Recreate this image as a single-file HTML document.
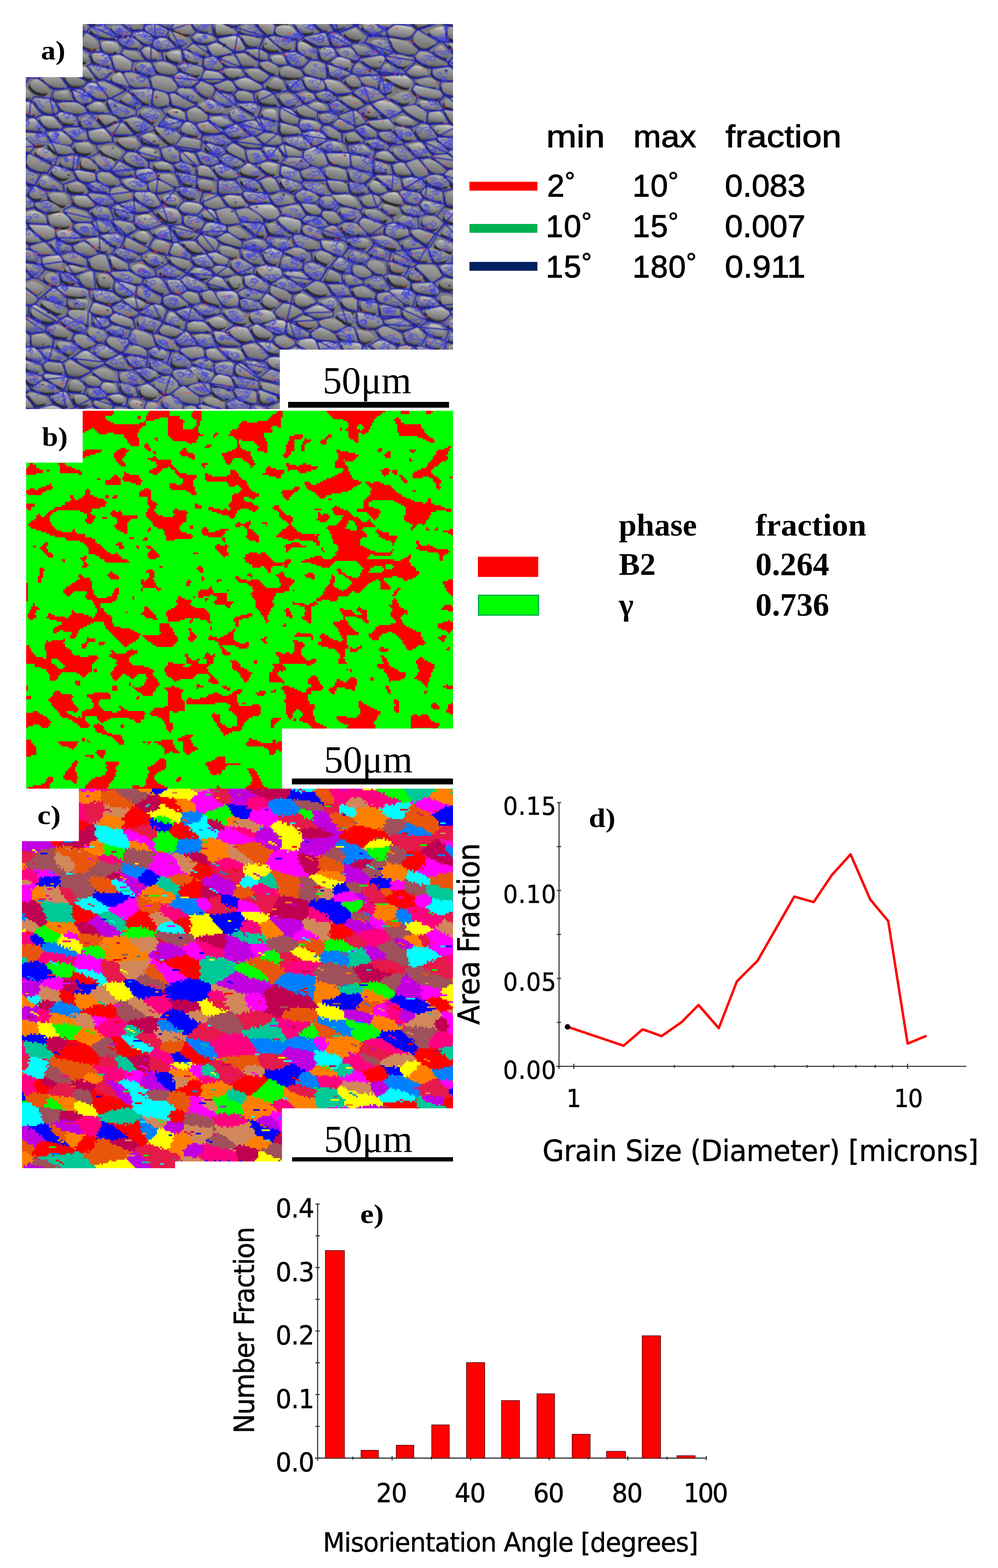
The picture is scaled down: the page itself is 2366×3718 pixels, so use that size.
<!DOCTYPE html>
<html lang="en"><head><meta charset="utf-8"><title>Figure</title><style>html,body{margin:0;padding:0;background:#fff}svg{display:block}</style></head><body>
<svg width="2366" height="3718" viewBox="0 0 2366 3718">
<rect width="2366" height="3718" fill="#fff"/>
<defs><linearGradient id="ga" x1="0.6" y1="0" x2="0.4" y2="1"><stop offset="0" stop-color="#d4d4d4"/><stop offset="0.3" stop-color="#a2a2a2"/><stop offset="0.75" stop-color="#808080"/><stop offset="1" stop-color="#565656"/></linearGradient><linearGradient id="ga2" x1="0.6" y1="0" x2="0.4" y2="1"><stop offset="0" stop-color="#b8b8b8"/><stop offset="0.35" stop-color="#919191"/><stop offset="0.8" stop-color="#757575"/><stop offset="1" stop-color="#4d4d4d"/></linearGradient><linearGradient id="ga3" x1="0.6" y1="0" x2="0.4" y2="1"><stop offset="0" stop-color="#a5a5a5"/><stop offset="0.5" stop-color="#8d8d8d"/><stop offset="1" stop-color="#6d6d6d"/></linearGradient></defs>
<clipPath id="clipa"><rect x="61" y="57" width="1013" height="913"/></clipPath><filter id="bla" x="-2%" y="-2%" width="104%" height="104%"><feGaussianBlur stdDeviation="1.1"/></filter><g clip-path="url(#clipa)"><g filter="url(#bla)"><rect x="41" y="37" width="1053" height="953" fill="#78787e"/><defs><g id="aga"><path d="M623 866q-6-7-19-9q-13-2-18 1q-5 4 9 16q15 13 25 6q9-7 3-14z"/><path d="M507 897q8-11 24-8q15 4 20 16q6 12 2 16q-3 3-26-3q-24-6-26-8q-3-2 6-13z"/><path d="M638 863q-7-8-1-12q6-4 22-4q17 1 22 4q6 4 5 13q-1 10-10 12q-9 2-20-1q-11-4-18-12z"/><path d="M734 926q-2-10-27-13q-25-3-27-2q-2 1 1 15q4 13 18 16q15 2 25-2q11-4 10-14z"/><path d="M695 1001q-6-6-21-7q-15 0-17 4q-2 5 5 13q7 9 20 11q14 1 16-7q3-8-3-14z"/><path d="M506 883q-2-1-26-8q-23-6-27-3q-4 3 10 17q13 14 21 16q8 2 16-9q8-11 6-13z"/><path d="M575 851q-5 4-10 4q-6 0-11-2q-6-2-17-14q-12-12-12-12q0 0 22 0q22 0 28 10q6 10 0 14z"/><path d="M592 877q17 15 17 17q1 2-1 3q-1 2-27-3q-25-5-22-18q3-13 9-13q6 0 24 14z"/><path d="M544 979q1-1 19 3q19 4 24 9q5 6 3 9q-3 4-14 5q-11 0-22-8q-11-8-11-13q0-5 1-5z"/><path d="M544 1021q15 2 18-6q2-8-13-19q-15-10-30-6q-16 4-3 17q12 12 28 14z"/><path d="M789 909q-1-15 23-10q25 5 27 7q2 2 0 16q-3 14-19 13q-17-1-24-6q-7-5-7-20z"/><path d="M509 787q2-2 13-1q11 1 30 15q19 14 19 16q-1 2-28 2q-26-1-31-15q-5-15-3-17z"/><path d="M501 770q7 8 16 9q9 1 18-5q10-5-2-15q-11-10-25-6q-15 5-15 7q0 1 8 10z"/><path d="M845 972q-11 6-30-6q-19-12-15-21q4-9 20-8q16 1 22 5q6 3 10 13q4 10-7 17z"/><path d="M340 914q-10 3-7 13q2 9 9 12q7 4 16 4q9 1 16-6q6-6-8-16q-14-9-15-9q-1-1-11 2z"/><path d="M629 813q13 1 24 8q11 7 12 13q1 5-13 4q-13 0-25-12q-11-12-11-13q0 0 13 0z"/><path d="M358 836q-1-7 6-9q8-3 21 2q13 5 9 15q-3 10-19 5q-17-5-17-13z"/><path d="M501 785q2-2-7-12q-10-10-28-11q-17 0-20 10q-2 11-2 12q1 0 5 2q4 1 27 1q23 0 25-2z"/><path d="M595 790q-8-14-22-16q-13-2-24 4q-12 7 7 21q19 14 33 10q15-4 15-4q0 0-9-15z"/><path d="M624 956q-8-3-8-16q-1-13 1-14q2-1 26 8q23 9 6 17q-17 8-25 5z"/><path d="M731 791q2 5-15 8q-16 3-27-4q-11-6-8-18q2-12 4-12q3 0 24 11q21 11 22 15z"/><path d="M851 996q-15-11-25-6q-11 5 1 15q11 11 17 12q5 1 13-2q7-2 8-5q1-3-14-14z"/><path d="M610 770q3 0 20 9q18 10 14 17q-5 7-19 6q-15 0-23-13q-7-12-1-16q6-4 9-3z"/><path d="M518 709q12 18 28 18q15 0 18-12q2-11-2-16q-4-5-8-7q-5-2-26-2q-21 1-10 19z"/><path d="M870 943q-17 0-22-3q-6-3-4-16q2-12 19-9q17 4 24 11q8 8 4 13q-4 4-21 4z"/><path d="M607 768q3 0 27-6q24-7 18-14q-6-8-16-11q-9-3-29 1q-19 5-12 17q8 12 12 13z"/><path d="M432 768q-2 9-21 2q-19-7-19-8q-1 0 4-11q5-11 10-10q5 1 17 10q12 8 9 17z"/><path d="M243 820q4 0 20 9q15 9 0 17q-14 8-29-3q-15-10-6-17q10-7 15-6z"/><path d="M259 908q14 2 16 12q2 11-10 12q-12 2-20-5q-8-7-3-14q4-7 17-5z"/><path d="M906 954q-9-9-5-15q4-5 26-3q21 2 26 14q5 11-16 12q-21 1-31-8z"/><path d="M308 957q-2 7 5 11q6 4 13 4q7 1 10-8q3-9-3-12q-7-3-15-3q-9 0-10 8z"/><path d="M775 811q24 2 28 14q3 11 2 12q-2 1-23-1q-22-2-26-15q-5-12 19-10z"/><path d="M801 992q-4-1-18 6q-14 7-13 10q0 3 20 11q21 9 32 5q11-4-3-18q-15-13-18-14z"/><path d="M310 725q16 12 29 4q13-8-4-16q-17-8-29-6q-11 2-11 5q0 2 15 13z"/><path d="M498 851q-9-5-9-14q-1-9 11-10q11-2 24 12q13 13-2 15q-15 2-24-3z"/><path d="M587 651q-11 2-8 15q3 13 25 19q23 6 23 6q1 0 5-9q5-10-15-21q-19-12-30-10z"/><path d="M228 846q18 12 19 14q0 3-15 9q-16 7-37-6q-22-12-9-22q13-9 19-9q5 1 23 14z"/><path d="M264 733q-4-6-23-12q-19-6-24 5q-5 10-1 14q4 3 21 7q17 5 24-2q7-7 3-12z"/><path d="M678 778q3-13-6-17q-9-4-32 2q-24 7-3 18q21 11 29 11q9-1 12-14z"/><path d="M624 720q6 7 14 10q8 3 18-6q9-8-7-18q-16-9-16-9q0 0-7 8q-7 9-2 15z"/><path d="M441 786q-4-2-16 8q-11 9-4 18q6 9 26 7q19-2 9-17q-10-14-15-16z"/><path d="M854 816q4 2 1 15q-4 13-21 8q-18-5-21-16q-4-11-3-11q0-1 20 0q20 1 24 4z"/><path d="M663 636q4 2 6 9q2 6-11 15q-13 9-14 9q0 0-18-11q-17-11-16-18q2-7 13-9q12-2 24 0q13 3 16 5z"/><path d="M481 631q16 4 21-1q6-5-3-17q-9-11-23-9q-14 2-17 6q-3 4 2 11q4 7 20 10z"/><path d="M725 654q12 9 2 16q-11 7-29-4q-18-11-20-17q-2-6 17-5q18 0 30 10z"/><path d="M771 753q18-3 18-8q0-5-18-15q-17-10-32-1q-16 8-15 11q2 3 16 10q14 7 31 3z"/><path d="M292 747q20 8 22 18q3 9-1 10q-3 2-24-4q-21-7-26-12q-4-6 3-12q6-7 26 0z"/><path d="M272 716q11-6 11-9q-1-2-10-7q-9-6-24-8q-15-3-21-1q-6 1-5 8q0 6 3 10q4 3 20 8q15 5 26-1z"/><path d="M436 590q17 15 14 20q-3 4-28-1q-24-5-19-19q6-13 12-14q5-1 21 14z"/><path d="M415 567q0 0-8-13q-9-13-14-15q-5-1-18 4q-12 5-7 12q5 6 21 10q16 5 21 4q4-1 5-2z"/><path d="M848 875q8-2 8-11q0-10-3-12q-2-2-21-7q-19-5-20-5q-1 1-2 13q0 11 15 18q15 7 23 4z"/><path d="M496 557q15 5 28-2q12-7 12-13q-1-6-8-9q-7-4-22-5q-15-1-22 10q-6 11-5 13q2 1 17 6z"/><path d="M710 697q8-3 20 6q13 8 14 11q1 3-13 10q-13 7-24 1q-10-6-8-16q2-9 11-12z"/><path d="M374 501q0 0 8-5q9-5 22-2q13 3 18 7q5 4 4 13q-1 10-12 11q-11 2-16 0q-5-1-15-12q-10-11-9-12z"/><path d="M826 978q0 0-11 5q-12 5-15 5q-3-1-13-9q-10-7-9-13q0-6 8-7q8-2 24 8q16 11 16 11z"/><path d="M436 691q-10 6-19 5q-9-2-17-19q-8-17 9-16q18 1 27 12q10 11 0 18z"/><path d="M890 812q-13 7-1 15q13 8 29 8q16 0 18-7q2-8-16-16q-17-7-30 0z"/><path d="M282 697q11 7 24 4q14-3 17-13q2-10-22-16q-24-7-27 5q-4 13 8 20z"/><path d="M323 554q11-7 17-6q7 2 12 9q5 6 0 14q-5 9-22-1q-18-9-7-16z"/><path d="M526 628q13 1 16-7q3-8-12-16q-16-7-25-6q-10 1-11 2q-1 1 9 13q9 12 23 14z"/><path d="M331 979q-9-1-15 9q-5 10 5 15q11 5 27 2q15-4 13-9q-2-6-12-11q-9-6-18-6z"/><path d="M1011 971q17-8 17-9q0 0-6-6q-6-6-34-14q-27-7-29-7q-2 0-4 2q-2 2 3 14q5 12 13 18q8 6 15 8q8 3 25-6z"/><path d="M101 854q5-3-5-15q-11-12-16-14q-5-1-13 0q-9 0-11 10q-2 10 19 17q20 6 26 2z"/><path d="M161 891q-2-1-26-4q-24-3-27 0q-4 3-2 7q2 4 23 16q21 12 22 12q2 1 7-15q4-15 3-16z"/><path d="M469 656q17 8 26 1q8-7 3-12q-4-5-18-8q-14-3-21 3q-7 6-7 7q0 1 17 9z"/><path d="M457 687q11 3 21 0q11-3 7-9q-4-6-23-15q-18-9-26-3q-7 5 2 14q8 10 19 13z"/><path d="M496 676q-4-6 6-14q9-8 17-6q7 2 16 15q10 13-9 13q-19 0-22-1q-4-1-8-7z"/><path d="M868 777q-18-4-20-20q-1-16 0-16q1 0 25 5q23 5 27 8q3 2 5 8q1 6-9 12q-10 6-28 3z"/><path d="M807 849q1-13-22-15q-23-2-27 2q-5 4-5 5q0 2 18 12q17 10 27 9q9-1 9-13z"/><path d="M209 696q0-8-6-11q-6-3-32-6q-26-3-32 0q-6 2 8 14q14 12 38 11q25 0 24-8z"/><path d="M991 909q8 1 13-8q5-9 4-10q-1-1-9-5q-8-3-23 1q-14 4-3 13q11 8 18 9z"/><path d="M664 614q-5 15-18 12q-13-3-19-16q-6-12 5-18q10-6 23-1q12 6 13 7q1 1-4 16z"/><path d="M236 973q17 8 19 12q2 4-15 8q-17 4-31-8q-14-12-2-16q12-3 29 4z"/><path d="M149 930q-1-1-14 4q-12 5-8 13q4 7 16 12q11 5 19 3q7-2 1-15q-6-14-9-16q-4-1-5-1z"/><path d="M361 647q-2-5-14-14q-11-9-23-6q-12 3-12 9q1 7 14 14q13 8 25 5q12-2 10-8z"/><path d="M548 490q6 2 20 0q14-3 15-5q1-2-6-12q-7-10-29-10q-23 0-14 12q8 12 14 15z"/><path d="M94 977q-7-8 12-13q19-4 34 2q15 6 15 16q1 10-2 11q-3 1-28-3q-25-5-31-13z"/><path d="M94 881q3-2 0-10q-3-7-22-13q-20-6-22-5q-3 1 5 12q8 12 22 15q15 4 17 1z"/><path d="M122 763q12-4 13-7q2-4-23-19q-25-14-31-13q-5 2-7 12q-2 10 17 20q18 10 31 7z"/><path d="M1053 792q-3 10-20 5q-16-5-23-12q-8-8 1-13q8-5 20-3q13 2 19 8q7 5 3 15z"/><path d="M24 845q-13-1-22-10q-8-9 6-15q13-6 16-6q3 1 12 6q10 5 8 14q-2 9-4 10q-3 2-16 1z"/><path d="M1130 906q-20-8-26-8q-7 1-10 6q-3 6 15 17q18 12 21 13q3 0 13-7q10-7 8-10q-1-3-21-11z"/><path d="M474 501q9-9 4-13q-6-5-23-8q-17-2-25 6q-8 9-1 14q6 6 22 8q15 2 23-7z"/><path d="M743 805q-5-3-22 0q-17 3-16 8q1 5 22 16q21 11 25 7q5-4 1-16q-5-12-10-15z"/><path d="M272 936q-11 1-12 4q0 3 7 9q7 7 16 7q10 1 12-6q1-8-6-11q-7-4-17-3z"/><path d="M423 483q5-6-2-15q-8-9-24-6q-15 4-10 13q5 8 18 11q12 3 18-3z"/><path d="M1064 807q1 1 18 5q18 4 23-6q5-9 4-11q-1-1-20-4q-18-4-22 6q-3 9-3 10z"/><path d="M252 773q7-5 4-10q-4-4-18-8q-13-3-14 7q0 9 10 13q11 3 18-2z"/><path d="M649 489q6 5 10 13q4 9-3 14q-7 6-16 7q-9 0-30-15q-21-15-20-17q1-3 26-5q26-2 33 3z"/><path d="M281 558q8 4 3 14q-4 10-9 11q-5 0-19-11q-14-11-13-13q1-1 16-3q15-2 22 2z"/><path d="M975 693q6 5 2 17q-3 13-10 12q-6 0-24-15q-19-15-16-18q2-3 22-2q19 2 26 6z"/><path d="M201 638q-2-2-22-7q-20-5-23 3q-4 8 8 12q12 4 25-1q14-6 12-7z"/><path d="M160 999q2-1 18 6q16 6 12 14q-4 7-18 6q-14 0-16-2q-2-1 0-12q2-11 4-12z"/><path d="M264 608q-4 0 1 16q6 16 22 15q16-1 15-7q0-7-17-16q-16-9-21-8z"/><path d="M796 637q-11-5-2-15q9-10 11-10q3 0 12 6q10 6 8 15q-2 8-10 9q-7 0-19-5z"/><path d="M1004 881q-9-4-15-11q-6-7 4-13q10-5 28 1q19 7 19 8q0 0-14 10q-13 9-22 5z"/><path d="M636 468q5 10-20 12q-25 2-33-9q-8-12-7-16q2-3 27-1q26 3 27 3q1 1 6 11z"/><path d="M1062 996q-1-7 13-8q14-1 23 10q10 12-5 12q-14 1-23-3q-8-4-8-11z"/><path d="M340 482q20 13 31 7q11-7 4-19q-8-12-14-15q-6-3-24-3q-17 1-18 9q0 9 21 21z"/><path d="M1032 714q-5-8-22-10q-17-3-20 7q-3 11 4 14q6 3 25 0q18-4 13-11z"/><path d="M1094 761q19 9 18 18q-1 9-20 5q-19-4-26-9q-6-6 1-14q8-9 27 0z"/><path d="M275 502q3 10 19 13q16 2 18-5q1-7-14-16q-15-9-21-5q-6 4-2 13z"/><path d="M31 891q16 3 29 17q12 14 12 16q0 1-7 4q-7 3-35-11q-27-14-28-17q-2-3 5-7q7-5 24-2z"/><path d="M515 392q11-4 29 4q17 7 19 13q2 6-1 10q-4 4-21 4q-17-1-27-14q-10-14 1-17z"/><path d="M1023 954q-5-5-4-13q1-9 16-8q14 2 20 10q7 7-10 12q-17 4-22-1z"/><path d="M1056 730q9 5 10 9q2 3-7 13q-9 10-24 8q-14-3-23-15q-9-12 13-16q22-4 31 1z"/><path d="M711 540q-4 11-11 12q-7 1-26-14q-18-15-12-21q7-5 27 0q21 5 23 8q3 4-1 15z"/><path d="M11 656q-10-1-10 10q0 11 7 15q8 5 22-2q14-6 14-9q-1-3-13-8q-11-6-20-6z"/><path d="M241 596q-6-1-21-13q-14-13-14-15q0-1 14-3q14-2 28 9q14 12 11 17q-4 5-8 6q-4 0-10-1z"/><path d="M1090 734q16-5 29 7q13 13 12 14q-1 1-9 3q-8 3-26-6q-19-8-20-11q-1-3 14-7z"/><path d="M1035 678q8 10 3 16q-6 7-27 3q-21-3-28-8q-6-5-5-13q2-7 23-8q22 0 24 0q2 1 10 10z"/><path d="M325 534q-6-6-4-14q1-8 19-11q17-2 27 10q11 13-4 19q-15 6-23 4q-8-3-15-8z"/><path d="M61 816q-9 1-19-5q-11-5-9-17q1-12 7-12q5 0 16 4q11 5 12 17q1 12-7 13z"/><path d="M35 937q18-5 19-6q0-2-27-15q-27-14-36-3q-10 11-1 19q8 7 17 9q9 2 28-4z"/><path d="M192 566q0-3-12-12q-13-9-29-8q-16 0-16 9q0 8 16 16q16 7 29 2q12-5 12-7z"/><path d="M293 433q2 6 14 13q12 6 28 6q16 0 13-8q-3-8-15-15q-12-7-27-5q-15 2-13 9z"/><path d="M7 854q-1 2 3 16q4 14 20 17q16 3 23-1q7-4-2-18q-9-13-26-14q-17-1-18 0z"/><path d="M93 530q-23-1-22 4q1 6 18 20q18 15 20 15q2 1 13-4q12-4 11-14q0-10-9-15q-9-5-31-6z"/><path d="M444 361q-15-3-15 9q1 12 17 17q16 5 21 3q6-2-1-14q-6-12-22-15z"/><path d="M794 731q-7 3-20-5q-13-7-14-10q-1-4 13-6q14-3 16-2q3 1 8 11q4 10-3 12z"/><path d="M54 549q13-8 30 6q18 15 2 19q-17 5-31-6q-14-10-1-19z"/><path d="M138 605q1 1 7 8q6 7 1 17q-5 11-6 11q-1 0-15-3q-14-3-19-7q-5-4-5-13q-1-9 17-11q19-2 20-2z"/><path d="M499 497q-9-2-16 5q-6 7 2 13q7 5 20 6q12 1 7-10q-5-11-13-14z"/><path d="M764 572q-1 1 0 10q2 8 18 15q17 7 19 7q3 1 10-8q7-9 4-15q-4-6-27-8q-22-2-24-1z"/><path d="M923 529q9-3 26 5q17 7 19 15q1 7-13 13q-14 7-30-1q-15-8-13-19q2-11 11-13z"/><path d="M710 438q-1-4-20-10q-18-5-22-4q-4 1 1 12q6 11 16 15q10 3 19-3q8-5 6-10z"/><path d="M115 519q0-10 17-13q17-3 28 8q11 11 9 18q-3 6-20 7q-17 0-25-5q-8-4-9-15z"/><path d="M338 401q15-2 22 2q7 5 9 12q2 7-9 13q-12 5-26-3q-13-8-12-15q1-8 16-9z"/><path d="M614 416q9-4-3-15q-12-11-17-12q-6-2-7-1q0 0-9 7q-9 7-7 12q2 5 18 9q17 4 25 0z"/><path d="M366 391q1 6 6 9q5 3 21 3q15 0 16 0q0-1-2-7q-1-6-9-9q-7-4-20-2q-13 1-12 6z"/><path d="M64 525q-6-4-6-13q0-9 13-11q13-3 25 4q12 7 13 16q1 10-19 9q-20-1-26-5z"/><path d="M713 429q-2 2-26-5q-23-7-22-20q1-14 21-6q21 7 25 18q4 11 2 13z"/><path d="M63 968q20-1 7-17q-13-16-32-10q-20 6-7 17q13 12 32 10z"/><path d="M714 480q0 0 18 2q18 2 25 8q8 7 5 13q-3 7-17 6q-15-2-23-15q-8-14-8-14z"/><path d="M55 530q-7-4-27-5q-20-1-19 11q0 11 3 13q4 3 16 6q13 2 23-5q11-7 10-12q0-4-6-8z"/><path d="M642 413q6 1 10 0q4-2 5-12q1-10 1-11q0 0-11-3q-10-3-23 0q-12 3-1 14q12 10 19 12z"/><path d="M810 462q-19 1-20 2q-1 2 8 11q10 10 29 14q19 5 22 2q3-2-3-13q-5-10-12-13q-6-3-24-3z"/><path d="M64 998q21 10 22 12q0 1-5 8q-5 7-9 7q-5 0-25-9q-20-9-17-18q3-9 8-10q5 0 26 10z"/><path d="M23 773q6 3 13 3q6 0 11-14q4-13-11-17q-16-5-25-1q-8 3-1 15q7 12 13 14z"/><path d="M1077 589q2-8-17-16q-19-9-26 2q-6 10 15 17q21 6 24 5q3-1 4-8z"/><path d="M475 394q5-2 13 0q8 2 17 15q10 13 9 13q-2 1-22-3q-20-3-22-4q-1-2 0-11q0-9 5-10z"/><path d="M143 301q-2 2-16 4q-15 1-25-11q-11-13-4-16q7-4 18-2q10 1 19 11q9 11 8 14z"/><path d="M338 370q12 9 26 7q15-1 11-12q-4-10-20-13q-16-4-22 3q-6 6 5 15z"/><path d="M757 356q10 6 16 20q5 14-6 18q-10 4-19 2q-9-3-20-12q-10-10-9-18q2-8 13-13q11-4 13-4q1 1 12 7z"/><path d="M1057 505q-7 9-1 15q7 6 22 9q14 3 20-2q6-4-5-15q-10-11-19-13q-10-2-17 6z"/><path d="M175 474q1 11 17 16q16 5 25-1q10-6-1-16q-10-10-27-10q-16 0-14 11z"/><path d="M375 326q-14-13-28-8q-14 5-10 13q5 7 20 10q14 3 22 1q9-3-4-16z"/><path d="M228 419q0 9-12 12q-11 2-21-2q-9-5-13-14q-5-9 0-11q5-1 25 3q20 4 21 12z"/><path d="M830 378q2 15-4 17q-5 2-24-3q-19-4-24-18q-6-13 22-13q28 1 28 1q1 1 2 16z"/><path d="M642 350q-13-2-15 2q-2 3 4 13q7 10 18 13q11 4 16-3q6-6-2-15q-8-9-21-10z"/><path d="M1005 496q-9-8-4-15q5-7 25-1q19 6 20 7q1 1-7 11q-8 10-17 8q-8-2-17-10z"/><path d="M1069 655q14 4 19-6q5-9-7-16q-13-7-27-5q-14 2-7 12q7 10 22 15z"/><path d="M857 365q-19-4-19-5q-1 0-3-6q-1-7 12-9q14-2 24 5q10 8 8 14q-2 5-22 1z"/><path d="M766 352q8 5 29 6q22 0 20-7q-2-6-6-9q-5-3-16-6q-12-2-24 5q-11 6-3 11z"/><path d="M100 443q-11-5-5-15q6-11 11-11q5-1 19 9q15 10 16 16q1 6-15 6q-16 0-26-5z"/><path d="M246 337q17-2 16-9q0-7-8-15q-9-7-10-8q-1 0-18 3q-17 2-15 13q3 10 10 14q7 4 25 2z"/><path d="M988 423q-7-3-21-1q-14 2-11 13q2 11 18 14q16 3 23-4q7-6 2-13q-4-7-11-9z"/><path d="M908 470q3 6 21 11q17 6 23 2q6-5-2-16q-8-10-13-11q-6-1-19 3q-13 5-10 11z"/><path d="M158 423q-12 4-25-6q-14-9-9-16q5-6 7-7q2 0 17 5q15 5 18 12q4 7-8 12z"/><path d="M2 418q13 7 21 4q8-3 3-13q-5-10-8-11q-4-2-19 1q-15 4-13 8q2 4 16 11z"/><path d="M145 341q22 5 25 0q4-6-9-18q-12-12-28-10q-16 1-18 3q-2 2 4 11q5 9 26 14z"/><path d="M881 432q-9 9-2 16q7 8 13 10q7 3 19-2q12-4-5-18q-17-15-25-6z"/><path d="M179 284q-1-10-18-15q-16-4-21 0q-6 5 3 15q9 11 24 10q14 0 12-10z"/><path d="M128 376q2-7-8-16q-11-9-20-9q-9 0-14 6q-4 6 16 17q19 10 21 10q2 0 5-8z"/><path d="M993 917q8 1 13 5q6 4 5 13q-1 9-23 3q-21-6-12-14q9-8 17-7z"/><path d="M419 279q15 5 18 5q3 0 1-10q-2-10-13-14q-12-4-21 0q-9 3-5 8q4 6 20 11z"/><path d="M1176 563q8-6-9-20q-17-15-31-15q-15 0-22 6q-7 6-1 14q6 8 30 14q25 6 33 1z"/><path d="M284 172q-6-1-16 8q-10 10 11 19q20 10 21 10q1 0 4-2q3-2-5-18q-9-15-15-17z"/><path d="M889 394q-1 13 1 14q1 1 18 1q16 0 14-9q-1-9-17-14q-15-5-16 8z"/><path d="M39 359q20 6 18 20q-3 14-17 15q-13 0-17-2q-4-1-13-13q-8-12 1-19q8-7 28-1z"/><path d="M203 205q-7 7 10 19q17 12 27 12q11 1 14-1q3-1-11-20q-15-18-24-18q-9 0-16 8z"/><path d="M472 304q-9-13 6-16q16-3 33 7q17 10 18 14q0 5-23 7q-24 1-34-12z"/><path d="M44 355q22 6 25 6q4 0 10-8q6-8-10-21q-15-13-34-4q-19 10-15 15q3 5 24 12z"/><path d="M696 326q21-2 33 10q12 11 2 15q-10 4-31-4q-21-8-22-14q-2-5 18-7z"/><path d="M567 323q17-4 4-15q-13-12-13-12q0 0-12 6q-12 6-11 10q0 3 8 10q8 6 24 1z"/><path d="M73 274q-6-1-19-9q-13-9-11-15q2-6 15-8q13-2 24 12q11 13 3 17q-7 3-12 3z"/><path d="M930 369q12 11 3 13q-8 3-25-3q-16-5-16-5q-1 0 2-7q2-6 13-8q11-1 23 10z"/><path d="M712 312q0-4-4-8q-4-4-23-9q-18-4-18-4q0 0-2 11q-1 12 3 15q4 3 24 1q19-2 20-6z"/><path d="M214 264q2 1 21 2q20 0 14-12q-6-12-14-12q-8-1-18 5q-10 6-7 11q2 5 4 6z"/><path d="M182 214q-11 1-6 13q6 12 14 17q9 5 21-2q11-7-4-18q-15-10-25-10z"/><path d="M685 292q21 6 24-4q2-10-8-20q-9-9-21-12q-11-3-13-2q-1 0-2 17q-2 16 20 21z"/><path d="M655 285q0 0-18-4q-18-5-15-14q3-9 19-8q15 0 15 13q-1 13-1 13z"/><path d="M431 312q-4-4 2-13q7-9 10-10q3 0 9 2q6 3 14 13q8 11 6 15q-2 5-19 1q-17-3-22-8z"/><path d="M263 146q5 15-19 9q-23-6-24-17q-2-12 11-12q12 0 19 3q8 3 13 17z"/><path d="M184 141q6 5 13 6q6 1 9-1q4-1 3-11q-1-9-12-14q-12-5-14-5q-2 0-4 10q-2 10 5 15z"/><path d="M596 281q-1 1-17 5q-17 3-17 3q0 0-9-7q-9-8-8-15q0-7 7-9q8-1 26 10q19 12 18 13z"/><path d="M764 339q-14 8-16 7q-1 0-14-12q-13-13-12-17q0-5 19-5q19 0 28 9q9 9-5 18z"/><path d="M275 166q0 0-6-17q-6-16 6-18q12-1 27 8q15 9 13 20q-1 10-13 11q-12 1-20-1q-7-3-7-3z"/><path d="M713 305q4 4 23 4q18 0 22-6q4-6-3-10q-6-5-24-8q-18-2-20 7q-2 9 2 13z"/><path d="M187 165q7-7 13-6q6 1 15 13q10 12 8 13q-1 1-8 2q-7 0-21-8q-14-8-7-14z"/><path d="M499 282q0 6 13 14q14 8 26 2q12-6 3-14q-8-7-25-7q-16 0-17 5z"/><path d="M480 243q-9 6-9 6q0 1 12 10q12 10 30 10q19 0 19-8q1-8-16-16q-17-8-22-8q-5 0-14 6z"/><path d="M54 302q1 4 2 5q1 1 25 3q24 2 25 0q2-2-10-15q-11-13-17-14q-6-1-16 8q-11 9-9 13z"/><path d="M488 346q-1 7 14 14q14 6 22 2q7-4 6-8q-2-5-21-11q-20-5-21 3z"/><path d="M604 270q2-1 5-9q3-8-3-12q-6-3-20-4q-14 0-16 2q-1 3 16 13q17 10 18 10z"/><path d="M978 358q11 13 13 14q2 0 14-1q12-2 13-4q2-2-8-14q-10-13-14-14q-4-1-16 2q-13 2-13 3q-1 2 11 14z"/><path d="M955 383q-5-1-15 2q-10 3-7 14q2 11 10 15q8 3 23 1q15-1 4-16q-10-15-15-16z"/><path d="M268 126q-10 1-18-2q-7-3-10-15q-3-12 15-11q19 1 24 8q6 8 3 13q-3 6-14 7z"/><path d="M922 280q1 1 7 7q5 6 3 13q-3 7-19 8q-15 0-28-8q-14-9-13-12q0-3 25-5q25-3 25-3z"/><path d="M761 245q-11-4-21 1q-11 4 0 11q12 7 24 7q13-1 10-7q-2-7-13-12z"/><path d="M401 303q-18-5-10-15q8-10 25-5q17 6 10 15q-7 9-25 5z"/><path d="M919 281q0 0 15-8q16-8 14-13q-1-6-18-15q-17-10-35-4q-17 6 3 23q20 17 21 17z"/><path d="M1032 310q-9-12 12-13q21-1 28 2q7 4 9 14q2 11 2 11q-1 1-21-1q-21-1-30-13z"/><path d="M693 215q5 2 17-1q12-3 7-14q-4-10-20-10q-17 0-13 12q4 12 9 13z"/><path d="M786 219q10 5 28 4q17-2 17-4q0-2-13-13q-13-12-28-15q-15-3-20-1q-4 2 1 13q5 10 15 16z"/><path d="M760 214q-13 3-22-1q-9-3-14-14q-5-11-1-15q4-3 23 2q19 4 23 14q5 10-9 14z"/><path d="M602 192q17 9 19 13q2 5-9 8q-10 4-27 0q-17-3-24-11q-8-9 8-14q15-6 33 4z"/><path d="M57 235q-13 2-31-10q-18-12-18-13q-1-1 10-6q11-5 24-4q13 1 24 12q11 11 8 15q-3 3-17 6z"/><path d="M138 162q-12-9-24-8q-12 1-8 12q4 11 19 13q16 2 20-3q5-4-7-14z"/><path d="M1099 381q13 0 22 5q10 5 11 12q0 6-13 8q-14 2-25-3q-12-6-10-14q2-8 15-8z"/><path d="M527 179q7 8-8 14q-15 6-27 1q-12-6-13-7q-1-1 4-12q5-11 20-7q16 3 24 11z"/><path d="M417 177q8-6 31 3q23 8 24 9q1 1-9 9q-9 9-23 7q-15-1-22-11q-8-11-1-17z"/><path d="M150 70q4-5 4-5q0 0 20 6q19 6 11 18q-8 12-10 12q-2 0-4-1q-3 0-14-12q-12-12-7-18z"/><path d="M63 113q-2-2-25-8q-23-6-23 9q-1 14 17 19q19 4 25 3q7-2 7-12q1-9-1-11z"/><path d="M497 122q8 12 11 13q3 1 24-3q22-5 22-6q0 0-19-13q-19-14-32-8q-14 5-6 17z"/><path d="M938 289q-4-4 8-11q11-6 26 3q15 10 7 14q-8 5-22 2q-14-3-19-8z"/><path d="M84 90q14 0 22 9q8 8 5 12q-2 3-19 2q-18-1-20-2q-2-2-2-12q0-10 14-9z"/><path d="M539 110q19 14 30 12q10-1 13-4q3-3-7-20q-9-16-33-11q-23 4-23 7q1 3 20 16z"/><path d="M206 67q4-6-9-18q-14-13-31-13q-16 0-17 11q-1 11 24 18q25 8 27 8q1 0 6-6z"/><path d="M425 121q3 1 4 12q1 10-4 13q-6 2-16-2q-11-5-13-12q-3-8 11-10q14-2 18-1z"/><path d="M1015 290q-3-1-1-13q1-12 16-14q15-1 23 13q7 13-15 14q-21 1-23 0z"/><path d="M794 183q13 3 23-4q10-6 9-8q-1-2-23-10q-22-8-23-8q-1 0 0 14q1 14 14 16z"/><path d="M400 117q19-3 6-15q-12-12-24-12q-13 1-17 10q-5 9 6 14q11 6 29 3z"/><path d="M786 115q3 1 7 8q4 7-6 14q-11 8-12 8q-1 0-8-3q-7-3-8-16q-1-13 12-13q12 1 15 2z"/><path d="M57 78q-5-3-27-3q-22 0-22 7q-1 7 2 9q3 3 28 9q25 7 25-5q0-13-6-17z"/><path d="M744 124q-1-12-14-19q-13-7-18-5q-5 2-6 11q-1 10 11 17q13 7 20 8q7 0 7-12z"/><path d="M187 14q6 4 2 13q-4 8-21 8q-18 0-27-9q-10-8 8-14q18-6 25-5q8 2 13 7z"/><path d="M995 242q-3 7 8 13q11 7 23 5q12-1 13-2q1-1-3-7q-4-7-21-11q-18-4-20 2z"/><path d="M239 26q7-2 23 5q17 8 15 13q-1 6-16 8q-15 2-16 2q0 0-7-13q-6-12 1-15z"/><path d="M58 52q-12 1-23-3q-12-5-10-17q2-12 26-7q24 5 26 9q1 4-3 10q-3 6-16 8z"/><path d="M831 155q6-11-12-17q-18-5-30 3q-11 8 13 17q24 9 29-3z"/><path d="M376 130q-3-8-12-13q-8-4-14-5q-5 0-10 5q-5 4 2 13q7 9 10 11q4 1 15-1q11-2 9-10z"/><path d="M1144 344q8 6 8 9q0 3-20 4q-21 1-28-3q-7-3-10-13q-4-10-4-11q1 0 23 4q22 4 31 10z"/><path d="M248 12q-1-7 20-10q21-2 30 14q8 16 8 17q-1 1-9 2q-8 2-28-7q-20-10-21-16z"/><path d="M635 90q0 0-2 0q-2 1-7 11q-4 10 5 15q9 5 22 4q14-1 14-2q1-1-15-14q-16-14-17-14z"/><path d="M980 205q-4 5 3 13q6 8 30 14q24 5 31-2q7-7 1-13q-6-6-34-12q-28-5-31 0z"/><path d="M463 83q-6 6-3 10q3 5 15 8q12 3 23-1q11-5 10-7q-1-2-4-5q-4-3-19-6q-16-4-22 1z"/><path d="M743 64q12 9-7 14q-19 4-27-6q-8-11-7-15q1-5 15-4q14 1 26 11z"/><path d="M934 196q-21-12-21-13q-1-2 24-3q24-1 30 3q6 5 8 11q2 5-1 10q-3 5-11 4q-9-1-29-12z"/><path d="M653 71q-3 10 22 16q25 5 31 3q5-3 5-4q0-1-10-13q-10-13-27-13q-18 0-21 11z"/><path d="M667 347q5-4 26 3q21 8 20 16q-2 7-18 6q-17-1-25-11q-9-10-3-14z"/><path d="M455 47q-5 4-20 3q-15-1-26-13q-11-12-8-16q4-5 4-5q0 0 21 5q21 4 28 13q6 8 1 13z"/><path d="M676 141q-5-11-19-10q-14 0-14 7q0 7 9 12q9 5 19 3q10-1 5-12z"/><path d="M438 131q-1-11 1-11q2 0 19 8q17 7 16 15q-1 8-18 4q-17-4-18-16z"/><path d="M967 173q1 2 7 6q6 5 23 2q17-3 16-9q0-6-13-13q-14-7-24 2q-10 10-9 12z"/><path d="M1066 360q0-2 13-5q12-2 19 1q6 4 7 12q1 8-11 8q-12 1-20-6q-9-7-8-10z"/><path d="M847 55q-1 0-17-10q-17-9-4-13q14-4 23-1q9 3 12 6q4 3 4 4q0 2-9 8q-9 6-9 6z"/><path d="M816 92q12 10 11 12q-2 2-17 4q-16 3-18 1q-3-1-6-13q-4-13 3-14q7-1 11 0q3 1 16 10z"/><path d="M876 1q-5-1-9 12q-3 13 1 17q4 3 21 1q17-2 18-5q2-4-12-14q-14-10-19-11z"/><path d="M353 30q-2 0-20 2q-17 3-18 4q0 1 14 9q14 9 23 8q8-1 6-11q-3-11-5-12z"/><path d="M616 48q10-5 23 3q14 8 11 18q-3 10-9 12q-7 2-8 1q0 0-14-15q-13-14-3-19z"/><path d="M630 40q0 2 13 10q12 7 27 7q15 0 17-4q1-5-3-9q-4-4-21-10q-17-7-25-2q-8 5-8 8z"/><path d="M866 71q-10-9-1-16q10-6 26 4q16 11 18 16q1 4 1 5q-1 0-17 0q-17-1-27-9z"/><path d="M351 105q-6 0-20-10q-13-9-12-13q0-3 11-5q11-2 23 5q12 7 8 16q-5 8-10 7z"/><path d="M944 89q-24-4-25-10q-2-6 7-13q9-7 28-5q18 2 24 6q6 4-2 15q-9 11-32 7z"/><path d="M515 56q6-2 20 5q15 6 18 11q3 5 3 6q-1 1-19 4q-18 3-22 1q-3-3-4-14q-1-11 4-13z"/><path d="M568 40q11 10 0 17q-12 8-31 0q-19-8-20-13q0-4 9-11q10-6 21-5q10 2 21 12z"/><path d="M1108 108q5 3 7 11q3 8 3 8q-1 1-18 0q-17-1-27-13q-10-11-8-12q2-1 20 1q18 2 23 5z"/><path d="M1002 42q-26-9-27-9q0 0 4 13q3 13 8 16q4 4 5 4q1 0 19-7q18-6 17-7q-1-1-26-10z"/><path d="M1076 159q9 5 31 4q23-1 18-14q-4-13-25-15q-21-1-28 6q-7 6-6 10q1 3 10 9z"/><path d="M880 45q-1-2 16-4q16-1 25 7q9 8 1 15q-7 6-25-5q-17-12-17-13z"/><path d="M463 34q6 8 21 11q16 3 22 2q5-2 5-6q-1-3-18-15q-18-11-19-11q-1 0-9 6q-8 6-2 13z"/><path d="M1048 95q3 1 5 0q2-1 2-14q1-14-4-17q-5-2-24 4q-18 7 0 17q17 10 21 10z"/><path d="M737 42q-6 6-22 5q-15-1-20-5q-4-5 4-17q8-13 26-1q19 11 12 18z"/><path d="M1023 18q-18-11-36-2q-17 8 17 20q35 13 36 2q1-10-17-20z"/></g><g id="aga2"><path d="M672 942q2-1-1-13q-3-12-26-18q-22-5-24-3q-1 1 0 9q0 7 24 17q24 9 24 9q0 0 3-1z"/><path d="M728 904q2 7 1 7q-1 1-24-2q-22-3-25-14q-3-10 6-13q9-2 24 7q15 9 18 15z"/><path d="M691 985q0 0-9-17q-9-16-9-16q-1 0-17 8q-17 8-8 16q9 9 25 10q17 0 18-1z"/><path d="M622 993q-16-1-21-6q-6-6-2-14q4-9 8-9q5 0 13 2q7 3 15 11q8 8 6 13q-3 4-19 3z"/><path d="M612 922q-3 1-26-2q-24-2-29-15q-5-12-4-13q2-1 31 5q28 6 29 15q1 8-1 10z"/><path d="M513 884q-2-2-3-12q0-11 16-12q16-2 22 0q7 3 3 17q-3 14-5 15q-1 0-16-3q-15-3-17-5z"/><path d="M744 996q-10-9-24-7q-13 3-14 3q0 1 6 7q6 6 22 9q17 4 19 3q2-1 2-3q0-3-11-12z"/><path d="M730 975q0 1-15 4q-14 3-23-12q-8-16-6-17q2 0 14 2q12 2 21 12q10 10 9 11z"/><path d="M485 873q22 5 21-4q-1-9-9-14q-9-5-23-3q-13 3-12 9q2 6 23 12z"/><path d="M540 962q-1 6 19 11q20 4 24-5q3-9-11-15q-14-6-23-2q-9 4-9 11z"/><path d="M765 882q12 2 13-7q2-10-13-18q-15-9-24-4q-9 6 2 16q10 10 22 13z"/><path d="M694 827q-10 6-9 12q1 7 7 11q6 4 20 5q15 2 25-4q10-6 10-7q0-2-21-12q-21-11-32-5z"/><path d="M447 867q3-3 1-8q-1-6-11-13q-10-7-17-6q-8 0-11 10q-3 10 3 15q5 6 18 5q14-1 17-3z"/><path d="M503 966q23 6 23 12q-1 6-14 9q-13 4-18 3q-5-1-13-14q-8-13-4-15q3-2 26 5z"/><path d="M474 947q-1-7-17-19q-17-11-21-12q-4-1-17 9q-14 10 3 21q17 10 31 12q13 1 17-1q4-2 4-10z"/><path d="M463 890q14 14-5 19q-19 5-23 5q-4-1-15-13q-12-12-9-18q3-6 20-7q17-1 32 14z"/><path d="M770 962q1-5-15-13q-16-7-26-3q-9 3 1 15q10 11 25 9q15-2 15-8z"/><path d="M607 853q18 3 25-2q8-5-9-22q-16-17-31-13q-16 4-17 6q-1 2 7 15q7 13 25 16z"/><path d="M787 891q1 0 23 5q22 4 24-6q1-9-13-16q-15-6-24-5q-8 0-10 11q-2 10 0 11z"/><path d="M351 984q-11-6-6-18q4-12 15-12q12 1 23 13q12 12-5 17q-17 6-27 0z"/><path d="M629 884q11-8 23-5q12 4 15 15q3 12 1 13q-2 1-26-5q-23-5-24-7q0-2 11-11z"/><path d="M357 862q0-9 1-9q0 0 19 5q19 6 25 12q6 7 4 12q-3 5-10 5q-7-1-23-8q-17-8-16-17z"/><path d="M297 840q-1-1 8-13q8-12 26-5q17 7 18 15q1 9 0 9q0 1-26-3q-25-3-26-3z"/><path d="M471 725q8-2 26 3q18 5 18 9q0 4-15 9q-15 5-27-6q-11-11-11-12q0-1 9-3z"/><path d="M478 792q24 0 29 15q5 14 5 14q0 0-12 1q-12 2-19-1q-7-2-16-16q-10-13 13-13z"/><path d="M326 878q0 0 12-3q11-3 27 4q16 7 1 15q-14 9-15 8q-1 0-13-12q-12-12-12-12z"/><path d="M433 784q0 1-10 9q-10 9-30 2q-20-6-12-17q7-11 29-3q23 9 23 9z"/><path d="M461 760q20 0 20-2q0-2-14-16q-15-15-35-9q-20 5-5 16q15 10 34 11z"/><path d="M573 690q9-5 32 0q22 6 14 16q-8 9-28 4q-20-5-24-10q-4-5 6-10z"/><path d="M267 850q15-8 16-8q1 0 2 1q1 0 12 15q12 15 11 15q0 0-14 2q-15 1-28-6q-13-7-14-9q0-2 15-10z"/><path d="M284 894q0 10 17 15q16 4 27 1q11-3-1-16q-13-12-29-11q-15 1-14 11z"/><path d="M681 759q3 0 20-9q17-10 15-13q-1-3-14-11q-13-8-23-9q-9-1-20 9q-12 10-5 18q6 7 15 11q9 4 12 4z"/><path d="M435 711q13 10 13 10q-1 1-18 6q-17 5-23 4q-6-1-13-7q-8-5-6-13q1-8 9-11q9-3 17-1q9 2 21 12z"/><path d="M308 808q3 4 22 12q19 7 28 4q10-3 6-17q-4-13-22-19q-19-6-23-5q-3 1-8 12q-5 10-3 13z"/><path d="M332 753q6-5 27 3q21 7 21 8q0 0-6 10q-7 9-10 10q-3 0-18-4q-15-5-18-14q-2-8 4-13z"/><path d="M335 740q0 2 23 10q24 8 29-4q6-12-1-18q-8-5-16-6q-7-1-22 8q-14 8-13 10z"/><path d="M463 720q11-3 8-13q-2-11-14-14q-11-3-20 3q-9 6 4 16q12 11 22 8z"/><path d="M578 732q10 5 27 1q17-4 11-11q-5-7-24-12q-19-4-21 6q-2 11 7 16z"/><path d="M163 890q-2-1-7-14q-4-14 3-18q7-4 8-4q2 0 22 12q21 11 21 13q0 1-12 9q-12 7-23 5q-10-2-12-3z"/><path d="M133 884q24 3 19-12q-5-15-22-16q-16-2-22 2q-7 4-3 13q3 10 28 13z"/><path d="M149 832q14 10 15 10q1 0 11-8q10-7 1-14q-10-8-24-9q-15-2-16 4q-1 7 13 17z"/><path d="M230 896q12 8 8 15q-4 6-15 5q-12-2-19-8q-8-7 3-14q12-6 23 2z"/><path d="M613 626q10-2 5-12q-5-11-22-16q-16-4-18-3q-2 1-2 9q0 8 14 16q13 8 23 6z"/><path d="M668 685q22 9 20 19q-2 10-10 9q-9 0-25-10q-16-9-12-17q4-9 4-9q1 0 23 8z"/><path d="M898 995q2-9 8-10q6 0 17 6q12 7 14 12q2 5-2 6q-4 1-21-1q-17-3-16-13z"/><path d="M847 903q2 2 18 5q16 3 23-5q8-8-9-15q-17-8-24-6q-7 2-8 11q-2 9 0 10z"/><path d="M390 677q-7-14-13-16q-6-3-18 0q-13 3-14 7q-2 5 17 17q20 12 27 10q8-3 1-18z"/><path d="M532 605q-14-6-11-16q4-9 25-3q21 6 21 16q0 9-10 9q-10 1-25-6z"/><path d="M479 583q14 14 23 13q10-1 14-11q3-10-1-15q-5-5-20-10q-16-5-23 2q-7 7 7 21z"/><path d="M127 854q-13-2-23-13q-9-11 5-12q14-2 28 9q14 10 9 14q-6 3-19 2z"/><path d="M442 565q-14 0-23-13q-9-14 2-15q12-2 28 6q15 7 17 8q1 2-5 8q-6 5-19 6z"/><path d="M861 864q0 9 20 18q21 9 26 9q5 0 12-4q7-5 5-9q-2-4-16-13q-14-9-30-10q-17-1-17 9z"/><path d="M254 955q7 7 3 13q-4 7-19 0q-14-6-15-12q-1-6 12-6q12-1 19 5z"/><path d="M164 795q3-7-11-17q-14-10-26-7q-11 3-11 9q-1 5 7 12q7 6 23 8q16 2 18-5z"/><path d="M392 600q-3 0-17-4q-15-5-17-8q-1-2 5-12q5-10 24-5q18 5 13 17q-5 11-8 12z"/><path d="M869 824q4 1 15 8q11 6 9 13q-2 7-16 6q-14 0-16-2q-2-2 1-14q3-11 7-11z"/><path d="M494 1022q-15-2-11-13q3-10 5-11q3 0 7 0q4 1 13 10q10 10 5 13q-4 3-19 1z"/><path d="M326 692q2-8 7-10q4-2 24 10q19 12 17 19q-1 8-8 7q-8-1-25-9q-17-8-15-17z"/><path d="M951 1003q-3-7 11-16q14-9 21-7q6 2 15 12q8 9-7 17q-14 8-26 4q-12-4-14-10z"/><path d="M717 632q3-7-20-19q-23-11-29 5q-5 16-1 18q4 2 26 3q22 1 24-7z"/><path d="M161 774q16 11 26 11q10 0 14-8q4-7-18-17q-21-10-28-7q-7 3-9 6q-1 4 15 15z"/><path d="M836 767q3 0 2-12q-1-12-13-15q-12-3-19 0q-7 2-7 6q0 4 12 12q11 8 17 9q5 1 8 0z"/><path d="M864 813q4 0 14-5q11-6 6-13q-5-7-19-10q-13-3-16-2q-3 1 1 13q3 13 7 14q3 2 7 3z"/><path d="M696 670q-22-14-37-4q-14 10 12 20q25 9 36 6q11-4 11-6q0-2-22-16z"/><path d="M757 630q16 7 8 21q-8 14-13 13q-5-1-19-11q-14-11-11-18q2-7 11-10q8-2 24 5z"/><path d="M509 646q5 5 13 8q8 2 23-1q15-4 5-13q-11-8-23-10q-13-1-19 4q-5 6 1 12z"/><path d="M81 822q5 2 22 0q16-2 18-9q1-8-8-15q-8-8-24-6q-16 1-15 15q1 14 7 15z"/><path d="M267 1025q-12 2-24-6q-13-7-11-13q1-5 17-9q15-3 22 1q7 3 8 14q1 10-12 13z"/><path d="M487 596q1 0-11-13q-12-12-27-11q-15 0-16 1q-1 1 13 15q14 13 27 11q13-2 14-3z"/><path d="M520 569q-4-5 9-13q13-7 30 4q16 10 16 18q0 7-3 8q-2 1-25-6q-22-6-27-11z"/><path d="M207 712q3 4-1 13q-4 8-21 7q-18-2-20-4q-3-3-2-10q2-8 21-9q19 0 23 3z"/><path d="M386 615q-3-7-16-11q-14-4-21 0q-7 4-7 8q0 5 12 13q11 9 23 3q11-6 9-13z"/><path d="M475 521q-9-7-24-9q-14-2-15 9q-2 11 17 19q18 9 25-2q6-10-3-17z"/><path d="M922 835q17 1 23 7q5 6-6 18q-11 11-26 2q-15-9-12-18q3-9 21-9z"/><path d="M213 951q-1-6-8-10q-6-4-20-5q-14-1-8 12q6 13 11 14q5 1 16-2q10-3 9-9z"/><path d="M153 713q-1 8-27 0q-26-9-13-19q12-11 15-11q2 0 14 11q12 10 11 19z"/><path d="M953 821q-9 3-11 10q-3 8 3 14q5 6 17 11q13 4 24-2q10-5 2-17q-7-13-16-15q-9-3-19-1z"/><path d="M933 778q18 8 34 2q16-6-1-16q-17-10-35-8q-18 3-17 8q1 6 19 14z"/><path d="M1055 839q5 6-3 14q-9 7-30 0q-21-8-29-20q-8-13-2-14q6-1 32 7q27 7 32 13z"/><path d="M1026 889q-1-1 10-9q12-8 27 4q15 11 13 16q-3 5-8 5q-6 1-24-6q-17-8-18-10z"/><path d="M303 565q-2 0-7 11q-5 12 16 19q22 8 30 3q8-5 7-8q-2-2-23-14q-22-11-23-11z"/><path d="M182 999q-21-9-22-18q-1-10 9-13q9-3 16-2q7 2 23 15q15 13 14 20q-2 6-11 6q-8 0-29-8z"/><path d="M598 589q16 4 25-2q9-5 4-11q-5-6-13-8q-9-2-20 2q-11 3-11 9q-1 5 15 10z"/><path d="M960 801q4 11 13 14q8 2 14 2q6-1 13-12q7-11-2-19q-9-9-10-9q-1 0-17 6q-16 6-11 18z"/><path d="M539 430q-17-1-18 0q-2 1-2 15q0 14 1 15q2 1 26 0q25 0 27-3q1-4-7-15q-9-12-27-12z"/><path d="M273 525q-3 3 3 13q6 11 14 14q8 4 9 4q2 0 13-8q12-8 6-13q-6-6-24-9q-17-3-21-1z"/><path d="M985 734q7 3 14 14q8 10-1 16q-9 5-10 5q-1 0-17-10q-15-9-15-16q0-8 5-11q5-2 11-2q5 0 13 4z"/><path d="M876 741q21 5 20-8q-2-14-5-17q-3-3-20-3q-16-1-16 11q0 13 21 17z"/><path d="M577 529q-1 2 15 15q16 13 25 15q10 2 13-1q3-4-1-16q-5-13-27-14q-23-1-25 1z"/><path d="M1048 811q1 0-1 9q-2 9-21 4q-19-6-13-15q5-8 20-4q15 5 15 6z"/><path d="M941 707q19 16 13 18q-5 3-30-3q-24-6-27-9q-4-4-2-11q3-7 15-9q13-2 31 14z"/><path d="M165 911q4-12 13-10q8 1 16 8q7 6 4 13q-3 7-16 6q-14-1-17-3q-4-2 0-14z"/><path d="M799 809q0 0-26-2q-25-2-31-5q-5-4-6-9q-2-5 9-12q12-8 28-1q16 8 22 18q5 10 4 11z"/><path d="M1102 880q-5 10-12 11q-6 1-21-11q-15-11-15-12q-1 0 6-6q6-6 20-3q15 3 21 6q6 4 1 15z"/><path d="M645 529q-7 1-10 3q-3 3 1 13q4 11 24 12q19 1 20-2q1-2-13-14q-15-12-22-12z"/><path d="M453 470q13 2 15-7q3-9-3-12q-6-4-19-5q-13-2-17 0q-4 1-4 2q-1 2 7 11q8 9 21 11z"/><path d="M1043 977q-13-9-29-2q-16 8-7 18q9 9 14 11q6 2 21 0q16-2 15-10q0-8-14-17z"/><path d="M103 780q-1 6-16 7q-15 2-26-3q-12-5-8-17q4-11 9-12q5-1 23 9q18 10 18 16z"/><path d="M916 683q2-2-5-12q-7-11-12-12q-6-2-16 3q-11 5-10 9q1 3 11 11q11 7 20 5q10-2 12-4z"/><path d="M775 652q7-12 8-12q1 0 12 5q12 6 13 14q1 9-15 9q-16 0-20-2q-5-2 2-14z"/><path d="M274 596q-3 4 13 13q15 8 27 5q12-3 12-7q0-5-19-11q-19-7-24-6q-5 1-9 6z"/><path d="M659 588q-10-4-15-10q-4-6-1-9q2-3 22-2q19 1 23 8q4 7-7 12q-12 5-22 1z"/><path d="M122 911q21 12 6 18q-15 6-35-1q-19-7-19-8q0-1 14-11q14-10 34 2z"/><path d="M1083 819q-17-4-20 5q-2 10 2 15q4 5 18 7q15 3 18-9q2-11 1-13q-1-1-19-5z"/><path d="M411 447q1-1-19-12q-20-11-31-6q-12 6-9 14q3 9 9 12q7 4 28-1q21-5 22-7z"/><path d="M159 648q-12-3-13-3q-1 0 1 12q1 12 21 14q19 2 11-8q-8-11-20-15z"/><path d="M248 682q16 2 19-8q3-11-3-17q-6-6-20-8q-13-2-12 14q1 16 16 19z"/><path d="M20 637q-1 15 14 22q15 7 27 3q12-5-4-23q-16-17-26-17q-11-1-11 15z"/><path d="M762 621q13 5 14 6q1 0 9-10q9-10-6-16q-14-7-23-4q-9 2-8 10q1 8 14 14z"/><path d="M475 447q-6-3-5-13q1-11 19-7q18 3 18 15q0 11-13 10q-12-1-19-5z"/><path d="M261 517q-3 2-18 0q-15-2-21-10q-7-7 2-13q8-5 20-3q12 3 16 13q4 10 1 13z"/><path d="M723 615q8-3 7-11q-1-9-14-14q-13-5-26 0q-14 6-13 7q1 1 20 10q19 10 26 8z"/><path d="M818 663q-1-9 8-10q8-1 20 6q12 7 13 11q1 4-14 7q-14 2-20-1q-6-3-7-13z"/><path d="M87 961q-1 0-11-13q-10-12-10-13q0-1 6-3q6-3 21 3q15 5 19 12q4 8-10 11q-14 3-15 3z"/><path d="M19 727q-6-10-1-13q5-4 24 4q20 7 18 16q-1 9-6 9q-4 1-16-3q-12-3-19-13z"/><path d="M1142 969q9-6 0-15q-8-8-11-9q-4 0-21 5q-17 6-11 14q7 7 21 9q14 2 22-4z"/><path d="M718 588q-13-6-18-14q-5-9-4-11q1-3 8-4q6-1 26 5q20 6 22 15q1 9-9 12q-11 3-25-3z"/><path d="M480 703q2 11 22 16q20 6 22 5q2-1-8-18q-10-16-14-17q-3-2-14 1q-11 3-8 13z"/><path d="M687 488q-23 5-19 14q3 8 26 14q22 5 28 1q6-5-2-20q-9-14-33-9z"/><path d="M969 673q1-6-6-12q-6-6-21-8q-16-3-20-1q-5 2 3 13q7 12 25 13q17 1 19-5z"/><path d="M84 971q-1 0-18 1q-18 2-20 7q-2 5 20 16q21 10 25 1q4-10-1-17q-5-7-6-8z"/><path d="M225 542q-9-13-27-13q-18 0-20 7q-2 7 11 16q13 9 28 7q16-2 16-3q1-2-8-14z"/><path d="M917 605q2-8-12-14q-14-6-20 1q-6 7-3 11q4 4 17 7q13 3 14 3q2-1 4-8z"/><path d="M1047 974q-14-9-14-10q0-1 21-5q20-5 24-4q4 2 11 10q8 8 5 12q-2 4-18 5q-16 1-29-8z"/><path d="M652 455q-15 3-16 3q-1-1-11-15q-10-14 0-18q10-5 19-3q9 2 16 16q7 13-8 17z"/><path d="M937 589q10-2 6-10q-5-8-18-15q-13-6-26-4q-14 2-14 2q0 0 5 7q4 8 20 15q16 6 27 5z"/><path d="M885 524q25 9 23 19q-3 10-18 12q-16 3-29-12q-13-15-7-21q6-7 31 2z"/><path d="M871 584q6-7 2-14q-4-6-24-5q-19 1-21 4q-1 2 3 8q3 5 18 10q16 5 22-3z"/><path d="M739 456q20 8 13 17q-6 10-25 8q-18-2-24-11q-5-9 5-16q11-6 31 2z"/><path d="M358 500q0 0-19-12q-19-12-36-8q-18 4-18 4q0 0 19 11q18 11 36 8q18-2 18-3z"/><path d="M250 409q7 1 17 7q9 7 11 13q1 7-9 10q-10 3-24-4q-13-6-14-14q0-8 6-11q6-3 13-1z"/><path d="M962 592q0 0 22-3q22-3 6-14q-16-10-27-5q-12 5-7 13q5 8 6 9z"/><path d="M867 617q5-6 2-10q-4-4-18-8q-15-5-21 3q-6 7 3 13q9 6 18 7q10 1 16-5z"/><path d="M1127 1010q9-1 14-6q5-5-3-15q-8-10-23-12q-16-2-18 2q-2 4 9 18q11 13 11 13q0 0 10 0z"/><path d="M921 519q-1-3-15-13q-14-9-26-9q-12-1-14 2q-3 2 0 8q2 5 22 12q20 7 27 5q6-2 6-5z"/><path d="M216 682q6-1 5-18q0-17-4-19q-4-2-19 4q-16 6-7 18q9 12 14 14q5 3 11 1z"/><path d="M59 594q-10 3-10 12q-1 10 21 13q22 3 22-5q-1-7-12-15q-12-7-21-5z"/><path d="M767 551q2 9 24 11q22 2 24 0q1-3-9-14q-10-12-15-13q-4 0-15 3q-10 4-9 13z"/><path d="M-2 584q-16 4-16 6q-1 1 10 12q12 11 21 14q8 3 19 3q11 1 12 0q1-1 2-12q1-11-16-19q-17-8-32-4z"/><path d="M907 751q4 3 24 0q21-2 20-11q0-9-25-16q-26-6-24 9q2 15 5 18z"/><path d="M1009 579q0 0-16-11q-15-10-16-16q-1-6 8-7q8-1 24 5q16 5 17 6q1 1-6 12q-6 10-8 11q-2 0-3 0z"/><path d="M1082 680q9-8 6-11q-4-4-17-7q-13-4-22 2q-10 6-4 14q7 7 17 8q11 2 20-6z"/><path d="M1005 620q-16 0-29-13q-14-13 10-16q23-4 23-4q1 1 7 17q6 16-11 16z"/><path d="M419 442q-5 2-23-7q-18-10-19-16q-2-6 17-6q18 0 24 14q5 13 1 15z"/><path d="M945 628q18 6 14 13q-4 8-19 6q-14-3-15-13q0-11 1-12q2 0 19 6z"/><path d="M943 523q-1-3 7-8q7-5 20-1q13 4 13 12q1 9-7 10q-8 1-20-4q-13-6-13-9z"/><path d="M764 506q-3 6 9 15q11 9 16 10q5 1 13-4q8-5-1-15q-8-11-21-12q-13-1-16 6z"/><path d="M245 437q14 8 13 14q-2 6-21 3q-19-2-24-11q-4-8 7-10q11-3 25 4z"/><path d="M311 354q-8 0-20-8q-11-8-12-13q0-6 19-7q19 0 21 1q2 1 6 8q5 8-1 14q-5 5-13 5z"/><path d="M215 362q8-4 5-12q-2-7-8-10q-5-3-18-2q-12 0-15 5q-3 4 1 10q4 7 7 8q2 2 11 3q8 2 17-2z"/><path d="M53 571q-10-8-21-10q-12-3-11 6q0 9 13 15q12 6 20 4q8-2 9-5q0-3-10-10z"/><path d="M670 386q0 0 6-7q6-8 24-7q19 1 29 10q11 9-3 15q-14 5-35-3q-21-7-21-8z"/><path d="M803 427q23 2 23 2q0 0-2-13q-3-14-21-18q-18-4-28 0q-10 4-2 16q7 11 30 13z"/><path d="M97 477q15-2 32 7q17 10 17 12q-1 3-18 6q-18 3-31-4q-14-8-14-13q0-6 14-8z"/><path d="M219 586q16 14 2 19q-14 5-29-3q-15-8-16-13q-2-6 12-12q14-6 31 9z"/><path d="M356 300q1-3-16-13q-16-10-29-7q-13 3-13 4q0 2 11 15q12 13 14 14q2 1 17-4q15-5 16-9z"/><path d="M444 389q14 4 13 12q-1 8-19 5q-18-4-20-10q-1-7 5-9q6-3 21 2z"/><path d="M1116 682q-15-5-27 5q-12 10 4 21q17 11 30 8q12-3 10-16q-1-13-17-18z"/><path d="M918 503q14 10 21 4q8-5 6-10q-2-4-17-9q-15-6-20 0q-4 6 10 15z"/><path d="M774 465q-8 0-14 8q-6 9 1 14q6 6 19 7q12 1 17-5q4-5-5-15q-9-9-18-9z"/><path d="M167 452q-5-3-6-9q-2-5 10-9q12-4 19-1q7 4 11 11q4 7 1 9q-3 3-16 3q-14 0-19-4z"/><path d="M299 394q15 9 14 15q-1 6-15 8q-14 2-23-5q-9-6-1-16q8-11 9-11q0 0 16 9z"/><path d="M373 300q3 0 24 5q21 5 26 10q6 5-3 17q-8 11-13 10q-5-1-22-18q-17-16-16-20q1-4 4-4z"/><path d="M35 976q3-6-10-17q-12-11-21-13q-8-2-16 8q-7 11 14 20q20 9 26 8q5 0 7-6z"/><path d="M117 466q-2-9 14-9q17 0 22 4q6 3 7 13q2 10-5 13q-8 3-22-5q-15-8-16-16z"/><path d="M406 349q4 1 10 5q5 3 6 15q1 12-7 14q-7 3-16-1q-10-5-14-16q-4-11 6-14q10-3 15-3z"/><path d="M856 403q25 8 26-9q1-17 0-17q0 0-27-6q-26-6-25 10q2 15 26 22z"/><path d="M422 334q-9 11-3 15q6 3 23 6q17 3 24 1q6-2 7-12q1-10 0-12q-2-2-22-6q-20-4-29 8z"/><path d="M365 291q2-1 9-10q7-9 3-14q-5-5-12-7q-8-3-15-3q-7 0-12 3q-5 4-5 8q-1 4 14 14q15 9 18 9z"/><path d="M1056 471q2 13 3 14q2 2 14 4q12 3 26-3q13-6-1-21q-13-14-14-14q-1-1-15 3q-14 3-13 17z"/><path d="M807 457q-19 0-25-14q-6-14-6-15q1-1 23 1q23 2 25 15q3 12-17 13z"/><path d="M78 440q0 0 7-13q7-12-11-20q-17-8-32-7q-14 1-7 14q6 13 24 19q18 7 19 7z"/><path d="M1089 630q10 6 17 6q7 0 8-8q1-8-13-14q-13-6-16-5q-3 1-4 8q-2 7 8 13z"/><path d="M177 399q4-1 6-13q1-13-2-14q-3-2-19 0q-16 3-18 11q-3 7 13 13q16 5 20 3z"/><path d="M539 356q2 5 24 15q22 11 23 10q1 0-2-14q-3-15-16-22q-12-8-22-1q-9 6-7 12z"/><path d="M350 246q9 0 10-16q1-17 0-17q-1-1-21-1q-21 0-24 2q-3 3 12 17q15 15 23 15z"/><path d="M1012 429q-4-6 5-11q10-4 20-3q10 1 23 13q12 12-1 15q-12 3-27-2q-15-5-20-12z"/><path d="M829 442q3 12 9 16q7 3 22-2q15-4 8-12q-7-8-24-11q-16-4-17-4q0 1 2 13z"/><path d="M96 632q3 3-4 11q-7 9-12 8q-5 0-17-13q-12-13-11-14q1 0 21 3q19 2 23 5z"/><path d="M318 235q12 12 8 16q-5 3-26-6q-22-10-9-16q13-7 14-7q1 0 13 13z"/><path d="M1145 456q7 9 5 14q-2 5-8 7q-7 2-16 0q-10-3-22-15q-13-13 0-16q13-3 23-1q10 3 18 11z"/><path d="M453 290q7 3 22 0q16-3 16-10q1-7-12-17q-12-10-25-6q-13 5-10 18q2 12 9 15z"/><path d="M909 417q-21 0-21 0q0 1 20 17q20 17 26 18q6 1 12-2q5-2 3-14q-3-13-11-16q-7-4-29-3z"/><path d="M1129 486q9 3 15 13q5 11 3 14q-2 3-14 3q-12 0-23-11q-10-11 0-16q11-5 19-3z"/><path d="M295 320q25 0 11-17q-15-16-35-7q-20 9-11 17q9 8 35 7z"/><path d="M618 316q-11 6-15 5q-3-1-19-15q-16-14 4-18q20-4 30 9q11 13 0 19z"/><path d="M880 304q-12-8-22-5q-11 3-11 6q-1 4 9 13q10 9 24 8q13-1 13-8q-1-7-13-14z"/><path d="M655 234q7 13 6 13q-1 1-18 1q-17-1-24-5q-6-4-7-14q-2-10 8-13q9-3 18 1q9 4 17 17z"/><path d="M1010 378q-13 2 0 17q14 16 26 17q12 2 18-4q5-6-13-19q-17-13-31-11z"/><path d="M194 269q11-4 8-10q-3-6-13-12q-9-5-31-5q-22 0-17 11q4 10 23 14q19 5 30 2z"/><path d="M-7 297q6 4 28 7q21 2 20-2q-2-5-17-15q-16-11-25-10q-9 1-11 8q-1 7 5 12z"/><path d="M92 254q-11-14-9-17q3-4 19-2q16 2 21 5q5 3 10 13q4 9-2 13q-5 5-17 3q-11-1-22-15z"/><path d="M867 291q-1 3-12 6q-12 4-30-6q-18-9-20-13q-1-3 16-9q17-6 22-5q5 1 15 12q10 12 9 15z"/><path d="M561 233q-4-7 1-13q6-6 21-3q15 3 16 14q2 10-16 10q-18-1-22-8z"/><path d="M-2 315q-3 11 5 16q8 5 26-4q18-9 18-13q-1-4-2-5q-1-1-23-3q-21-3-24 9z"/><path d="M663 212q12-2 9-12q-3-10-9-12q-5-3-11-3q-5 0-12 8q-7 7-6 10q2 3 10 7q8 3 19 2z"/><path d="M106 199q-13-10-20-11q-8 0-13 7q-5 7 4 16q9 9 23 11q14 2 17-6q3-8-11-17z"/><path d="M956 381q-4-1-16-11q-11-11-9-15q2-3 14-5q12-1 24 12q11 13 1 16q-10 4-14 3z"/><path d="M1056 410q-5 7 9 21q14 14 15 14q1 1 16-3q15-3 11-16q-4-12-17-17q-13-6-20-5q-8 0-14 6z"/><path d="M510 227q5-9 22-4q16 5 21 12q4 7 2 10q-1 3-10 5q-8 2-24-6q-17-7-11-17z"/><path d="M1013 905q-5 9 1 13q5 4 19 5q14 1 17-5q3-6-15-14q-17-7-22 1z"/><path d="M439 236q-25-15-32-14q-8 1-4 15q4 14 19 19q16 5 29 0q13-5 13-5q0-1-25-15z"/><path d="M108 340q5-5 0-13q-5-9-30-11q-24-2-24 2q1 4 15 16q13 12 24 11q11 0 15-5z"/><path d="M1015 297q-2-1-8-1q-6-1-15 4q-10 6-3 18q7 11 11 13q5 1 18-2q14-2 15-5q2-2-7-14q-9-12-11-13z"/><path d="M840 301q1-4-17-13q-18-9-28-1q-11 8 3 16q14 9 28 5q13-3 14-7z"/><path d="M323 159q-1 8 14 14q15 6 22 3q6-3 2-14q-4-11-8-12q-3-2-16-1q-13 1-14 10z"/><path d="M810 235q0 4 14 13q14 9 18 10q4 0 13-6q9-7-4-16q-13-9-27-8q-15 2-14 7z"/><path d="M159 215q-1 0-15 1q-14 1-16 9q-3 7 2 10q4 3 22 3q17 0 13-11q-5-11-6-12z"/><path d="M787 273q5 3 7 6q1 2-7 8q-8 6-13 6q-5-1-10-5q-5-3-5-10q0-7 11-7q11-1 17 2z"/><path d="M630 189q10-10-4-18q-13-9-29-8q-15 1-12 9q4 8 20 17q16 9 25 0z"/><path d="M714 181q-3 4-20 4q-17 0-24-3q-7-3-6-13q2-9 12-11q10-1 22 4q13 5 17 11q3 5-1 8z"/><path d="M912 312q13 0 24 11q12 11 11 12q0 1-13 2q-12 2-23-5q-11-7-11-13q0-6 12-7z"/><path d="M915 347q2-4-9-11q-11-6-22-5q-12 1-12 4q-1 3 9 11q11 8 21 6q11-2 13-5z"/><path d="M150 136q-16-2-23-10q-7-8-5-12q3-4 23-4q21-1 24 0q2 1 0 14q-2 13-19 12z"/><path d="M560 128q0 1 7 15q8 14 8 14q0 0 15 0q14-1 16-6q2-6-13-16q-15-10-24-8q-9 1-9 1z"/><path d="M107 82q-2 4 6 13q8 9 27 9q19 0 6-14q-12-13-24-12q-13 0-15 4z"/><path d="M421 214q5-6 18-5q14 1 27 13q14 12 5 18q-9 6-31-8q-23-13-19-18z"/><path d="M625 120q10 6 10 13q-1 8-10 9q-9 0-25-11q-17-11-14-13q2-3 16-3q13-1 23 5z"/><path d="M166 172q-5 0-10 5q-5 4 3 16q9 11 10 11q1 1 12 1q11 0 17-7q7-6-10-16q-17-10-22-10z"/><path d="M128 139q-2 5-16 6q-14 2-28-4q-14-7-14-17q1-10 23-9q21 1 29 10q8 9 6 14z"/><path d="M472 218q15 13 21 13q5 0 11-11q6-10 2-15q-4-5-16-11q-13-5-23 3q-9 9 5 21z"/><path d="M890 278q18-2 3-14q-15-13-17-13q-2 0-10 6q-8 6-1 14q7 9 25 7z"/><path d="M838 218q0 2 15 13q16 11 19 12q3 0 21-6q17-6 17-7q0-1-9-9q-9-9-25-13q-16-5-27 2q-11 6-11 8z"/><path d="M94 161q3 10-2 13q-5 3-13 2q-7 0-13-5q-6-4-7-16q-2-11 4-13q5-1 16 4q11 5 15 15z"/><path d="M432 153q-7 2-4 9q3 6 23 14q21 7 26-3q4-10 2-12q-2-2-21-7q-20-4-26-1z"/><path d="M752 227q-2-6 10-9q12-3 20 2q8 4 9 9q0 5-8 9q-8 3-19-1q-10-4-12-10z"/><path d="M716 132q15 8 6 19q-9 11-22 5q-13-5-18-17q-6-12-5-13q2-1 13-2q11-1 26 8z"/><path d="M487 131q8-2 2-12q-7-9-19-12q-12-3-19 3q-8 6 9 15q18 8 27 6z"/><path d="M745 230q-2-6-10-9q-8-3-19 0q-11 2-1 13q10 11 10 11q0 0 11-4q11-5 9-11z"/><path d="M401 151q12 5 15 11q2 7-4 12q-7 5-23 2q-16-3-20-14q-5-12 7-14q12-2 25 3z"/><path d="M63 56q-12 1-11 11q2 10 7 14q5 3 21 4q16 0 19-4q2-4-11-16q-13-11-25-9z"/><path d="M1062 277q-8-15-7-16q1-1 28 3q27 4 32 9q5 5 5 12q0 7-17 10q-17 4-25 0q-8-3-16-18z"/><path d="M906 218q-8-7-4-18q3-11 22-1q18 11 4 18q-15 8-22 1z"/><path d="M895 196q-4 13-18 9q-14-4-21-13q-6-9 17-11q22-1 23-1q1 1 2 2q0 2-3 14z"/><path d="M355 80q14 8 26 7q13 0 16-8q4-8-13-15q-16-8-27-6q-11 1-13 7q-2 7 11 15z"/><path d="M790 242q8-4 22 6q14 9 1 13q-14 5-21 2q-6-3-8-10q-3-7 6-11z"/><path d="M33 160q16 3 14-9q-1-11-17-15q-16-4-19-4q-3 1 2 13q5 12 20 15z"/><path d="M424 108q3 1 6 1q2 0 10-6q7-6 4-11q-3-5-20-11q-18-7-19-7q0 0-3 7q-3 6 8 16q10 10 14 11z"/><path d="M536 177q6 6 10 8q4 1 16-3q13-5 10-12q-3-6-4-7q0 0-15-1q-15-1-19 4q-5 4 2 11z"/><path d="M495 136q10-2 13-1q3 1 13 11q10 11 4 16q-5 6-21 2q-16-3-18-5q-3-2-2-12q2-9 11-11z"/><path d="M776 95q4 15-11 15q-15-1-31-9q-16-9-16-10q0-1 23-7q24-5 27-5q3 1 8 16z"/><path d="M49 66q-2-11-15-16q-12-5-22-5q-10 0-16 7q-6 7 3 16q9 10 30 10q22-1 20-12z"/><path d="M852 142q-1 3-4 3q-3 1-22-5q-19-6-24-15q-5-8 14-11q19-2 28 12q10 13 8 16z"/><path d="M859 141q-2 3 18 15q20 11 28-2q8-13 6-16q-2-4-5-5q-4-1-25 3q-21 3-22 5z"/><path d="M590 58q6 1 18 14q11 12 9 13q-2 0-23-3q-21-4-24-8q-3-5 5-11q9-5 15-5z"/><path d="M298 -2q3-4 12-2q9 1 22 13q13 12-4 15q-18 3-25-10q-7-13-5-16z"/><path d="M871 131q-19 3-26-8q-8-11-7-13q2-3 12-3q11 0 25 10q14 11-4 14z"/><path d="M1136 228q1 12-12 13q-12 2-22-4q-9-7-4-18q5-11 21-6q16 4 17 15z"/><path d="M31 249q2-5-13-15q-15-11-20-1q-6 9 5 16q12 6 19 6q7-1 9-6z"/><path d="M404 38q-12-12-26-11q-14 1-10 14q3 13 18 19q16 7 16 7q1 0 7-9q6-8-5-20z"/><path d="M908 158q-7 13-6 15q1 2 2 2q1 1 25 0q23-2 23-4q-1-2-19-13q-18-12-25 0z"/><path d="M776 72q-6 1-9 1q-2-1-13-10q-11-9-6-14q6-5 15-5q9 1 15 14q5 13-2 14z"/><path d="M907 125q-3-1-16-11q-13-10-10-15q2-5 18-5q16 0 21 13q5 13-3 16q-7 3-10 2z"/><path d="M842 67q-1 0-15 5q-14 6-3 15q12 8 22 8q10-1 13-6q3-5-7-14q-10-8-10-8z"/><path d="M1099 183q2 9 5 11q3 2 17 6q15 3 20 2q5-1 5-12q-1-10-7-14q-6-3-24-2q-18 0-16 9z"/><path d="M930 107q-6-17-6-17q1 0 23 4q22 4 32 14q11 11 5 17q-6 7-27 3q-21-5-27-21z"/><path d="M459 51q-4 5 2 12q6 8 21 12q16 3 15-9q-1-12-17-15q-16-4-21 0z"/><path d="M1039 157q-18 3-33-5q-15-8-19-13q-3-4 3-11q5-6 14-5q9 0 29 12q21 12 22 16q1 3-16 6z"/><path d="M1046 108q3 0 12 12q10 11 4 16q-5 5-22-4q-17-10-7-17q9-7 13-7z"/><path d="M598 22q20 10 29 4q9-6 7-11q-2-6-28-13q-26-8-30-5q-5 3-2 9q3 6 24 16z"/><path d="M943 24q18-1 19-1q1 1 5 16q4 15-12 13q-16-2-25-10q-9-9-7-13q1-3 20-5z"/><path d="M211 27q-12-3-15 4q-3 7 8 17q10 9 21 8q11-2 4-14q-6-12-18-15z"/><path d="M667 5q-21 3-22 4q-1 2 1 6q2 5 20 12q18 7 26-6q7-12 6-14q-1-2-6-4q-4-1-25 2z"/><path d="M616 101q5-10-19-14q-24-4-24-3q0 1 7 14q8 13 20 13q12-1 16-10z"/><path d="M1114 73q-10-1-7 12q3 14 8 17q5 3 18 0q13-3 10-12q-4-8-11-12q-8-4-18-5z"/><path d="M623 36q0 3-11 8q-11 5-19 4q-8-1-19-11q-11-10-3-17q7-8 30 2q22 10 22 14z"/><path d="M815 65q15-6-3-17q-18-10-20-11q-3 0-7 2q-4 1 2 16q6 14 10 15q3 1 18-5z"/><path d="M1112 66q-10-2-11-2q0 0-1-13q-1-12 14-11q15 1 19 4q4 2-4 12q-7 11-17 10z"/></g><g id="aga3"><path d="M610 941q1 15-6 15q-6 1-23-6q-18-7-21-15q-4-8 0-11q3-3 26-1q24 3 24 18z"/><path d="M780 953q8-2 11-10q4-8-3-12q-6-4-27-7q-22-4-23-3q-1 0 0 10q2 9 18 16q16 8 24 6z"/><path d="M741 890q11-7-1-18q-11-12-26-13q-15-2-16 8q-1 10 16 20q16 9 27 3z"/><path d="M468 850q16-3 15-13q0-10-7-13q-8-2-27 0q-19 2-21 6q-2 5 11 14q13 9 29 6z"/><path d="M520 941q13 7 22 3q9-4 6-10q-3-7-22-12q-20-5-20 4q0 8 14 15z"/><path d="M530 969q1-1 1-8q1-7-13-14q-14-7-24-5q-11 2-11 8q1 6 23 13q23 6 24 6z"/><path d="M466 1022q0 0-5-1q-4 0-18-9q-13-8-16-16q-2-7 0-8q3-1 25 4q22 5 18 18q-4 12-4 12z"/><path d="M784 893q1 0 2 14q0 14-22 10q-23-4-25-11q-3-6 8-13q11-6 23-4q13 3 14 4z"/><path d="M410 975q-9-3-19-13q-10-10-3-17q7-7 12-7q5 0 19 9q14 9 9 19q-5 11-7 12q-3 0-11-3z"/><path d="M781 980q-9-8-23-6q-14 2-14 3q0 1 11 12q12 10 23 4q12-6 3-13z"/><path d="M306 858q-11-16 13-13q25 4 25 13q-1 9-13 12q-13 3-25-12z"/><path d="M369 806q3 11 17 17q15 5 23 5q8-1 9-4q2-4-4-11q-6-8-24-14q-18-6-21-5q-3 0 0 12z"/><path d="M534 735q-2 1-2 5q0 4 12 15q12 10 23 12q11 2 17-2q6-3 0-13q-6-9-14-14q-9-5-22-5q-12 1-14 2z"/><path d="M878 972q-16-7-20-17q-4-10 16-9q19 0 29 10q10 9 8 15q-2 6-10 7q-7 1-23-6z"/><path d="M398 892q-8-1-25 9q-16 9 1 21q18 12 23 12q6 0 19-9q12-10 1-21q-11-12-19-12z"/><path d="M267 823q-19-11-12-20q6-9 27-5q20 3 23 7q3 3-7 16q-9 14-11 13q-2 0-20-11z"/><path d="M843 981q0 0 17 13q17 13 21 11q4-1 6-12q2-11-12-17q-13-5-23 0q-9 5-9 5z"/><path d="M272 902q-2 1-14-1q-13-1-25-9q-11-8-12-10q0-1 13-7q13-5 26 2q12 6 13 16q0 9-1 9z"/><path d="M279 793q-15-2-20-7q-4-6 3-10q6-5 23-1q17 5 13 13q-3 8-19 5z"/><path d="M454 962q11 1 18 13q7 12 4 13q-2 0-21-4q-19-4-15-13q4-10 14-9z"/><path d="M549 657q12-3 17-2q5 1 7 11q2 10-5 14q-8 4-12 3q-3-1-11-12q-8-11 4-14z"/><path d="M162 741q-3 8 22 19q24 11 28 10q4 0 4-13q1-13-3-16q-4-4-26-6q-23-2-25 6z"/><path d="M324 741q0 2-6 7q-7 5-26-2q-19-7-23-12q-3-6 9-13q12-7 28 6q17 12 18 14z"/><path d="M217 819q10-7-4-17q-13-9-23-9q-10 0-13 7q-3 8 8 16q11 9 16 10q5 0 16-7z"/><path d="M484 908q8 2 11 4q2 2 2 12q0 10-12 12q-13 3-29-9q-16-11 2-16q18-5 26-3z"/><path d="M369 995q2 5 11 11q10 6 24 1q15-5 12-12q-2-8-11-11q-9-3-24 2q-14 5-12 9z"/><path d="M556 638q-10-8-7-16q3-8 13-8q10-1 25 8q15 9 13 17q-1 7-11 9q-11 2-17 0q-6-1-16-10z"/><path d="M237 810q5 0 10-7q6-8 1-14q-5-6-17-10q-12-3-15-3q-3 0-7 8q-4 7 10 16q13 10 18 10z"/><path d="M931 984q13 8 27-1q14-9 7-14q-7-5-26-4q-19 1-21 6q-1 5 13 13z"/><path d="M895 920q-8-7 0-16q9-9 14-9q4 0 21 17q16 17 15 19q-2 1-22-1q-21-2-28-10z"/><path d="M742 775q-9 6-28-4q-18-10-5-17q14-8 25-2q12 6 14 11q3 6-6 12z"/><path d="M777 781q16 7 31 0q15-7-1-18q-16-10-34-7q-18 4-15 11q3 8 19 14z"/><path d="M844 793q-5-15-12-17q-6-1-20 5q-13 7-9 16q5 9 25 10q20 1 16-14z"/><path d="M959 904q10 8 2 16q-9 7-10 7q-2 0-15-14q-14-14-9-17q6-4 14-2q8 2 18 10z"/><path d="M425 651q6-4 6-5q-1-1-15-9q-15-8-26-2q-10 6-9 10q2 5 7 7q5 2 18 3q13 1 19-4z"/><path d="M969 883q-18 5-29 3q-10-3-12-7q-2-4 9-16q11-11 24-6q13 5 20 13q7 8-12 13z"/><path d="M515 512q-6-15 9-18q15-4 22-1q7 3 14 17q8 14 6 16q-2 3-16 5q-14 2-21-1q-8-4-14-18z"/><path d="M445 635q7-7 4-13q-4-6-24-10q-19-4-21-3q-3 0 0 7q2 7 18 16q17 9 23 3z"/><path d="M283 968q-10-1-15 6q-4 6-2 9q1 3 8 7q6 3 15 3q8 0 12-8q5-8-2-12q-6-4-16-5z"/><path d="M288 909q-2 0 0 10q2 9 9 13q7 3 16 3q9 0 7-9q-2-10-17-14q-14-4-15-3z"/><path d="M899 791q-5-8 4-14q9-6 27 2q18 8 22 20q5 12-4 14q-9 2-26-6q-17-8-23-16z"/><path d="M847 736q-1 1-15-3q-15-3-20-14q-6-12 10-12q16-1 21 2q5 3 5 15q0 12-1 12z"/><path d="M754 666q-5-1-17 7q-11 7-11 9q0 2 13 11q13 9 30 6q16-4 8-16q-8-11-13-14q-5-2-10-3z"/><path d="M97 896q1 4-10 12q-11 7-21-4q-11-11-5-15q6-3 20 0q14 4 16 7z"/><path d="M264 644q-3 2 4 9q7 8 31 15q24 6 30 4q6-2 7-8q2-5-14-15q-16-9-35-8q-20 0-23 3z"/><path d="M126 647q11 3 12 14q2 12-3 14q-4 2-6 2q-2-1-15-8q-13-7-6-16q8-8 18-6z"/><path d="M848 680q14-2 26 6q12 8 10 14q-2 6-18 6q-15-1-20-3q-5-3-8-12q-4-9 10-11z"/><path d="M246 604q-7-2-20 3q-14 5-13 14q2 9 4 12q2 2 6 4q4 2 20 4q15 3 18 0q3-2-3-19q-5-17-12-18z"/><path d="M500 493q-10-3-15-7q-4-4-1-14q3-11 17-9q14 1 16 2q1 1 10 13q8 12-4 15q-13 3-23 0z"/><path d="M150 735q-2 6-8 8q-5 2-25-10q-21-12-17-17q3-4 4-4q1 0 22 6q21 7 23 10q2 2 1 7z"/><path d="M795 671q-20 0-11 13q10 14 13 15q4 2 22 1q18 0 14-11q-5-11-11-15q-7-3-27-3z"/><path d="M75 721q-6 2-32-8q-25-10-27-14q-2-5 17-13q18-8 38 6q20 14 15 21q-4 6-11 8z"/><path d="M685 802q-11-7-19-6q-8 0-13 7q-5 8 9 17q14 9 25 3q10-5 9-10q0-5-11-11z"/><path d="M563 510q-7-14 9-16q15-3 35 11q20 15 16 18q-3 3-28 2q-25-2-32-15z"/><path d="M244 929q8 7 7 10q-1 3-15 4q-14 1-22-4q-7-4-4-12q3-8 15-6q12 1 19 8z"/><path d="M552 538q-12 2-11 7q0 5 15 14q14 9 26 5q11-3-4-16q-15-12-26-10z"/><path d="M100 998q4-10 27-6q24 4 21 17q-2 13-27 8q-25-6-25-7q-1-1 4-12z"/><path d="M614 439q-7-11-23-14q-15-4-18-1q-2 4 5 13q7 9 25 10q19 2 11-8z"/><path d="M242 527q14 2 19 12q6 9-9 11q-15 2-22-8q-8-11-5-14q3-3 17-1z"/><path d="M875 641q-11-9-23-11q-12-2-15 8q-2 10 11 17q12 6 25 1q13-6 2-15z"/><path d="M654 485q6 4 26-1q19-4 19-4q0 0-5-8q-5-8-16-11q-11-3-25 0q-13 3-9 11q5 9 10 13z"/><path d="M58 676q-1-2 8-6q9-4 14-3q4 1 17 8q13 7 2 16q-10 9-11 9q-1 0-15-11q-15-10-15-13z"/><path d="M895 619q16 3 17 16q0 12-5 14q-5 2-11 0q-7-1-18-10q-11-9-4-17q6-7 21-3z"/><path d="M204 623q1 9-23 3q-24-5-30-12q-5-6 9-11q15-5 29 3q14 8 15 17z"/><path d="M760 566q-2 1-24-6q-22-7-18-19q4-12 22-5q18 7 20 18q2 11 0 12z"/><path d="M125 572q-8 3 2 14q10 11 11 12q1 0 13-4q12-4 11-8q-1-4-15-11q-13-6-22-3z"/><path d="M447 438q15 2 16-9q1-11 0-12q-2-1-20-5q-19-4-20-3q-1 0 5 14q5 13 19 15z"/><path d="M977 624q-2 3-7 4q-4 1-21-5q-17-6-15-13q2-8 12-9q9-2 10-2q1 1 12 12q11 11 9 13z"/><path d="M1084 711q13 8 13 10q0 2-16 6q-16 5-23 1q-7-4-11-11q-5-7-1-13q4-5 15-3q10 1 23 10z"/><path d="M275 446q-12 3-14 10q-1 7 7 16q8 9 26 5q18-4 18-13q1-8-13-15q-13-7-24-3z"/><path d="M741 512q-15-1-21 3q-6 5-3 9q3 3 21 10q18 7 30 3q13-5 0-14q-12-10-27-11z"/><path d="M243 485q12 2 20-2q7-5 7-5q0 0-8-8q-8-9-27-11q-20-3-23 0q-3 3 7 13q11 10 24 13z"/><path d="M163 497q-7 3-8 6q-1 2 10 13q10 10 27 10q17 0 21-3q3-4-4-12q-7-8-22-13q-16-5-24-1z"/><path d="M771 446q5 12 4 13q-1 2-9 2q-8 0-24-7q-16-7-18-11q-2-5 0-6q2-2 22-3q20 0 25 12z"/><path d="M1068 937q-8-9-4-16q3-7 10-9q7-1 26 12q19 13 1 19q-18 6-22 4q-4-1-11-10z"/><path d="M1009 514q9-3 17-1q8 2 16 8q7 7-1 16q-8 10-23 5q-16-6-17-15q-1-10 8-13z"/><path d="M619 383q-16 4-23 3q-7-2-10-17q-3-15 15-15q18 1 26 13q9 12-8 16z"/><path d="M348 387q1 7-12 8q-13 2-30-8q-17-9-10-18q8-9 17-8q9 0 22 10q12 9 13 16z"/><path d="M849 504q-3-5-20-10q-17-4-21 1q-4 5 3 14q7 10 19 11q11 1 16-5q5-5 3-11z"/><path d="M253 404q7 1 16-10q9-12-11-19q-20-8-30-3q-9 5 4 18q14 12 21 14z"/><path d="M48 510q-1 10-23 9q-23-1-25-2q-2-2-5-19q-4-17 12-16q15 1 28 9q13 9 13 19z"/><path d="M770 424q0 1-25 1q-25 1-29-10q-4-11 10-16q13-5 22-2q8 2 15 14q8 12 7 13z"/><path d="M879 490q14 0 19-6q5-7 2-13q-4-6-10-8q-7-3-22 1q-15 5-9 15q5 11 20 11z"/><path d="M858 542q12 13 12 13q0 0-22 2q-21 1-31-10q-11-11-3-16q7-4 20-3q12 1 24 14z"/><path d="M194 307q7 4 10 14q3 10-12 11q-15 1-27-11q-12-11-11-14q2-3 17-3q16-1 23 3z"/><path d="M87 579q15-4 17-4q2 0 14 13q12 13-4 15q-17 2-30-6q-12-8-12-11q1-3 15-7z"/><path d="M994 665q17-1 3-14q-13-12-18-12q-4 1-8 8q-4 7 1 13q6 5 22 5z"/><path d="M544 392q-17-7-19-13q-2-6 6-10q8-5 29 4q20 10 10 18q-10 8-26 1z"/><path d="M1091 571q4-1 9-9q5-7-1-14q-5-7-22-11q-16-3-24 6q-7 10-6 11q0 1 20 9q19 9 24 8z"/><path d="M473 375q-7-13 0-15q6-2 24 5q17 8 20 14q2 6-9 10q-12 4-20 1q-9-2-15-15z"/><path d="M224 387q12 11 6 14q-6 2-23-1q-17-3-15-15q1-13 10-11q9 2 22 13z"/><path d="M1049 620q14-2 16-10q3-8-20-15q-23-7-25-7q-2 1 3 16q6 16 9 17q3 1 17-1z"/><path d="M955 498q-2-4 3-8q6-4 16-2q11 3 19 10q9 8 0 11q-9 3-22-2q-14-4-16-9z"/><path d="M1116 676q-12-4-16-7q-4-4 1-12q4-9 11-9q8 0 13 3q6 2 10 14q5 12-1 14q-5 1-18-3z"/><path d="M1037 663q12-8 4-20q-9-12-12-13q-4-2-22-2q-18 0-21 3q-2 4 16 21q18 17 20 18q3 1 15-7z"/><path d="M286 369q-7 8-7 8q-1 0-19-7q-18-7-21-15q-2-8 13-9q15-2 28 6q13 9 6 17z"/><path d="M856 408q21 6 23 7q1 1 1 2q0 0-9 9q-9 9-24 6q-16-4-18-16q-3-12 2-14q5-1 25 6z"/><path d="M508 340q-19-6-20-7q-1-2 1-6q1-4 20-5q18-1 25 6q8 6 8 6q0 1-7 6q-7 5-27 0z"/><path d="M277 275q10 5 26 1q15-3 16-9q0-5-28-18q-28-13-30-13q-1 0-5 2q-3 2 5 17q7 15 16 20z"/><path d="M65 451q7-9-7-14q-15-5-23-2q-8 3-9 8q0 4 5 9q6 5 16 6q11 2 18-7z"/><path d="M1005 448q8-7 26-1q18 6 20 20q1 14-22 7q-22-7-27-13q-4-6 3-13z"/><path d="M614 332q9 9 6 14q-2 4-20 4q-18-1-31-8q-13-8-13-9q0-1 21-7q21-6 24-5q4 1 13 11z"/><path d="M975 455q18 3 23 9q5 6-1 14q-7 8-20 5q-14-3-23-15q-8-12-3-14q6-3 24 1z"/><path d="M1145 606q0-4-20-14q-19-10-23-9q-5 1-6 9q-2 8 13 14q14 6 26 5q11-1 10-5z"/><path d="M63 380q3-14 6-14q3 0 26 12q24 13 18 21q-6 8-12 8q-6 1-23-6q-17-8-15-21z"/><path d="M238 284q-11-12 8-11q19 0 26 4q7 4 7 6q0 1-14 7q-14 7-15 7q-2-1-12-13z"/><path d="M659 322q-4-3-16-5q-12-3-22 2q-11 6-2 14q8 9 22 10q15 2 20-2q5-4 4-10q-2-6-6-9z"/><path d="M794 328q-13-2-21-10q-9-8-5-14q3-5 9-4q6 0 17 7q12 8 12 16q0 8-12 5z"/><path d="M81 442q0 0 11 5q11 5 12 13q2 9-11 11q-12 2-20-4q-7-7 0-16q7-9 8-9z"/><path d="M211 274q2 1 14 14q11 13-4 15q-14 2-21-1q-7-4-9-13q-1-10 8-13q10-3 12-2z"/><path d="M72 471q10 7 10 13q0 6-15 9q-14 3-27-6q-14-9-9-18q5-10 19-8q13 2 22 10z"/><path d="M300 172q-11 1-1 18q10 18 32 17q23 0 19-11q-3-11-21-18q-18-7-29-6z"/><path d="M825 334q4 3 17 1q14-2 15-5q0-3-8-10q-8-8-18-5q-10 2-10 9q0 7 4 10z"/><path d="M389 181q-18-3-25 1q-8 4-4 15q3 11 4 12q2 1 18 5q16 5 23 4q8-1 12-7q5-6-3-16q-8-10-25-14z"/><path d="M361 229q-1 19 9 22q10 4 22-1q12-4 8-17q-4-14-20-18q-17-5-19 14z"/><path d="M687 223q4 1 14 11q9 10-2 14q-11 4-19 2q-9-2-15-13q-7-11 5-13q12-2 17-1z"/><path d="M218 86q-11-6-13-6q-1 0-9 13q-9 13 4 18q12 6 24 5q11 0 8-11q-3-12-14-19z"/><path d="M972 381q-13 4-2 20q11 15 19 18q8 2 20-3q11-6-4-22q-15-16-17-17q-2-1-16 4z"/><path d="M652 301q-1 11-12 9q-11-2-21-13q-9-11-8-13q1-1 3-2q2 0 21 4q19 5 17 15z"/><path d="M521 194q16-6 20-5q5 2 13 10q7 9 1 15q-6 6-24 1q-18-6-21-10q-4-5 11-11z"/><path d="M1026 369q1-2 17-4q16-1 26 7q10 8 7 16q-2 8-9 9q-8 1-25-12q-18-13-16-16z"/><path d="M1038 328q-1 3 11 14q13 12 27 9q13-2 9-13q-4-10-24-11q-21-1-23 1z"/><path d="M937 304q2-6 19-2q17 4 23 15q7 12-6 15q-13 3-26-9q-12-12-10-19z"/><path d="M160 365q20-3 14-12q-5-8-28-14q-24-5-29 0q-5 5 9 17q14 12 34 9z"/><path d="M138 143q-2 4 9 13q11 8 15 8q4 1 11-6q7-6 0-12q-7-5-20-6q-14-1-15 3z"/><path d="M752 272q0-9-13-17q-14-8-14-8q0 0-14 5q-13 5-4 15q9 9 27 11q18 3 18-6z"/><path d="M127 180q-18-2-24 2q-7 4 9 16q16 12 33 10q17-1 8-13q-8-12-26-15z"/><path d="M241 194q-7 0-8 2q-2 1 11 18q14 18 15 18q2 0 18-8q16-9-7-19q-22-11-29-11z"/><path d="M826 200q12 10 23 4q11-6 4-15q-6-9-12-12q-6-2-16 5q-11 7 1 18z"/><path d="M767 184q-4 2-22-3q-19-5-23-10q-4-5 6-16q9-10 17-10q8 1 16 4q8 3 9 18q2 15-3 17z"/><path d="M1135 321q3 15-22 10q-25-5-27-16q-3-12 14-15q17-4 24 1q7 5 11 20z"/><path d="M629 145q9-1 19 4q11 5 10 15q-2 10-8 10q-7 0-20-8q-13-9-12-15q2-5 11-6z"/><path d="M537 133q-19 4-10 14q10 10 28 12q18 1 10-15q-8-15-28-11z"/><path d="M1003 286q6 1 7-11q2-11-12-19q-13-8-27-6q-14 3-13 8q2 5 20 16q19 12 25 12z"/><path d="M323 95q14 10 8 15q-5 5-20 3q-16-2-22-10q-6-7-4-10q1-2 13-4q12-3 25 6z"/><path d="M247 58q0 0-13 2q-12 2-17 8q-4 5 9 13q13 8 32 9q19 1 20-2q1-2-15-16q-15-14-16-14z"/><path d="M939 224q-14 7-14 7q0 1 13 8q13 8 24 6q11-2 13-9q3-7-2-12q-5-6-13-6q-7-1-21 6z"/><path d="M867 160q-17-10-20-9q-2 0-7 9q-5 10-4 11q2 2 7 4q4 2 24 1q20-1 18-3q-1-2-18-13z"/><path d="M29 285q17 12 28 2q12-10-4-20q-15-9-24-9q-9 1-13 8q-4 7 13 19z"/><path d="M90 61q-14-12-10-18q4-6 33 5q30 10 24 17q-5 7-19 7q-14 1-28-11z"/><path d="M36 173q16 3 21 7q6 5 0 12q-5 7-16 6q-10-1-21-12q-11-10-5-13q6-3 21 0z"/><path d="M323 70q10-2 12-7q1-5-14-15q-15-9-22-8q-6 2-8 8q-1 6 10 15q11 8 22 7z"/><path d="M266 166q0 0-23-6q-23-5-28-3q-4 2 7 16q11 14 17 14q6-1 16-11q11-10 11-10z"/><path d="M1092 241q8 6 8 13q-1 8-21 5q-20-4-24-10q-4-7 1-12q5-5 16-3q11 1 20 7z"/><path d="M117 46q24 8 24 8q1 0 1-8q1-9-7-15q-7-7-9-7q-1-1-17 2q-17 3-17 4q-1 1 1 4q1 3 24 12z"/><path d="M642 85q-6 2 11 17q18 15 29 15q11-1 13-12q2-11-22-16q-24-5-31-4z"/><path d="M301 135q12 8 25 7q12-1 5-11q-7-9-21-11q-15-2-18 3q-3 5 9 12z"/><path d="M1030 189q-8-6-26-3q-18 3-16 9q2 5 25 10q22 5 23-3q1-8-6-13z"/><path d="M916 137q-1-3 8-6q9-4 29 0q19 4 22 8q4 5-7 15q-12 10-31-2q-19-12-21-15z"/><path d="M1020 336q-14 2-3 16q11 14 27 13q15-1 16-4q1-3-12-16q-13-12-28-9z"/><path d="M1070 195q-21-1-22 8q-1 9 4 15q6 6 20 8q14 2 20-12q6-13 3-16q-4-2-25-3z"/><path d="M1024 169q1 7 10 14q9 6 31 7q21 1 18-11q-3-12-12-18q-10-5-29-3q-18 3-18 11z"/><path d="M773 18q6 10 3 12q-4 2-13 1q-10 0-26-10q-16-10-17-12q-1-2 9-6q10-4 24 0q13 5 20 15z"/><path d="M305 78q0 3-11 5q-11 3-24-9q-13-12 1-13q15-2 25 6q10 8 9 11z"/><path d="M1027 106q13-10-10-23q-23-13-24-13q-1 0-10 11q-8 11 2 22q11 11 20 12q10 0 22-9z"/><path d="M431 53q16 1 23 10q7 10 0 16q-7 6-30-2q-22-9-15-17q6-9 22-7z"/><path d="M521 14q-12-12-21-13q-9-1-20 5q-10 5 11 19q22 14 31 8q10-7-1-19z"/><path d="M804 1q15 3 21 12q6 8-10 13q-17 4-20 4q-3-1-11-14q-8-12-2-15q6-3 22 0z"/><path d="M1059 28q10-3 19 2q8 5 9 18q1 13-14 10q-14-2-20-5q-5-3-6-4q-1-1 0-9q1-9 12-12z"/><path d="M1078 17q0-2 13-6q13-5 21-2q8 3 10 12q2 10-13 8q-15-1-23-5q-8-5-8-7z"/><path d="M1098 82q-4-15-4-15q0 0-16-3q-17-3-17 13q-1 15 20 18q20 2 17-13z"/></g></defs><g fill="#26262c" transform="translate(-4,6)"><use href="#aga"/><use href="#aga2"/><use href="#aga3"/></g><use href="#aga" fill="url(#ga)"/><use href="#aga2" fill="url(#ga2)"/><use href="#aga3" fill="url(#ga3)"/><path d="M679 943L672 913L617 900L613 903L615 922L673 945L674 945ZM618 923L676 941M734 915L732 917L677 910L670 884L691 878L729 900ZM576 860L639 874M610 957L596 958L559 943L552 927L558 919L609 925ZM514 885L547 893L558 919L551 926L501 914L496 909ZM499 909L555 918M697 987L674 946L673 946L632 965L654 987L696 988ZM601 997L587 982L597 958L610 958L631 965L653 987L646 1000ZM625 856L640 845L679 846L693 855L691 878L669 883L642 875ZM509 881L508 858L544 854L558 860L551 891L547 892L514 885ZM794 953L802 934L787 924L735 916L733 917L736 939L774 957ZM732 917L677 910L673 913L680 943L712 948L735 939ZM696 989L654 988L647 1000L667 1024L705 1028L712 1006ZM736 979L697 987L674 946L680 944L712 949L737 976ZM753 885L727 859L694 856L692 878L729 899ZM509 881L507 858L486 847L453 852L457 867ZM535 971L586 982L596 958L559 943L536 954ZM783 890L787 867L749 846L728 859L754 884ZM678 831L680 846L693 855L727 858L749 845L748 842L702 818ZM572 859L558 859L544 854L513 822L514 822L572 822L587 849ZM486 846L485 825L470 819L429 824L426 833L453 852ZM615 895L616 899L612 903L551 891L559 860L573 860ZM561 862L613 898M558 1026L563 1010L532 987L499 997L526 1023ZM456 867L452 852L425 833L406 834L397 861L412 876L448 874ZM532 973L531 987L499 996L486 994L467 961L475 957ZM473 941L439 916L431 914L403 935L438 957L466 960L474 956ZM469 1026L458 1024L425 1004L420 986L426 984L479 996L469 1026ZM786 892L787 924L735 915L729 900L754 885L783 891ZM774 958L735 940L713 949L738 976L773 971ZM716 950L771 970M835 904L804 932M506 784L531 786L573 817L571 822L513 821L502 789ZM624 855L639 844L606 810L574 818L572 822L588 849ZM506 784L531 786L556 771L525 743L486 756L485 761ZM835 979L795 953L803 934L837 937L850 944L858 966ZM322 916L329 941L348 950L372 952L390 934L352 909L349 908ZM786 892L837 902L840 880L807 865L788 867L784 890ZM644 810L677 831L679 846L640 844L607 810L607 809ZM642 875L669 884L676 910L672 913L617 900L616 895ZM350 827L369 821L405 834L396 861L351 847ZM350 848L351 847L396 861L411 876L405 889L388 888L349 870ZM505 784L484 761L444 759L438 784L439 785L448 789L501 789ZM773 972L738 977L737 980L767 1006L798 991ZM289 839L309 811L349 827L350 847L349 847L291 840ZM348 846L292 838M478 718L524 732L524 742L485 756L454 726L455 724ZM501 789L513 821L512 822L485 825L470 819L449 789ZM291 840L349 848L348 870L318 877ZM370 820L405 833L425 833L428 823L415 805L370 790L362 792ZM587 776L557 772L532 786L574 817L606 809L606 808ZM610 957L609 926L614 923L673 945L631 965ZM319 877L348 870L388 888L352 908L349 908L318 878ZM738 799L700 806L674 791L680 763L686 763L735 789ZM700 804L687 765M438 785L415 805L370 790L387 765L437 784ZM835 980L807 993L839 1023L853 1025L874 1018L877 1010ZM810 994L871 1017M610 768L654 792L644 809L607 808L587 776L603 767ZM484 760L485 756L454 726L413 738L443 759ZM454 728L445 758M530 729L564 728L569 704L561 693L550 689L506 690ZM850 944L838 937L842 907L884 915L901 933L891 945ZM582 682L630 695L613 715L570 704L561 693ZM285 839L288 839L290 840L318 877L317 877L281 880L249 863L248 858ZM685 763L721 742L717 736L690 720L671 718L648 739L661 754L680 762ZM680 761L690 721M858 966L850 944L891 945L913 966L909 978L892 980ZM388 888L352 909L390 934L402 935L430 914L405 889ZM404 891L391 932M437 784L387 765L386 763L399 735L413 738L443 759ZM453 724L453 726L413 737L399 735L382 722L386 704L405 697L424 701ZM245 815L284 838L247 858L209 831L234 814ZM331 745L385 763L386 765L369 789L361 791L322 778L316 757ZM892 945L902 933L949 938L959 964L913 965ZM300 964L318 975L339 977L348 951L328 942L304 943ZM331 744L385 763L398 735L381 722L363 720L330 740ZM384 761L363 722M245 814L259 796L302 804L308 811L288 839L285 838ZM477 718L471 694L446 686L425 701L454 724ZM803 811L811 837L807 838L760 834L750 807ZM753 808L809 836M798 991L767 1007L768 1013L813 1032L838 1023L806 993ZM278 906L246 902L216 881L215 878L249 864L281 881L282 905ZM259 796L247 781L266 768L313 781L302 803ZM328 738L320 701M466 961L486 994L479 995L426 984L438 958ZM465 962L478 994M486 846L486 825L513 822L543 854L508 858ZM577 654L582 682L630 694L631 694L641 675L600 650ZM247 858L248 863L215 877L168 850L196 830L208 831ZM172 850L244 858M262 728L221 715L211 738L219 745L256 754L270 740ZM587 741L627 731L613 715L570 704L564 729ZM208 771L209 739M615 768L672 789M330 744L315 756L271 740L263 728L291 712L329 740ZM233 814L200 791L177 791L169 809L196 829L208 831ZM495 909L500 914L501 935L474 940L439 916L478 905ZM478 906L499 934M367 1001L389 1016L424 1004L419 986L398 978L362 990ZM159 891L148 860L164 850L168 851L214 877L215 881L187 898L163 893ZM439 785L415 805L429 823L469 819L448 789ZM600 633L563 648M159 891L147 860L113 856L99 865L107 884ZM943 997L976 976L960 964L914 966L910 978ZM164 850L167 850L195 830L169 809L128 804L126 822ZM245 902L235 919L207 915L188 898L216 881ZM630 627L617 599L574 588L569 590L570 611L604 632ZM861 818L853 849L811 837L803 811L805 810L851 812ZM696 694L690 719L671 717L632 694L641 675L642 675ZM884 915L904 895L915 895L953 934L949 938L902 933ZM667 639L672 654L642 674L641 674L601 649L604 633L631 628L660 634ZM893 980L910 978L943 998L949 1012L937 1016L888 1007ZM842 906L883 915L903 894L859 875L841 880L838 902ZM387 661L372 655L341 662L337 673L385 703L404 696ZM497 640L510 628L489 602L457 606L451 615L461 631ZM746 665L718 682L673 654L668 639L715 641ZM742 664L676 654M735 788L686 763L721 742L752 758L759 773ZM690 763L750 759M790 750L790 739L753 718L719 736L722 742L752 758ZM787 740L725 742M315 757L321 778L313 781L266 767L257 755L271 740ZM491 599L512 597L520 576L510 565L477 554L462 570ZM479 556L510 595M290 711L289 705L266 691L226 685L211 689L213 705L221 714L262 727ZM113 855L87 826L125 822L164 850L148 859ZM115 854L125 824M425 571L401 535L432 531L473 550L476 554L461 569ZM474 554L405 537M860 875L903 894L914 894L930 884L925 875L895 856L859 854ZM456 606L450 615L398 604L411 576L422 574ZM424 571L400 535L387 531L352 545L366 563L410 575L422 573ZM409 574L400 537M859 875L858 854L853 849L811 837L808 839L808 865L841 880ZM810 840L857 873M840 777L825 773L794 788L804 809L851 812ZM510 565L538 549L537 536L522 529L489 526L474 550L477 554ZM477 550L536 548M718 688L750 709L752 717L718 736L691 719L696 694ZM271 961L259 979L220 961L217 945L252 944ZM220 946L269 961M361 500L385 486L420 494L434 505L431 531L400 535L387 530L361 501ZM386 488L400 532M835 979L806 993L798 991L774 972L775 958L794 954L835 979ZM424 700L405 697L387 661L425 663L445 686ZM873 819L902 837L938 838L942 821L903 803ZM176 790L139 765L110 773L109 787L128 804L169 808ZM317 698L275 666M391 605L355 593L352 587L366 563L410 576L398 604ZM442 650L441 648L399 624L368 641L372 654L387 660L424 663ZM872 820L901 837L895 856L859 853L853 849L861 818ZM893 854L863 820M470 1026L480 996L486 994L499 997L525 1023L512 1033ZM952 890L931 884L926 875L950 851L977 862L991 879ZM332 540L351 545L365 563L351 587L302 560ZM325 678L337 674L385 704L381 722L363 720L320 699ZM943 998L977 976L992 981L1012 1003L977 1022L950 1012ZM720 624L671 600L660 634L668 639L715 640ZM176 790L200 790L209 773L159 750L143 756L139 765ZM812 734L825 771M539 630L545 613L512 597L492 600L490 602L510 628ZM318 976L306 998L330 1010L366 1001L361 990L339 977ZM339 979L331 1008M1027 964L1027 962L1015 950L958 934L954 935L950 939L960 964L977 976L992 980ZM776 635L758 666L746 665L716 641L721 624L740 619ZM460 631L450 615L398 604L392 606L399 624L442 647ZM511 653L528 658L562 650L539 631L510 628L498 640ZM538 632L512 652M87 825L125 821L127 804L108 787L72 791L75 822ZM272 962L259 980L264 988L282 998L305 998L318 975L299 964ZM315 976L262 980M159 891L107 885L100 891L104 900L149 926L152 926L162 894ZM107 900L160 894M488 672L510 653L497 640L461 631L442 648L443 650ZM507 653L445 648M279 907L283 932L303 942L328 941L322 916L282 905ZM263 990L253 1029M511 565L539 549L574 572L574 587L569 590L521 576ZM472 693L497 686L488 672L443 651L425 663L446 686ZM488 672L510 653L528 659L550 689L506 689L497 686ZM490 672L547 688M849 774L846 740L849 739L899 750L907 757L910 769L889 783ZM807 839L760 834L749 842L750 846L787 867L807 865ZM889 783L911 770L953 789L963 816L943 820L903 803ZM467 511L435 506L432 531L473 550L488 526ZM938 838L949 851L926 875L896 856L902 838ZM846 739L811 732L798 704L836 703L848 709L848 739ZM215 946L179 965M157 727L96 707L126 682L132 682L160 707ZM943 821L938 838L950 851L977 861L1000 848L983 822L964 816ZM951 850L982 823M953 788L990 774L950 751L908 757L911 770ZM914 769L986 774M1062 849L1045 864L1001 848L984 822L997 820L1051 836ZM660 634L631 627L617 599L641 585L669 597L671 600ZM747 665L719 683L719 688L750 708L789 701L771 672L758 667ZM259 980L263 988L225 997L193 970L220 962ZM103 900L73 921L46 891L62 882L100 891ZM149 927L116 939L127 959L157 973L177 967L161 931L152 927ZM149 928L157 970M1014 888L1046 866L1087 898L1080 911L1065 913L1016 892ZM367 640L336 617L305 624L307 641L341 661L371 654ZM298 561L286 587L335 604L354 593L351 587L302 561ZM555 497L589 491L591 485L574 461L520 461L541 491ZM160 994L158 973L178 967L192 970L224 997L220 1011L203 1011ZM617 598L640 584L628 568L605 563L575 572L574 587ZM259 648L274 663L324 678L336 673L340 661L306 642L266 643ZM964 816L984 821L997 820L1013 795L993 775L990 775L953 789ZM520 426L517 428L516 459L519 461L574 460L578 453L558 427ZM140 643L144 676L132 682L126 681L89 660L110 636ZM263 524L278 551L297 560L301 560L331 540L315 527L271 519ZM266 526L301 558M996 735L1015 761L993 775L990 774L951 751L951 732L964 726L978 726ZM1012 760L953 733M899 750L896 718L888 711L849 709L849 739ZM894 718L851 711M567 531L605 563L628 568L635 559L625 530L571 527ZM605 561L623 531M1058 810L1052 836L997 820L1013 795L1056 808ZM963 725L950 732L896 718L889 711L894 695L921 691ZM163 894L187 898L206 915L199 934L162 931L153 926ZM863 675L893 695L888 710L848 709L836 703L827 680ZM237 601L207 612L209 633L214 638L224 643L258 648L265 643L252 604ZM802 811L750 806L739 799L736 789L759 774L793 788L804 809ZM1104 895L1087 897L1046 866L1046 865L1063 849L1102 857L1119 866ZM106 884L99 865L48 849L42 852L62 882L100 891ZM485 491L474 481L482 456L515 459L519 461L540 491L509 498ZM477 481L517 463M138 764L142 756L84 721L70 725L66 748L110 772ZM135 763L73 727M634 522L626 530L636 559L692 562L695 556L653 521ZM473 481L481 456L464 446L428 442L417 446L415 450L437 476ZM1056 808L1013 794L993 775L1016 762L1048 767L1065 782ZM997 776L1062 782M158 749L142 756L84 721L93 708L96 707L157 727L163 734ZM5 849L-18 825L19 809L26 810L53 824L48 848L41 851ZM1028 964L993 981L1013 1003L1025 1007L1060 1003L1058 985ZM108 787L72 790L44 778L54 750L65 749L109 773ZM56 752L105 785M926 684L907 654L891 650L861 664L863 674L893 695L921 690ZM1105 896L1088 898L1081 911L1125 940L1133 942L1158 923L1154 916ZM771 673L790 701L798 704L835 703L826 680L813 673ZM485 491L473 481L437 476L421 494L435 505L467 510ZM738 800L700 807L702 818L749 842L759 834L749 807ZM777 636L780 636L810 649L812 672L771 672L759 666ZM264 602L305 624L336 616L335 605L286 587L273 589ZM254 936L252 943L272 961L299 963L303 942L283 932ZM641 584L629 568L636 560L692 562L703 583L669 597ZM437 476L415 450L369 460L385 485L420 494ZM414 452L387 484M1059 811L1052 836L1063 848L1102 856L1108 825L1105 822ZM370 459L374 425M69 724L17 704L13 695L51 677L92 707L83 721ZM143 643L141 643L145 676L198 682L176 653ZM194 680L144 644M674 791L655 792L645 810L677 831L701 818L700 807ZM266 690L273 663L259 648L224 643L226 684ZM18 654L49 669L75 658L41 621L19 621ZM265 767L256 755L219 745L218 772L246 781ZM221 747L246 780M776 635L779 635L803 608L762 591L738 597L741 619ZM556 497L590 491L633 522L625 529L571 526ZM659 491L667 509L652 521L633 522L590 491L592 486L645 482ZM254 935L251 943L217 945L200 934L207 915L235 919ZM464 446L467 419L516 428L515 459L481 456ZM297 560L285 587L272 589L236 559L238 556L277 551ZM262 524L225 519L208 500L230 486L260 492L270 519ZM740 618L737 596L704 583L670 597L672 600L720 624ZM538 536L539 549L575 572L604 563L567 531ZM155 621L177 652M101 987L153 996L148 1025L92 1013L91 1010ZM810 649L831 648L860 664L863 674L827 679L813 672ZM85 968L57 934L58 931L73 925L115 939L126 959L87 969ZM155 998L190 1030M610 428L567 418L559 427L578 453L632 458ZM253 604L266 643L306 641L305 624L263 602ZM780 635L804 608L810 608L836 624L830 647L810 649ZM992 879L978 862L1001 849L1045 865L1045 866L1013 888ZM262 524L277 551L238 556L217 527L225 520ZM238 554L226 521M644 481L592 485L575 461L579 453L632 459L634 460ZM865 629L836 624L831 647L860 663L891 650ZM659 491L708 480L708 480L696 461L668 452L635 460L645 481ZM1059 985L1094 983L1118 1011L1081 1013L1060 1003ZM361 500L384 485L368 460L355 454L318 454L317 472ZM4 714L17 705L69 725L65 748L53 750L21 741ZM1032 706L987 698L979 726L996 734L1045 725ZM1119 768L1116 791L1066 782L1049 767L1069 745ZM50 669L76 659L89 660L125 681L95 707L92 707L51 677ZM271 519L315 526L320 507L277 482L261 492ZM317 507L263 493M1154 963L1133 942L1125 941L1084 955L1100 973L1133 978ZM1132 976L1125 942M45 891L73 922L73 924L57 931L-2 901L-4 895L11 885ZM2 902L45 893M522 388L561 405L566 418L558 427L520 426L497 395ZM1015 950L1018 927L1056 931L1074 951L1028 962ZM704 583L693 562L696 556L711 554L758 569L762 590L737 596ZM478 718L524 732L529 729L506 690L497 687L472 694ZM208 633L153 620L141 605L174 594L206 612ZM660 491L668 509L714 520L726 510L708 481ZM1065 737L1069 745L1048 767L1016 761L997 735L1046 726ZM711 553L695 556L653 521L668 509L714 521L720 528ZM-7 653L-8 682L12 694L50 677L49 669L18 654ZM975 670L958 655L919 649L908 654L927 684L972 686ZM237 599L236 562M85 968L43 971L38 984L90 1009L100 986L87 969ZM1108 724L1144 759L1142 761L1120 767L1070 745L1066 737ZM1044 691L1033 705L987 697L973 687L976 671L1022 669L1027 671ZM216 528L176 528L171 543L200 564L235 559L237 556ZM927 597L888 580L871 599L880 610L917 619L921 618ZM109 574L138 604L140 605L173 594L170 582L133 564ZM140 603L134 566M316 526L320 507L360 501L386 531L351 545L332 540ZM53 823L27 809L30 779L44 779L72 791L74 821ZM983 632L970 634L922 618L928 597L955 593L957 594L989 625ZM931 598L986 624M56 934L57 931L-2 902L-22 925L-3 942L16 946ZM-2 941L53 931M197 564L136 564M289 438L317 454L354 453L348 434L320 418L284 423ZM1029 964L1029 962L1074 952L1083 955L1099 973L1094 982L1059 984ZM1105 718L1048 724M262 461L314 454M635 459L632 458L611 428L633 418L652 422L667 452ZM2 853L11 884L45 891L61 882L41 852L5 850ZM66 531L68 542L104 572L109 573L132 564L131 543L113 533ZM426 355L428 383L465 394L477 390L462 362ZM428 357L464 392M915 533L910 555L876 560L847 528L861 514ZM912 533L877 558M727 510L715 521L721 528L759 543L785 534L758 513ZM757 514L723 528M150 620L102 627M887 579L876 561L822 564L819 571L828 586L870 599ZM762 464L748 484L709 480L697 461L720 446ZM360 500L317 473L278 481L278 482L320 506L360 501ZM320 505L317 474M260 407L283 423L288 438L262 446L229 430L228 410L244 404ZM485 492L467 510L488 526L522 528L509 498ZM519 527L486 493M759 569L763 590L803 607L810 608L827 586L818 571L763 566ZM957 593L1012 586L972 559L943 572L955 592ZM879 610L870 599L828 587L811 608L836 624L864 628ZM934 528L969 543L972 558L943 572L911 555L916 533ZM260 492L277 481L277 481L259 462L213 456L206 463L230 486ZM1140 1010L1151 999L1133 978L1100 973L1095 983L1118 1011L1119 1012ZM931 518L894 492L861 492L854 498L861 513L915 532L933 527ZM226 684L223 643L214 639L177 653L198 682L211 688ZM46 596L44 619L99 627L98 608L69 590ZM152 496L151 502L176 527L216 527L224 519L207 500L171 488ZM154 503L220 518M819 563L762 544M-22 588L-23 592L1 614L19 621L41 621L43 619L45 596L10 580ZM902 749L948 750M1013 586L973 559L970 544L993 541L1034 555L1036 557L1020 585L1014 586ZM1031 555L1012 584M714 433L664 418L653 422L668 452L696 460L719 446ZM1099 673L1089 664L1054 654L1028 671L1045 691L1073 695ZM787 459L783 464L763 463L720 446L715 434L720 429L773 428ZM989 625L958 594L1013 586L1014 586L1027 625ZM990 623L1011 588M416 446L374 423L369 408L414 408L428 441ZM1121 940L1059 931M970 635L958 655L919 649L918 619L921 618ZM354 398L369 408L373 423L349 434L320 417L323 402ZM367 408L323 417M1014 507L1035 512L1054 529L1034 554L993 540L991 515ZM632 417L601 388L587 385L585 385L561 404L567 418L610 427ZM759 513L785 533L796 536L815 525L795 500L765 499ZM354 398L369 407L414 408L416 406L410 389L389 379L352 383ZM51 521L51 499L82 493L111 509L113 532L66 530ZM601 388L587 385L580 353L618 354L635 379ZM714 433L664 418L666 389L710 405L719 428ZM84 968L57 934L16 946L43 971ZM353 398L323 402L284 380L301 359L322 360L351 382ZM853 498L807 487L796 500L815 525L846 528L860 513ZM262 447L259 461L213 455L203 436L229 430ZM256 460L206 436M709 480L749 484L764 498L758 513L727 510L709 480ZM300 359L268 337L267 321L320 320L324 322L338 344L322 359ZM50 520L-0 518L-4 516L-12 478L22 480L50 498ZM-9 480L47 519M50 521L0 519L0 547L9 553L41 559L67 542L65 531ZM652 421L663 418L666 389L665 388L636 380L602 388L633 417ZM773 427L719 428L710 405L740 394L758 399L774 425ZM894 492L906 476L898 463L882 457L847 466L861 491ZM882 458L893 490M876 560L875 561L822 564L797 536L816 526L847 528ZM234 362L227 342L211 333L176 335L168 347L179 365L187 369L211 373ZM90 1010L91 1013L79 1031L68 1030L19 1008L27 986L38 984ZM30 779L44 778L53 750L20 741L2 748L17 773ZM30 777L21 743M205 309L211 333L176 334L147 308L151 301L187 300ZM104 573L109 574L137 604L98 608L69 590L71 582ZM41 560L9 554L11 579L46 596L69 589L70 582ZM522 387L517 374L536 363L584 385L561 404ZM1100 576L1112 558L1098 539L1055 530L1035 555L1037 557L1088 579ZM1098 575L1056 532M463 362L477 357L516 374L521 387L496 395L478 390ZM826 430L826 429L821 399L781 390L759 399L775 425ZM146 307L111 310L84 280L101 271L128 274L150 300ZM237 601L206 611L174 594L171 582L200 569ZM367 301L324 274L289 281L289 285L320 320L325 322L364 309ZM351 382L388 379L378 352L338 344L323 360ZM326 360L386 377M243 403L227 410L183 401L187 370L211 374ZM769 362L780 390L758 399L740 393L718 374L721 357L744 348L747 348ZM465 394L463 416L416 407L411 389L428 383ZM1083 495L1056 528M948 490L962 480L991 486L1014 507L990 515L953 503ZM171 488L207 500L229 486L205 463L167 462ZM328 323L377 350M153 453L150 437L182 426L202 436L212 455L205 462L167 462ZM322 402L319 417L284 422L261 406L281 380L283 380ZM264 406L320 402M1099 673L1090 664L1101 641L1121 641L1135 648L1147 680L1133 683ZM43 971L16 947L-3 943L-19 965L26 986L37 984ZM-16 965L40 971M228 430L203 435L183 426L173 405L183 402L227 410ZM413 347L426 355L428 382L411 389L389 379L379 352L403 345ZM1053 653L1035 628L1028 625L990 625L984 632L1022 669L1027 670ZM832 396L821 399L781 390L770 362L828 363L829 364ZM625 345L619 354L636 379L665 388L678 372L658 348ZM657 349L637 378M992 486L1005 469L1053 484L1056 487L1035 512L1014 507ZM883 411L885 377L885 376L830 364L833 396ZM414 347L426 355L462 361L476 356L479 335L476 331L432 323ZM417 347L474 355M883 412L886 414L886 415L865 437L827 430L821 400L833 396ZM1089 664L1100 640L1070 623L1036 628L1054 653ZM1054 483L1057 486L1084 493L1114 479L1084 447L1082 446L1051 454ZM1083 491L1081 448M787 459L774 428L775 426L826 430L831 458ZM480 335L477 331L481 321L531 318L551 335L552 337L532 350ZM830 364L828 363L823 344L862 338L890 359L884 376ZM770 361L827 362L822 344L811 336L779 330L748 348ZM83 439L98 412L111 411L149 437L152 453L110 453ZM289 281L323 273L324 261L262 234L259 234L252 237L268 270ZM82 439L97 412L59 396L28 397L42 426L81 439ZM80 440L42 426L20 434L19 447L33 459L62 464ZM1101 640L1121 640L1123 618L1084 601L1076 603L1071 623ZM1118 639L1078 605M267 337L266 321L247 304L244 303L206 309L212 333L228 341ZM983 418L950 422L956 448L994 456L1011 440L999 424ZM998 424L958 447M183 401L187 370L179 365L137 371L130 391L172 405ZM177 367L172 403M536 363L584 385L586 384L580 353L552 337L533 351ZM1011 441L1050 454L1053 483L1005 468L995 456ZM1007 468L1012 442M149 437L112 411L125 392L130 392L172 405L182 425ZM624 344L618 353L580 353L553 337L552 335L597 322L604 324ZM555 335L621 344M20 434L42 425L27 397L18 393L-24 402L-18 414ZM994 456L1004 468L991 486L962 479L944 454L955 449ZM167 347L175 334L147 308L111 311L107 315L119 335ZM1152 604L1101 577L1089 580L1084 601L1123 618L1154 614ZM64 365L71 364L125 392L111 410L97 412L59 395ZM360 251L363 211L360 209L311 209L303 215L339 251ZM866 438L882 456L898 462L929 451L887 416ZM183 274L142 264L129 274L151 300L187 299ZM214 269L268 270L288 281L288 285L247 304L244 303ZM1000 423L1024 412L1050 415L1081 446L1050 453L1012 440ZM832 459L847 466L882 456L865 438L827 430L826 430ZM658 317L629 312L605 324L625 344L658 347L671 338L668 324ZM657 318L626 343M109 636L89 660L75 658L42 621L44 620L99 628ZM1003 916L1017 927L1015 949L958 934L982 914ZM437 287L444 287L439 260L408 249L382 259L394 273ZM779 330L759 309L767 296L781 297L810 315L811 336ZM1188 559L1150 525L1115 525L1099 539L1113 558L1170 572ZM338 251L324 261L263 233L299 215L302 215ZM1159 467L1154 480L1139 485L1115 479L1084 447L1115 439L1141 446ZM460 293L493 286L494 271L467 250L440 260L445 287ZM308 208L251 190M82 440L110 453L114 475L82 480L62 464L81 440ZM884 412L887 414L932 414L927 390L886 377ZM63 364L58 395L27 397L18 393L0 367L19 351ZM932 416L929 450M1139 486L1155 516L1149 525L1115 524L1085 493L1115 479ZM1116 523L1138 487M193 210L229 235L252 237L258 233L228 194L209 195ZM81 480L81 492L51 498L23 480L33 460L62 464ZM61 466L51 496M461 293L493 287L529 307L530 317L481 320ZM494 288L528 316M64 364L70 364L83 347L51 320L12 340L19 350ZM22 350L80 347M319 320L289 285L248 304L267 321ZM288 287L268 319M597 322L562 292L561 292L530 308L531 317L552 334ZM289 170L310 209L360 208L352 184L313 169ZM69 277L37 257L43 243L74 238L101 271L83 279ZM69 276L73 240M948 383L927 390L886 377L885 376L891 360L919 355ZM716 310L706 300L662 289L662 289L658 317L668 324L715 320ZM214 268L267 270L252 237L229 236L202 252L209 266ZM168 211L180 240L202 252L229 235L193 210ZM226 235L170 212M706 300L711 279L691 259L667 253L664 254L662 289ZM666 256L709 279M661 289L613 277L621 253L664 254L661 289ZM420 311L437 288L445 288L460 293L480 320L476 331L432 322ZM823 344L862 338L864 330L841 309L811 316L812 336ZM604 324L598 322L563 292L605 283L629 311ZM566 293L626 311M867 294L842 300L841 308L865 330L895 327L895 311ZM370 176L353 184L361 209L364 210L399 220L415 218L425 206L408 183ZM667 253L663 254L621 253L605 243L602 218L625 211L648 221ZM607 242L647 222M271 165L216 151L213 124L242 124L259 130ZM360 251L381 258L407 249L399 221L364 211ZM993 377L1024 412L1050 415L1062 402L1023 373ZM696 219L722 247L691 258L667 253L649 221L683 216ZM208 266L201 252L180 241L132 241L142 263L183 274ZM747 348L744 347L716 320L717 310L758 310L779 330ZM719 321L776 330M272 165L260 131L285 128L315 146L312 168L288 170L272 165ZM717 309L758 309L766 296L752 285L712 280L707 300ZM494 286L529 307L561 291L538 272L495 272ZM48 308L51 310L106 315L110 310L83 280L69 278L45 298ZM482 337L515 372M74 237L81 229L119 233L131 241L141 263L128 273L101 270ZM119 235L127 271M866 293L842 300L805 280L801 273L837 261L847 262L867 286ZM842 298L837 262M553 225L566 211L601 218L604 242L563 241ZM206 76L202 76L180 110L213 124L242 123L234 94ZM612 277L620 253L604 243L563 242L559 249L607 279ZM682 215L673 187L657 180L642 180L621 201L626 210L648 221ZM949 383L919 355L925 346L956 342L987 376L959 385ZM987 376L992 377L1023 372L1026 367L1001 336L990 333L959 339L957 342ZM1051 415L1082 445L1084 446L1115 439L1106 413L1079 400L1063 402ZM1054 416L1112 437M960 386L983 418L999 423L1023 412L992 377L987 376ZM949 384L928 390L933 414L950 421L982 418L959 386ZM658 317L629 311L606 283L608 279L613 278L661 289ZM614 279L629 309M512 213L552 225L562 242L558 248L539 253L500 235ZM556 247L515 215M1003 916L1018 927L1056 930L1064 913L1016 892ZM1054 929L1017 894M416 219L400 221L408 249L440 259L467 249L467 249ZM538 189L549 192L565 211L552 224L512 213L504 202ZM1027 367L1062 364L1084 381L1079 400L1062 401L1024 373ZM1027 373L1081 381M1035 330L1064 357L1095 351L1086 327L1038 324ZM751 235L723 248L753 265L784 264L778 247ZM374 300L394 274L436 288L420 311ZM434 288L377 299M922 281L954 264L951 253L916 232L878 245L920 281ZM1011 292L997 291L974 304L991 332L1001 335L1034 329L1038 323L1016 295ZM842 300L804 280L782 297L811 315L840 308ZM121 337L138 369M1017 295L1066 293L1083 301L1087 325L1086 326L1038 323ZM1041 322L1081 301M712 188L684 214M801 237L836 260L847 262L870 244L837 221L799 225ZM127 147L156 171L168 171L187 154L168 140L131 137ZM106 178L91 186L127 212L163 209L144 182ZM164 209L127 213L120 233L132 241L179 240L167 211ZM232 191L228 194L259 233L262 233L299 214L247 190ZM800 273L804 280L781 297L767 296L752 285L753 266L784 265ZM641 179L611 160L575 162L583 180L620 201ZM799 224L836 220L836 216L808 191L776 185L767 190L777 212ZM745 220L725 211L714 186L723 179L766 190L776 212ZM928 310L958 339L956 342L924 345L896 327L896 312ZM131 136L115 117L120 109L167 108L173 110L168 139ZM620 201L625 210L602 218L566 211L550 192L583 181ZM556 126L574 161L575 161L611 160L615 146L578 122L556 125ZM766 189L723 178L714 166L735 142L754 143L773 150L775 185ZM127 148L97 150L106 177L144 182L156 171ZM100 86L120 108L167 108L136 75L105 76ZM637 127L636 144L615 146L579 121L584 116L615 115ZM615 145L614 116M1141 335L1088 325L1084 301L1119 293L1134 304ZM156 171L145 182L164 209L167 210L192 210L208 194L168 172ZM126 147L96 150L66 137L68 115L114 117L130 136ZM69 137L128 136M538 188L503 202L477 190L475 188L486 164L521 171ZM477 188L534 188M487 235L499 235L512 213L503 202L477 191L457 209ZM920 281L877 246L871 245L847 262L868 286ZM837 220L871 244L877 245L915 232L915 230L895 212L862 203L837 217ZM863 205L877 243M425 170L474 188L476 191L456 208L426 205L409 183ZM412 184L474 191M512 135L533 158L574 161L555 126ZM571 160L514 136M1011 292L1014 265L984 247L952 253L955 264L997 290ZM105 177L91 185L70 184L55 172L51 141L66 137L96 150ZM62 111L11 97L9 129L51 140L66 137L67 115ZM746 220L777 213L798 224L800 237L778 247L751 235ZM343 107L330 119L293 114L279 96L282 91L311 84ZM294 113L311 86M504 133L511 135L555 125L555 124L516 97L488 108ZM922 282L955 264L997 290L974 304L934 295ZM100 86L120 108L114 117L68 115L63 111L63 85ZM556 124L578 121L584 115L564 82L515 91L517 97ZM556 123L563 84M244 58L215 63L206 76L235 93L278 96L281 90L245 58ZM277 89L218 64M735 141L713 165L684 153L672 126L675 124L701 122ZM504 133L488 108L458 101L438 117L482 137ZM501 132L459 102M215 63L186 37L150 36L149 59L202 76L205 75ZM850 144L843 145L831 171L834 175L847 180L900 177L896 172ZM431 117L434 148L419 154L388 142L382 120L421 114ZM1012 292L1015 265L1049 262L1065 293L1017 294ZM75 50L83 36L147 60L135 75L105 76ZM745 221L725 212L696 219L722 247L722 247L750 235ZM418 155L424 170L408 183L370 175L359 147L388 142ZM47 54L51 77L62 84L99 86L104 76L74 50ZM1050 262L1052 259L1109 268L1118 278L1119 293L1083 300L1066 293ZM808 191L833 175L830 171L776 151L774 151L776 185ZM421 113L394 88L368 88L358 108L381 120ZM791 114L802 132L776 150L773 150L754 142L753 110L785 111ZM50 77L6 77L4 91L11 97L62 110L62 85ZM906 184L915 228M895 211L862 202L847 181L900 177L902 179L904 182ZM752 109L717 91L705 97L701 121L735 141L754 142ZM984 247L1015 265L1049 261L1051 259L1040 241L991 228ZM368 88L394 87L401 70L367 56L344 59L340 71ZM367 57L368 87M55 172L70 184L56 204L26 200L-3 172L13 164ZM1 173L67 184M800 237L836 260L800 273L785 264L778 247ZM55 172L51 141L8 130L-1 132L13 163ZM52 170L10 131M246 18L288 38L284 53L245 58L244 58L227 26ZM339 71L343 58L305 34L289 38L285 53L313 75ZM431 115L405 72M47 53L21 43L25 16L79 28L82 36L74 50ZM72 49L27 18M538 188L549 192L583 180L574 162L574 162L533 159L522 171ZM843 145L802 132L776 150L830 170ZM271 165L216 152L206 156L232 190L247 190L272 165ZM504 133L511 135L532 158L521 170L486 163L480 158L483 138ZM1110 247L1108 267L1051 259L1041 241L1055 226L1086 230ZM1057 227L1106 266M784 110L752 109L718 91L718 88L767 76L774 78ZM381 120L358 108L344 107L331 119L349 143L358 147L387 142ZM358 145L358 110M1161 349L1161 357L1113 360L1096 351L1087 327L1088 326L1141 336ZM46 54L20 43L-1 43L-13 57L5 77L50 76ZM849 144L843 145L803 132L792 114L832 109L852 138ZM244 4L288 -1L306 32L305 34L289 38L246 18ZM631 88L626 89L615 114L637 127L672 125L674 123L633 88ZM977 212L991 228L1040 240L1054 225L1042 213L984 201ZM147 59L148 59L149 36L129 19L125 17L81 26L80 28L83 36ZM633 88L674 123L700 121L704 96L649 84ZM451 88L458 100L488 108L516 96L514 91L505 83L466 75ZM316 146L348 143L330 119L293 114L285 127ZM850 144L897 171L915 140L911 133L903 130L853 138ZM767 76L717 88L695 60L699 49L736 51ZM599 52L630 87L625 89L566 79L557 66L582 50ZM561 66L627 86M295 -11L319 -7L354 24L307 32L289 -2ZM1025 179L980 187L984 201L1042 213L1044 193ZM1144 243L1110 246L1086 230L1100 201L1142 212ZM912 133L933 124L980 134L988 144L961 169L916 140ZM915 133L984 144M42 242L2 215L-14 241L18 258L37 257ZM18 257L40 242M390 24L360 27L367 55L401 70L403 70L416 51ZM672 338L720 356L717 373L679 372L659 348ZM680 370L673 340M450 54L417 51L391 24L399 14L400 14L448 25L462 44ZM672 126L638 128L637 144L660 156L683 154ZM1002 336L1027 367L1062 364L1063 357L1034 330ZM1005 337L1060 362M897 172L901 177L903 178L963 175L961 169L915 140ZM899 171L960 175M775 78L768 76L736 51L752 36L778 37L793 75ZM432 117L438 117L482 138L480 158L435 148ZM903 130L865 101L874 86L918 87L933 124L911 132ZM868 102L930 123M1045 193L1042 213L1055 225L1085 230L1099 201L1091 195ZM964 175L979 187L1024 179L1023 163L988 145L962 169ZM843 62L804 78L836 102L864 101L873 86L845 62ZM1092 194L1100 200L1142 211L1157 208L1156 178L1138 167L1086 169ZM843 61L796 33L834 23L860 31L870 39L871 44L845 62ZM1025 179L1045 193L1091 194L1085 169L1064 157L1024 163ZM835 102L832 108L791 113L785 110L775 78L794 76L803 78ZM829 107L778 80M787 32L778 36L752 35L708 7L705 2L732 -8L770 3ZM870 -2L861 30L871 39L913 34L917 25L882 0ZM311 84L281 90L245 58L285 53L312 75ZM354 25L307 32L306 34L344 58L367 55L359 27ZM1041 100L992 71L989 71L971 94L994 119L1014 119ZM451 55L466 74L505 83L503 53L462 44ZM623 41L654 60L648 83L633 87L631 87L600 52ZM1023 162L989 144L981 134L994 119L1014 120L1062 148L1064 156ZM1051 101L1078 133L1062 147L1014 120L1042 100ZM846 62L871 44L916 72L919 85L918 86L873 85ZM875 84L914 72M622 34L642 20L637 9L579 -9L569 -1L575 12ZM577 12L634 9M343 107L311 84L313 76L340 72L367 88L358 108ZM920 85L917 72L936 57L976 61L989 70L970 94ZM962 22L966 23L975 61L936 56L914 35L918 25ZM937 54L961 23M517 49L557 66L565 79L564 81L515 90L506 83L503 53ZM407 70L449 56M1121 113L1128 135L1127 135L1079 133L1052 101L1057 99L1107 105ZM512 0L493 -2L471 9L516 39L536 25ZM967 23L966 23L976 61L989 70L992 71L1043 52L1041 49ZM819 4L833 22L795 33L788 32L771 3L784 -4ZM796 31L785 -2M640 5L638 9L643 20L688 38L707 7L704 2L693 -2ZM1085 169L1137 167L1127 136L1079 133L1063 148L1065 156ZM1065 148L1134 165M871 39L913 35L935 56L916 72L872 44ZM463 44L503 53L517 48L515 39L471 10L468 10L449 25ZM1051 100L1056 98L1058 60L1044 53L992 71L1042 99ZM625 89L566 79L564 81L584 115L614 114ZM1099 68L1107 104L1121 113L1156 104L1147 82L1126 71ZM842 61L795 34L788 32L779 37L794 75L803 77ZM789 34L803 75M1072 19L1095 32L1098 66L1058 60L1044 52L1042 49L1044 27ZM735 51L699 49L689 38L707 7L751 36ZM1005 5L967 23L1041 49L1043 27ZM1006 7L1039 47M1072 13L1108 2L1130 9L1136 35L1095 32L1073 19ZM1099 67L1098 67L1058 60L1057 98L1107 104ZM1099 67L1098 67L1095 32L1136 36L1146 42L1126 70Z" fill="none" stroke="#2424b0" stroke-width="3.3" stroke-linejoin="round"/><path d="M704 903q7-8 14 0q-4 9-9 2M706 904q8-10 17 0q-5 11-12 3M678 890q10-9 20 0q-6 10-14 2M708 897q8-6 16 0q-5 7-11 2M691 896q4-5 8 0q-2 6-6 1M704 898q8-11 16 0q-5 12-11 3M680 895q9-8 19 0q-6 9-13 2M682 902q5-5 10 0q-3 6-7 1M624 864q5-9 9 0q-3 10-6 2M615 860q5-7 9 0q-3 8-6 2M623 874q5-6 10 0q-3 7-7 2M582 855q10-6 19 0q-6 7-13 1M606 865q5-9 11 0q-3 11-7 2M588 871q5-7 10 0q-3 8-7 2M575 929q11-6 22 0q-7 7-15 2M566 945q6-7 13 0q-4 8-9 2M557 929q8-6 16 0q-5 7-11 2M577 935q7-11 14 0q-4 12-10 3M570 940q10-6 20 0q-6 7-14 1M559 948q10-6 19 0q-6 7-14 2M559 944q11-6 21 0q-6 7-15 2M621 967q7-6 14 0q-4 7-10 2M592 973q8-11 15 0q-5 12-11 3M594 969q7-7 14 0q-4 8-10 2M617 979q11-9 21 0q-6 10-15 2M661 858q11-5 22 0q-7 6-15 1M654 868q10-10 21 0q-6 11-14 2M661 869q10-7 21 0q-6 8-15 2M584 906q4-5 8 0q-2 6-6 1M560 901q6-7 12 0q-3 8-8 2M566 918q9-8 18 0q-5 9-12 2M573 910q8-8 15 0q-5 9-11 2M570 900q4-11 8 0q-2 12-6 3M558 915q9-8 17 0q-5 9-12 2M593 906q5-9 10 0q-3 10-7 2M514 873q10-11 19 0q-6 12-13 3M536 872q8-7 16 0q-5 8-11 2M512 874q10-10 20 0q-6 12-14 3M533 885q6-6 12 0q-4 7-8 1M526 869q5-7 11 0q-3 8-8 2M748 937q9-7 17 0q-5 7-12 2M752 938q8-9 16 0q-5 10-11 2M752 927q9-7 19 0q-6 7-13 2M719 1006q10-5 21 0q-6 6-14 1M747 1004q5-8 10 0q-3 9-7 2M733 1008q7-8 13 0q-4 9-9 2M739 1006q11-8 21 0q-6 9-15 2M717 976q8-10 16 0q-5 11-11 2M689 974q10-7 20 0q-6 8-14 2M682 962q8-10 16 0q-5 11-11 2M696 951q10-5 19 0q-6 6-14 1M711 955q6-10 13 0q-4 11-9 2M685 954q8-9 15 0q-5 11-11 2M713 884q8-6 16 0q-5 7-11 1M714 886q6-9 12 0q-3 10-8 2M728 885q8-7 17 0q-5 8-12 2M699 877q6-8 12 0q-4 9-8 2M711 865q4-7 8 0q-2 8-6 2M710 863q10-8 21 0q-6 9-15 2M733 865q5-6 9 0q-3 7-7 1M470 868q10-8 21 0q-6 9-14 2M468 854q8-11 17 0q-5 12-12 3M466 867q4-6 8 0q-2 7-6 2M467 865q6-7 13 0q-4 8-9 2M477 853q9-6 18 0q-5 6-13 1M557 962q10-8 20 0q-6 9-14 2M544 955q8-9 16 0q-5 10-11 2M540 971q8-7 17 0q-5 8-12 2M540 964q10-6 20 0q-6 7-14 2M568 954q5-10 9 0q-3 12-7 3M542 952q7-8 13 0q-4 9-9 2M570 963q9-6 18 0q-5 7-13 2M476 893q8-9 15 0q-5 10-11 2M467 876q5-5 9 0q-3 6-7 1M478 887q8-6 16 0q-5 6-11 1M461 879q10-11 20 0q-6 13-14 3M496 877q4-11 9 0q-3 12-6 3M476 894q6-8 13 0q-4 9-9 2M476 885q8-5 16 0q-5 5-11 1M486 896q5-8 11 0q-3 9-7 2M714 836q10-10 21 0q-6 11-15 2M716 850q7-11 14 0q-4 12-10 3M718 847q9-10 19 0q-6 11-13 2M702 848q4-7 9 0q-3 8-6 2M703 830q6-9 13 0q-4 10-9 2M525 841q7-6 15 0q-4 7-10 2M526 839q8-6 16 0q-5 6-11 1M527 835q7-8 14 0q-4 9-10 2M559 844q4-6 8 0q-2 7-6 2M534 837q8-7 16 0q-5 8-11 2M548 849q5-8 9 0q-3 9-7 2M549 842q9-11 17 0q-5 12-12 3M581 879q9-7 18 0q-5 8-13 2M564 878q4-6 9 0q-3 7-6 1M587 882q10-10 21 0q-6 11-14 2M559 897q11-5 21 0q-6 6-15 1M596 883q7-11 15 0q-4 12-10 3M540 992q7-6 14 0q-4 7-10 2M540 990q5-8 10 0q-3 9-7 2M565 989q6-9 12 0q-4 10-8 2M552 996q8-11 15 0q-5 13-11 3M577 995q6-6 11 0q-3 6-8 1M571 996q8-7 17 0q-5 8-12 2M546 994q8-9 16 0q-5 10-11 2M564 995q5-6 11 0q-3 7-7 2M512 1002q6-10 12 0q-4 11-8 2M546 1001q6-11 11 0q-3 12-8 3M529 1005q6-8 13 0q-4 9-9 2M512 1017q10-8 19 0q-6 9-13 2M539 1017q9-8 19 0q-6 9-13 2M540 1006q5-6 10 0q-3 7-7 1M543 1011q6-10 12 0q-4 11-8 2M422 856q9-7 18 0q-5 8-12 2M432 846q5-9 11 0q-3 10-8 2M404 852q9-9 18 0q-5 10-13 2M414 848q7-9 13 0q-4 11-9 2M414 847q9-8 18 0q-5 9-13 2M433 868q10-8 21 0q-6 9-15 2M532 923q9-9 17 0q-5 10-12 2M533 940q7-7 13 0q-4 8-9 2M512 936q5-5 10 0q-3 6-7 1M518 943q10-6 19 0q-6 7-14 2M508 926q6-5 12 0q-4 6-8 1M506 968q8-6 17 0q-5 6-12 1M502 981q6-6 11 0q-3 7-8 2M499 978q9-7 19 0q-6 8-13 2M448 889q5-9 10 0q-3 10-7 2M437 891q7-8 13 0q-4 9-9 2M418 905q7-9 15 0q-4 11-10 2M416 887q10-11 21 0q-6 12-15 3M439 884q7-10 15 0q-4 11-10 2M421 888q7-9 13 0q-4 10-9 2M763 908q5-10 9 0q-3 12-7 3M754 894q5-10 10 0q-3 11-7 2M770 908q9-10 19 0q-6 11-13 2M737 911q10-10 20 0q-6 12-14 3M771 900q6-7 11 0q-3 8-8 2M418 954q8-6 15 0q-5 6-11 1M407 946q10-10 19 0q-6 11-14 3M413 948q6-9 12 0q-4 11-8 2M383 960q7-11 15 0q-4 12-10 3M404 972q6-10 12 0q-4 11-9 2M399 974q5-10 9 0q-3 11-6 3M387 962q8-6 15 0q-5 7-11 1M413 955q6-5 12 0q-4 6-9 1M751 965q5-8 10 0q-3 9-7 2M753 963q7-7 15 0q-4 8-10 2M722 965q10-10 20 0q-6 11-14 3M750 968q5-9 10 0q-3 10-7 2M752 964q11-10 21 0q-6 11-15 2M743 949q5-7 11 0q-3 8-7 2M811 906q8-6 17 0q-5 7-12 1M798 904q7-9 14 0q-4 10-10 2M791 904q11-8 22 0q-7 9-15 2M815 912q10-11 20 0q-6 12-14 3M528 799q10-6 19 0q-6 7-13 2M548 804q6-6 12 0q-3 7-8 2M517 802q8-6 16 0q-5 7-11 2M521 799q5-9 9 0q-3 11-7 2M516 804q6-6 12 0q-4 7-9 2M530 804q8-6 16 0q-5 7-11 2M821 946q10-11 21 0q-6 13-15 3M837 955q5-10 10 0q-3 11-7 3M816 963q6-8 11 0q-3 10-8 2M629 817q6-11 11 0q-3 12-8 3M614 831q9-10 18 0q-5 11-13 2M633 825q5-7 9 0q-3 8-7 2M652 834q8-7 16 0q-5 8-11 2M370 970q8-8 15 0q-5 9-11 2M374 965q4-9 9 0q-3 11-6 2M370 975q8-10 16 0q-5 11-11 2M637 887q10-8 21 0q-6 9-15 2M644 906q10-11 20 0q-6 13-14 3M651 904q7-8 13 0q-4 9-9 2M351 839q11-5 21 0q-6 5-15 1M359 833q6-5 13 0q-4 6-9 1M381 846q7-7 14 0q-4 8-9 2M373 827q4-11 8 0q-3 12-6 3M384 861q10-7 20 0q-6 8-14 2M367 860q10-11 20 0q-6 13-14 3M362 872q5-10 11 0q-3 12-7 3M352 858q9-7 18 0q-5 8-13 2M385 878q9-6 18 0q-5 6-13 1M379 879q7-5 14 0q-4 6-10 1M359 863q9-6 18 0q-5 7-13 2M358 862q9-10 17 0q-5 11-12 2M769 975q8-8 16 0q-5 9-11 2M754 987q5-11 10 0q-3 13-7 3M742 978q9-5 18 0q-5 6-13 1M763 978q10-9 21 0q-6 10-14 2M774 987q4-11 8 0q-2 12-6 3M737 976q9-11 19 0q-6 12-13 3M752 985q4-7 8 0q-3 7-6 2M480 741q8-6 16 0q-5 7-12 2M470 744q4-8 9 0q-3 9-6 2M495 729q8-9 17 0q-5 10-12 2M491 733q9-10 18 0q-5 12-13 3M461 724q5-9 10 0q-3 10-7 2M482 738q8-5 17 0q-5 6-12 1M495 804q6-6 12 0q-3 7-8 1M486 818q10-5 19 0q-6 6-13 1M479 808q6-11 11 0q-3 12-8 3M461 811q9-11 19 0q-6 13-13 3M465 810q9-5 18 0q-6 6-13 1M473 819q5-7 10 0q-3 8-7 2M476 809q5-5 9 0q-3 6-6 1M499 817q9-6 18 0q-5 7-13 2M308 851q8-11 16 0q-5 13-11 3M325 860q10-10 21 0q-6 12-15 3M332 851q10-11 20 0q-6 12-14 3M312 856q4-7 9 0q-3 8-6 2M308 865q10-8 19 0q-6 9-13 2M314 861q9-8 19 0q-6 9-13 2M321 861q5-8 11 0q-3 9-7 2M376 811q10-9 21 0q-6 11-15 2M382 810q5-11 10 0q-3 12-7 3M382 821q9-11 18 0q-5 12-13 3M370 809q7-5 13 0q-4 6-9 1M402 809q9-8 19 0q-6 9-13 2M373 811q6-5 11 0q-3 6-8 1M378 816q4-7 8 0q-3 8-6 2M388 815q5-9 10 0q-3 10-7 2M634 950q7-5 15 0q-4 5-10 1M629 949q9-5 17 0q-5 6-12 1M635 945q6-6 13 0q-4 6-9 1M333 884q7-7 15 0q-4 7-10 2M324 886q7-6 15 0q-4 7-10 1M348 882q5-7 9 0q-3 8-7 2M334 880q8-9 16 0q-5 10-11 2M344 893q4-7 8 0q-2 8-6 2M333 878q7-5 14 0q-4 6-10 1M696 779q9-6 17 0q-5 7-12 1M690 788q11-7 21 0q-6 8-15 2M696 797q9-9 19 0q-6 10-13 2M700 783q7-7 14 0q-4 7-10 2M708 795q7-11 13 0q-4 12-9 3M551 753q8-9 16 0q-5 10-11 2M552 758q11-7 22 0q-6 8-15 2M546 759q6-9 12 0q-4 11-9 2M558 754q11-10 21 0q-6 11-15 3M536 752q7-8 15 0q-4 9-10 2M544 742q9-8 18 0q-6 9-13 2M541 741q6-6 13 0q-4 7-9 1M844 1013q4-9 9 0q-3 10-6 2M837 1008q6-7 13 0q-4 8-9 2M852 1014q6-9 12 0q-3 10-8 2M837 1013q5-10 11 0q-3 12-7 3M830 1010q5-11 10 0q-3 12-7 3M844 998q9-7 18 0q-6 7-13 2M468 738q9-6 18 0q-5 6-13 1M427 743q9-11 18 0q-5 13-13 3M435 744q4-8 8 0q-3 9-6 2M449 745q6-10 12 0q-4 11-9 2M464 743q7-9 13 0q-4 10-9 2M461 758q7-9 13 0q-4 10-9 2M453 754q5-6 10 0q-3 7-7 1M433 757q6-8 12 0q-3 9-8 2M540 702q6-5 12 0q-3 6-8 1M524 715q6-5 12 0q-4 6-9 1M524 705q11-6 22 0q-7 7-15 2M875 924q5-7 11 0q-3 7-7 2M850 937q8-11 16 0q-5 12-11 3M840 938q11-8 21 0q-6 9-15 2M870 925q4-8 8 0q-3 9-6 2M841 929q10-5 20 0q-6 6-14 1M857 936q6-6 12 0q-4 7-8 2M878 930q6-8 12 0q-4 9-9 2M865 937q9-11 19 0q-6 12-13 3M578 695q9-10 17 0q-5 11-12 2M579 700q6-7 13 0q-4 7-9 2M604 694q5-7 9 0q-3 8-7 2M592 692q9-8 18 0q-6 9-13 2M594 691q5-6 9 0q-3 6-7 1M260 851q4-9 9 0q-3 10-6 2M281 855q7-11 15 0q-4 12-10 3M274 866q10-10 20 0q-6 11-14 3M256 856q10-10 21 0q-6 12-15 3M305 906q10-9 20 0q-6 10-14 2M306 899q5-10 10 0q-3 11-7 3M309 896q9-7 17 0q-5 8-12 2M297 891q8-8 16 0q-5 10-11 2M303 887q8-8 17 0q-5 9-12 2M304 900q11-6 21 0q-6 6-15 1M300 909q9-7 18 0q-5 8-13 2M599 759q10-6 19 0q-6 6-13 1M600 741q6-6 12 0q-3 7-8 2M602 740q6-8 13 0q-4 9-9 2M612 744q4-8 8 0q-2 8-6 2M863 960q11-11 21 0q-6 12-15 3M868 959q7-9 14 0q-4 10-10 2M861 967q7-8 15 0q-4 9-10 2M862 966q8-7 15 0q-5 8-11 2M895 973q8-11 16 0q-5 13-11 3M371 901q9-8 18 0q-5 9-12 2M367 901q11-9 21 0q-6 10-15 2M377 903q11-9 22 0q-7 10-15 2M400 908q6-7 12 0q-4 8-9 2M400 763q6-9 11 0q-3 10-8 2M397 768q6-10 12 0q-4 12-8 3M406 756q11-7 21 0q-6 8-15 2M397 723q9-6 17 0q-5 7-12 2M400 709q10-6 21 0q-6 7-14 2M401 714q10-10 19 0q-6 12-14 3M414 719q5-11 9 0q-3 12-7 3M390 715q7-9 13 0q-4 11-9 2M221 831q7-9 15 0q-4 10-10 2M219 824q4-10 8 0q-2 11-6 2M233 824q8-6 16 0q-5 6-11 1M215 844q9-10 17 0q-5 11-12 2M255 832q8-8 16 0q-5 9-11 2M302 812q11-11 21 0q-6 12-15 3M306 797q8-8 16 0q-5 9-11 2M311 810q6-8 12 0q-4 9-9 2M312 804q5-5 10 0q-3 6-7 1M334 759q5-11 10 0q-3 12-7 3M361 770q5-8 10 0q-3 9-7 2M328 773q11-9 21 0q-6 11-15 2M331 779q6-10 11 0q-3 11-8 2M330 776q7-7 13 0q-4 8-9 2M351 767q7-11 15 0q-4 12-10 3M933 946q7-9 15 0q-4 10-10 2M931 958q8-8 16 0q-5 9-11 2M934 947q6-10 12 0q-4 11-9 2M906 947q7-8 14 0q-4 9-10 2M910 948q7-5 14 0q-4 6-10 1M929 941q8-8 15 0q-5 9-11 2M914 944q5-7 9 0q-3 8-7 2M910 949q6-10 11 0q-3 11-8 2M343 744q6-10 13 0q-4 12-9 3M343 740q10-11 19 0q-6 12-14 3M366 734q5-8 9 0q-3 10-6 2M343 735q6-6 11 0q-3 7-8 2M340 728q5-7 10 0q-3 7-7 2M348 750q7-7 15 0q-4 8-10 2M287 816q6-9 13 0q-4 10-9 2M292 825q5-5 10 0q-3 6-7 1M279 808q9-9 19 0q-6 10-13 2M865 993q7-9 14 0q-4 10-9 2M859 977q10-5 20 0q-6 6-14 1M848 977q11-6 21 0q-6 7-15 1M846 985q10-11 21 0q-6 12-14 3M847 992q7-8 15 0q-4 9-10 2M867 987q7-8 15 0q-4 9-10 2M870 994q6-5 13 0q-4 6-9 1M769 830q8-6 16 0q-5 7-11 2M763 832q7-9 13 0q-4 11-9 2M776 828q8-11 16 0q-5 12-11 3M794 825q7-6 15 0q-4 7-10 2M789 818q6-10 12 0q-4 12-9 3M761 829q8-8 16 0q-5 9-11 2M769 819q11-10 21 0q-6 11-15 2M788 818q9-6 19 0q-6 7-13 2M257 785q6-7 12 0q-4 7-8 2M258 786q10-6 20 0q-6 7-14 1M284 793q8-8 17 0q-5 9-12 2M278 787q9-11 17 0q-5 12-12 3M284 781q4-11 9 0q-3 12-6 3M266 792q6-8 11 0q-3 9-8 2M262 791q11-8 21 0q-6 9-15 2M588 686q6-6 12 0q-3 7-8 2M594 665q8-10 16 0q-5 12-11 3M587 673q10-9 19 0q-6 10-13 2M614 688q8-11 16 0q-5 12-11 3M594 666q9-6 19 0q-6 7-13 1M620 664q6-7 12 0q-4 8-9 2M624 672q5-6 10 0q-3 7-7 1M574 716q6-8 12 0q-3 9-8 2M597 720q6-9 11 0q-3 10-8 2M577 725q6-10 12 0q-3 12-8 3M574 718q6-7 12 0q-4 8-9 2M591 728q10-8 19 0q-6 9-13 2M571 730q6-6 11 0q-3 7-8 2M188 756q6-11 11 0q-3 13-8 3M178 761q8-11 16 0q-5 12-11 3M170 763q10-5 21 0q-6 6-15 1M172 762q7-6 14 0q-4 7-10 1M643 763q6-9 11 0q-3 10-8 2M635 781q10-9 20 0q-6 10-14 2M640 779q10-6 21 0q-6 6-15 1M662 784q9-9 18 0q-5 10-13 2M632 769q8-7 16 0q-5 7-11 2M650 781q7-10 14 0q-4 11-10 2M637 764q9-5 17 0q-5 6-12 1M663 784q11-9 21 0q-6 10-15 2M288 728q11-11 21 0q-6 12-15 3M274 744q7-5 14 0q-4 6-10 1M277 728q9-6 18 0q-5 7-13 2M271 729q10-8 19 0q-6 9-13 2M301 736q5-5 11 0q-3 6-7 1M286 724q6-9 12 0q-3 10-8 2M467 921q7-9 14 0q-4 10-10 2M467 923q8-5 17 0q-5 5-12 1M471 912q9-10 18 0q-6 11-13 2M478 924q9-7 17 0q-5 8-12 2M473 927q8-5 16 0q-5 6-11 1M470 923q4-6 9 0q-3 6-6 1M459 921q4-7 9 0q-3 7-6 2M458 922q7-5 14 0q-4 6-10 1M379 1000q8-11 15 0q-5 12-11 3M392 1000q7-7 14 0q-4 8-10 2M394 987q6-9 11 0q-3 11-8 2M374 991q10-6 20 0q-6 6-14 1M388 1001q4-10 9 0q-3 11-6 2M436 810q11-9 22 0q-7 10-15 2M423 810q4-10 9 0q-3 12-6 3M439 811q10-8 20 0q-6 9-14 2M447 807q7-7 15 0q-4 8-10 2M430 793q5-10 10 0q-3 11-7 2M422 808q9-9 19 0q-6 10-13 2M435 800q6-6 12 0q-4 7-8 1M566 646q9-7 19 0q-6 8-13 2M555 635q7-5 15 0q-4 6-10 1M578 635q7-10 15 0q-4 11-10 2M553 627q8-6 16 0q-5 7-11 2M560 623q4-7 9 0q-3 8-6 2M563 646q8-7 17 0q-5 8-12 2M560 628q7-11 15 0q-4 12-10 3M229 789q4-5 8 0q-2 6-6 1M211 804q8-6 17 0q-5 7-12 1M239 799q8-11 16 0q-5 12-11 3M218 799q4-5 9 0q-3 6-6 1M204 804q11-6 21 0q-6 7-15 2M149 826q5-11 9 0q-3 12-7 3M165 827q8-7 16 0q-5 8-11 2M173 817q6-6 12 0q-4 7-9 2M167 828q7-7 14 0q-4 8-10 2M165 821q10-9 19 0q-6 10-13 2M149 824q7-8 14 0q-4 9-10 2M143 831q7-7 14 0q-4 8-10 2M162 826q7-10 15 0q-4 12-10 3M582 611q5-9 9 0q-3 10-6 2M595 610q7-10 13 0q-4 11-9 3M584 606q5-7 9 0q-3 8-6 2M597 603q11-10 21 0q-6 11-15 2M587 608q4-6 9 0q-3 7-6 2M589 596q11-9 22 0q-7 11-15 2M581 604q7-6 15 0q-4 7-10 2M595 605q5-5 10 0q-3 6-7 1M815 833q10-8 19 0q-6 9-13 2M819 832q11-9 22 0q-6 10-15 2M809 812q7-8 14 0q-4 9-10 2M822 811q6-8 12 0q-4 9-8 2M807 811q8-6 16 0q-5 7-11 1M817 816q9-6 18 0q-5 6-13 1M899 918q9-5 18 0q-5 6-12 1M925 928q5-9 11 0q-3 10-8 2M916 914q10-6 20 0q-6 7-14 2M909 913q7-10 14 0q-4 11-10 2M647 659q5-6 10 0q-3 7-7 1M636 656q7-9 15 0q-4 10-10 2M627 656q6-10 12 0q-4 12-9 3M631 636q7-9 15 0q-4 10-10 2M646 655q9-9 19 0q-6 10-13 2M900 990q4-9 8 0q-2 10-6 2M899 993q9-9 17 0q-5 10-12 2M907 998q6-8 12 0q-4 9-8 2M909 995q6-7 11 0q-3 8-8 2M905 988q6-9 12 0q-4 10-9 2M901 990q10-8 20 0q-6 9-14 2M356 669q7-9 13 0q-4 10-9 2M345 674q8-7 15 0q-5 8-11 2M381 677q7-7 14 0q-4 8-10 2M381 663q8-6 15 0q-5 7-11 2M468 616q10-8 20 0q-6 9-14 2M484 610q11-5 22 0q-7 5-15 1M456 618q8-6 17 0q-5 6-12 1M473 630q7-10 14 0q-4 11-10 2M476 622q5-8 10 0q-3 9-7 2M486 624q6-8 11 0q-3 9-8 2M264 708q5-9 10 0q-3 10-7 2M244 708q11-7 21 0q-6 8-15 2M216 701q8-6 16 0q-5 6-11 1M229 693q7-9 13 0q-4 10-9 2M240 700q11-9 21 0q-6 10-15 2M128 833q10-5 20 0q-6 6-14 1M103 842q10-9 20 0q-6 10-14 2M130 848q9-5 18 0q-5 6-13 1M137 834q5-5 10 0q-3 6-7 1M99 851q7-5 13 0q-4 6-9 1M98 850q8-11 16 0q-5 12-11 3M423 553q7-6 13 0q-4 6-9 1M441 552q7-8 13 0q-4 9-9 2M418 555q5-7 11 0q-3 8-7 2M429 605q5-7 11 0q-3 8-7 2M435 601q5-11 10 0q-3 12-7 3M430 604q7-9 13 0q-4 10-9 2M387 548q11-7 21 0q-6 8-15 2M374 561q10-5 20 0q-6 6-14 1M372 556q8-8 16 0q-5 9-12 2M376 553q8-9 17 0q-5 11-12 2M369 561q8-9 17 0q-5 10-12 2M389 556q4-8 8 0q-3 9-6 2M408 564q5-8 10 0q-3 9-7 2M387 561q6-8 12 0q-4 9-8 2M825 803q4-5 9 0q-3 6-6 1M797 791q10-9 20 0q-6 10-14 2M818 800q7-6 13 0q-4 6-9 1M822 781q6-5 11 0q-3 6-8 1M803 782q8-6 15 0q-5 6-11 1M820 800q6-6 13 0q-4 6-9 1M819 797q10-8 20 0q-6 9-14 2M817 800q9-11 17 0q-5 12-12 3M517 536q6-8 12 0q-4 9-8 2M497 541q5-11 9 0q-3 12-7 3M507 534q8-7 17 0q-5 8-12 2M489 555q9-11 18 0q-5 12-12 3M509 552q5-6 9 0q-3 6-6 1M504 545q11-11 21 0q-6 12-15 3M500 546q5-6 9 0q-3 7-7 2M372 497q9-8 17 0q-5 9-12 2M410 519q5-5 11 0q-3 6-8 1M396 509q6-11 12 0q-4 12-9 3M804 969q10-8 20 0q-6 9-14 2M799 970q5-8 10 0q-3 9-7 2M810 977q6-6 12 0q-4 7-8 2M420 681q9-7 17 0q-5 8-12 2M402 674q11-9 22 0q-6 10-15 2M396 686q8-9 16 0q-5 10-11 2M417 684q10-11 20 0q-6 12-14 3M905 819q9-6 18 0q-5 7-12 1M898 827q4-7 9 0q-3 8-6 2M909 834q5-11 10 0q-3 12-7 3M906 827q9-11 18 0q-5 12-12 3M905 826q8-10 15 0q-5 11-11 2M113 777q10-9 19 0q-6 10-13 2M110 787q8-7 16 0q-5 8-11 2M113 786q6-11 13 0q-4 12-9 3M295 687q5-9 11 0q-3 10-7 2M282 683q6-7 12 0q-4 8-9 2M276 686q4-6 9 0q-3 6-6 1M281 678q8-10 15 0q-5 12-11 3M295 693q10-9 21 0q-6 10-14 2M299 694q7-10 14 0q-4 11-10 3M293 696q11-10 21 0q-6 11-15 2M402 653q7-8 14 0q-4 9-10 2M386 648q6-9 12 0q-3 10-8 2M382 640q5-8 11 0q-3 9-8 2M398 637q11-10 22 0q-7 11-15 3M390 641q10-11 20 0q-6 12-14 3M381 655q10-11 19 0q-6 12-14 3M387 640q5-6 10 0q-3 7-7 2M416 658q7-6 15 0q-4 6-10 1M874 846q8-11 15 0q-5 12-11 3M876 850q9-6 18 0q-5 7-12 1M864 840q11-8 21 0q-6 9-15 2M880 843q6-7 11 0q-3 8-8 2M857 833q5-10 10 0q-3 11-7 2M852 843q8-7 17 0q-5 8-12 2M487 1011q5-10 9 0q-3 11-6 3M475 1011q5-5 9 0q-3 6-6 1M507 1022q4-7 9 0q-3 8-6 2M485 1012q5-10 9 0q-3 12-7 3M341 691q4-5 9 0q-3 6-6 1M342 701q7-8 14 0q-4 9-10 2M335 685q9-7 17 0q-5 8-12 2M346 696q6-5 12 0q-4 6-8 1M339 693q5-5 10 0q-3 6-7 1M341 685q10-7 20 0q-6 8-14 2M345 700q4-5 8 0q-3 6-6 1M677 639q10-10 21 0q-6 11-15 3M691 628q8-10 16 0q-5 12-11 3M687 618q4-9 8 0q-2 10-6 2M691 622q10-10 21 0q-6 11-14 2M663 631q10-8 19 0q-6 9-14 2M674 637q7-9 13 0q-4 10-9 2M690 639q7-8 14 0q-4 9-10 2M183 781q5-8 10 0q-3 9-7 2M157 775q5-7 10 0q-3 8-7 2M160 770q7-9 14 0q-4 10-10 2M179 781q10-10 21 0q-6 11-14 3M152 764q7-9 14 0q-4 10-10 2M165 767q11-7 22 0q-7 8-15 2M145 761q5-9 11 0q-3 11-8 2M809 749q10-9 21 0q-6 10-14 2M798 751q10-10 21 0q-6 11-15 2M829 758q9-10 18 0q-5 11-12 2M338 998q7-6 14 0q-4 7-10 2M327 996q8-5 16 0q-5 6-11 1M313 990q6-6 11 0q-3 7-8 2M318 990q9-11 18 0q-5 12-12 3M333 982q10-9 20 0q-6 10-14 2M339 994q6-7 13 0q-4 8-9 2M995 965q11-8 22 0q-7 9-15 2M953 959q8-10 17 0q-5 12-12 3M986 952q4-10 8 0q-2 11-6 3M679 667q6-7 13 0q-4 8-9 2M706 676q6-9 12 0q-4 10-8 2M664 674q7-6 14 0q-4 6-9 1M684 677q10-7 19 0q-6 8-13 2M704 671q8-6 15 0q-5 7-11 2M657 674q10-7 21 0q-6 7-14 2M683 679q6-8 12 0q-4 9-8 2M664 675q6-10 12 0q-4 11-8 3M720 651q8-9 15 0q-5 10-11 2M748 630q7-8 14 0q-4 9-10 2M728 636q11-5 22 0q-6 6-15 1M732 651q9-5 18 0q-5 6-13 1M721 632q7-8 14 0q-4 8-10 2M748 655q8-6 16 0q-5 7-11 2M742 648q10-7 21 0q-6 8-14 2M739 651q7-8 15 0q-4 9-10 2M70 832q4-11 8 0q-2 12-6 3M81 852q8-5 16 0q-5 6-11 1M58 828q8-9 17 0q-5 10-12 2M91 835q6-6 11 0q-3 7-8 2M58 828q7-7 15 0q-4 8-10 2M68 852q6-10 12 0q-4 11-9 3M145 903q4-7 9 0q-3 8-6 2M143 891q6-5 12 0q-4 6-8 1M143 898q5-7 9 0q-3 8-6 2M476 643q10-6 20 0q-6 7-14 2M465 656q4-8 8 0q-2 9-6 2M464 654q11-9 21 0q-6 10-15 2M292 914q8-8 17 0q-5 9-12 2M301 935q6-5 11 0q-3 6-8 1M287 925q11-6 22 0q-7 7-15 2M232 1011q9-10 17 0q-5 11-12 2M261 999q6-6 12 0q-4 6-9 1M244 996q10-9 20 0q-6 10-14 2M256 1008q10-10 21 0q-6 11-15 3M262 1016q6-7 11 0q-3 8-8 2M456 668q5-7 9 0q-3 8-6 2M451 683q11-6 21 0q-6 6-15 1M458 684q9-9 18 0q-5 11-12 2M437 675q9-5 17 0q-5 6-12 1M440 664q5-8 9 0q-3 9-6 2M459 684q10-9 21 0q-6 10-15 2M172 719q5-10 9 0q-3 11-7 3M177 724q6-7 13 0q-4 8-9 2M165 715q11-8 22 0q-7 9-15 2M190 722q6-6 12 0q-4 7-8 2M851 765q9-9 19 0q-6 10-13 2M863 748q5-9 11 0q-3 10-7 2M889 758q5-10 11 0q-3 12-7 3M850 762q9-6 18 0q-5 7-13 1M876 752q6-9 11 0q-3 10-8 2M857 762q6-11 12 0q-4 13-8 3M864 750q10-9 20 0q-6 10-14 2M864 749q5-10 10 0q-3 11-7 2M917 811q8-9 17 0q-5 10-12 2M931 807q4-9 8 0q-2 10-6 2M904 803q8-9 16 0q-5 10-11 2M933 806q7-6 15 0q-4 6-10 1M920 798q8-7 15 0q-5 7-11 2M903 810q6-7 12 0q-4 7-9 2M374 628q7-11 15 0q-4 13-10 3M364 611q5-5 9 0q-3 6-6 1M359 620q8-10 17 0q-5 11-12 2M353 621q8-9 16 0q-5 10-12 2M358 619q8-5 16 0q-5 6-11 1M447 512q5-10 10 0q-3 11-7 2M443 526q6-7 11 0q-3 8-8 2M456 523q8-6 16 0q-5 7-11 2M463 513q9-11 19 0q-6 12-13 3M465 521q6-10 12 0q-4 11-8 2M920 848q8-9 15 0q-5 10-11 2M929 846q6-8 13 0q-4 9-9 2M915 845q6-7 11 0q-3 8-8 2M926 851q8-9 17 0q-5 10-12 2M928 844q8-9 17 0q-5 10-12 2M922 848q7-11 14 0q-4 13-10 3M914 863q8-9 17 0q-5 10-12 2M193 695q5-11 9 0q-3 13-7 3M143 682q10-7 19 0q-6 7-14 2M146 684q7-10 15 0q-4 11-10 3M149 684q4-5 8 0q-2 6-6 1M972 902q7-6 15 0q-4 7-10 2M972 899q4-7 9 0q-3 8-6 2M985 888q4-11 8 0q-2 12-6 3M980 905q4-6 8 0q-3 7-6 2M143 702q6-9 11 0q-3 11-8 2M115 708q7-8 14 0q-4 9-10 2M105 709q10-5 20 0q-6 6-14 1M118 704q6-5 12 0q-3 5-8 1M120 712q9-9 18 0q-5 10-13 2M114 687q11-6 22 0q-7 7-15 2M124 708q6-7 13 0q-4 8-9 2M107 710q10-6 20 0q-6 7-14 2M933 770q9-8 19 0q-6 8-13 2M941 759q6-8 13 0q-4 10-9 2M953 766q10-10 20 0q-6 11-14 2M994 833q9-10 19 0q-6 11-13 2M1001 840q10-9 19 0q-6 10-13 2M1020 832q4-6 9 0q-3 7-6 2M1017 843q7-9 14 0q-4 10-10 2M1020 844q7-10 14 0q-4 11-10 3M1014 850q11-10 22 0q-7 11-15 3M630 605q6-11 13 0q-4 12-9 3M633 619q4-6 8 0q-2 6-6 1M643 607q4-8 9 0q-3 10-6 2M653 593q8-10 16 0q-5 12-11 3M642 604q9-8 17 0q-5 9-12 2M635 598q6-6 12 0q-4 7-8 2M652 605q6-10 12 0q-4 11-8 2M239 972q8-5 15 0q-5 6-11 1M217 979q10-7 19 0q-6 7-14 2M233 972q6-5 12 0q-3 6-8 1M226 981q9-7 18 0q-5 8-13 2M243 984q8-10 16 0q-5 12-11 3M210 975q8-9 16 0q-5 10-11 2M247 983q4-11 9 0q-3 12-6 3M60 886q8-7 16 0q-5 8-11 2M79 890q7-9 13 0q-4 10-9 2M66 902q10-6 19 0q-6 6-14 1M64 893q9-11 18 0q-5 13-12 3M80 902q5-8 11 0q-3 9-8 2M69 887q5-7 10 0q-3 8-7 2M129 937q10-6 21 0q-6 7-15 2M128 946q6-7 12 0q-4 8-8 2M140 937q7-5 14 0q-4 6-10 1M145 943q7-11 13 0q-4 12-9 3M144 954q4-9 8 0q-2 11-6 2M335 651q10-9 20 0q-6 10-14 2M340 648q9-10 18 0q-5 11-13 3M336 643q7-6 13 0q-4 7-9 2M328 645q7-9 13 0q-4 10-9 2M339 651q9-11 17 0q-5 12-12 3M329 641q9-6 17 0q-5 7-12 1M327 640q9-7 18 0q-5 8-12 2M325 645q4-6 8 0q-3 7-6 2M174 997q8-7 15 0q-5 7-11 2M182 976q4-5 9 0q-3 6-6 1M201 999q8-11 16 0q-5 12-11 3M188 994q5-8 9 0q-3 9-7 2M187 987q9-7 17 0q-5 8-12 2M601 589q11-10 22 0q-6 11-15 2M592 579q8-10 15 0q-5 11-11 2M595 584q7-9 14 0q-4 10-10 2M584 587q9-6 18 0q-5 6-12 1M583 581q7-10 14 0q-4 12-10 3M579 586q9-7 19 0q-6 7-13 2M582 587q6-11 12 0q-4 12-9 3M597 589q10-9 20 0q-6 11-14 2M284 651q5-5 10 0q-3 6-7 1M302 662q6-11 12 0q-3 12-8 3M287 657q10-9 21 0q-6 10-15 2M290 664q9-7 18 0q-6 8-13 2M271 663q9-9 18 0q-6 10-13 2M277 664q5-10 10 0q-3 11-7 2M962 804q9-6 18 0q-5 7-12 2M988 809q7-10 13 0q-4 11-9 2M971 798q10-11 20 0q-6 12-14 3M993 808q9-7 18 0q-6 8-13 2M970 797q5-8 10 0q-3 9-7 2M965 792q5-10 10 0q-3 11-7 3M529 448q10-9 19 0q-6 10-13 2M546 440q10-10 21 0q-6 12-14 3M526 435q8-9 16 0q-5 10-11 2M548 446q9-10 18 0q-5 11-13 2M521 448q7-6 14 0q-4 7-10 2M522 442q9-8 18 0q-5 9-13 2M131 650q7-10 15 0q-4 12-10 3M121 659q7-6 14 0q-4 7-10 2M121 666q8-11 16 0q-5 13-11 3M119 661q5-6 9 0q-3 6-6 1M120 665q6-8 12 0q-4 9-8 2M279 543q5-6 10 0q-3 7-7 1M270 544q7-11 13 0q-4 12-9 3M300 541q6-7 13 0q-4 8-9 2M973 761q5-8 9 0q-3 9-6 2M975 733q10-7 21 0q-6 8-15 2M982 735q5-5 9 0q-3 6-6 1M981 761q10-8 21 0q-6 9-15 2M864 723q9-9 18 0q-5 10-13 2M868 716q5-8 9 0q-3 9-6 2M866 719q8-6 16 0q-5 7-11 2M591 557q8-6 17 0q-5 7-12 2M596 534q8-5 15 0q-5 6-11 1M582 546q8-6 16 0q-5 7-11 2M600 542q9-5 18 0q-5 6-12 1M614 545q5-7 10 0q-3 7-7 2M600 536q10-6 21 0q-6 7-15 2M594 536q7-11 14 0q-4 12-10 3M584 538q8-9 16 0q-5 10-11 2M1042 807q6-9 12 0q-4 10-9 2M1032 817q8-6 16 0q-5 7-11 2M1021 804q4-9 9 0q-3 10-6 2M1009 823q11-6 21 0q-6 6-15 1M1048 817q4-7 8 0q-2 8-6 2M1026 809q4-6 9 0q-3 7-6 2M1010 813q7-6 15 0q-4 7-10 2M1043 823q7-10 15 0q-4 11-10 2M911 707q4-8 8 0q-3 9-6 2M925 700q8-6 15 0q-5 6-11 1M909 711q4-8 8 0q-2 9-6 2M925 720q10-8 21 0q-6 9-15 2M907 712q6-5 11 0q-3 6-8 1M916 705q7-8 13 0q-4 9-9 2M1062 874q9-7 19 0q-6 8-13 2M1063 883q10-11 19 0q-6 12-13 3M1054 874q9-11 18 0q-6 12-13 3M52 867q7-6 14 0q-4 7-10 2M85 858q6-5 12 0q-4 6-8 1M73 860q9-8 18 0q-6 9-13 2M75 880q5-11 10 0q-3 12-7 3M664 545q10-6 21 0q-6 6-15 1M651 538q10-9 20 0q-6 10-14 2M650 552q11-6 21 0q-6 6-15 1M423 451q8-5 15 0q-5 6-11 1M451 462q5-9 10 0q-3 10-7 2M426 457q5-7 9 0q-3 7-7 2M434 458q9-11 17 0q-5 12-12 3M433 453q5-10 11 0q-3 11-8 2M434 450q5-7 11 0q-3 8-7 2M449 455q10-8 19 0q-6 9-14 2M1005 768q6-7 13 0q-4 8-9 2M1011 791q9-10 18 0q-5 11-12 2M1013 793q4-5 8 0q-2 6-6 1M1004 783q7-6 13 0q-4 7-9 1M1044 769q4-11 9 0q-3 12-6 3M127 724q6-7 12 0q-4 8-9 2M135 717q5-7 10 0q-3 8-7 2M130 716q11-9 21 0q-6 10-15 2M133 730q7-6 14 0q-4 6-10 1M23 843q9-7 18 0q-5 8-12 2M23 844q9-7 18 0q-5 8-12 2M31 831q5-11 9 0q-3 12-6 3M25 818q8-6 17 0q-5 7-12 2M1005 1003q9-10 19 0q-6 12-13 3M1035 988q11-9 21 0q-6 10-15 2M1023 999q6-10 13 0q-4 11-9 2M1018 1000q9-8 18 0q-5 9-12 2M1030 984q11-7 22 0q-7 8-15 2M1025 982q7-9 15 0q-4 10-10 2M82 782q4-8 9 0q-3 10-6 2M79 764q4-11 8 0q-2 12-6 3M80 777q6-8 13 0q-4 9-9 2M79 761q9-9 18 0q-5 10-13 2M66 783q8-10 17 0q-5 12-12 3M899 679q5-7 9 0q-3 8-6 2M884 662q10-7 21 0q-6 8-14 2M877 662q8-7 16 0q-5 8-11 2M906 677q7-6 14 0q-4 7-10 1M869 678q8-8 17 0q-5 9-12 2M1094 924q8-10 15 0q-5 12-11 3M1100 906q10-9 21 0q-6 10-15 2M1101 924q8-6 15 0q-5 7-11 2M1096 915q9-9 18 0q-6 10-13 2M1105 931q10-10 21 0q-6 11-14 3M799 696q10-7 20 0q-6 7-14 2M790 698q11-9 21 0q-6 10-15 2M806 686q5-7 9 0q-3 8-6 2M787 691q9-9 17 0q-5 10-12 2M816 679q5-5 11 0q-3 6-8 1M291 615q8-6 16 0q-5 7-11 2M291 610q4-10 9 0q-3 11-6 2M306 611q7-5 14 0q-4 6-10 1M302 594q8-5 16 0q-5 6-11 1M270 598q8-10 17 0q-5 11-12 2M296 593q6-10 11 0q-3 11-8 2M288 601q9-8 19 0q-6 9-13 2M671 580q7-11 15 0q-4 12-10 3M664 569q9-10 18 0q-5 12-12 3M632 585q7-10 14 0q-4 12-10 3M633 572q6-6 12 0q-4 7-9 2M660 582q9-11 17 0q-5 12-12 3M637 571q7-10 14 0q-4 11-10 2M662 587q10-8 20 0q-6 9-14 2M665 583q8-9 15 0q-5 10-11 2M79 914q9-9 17 0q-5 10-12 2M82 932q6-10 11 0q-3 11-8 3M114 914q9-8 18 0q-5 9-12 2M115 921q7-6 14 0q-4 7-10 2M108 918q10-5 21 0q-6 6-15 1M398 472q10-7 19 0q-6 8-14 2M399 461q4-6 8 0q-3 7-6 1M394 472q5-9 10 0q-3 10-7 2M1080 838q6-8 12 0q-3 9-8 2M1068 846q7-5 15 0q-4 6-10 1M1073 831q4-6 8 0q-2 7-6 2M1087 836q7-8 15 0q-4 9-10 2M1088 824q7-10 13 0q-4 11-9 2M1074 844q10-10 20 0q-6 12-14 3M156 651q5-9 11 0q-3 10-7 2M154 657q7-7 15 0q-4 8-10 2M162 662q4-8 9 0q-3 9-6 2M145 661q7-10 14 0q-4 11-10 2M168 665q8-8 17 0q-5 9-12 2M1062 801q6-8 13 0q-4 10-9 2M1082 804q11-8 21 0q-6 9-15 2M1074 807q8-7 16 0q-5 7-11 2M1098 795q5-8 9 0q-3 9-6 2M1093 810q10-9 19 0q-6 10-14 2M1082 796q5-8 10 0q-3 9-7 2M1089 803q11-10 22 0q-7 11-15 2M44 642q5-8 9 0q-3 9-7 2M44 634q7-10 14 0q-4 11-10 2M28 631q8-6 15 0q-5 7-11 1M32 653q5-5 9 0q-3 5-6 1M35 631q9-9 18 0q-5 10-13 2M33 651q9-8 17 0q-5 9-12 2M24 633q10-6 19 0q-6 7-13 2M241 756q5-8 9 0q-3 9-6 2M236 758q11-7 21 0q-6 7-15 2M230 763q11-6 22 0q-6 7-15 1M227 767q7-7 13 0q-4 8-9 2M223 773q7-9 14 0q-4 10-10 2M570 519q10-6 20 0q-6 7-14 2M568 522q4-7 9 0q-3 8-6 2M572 523q5-6 10 0q-3 6-7 1M566 517q11-7 21 0q-6 8-15 2M605 523q5-9 10 0q-3 10-7 2M232 932q10-5 20 0q-6 6-14 1M214 936q10-8 20 0q-6 9-14 2M232 937q7-9 14 0q-4 11-10 2M218 925q10-10 21 0q-6 11-14 3M231 927q9-5 19 0q-6 6-13 1M220 928q8-7 15 0q-5 8-11 2M220 931q9-9 19 0q-6 10-13 2M259 559q7-6 15 0q-4 6-10 1M258 569q4-7 9 0q-3 8-6 2M276 557q8-7 17 0q-5 8-12 2M243 575q9-7 18 0q-5 8-13 2M265 568q9-8 17 0q-5 9-12 2M269 571q7-7 15 0q-4 7-10 2M275 570q6-10 12 0q-4 11-8 2M954 711q8-8 16 0q-5 9-11 2M944 703q10-9 21 0q-6 10-15 2M958 701q10-10 20 0q-6 11-14 2M952 697q6-11 12 0q-4 12-9 3M956 691q8-8 15 0q-5 8-11 2M952 696q10-8 21 0q-6 9-14 2M961 695q10-8 20 0q-6 9-14 2M949 700q11-8 21 0q-6 9-15 2M243 513q7-9 13 0q-4 10-9 2M226 515q9-10 17 0q-5 11-12 2M227 496q7-8 15 0q-4 9-10 2M227 514q5-6 11 0q-3 7-7 2M246 513q8-6 15 0q-5 6-11 1M696 612q10-7 21 0q-6 8-15 2M695 615q8-8 16 0q-5 9-11 2M711 606q8-9 15 0q-5 10-11 2M812 673q6-9 12 0q-4 10-8 2M837 666q5-6 10 0q-3 7-7 2M835 657q7-11 13 0q-4 12-9 3M166 1009q5-10 10 0q-3 11-7 2M172 1010q5-8 10 0q-3 9-7 2M162 1008q5-10 10 0q-3 12-7 3M155 1016q9-8 19 0q-6 9-13 2M169 1021q8-10 15 0q-5 12-11 3M173 1013q6-10 12 0q-4 12-8 3M162 1013q10-11 19 0q-6 12-14 3M574 443q9-10 17 0q-5 12-12 3M585 441q5-8 9 0q-3 9-7 2M574 445q9-11 19 0q-6 12-13 3M594 446q5-6 11 0q-3 7-8 2M589 432q10-8 21 0q-6 9-14 2M576 430q10-6 19 0q-6 7-13 1M581 448q8-11 17 0q-5 13-12 3M790 628q10-5 20 0q-6 5-14 1M817 625q7-9 13 0q-4 10-9 2M809 623q5-7 10 0q-3 8-7 2M816 641q9-9 18 0q-5 10-13 2M813 639q5-6 10 0q-3 6-7 1M816 617q8-7 15 0q-5 8-11 2M820 632q6-5 11 0q-3 6-8 1M216 542q10-10 20 0q-6 11-14 3M242 530q10-7 20 0q-6 8-14 2M249 541q8-10 17 0q-5 11-12 2M243 527q6-8 12 0q-3 9-8 2M243 526q10-10 21 0q-6 11-14 2M584 467q5-7 10 0q-3 8-7 2M590 466q11-10 21 0q-6 11-15 2M601 476q6-6 12 0q-3 7-8 2M606 472q9-8 18 0q-5 9-13 2M608 463q11-10 21 0q-6 11-15 2M612 467q10-8 21 0q-6 9-15 2M618 465q11-7 21 0q-6 8-15 2M660 467q7-5 14 0q-4 6-9 1M658 474q6-6 13 0q-4 6-9 1M647 476q7-8 13 0q-4 9-9 2M1075 999q9-7 18 0q-5 8-12 2M1058 998q10-9 19 0q-6 10-14 2M1062 1005q4-8 9 0q-3 9-6 2M1065 995q6-9 11 0q-3 10-8 2M337 477q5-8 11 0q-3 9-7 2M335 459q5-9 10 0q-3 10-7 2M344 478q10-10 20 0q-6 12-14 3M340 471q6-10 12 0q-3 11-8 2M16 722q10-8 20 0q-6 9-14 2M14 737q5-7 10 0q-3 7-7 2M45 722q10-7 20 0q-6 7-14 2M42 727q8-9 16 0q-5 10-11 2M1016 715q10-11 19 0q-6 12-13 3M988 721q7-9 15 0q-4 10-10 2M1005 716q7-9 15 0q-4 11-10 2M983 707q6-11 12 0q-4 12-9 3M1009 720q10-7 20 0q-6 8-14 2M1002 728q10-10 21 0q-6 11-14 2M1055 767q8-6 17 0q-5 7-12 2M1090 757q8-8 15 0q-5 10-11 2M1063 784q8-6 16 0q-5 6-11 1M1086 757q9-10 18 0q-5 11-12 3M273 503q4-7 9 0q-3 8-6 2M285 511q5-5 9 0q-3 6-7 1M295 494q9-9 18 0q-5 10-13 2M275 518q9-6 18 0q-6 6-13 1M282 508q11-11 22 0q-7 12-15 3M293 512q7-8 15 0q-4 9-10 2M1094 951q8-9 15 0q-5 10-11 2M1132 953q5-7 10 0q-3 8-7 2M1100 953q7-9 15 0q-4 10-10 2M1097 951q7-8 15 0q-4 9-10 2M529 398q5-10 11 0q-3 11-8 2M514 403q6-11 13 0q-4 12-9 3M515 408q8-5 15 0q-5 6-11 1M533 399q6-7 12 0q-4 8-9 2M552 408q6-7 12 0q-4 8-9 2M522 402q6-9 12 0q-4 10-9 2M711 564q11-6 22 0q-7 7-15 2M699 578q11-9 22 0q-7 10-15 2M697 560q6-9 11 0q-3 10-8 2M734 563q9-9 17 0q-5 10-12 2M697 583q6-7 12 0q-4 8-9 2M166 603q9-10 18 0q-5 12-13 3M164 606q6-11 11 0q-3 12-8 3M191 602q6-5 12 0q-3 6-8 1M686 498q9-6 19 0q-6 7-13 2M699 509q8-5 17 0q-5 6-12 1M669 510q11-6 21 0q-6 7-15 2M24 665q9-9 18 0q-5 10-13 2M29 672q7-10 13 0q-4 12-9 3M4 682q7-7 13 0q-4 8-9 2M26 678q5-9 11 0q-3 10-7 2M29 669q8-9 16 0q-5 10-11 2M20 669q7-6 13 0q-4 7-9 1M750 551q7-6 15 0q-4 6-10 1M728 544q6-8 12 0q-4 9-8 2M730 546q5-5 10 0q-3 6-7 1M748 550q7-6 14 0q-4 6-10 1M748 540q9-5 19 0q-6 6-13 1M56 989q5-11 11 0q-3 12-8 3M66 991q8-9 16 0q-5 10-11 2M65 986q6-9 13 0q-4 11-9 2M66 976q7-8 15 0q-4 8-10 2M77 980q9-9 17 0q-5 10-12 2M1018 693q7-7 14 0q-4 8-10 2M1017 676q7-5 13 0q-4 6-9 1M1012 690q10-6 21 0q-6 7-15 1M1016 689q8-8 16 0q-5 9-11 2M1011 684q11-11 21 0q-6 12-15 3M996 685q7-11 14 0q-4 12-10 3M1018 682q7-7 13 0q-4 8-9 2M192 543q10-8 19 0q-6 9-13 2M217 546q4-11 9 0q-3 12-6 3M190 542q6-7 12 0q-4 7-9 2M216 542q6-8 12 0q-4 9-9 2M192 542q9-10 18 0q-5 11-13 2M190 544q8-10 16 0q-5 12-11 3M217 555q4-5 9 0q-3 6-6 1M202 549q5-5 9 0q-3 6-6 1M882 598q6-8 12 0q-4 9-9 2M910 598q6-10 11 0q-3 11-8 2M910 597q6-7 12 0q-4 8-9 2M878 594q8-6 16 0q-5 7-11 2M884 611q7-8 15 0q-4 9-10 2M896 610q10-11 21 0q-6 12-15 3M883 610q4-6 8 0q-3 6-6 1M133 577q8-10 16 0q-5 11-11 3M130 583q7-9 14 0q-4 10-10 2M125 592q10-8 20 0q-6 9-14 2M131 594q7-9 15 0q-4 10-10 2M151 591q5-9 10 0q-3 10-7 2M129 575q7-6 15 0q-4 7-10 2M131 578q7-7 13 0q-4 8-9 2M329 538q7-5 14 0q-4 6-10 1M336 537q8-5 16 0q-5 6-11 1M352 523q11-10 22 0q-7 12-15 3M315 524q8-10 16 0q-5 11-11 2M347 537q10-7 20 0q-6 7-14 2M325 529q7-7 14 0q-4 8-10 2M438 413q8-11 16 0q-5 12-11 3M420 428q9-10 18 0q-5 12-13 3M449 426q8-8 16 0q-5 9-11 2M434 425q6-10 13 0q-4 11-9 2M436 421q8-9 15 0q-5 11-11 2M444 430q9-6 18 0q-5 7-13 2M422 414q5-8 9 0q-3 9-6 2M419 422q9-8 19 0q-6 9-13 2M39 813q5-7 10 0q-3 8-7 2M33 800q10-10 20 0q-6 12-14 3M29 798q7-9 13 0q-4 11-9 2M36 814q5-10 9 0q-3 11-7 3M942 605q9-6 18 0q-5 6-12 1M957 612q5-11 10 0q-3 12-7 3M955 602q10-9 21 0q-6 10-14 2M966 620q5-7 10 0q-3 8-7 2M934 621q11-8 21 0q-6 10-15 2M957 625q8-8 15 0q-5 9-11 2M944 626q5-6 10 0q-3 7-7 2M967 601q5-8 11 0q-3 9-8 2M145 555q5-7 9 0q-3 7-6 2M168 553q6-6 11 0q-3 7-8 1M176 551q8-9 16 0q-5 10-11 2M167 562q8-10 16 0q-5 11-11 2M148 566q10-6 20 0q-6 7-14 2M305 436q10-11 21 0q-6 12-14 3M323 435q7-10 14 0q-4 11-10 2M327 436q9-8 18 0q-5 9-12 2M315 430q6-6 12 0q-4 7-8 2M334 426q6-6 11 0q-3 7-8 2M326 440q6-5 12 0q-4 6-9 1M26 874q6-10 11 0q-3 11-8 2M24 870q8-7 15 0q-5 8-11 2M1 869q9-10 17 0q-5 12-12 3M39 872q5-10 10 0q-3 12-7 3M887 576q8-10 15 0q-5 11-11 3M884 577q5-10 9 0q-3 11-6 2M882 574q9-11 19 0q-6 12-13 3M919 581q6-9 12 0q-4 10-9 2M905 574q8-8 16 0q-5 9-11 2M897 580q9-11 17 0q-5 12-12 3M740 528q10-7 21 0q-6 8-14 2M733 524q11-8 22 0q-7 9-15 2M758 534q4-10 8 0q-3 11-6 2M719 525q8-5 17 0q-5 6-12 1M741 528q6-8 13 0q-4 9-9 2M734 518q6-11 12 0q-3 12-8 3M740 525q10-10 19 0q-6 11-13 3M747 523q8-7 16 0q-5 8-11 2M792 707q7-8 14 0q-4 9-10 2M775 727q7-8 14 0q-4 9-10 2M763 725q8-5 16 0q-5 6-11 1M777 718q7-11 15 0q-4 13-10 3M59 552q6-7 12 0q-4 8-9 2M49 554q7-5 14 0q-4 6-10 1M81 558q7-5 13 0q-4 6-9 1M78 557q5-7 9 0q-3 8-6 2M845 570q5-7 9 0q-3 8-6 2M824 570q9-8 19 0q-6 9-13 2M831 573q8-7 17 0q-5 7-12 2M821 588q11-7 21 0q-6 8-15 2M830 566q8-9 16 0q-5 11-11 2M719 476q4-6 8 0q-3 7-6 2M720 470q9-9 18 0q-5 10-12 2M731 469q5-8 10 0q-3 9-7 2M711 455q8-11 15 0q-5 12-11 3M718 473q8-5 17 0q-5 6-12 1M721 478q9-7 17 0q-5 8-12 2M325 485q10-9 20 0q-6 10-14 2M309 494q6-9 13 0q-4 10-9 2M299 485q6-11 12 0q-4 12-8 3M299 495q8-9 17 0q-5 11-12 2M283 492q11-10 22 0q-7 11-15 3M792 598q8-9 17 0q-5 10-12 2M793 574q5-8 10 0q-3 9-7 2M791 594q8-7 16 0q-5 7-11 2M790 577q5-10 9 0q-3 11-6 3M784 586q7-11 14 0q-4 12-9 3M976 575q6-5 11 0q-3 6-8 1M955 590q7-7 13 0q-4 8-9 2M969 575q9-11 19 0q-6 12-13 3M834 620q7-7 15 0q-4 8-10 2M830 618q5-11 10 0q-3 12-7 3M826 601q6-7 11 0q-3 8-8 2M832 614q7-6 15 0q-4 7-10 1M832 609q5-8 10 0q-3 9-7 2M850 597q5-10 10 0q-3 11-7 3M853 616q6-7 12 0q-4 8-8 2M852 617q9-6 17 0q-5 6-12 1M932 537q8-5 17 0q-5 6-12 1M933 540q7-6 13 0q-4 7-9 2M926 546q5-6 10 0q-3 7-7 2M939 537q10-7 20 0q-6 8-14 2M923 555q7-7 13 0q-4 8-9 2M912 540q11-8 21 0q-6 9-15 2M227 473q9-10 19 0q-6 12-13 3M231 485q5-7 11 0q-3 7-8 2M239 476q8-8 16 0q-5 9-11 2M251 469q7-9 14 0q-4 10-10 2M256 469q6-8 13 0q-4 9-9 2M225 475q11-6 21 0q-6 7-15 2M253 483q7-7 15 0q-4 8-10 2M220 475q10-7 20 0q-6 8-14 2M1098 1004q8-7 16 0q-5 8-11 2M1108 990q4-6 8 0q-2 6-6 1M1126 989q10-8 20 0q-6 9-14 2M1115 987q9-8 17 0q-5 9-12 2M1113 995q4-9 8 0q-2 10-6 2M1131 987q5-7 10 0q-3 8-7 2M1117 1001q10-6 21 0q-6 7-15 2M870 512q5-7 10 0q-3 8-7 2M909 503q5-9 11 0q-3 10-8 2M887 521q6-10 13 0q-4 11-9 2M878 523q10-6 21 0q-6 7-15 2M59 604q7-10 13 0q-4 11-9 2M75 600q8-10 15 0q-5 11-11 2M58 610q4-5 8 0q-2 6-6 1M81 616q4-7 8 0q-2 8-6 2M78 605q10-11 20 0q-6 12-14 3M797 554q6-5 13 0q-4 6-9 1M771 557q6-6 11 0q-3 6-8 1M797 563q10-8 19 0q-6 9-13 2M789 548q10-6 20 0q-6 7-14 2M789 558q5-7 10 0q-3 7-7 2M920 740q9-6 18 0q-5 7-13 2M917 734q11-8 22 0q-7 10-15 2M917 734q6-10 12 0q-3 11-8 3M910 734q5-8 11 0q-3 9-8 2M903 752q8-7 17 0q-5 8-12 2M906 739q10-6 20 0q-6 7-14 2M905 735q10-10 20 0q-6 12-14 3M672 451q8-7 17 0q-5 8-12 2M675 433q5-8 9 0q-3 9-7 2M682 446q5-5 9 0q-3 6-6 1M693 435q9-10 18 0q-5 12-13 3M722 437q11-5 22 0q-7 6-15 1M733 451q9-11 17 0q-5 12-12 3M754 453q8-10 15 0q-5 11-11 2M741 436q10-5 19 0q-6 6-14 1M730 444q6-11 12 0q-4 12-9 3M1003 596q8-5 16 0q-5 6-11 1M1014 607q6-9 11 0q-3 10-8 2M983 604q10-10 19 0q-6 12-13 3M1013 607q8-8 16 0q-5 9-11 2M1057 930q9-6 18 0q-6 7-13 2M1062 933q5-6 10 0q-3 7-7 2M1062 926q5-7 9 0q-3 8-7 2M1069 924q5-7 10 0q-3 8-7 2M1059 928q4-10 9 0q-3 11-6 2M958 531q11-10 21 0q-6 11-15 2M966 535q9-11 18 0q-5 12-12 3M963 533q8-8 15 0q-5 9-11 2M948 534q8-10 16 0q-5 12-11 3M938 532q9-9 17 0q-5 10-12 2M962 518q9-11 18 0q-5 12-12 3M328 416q10-11 19 0q-6 12-13 3M355 416q5-8 11 0q-3 9-8 2M328 421q9-7 19 0q-6 8-13 2M335 422q7-5 14 0q-4 6-10 1M348 412q5-10 10 0q-3 12-7 3M1007 536q10-11 21 0q-6 12-15 3M993 535q9-9 19 0q-6 11-13 2M1023 531q5-11 11 0q-3 12-8 3M596 411q6-8 11 0q-3 9-8 2M607 410q5-8 10 0q-3 9-7 2M596 394q7-5 14 0q-4 5-10 1M77 511q7-7 14 0q-4 8-10 2M58 516q9-7 18 0q-5 8-13 2M57 517q8-8 17 0q-5 9-12 2M596 370q10-9 19 0q-6 10-14 2M603 382q9-7 18 0q-5 8-12 2M598 367q8-6 16 0q-5 7-11 2M604 377q8-11 16 0q-5 12-11 3M675 424q6-8 13 0q-4 10-9 2M681 413q8-11 17 0q-5 12-12 3M671 413q9-10 18 0q-5 11-13 2M695 409q4-6 8 0q-3 7-6 2M320 377q5-7 11 0q-3 8-8 2M324 385q8-11 17 0q-5 12-12 3M308 375q8-11 17 0q-5 12-12 3M321 389q10-5 20 0q-6 6-14 1M319 374q9-10 18 0q-5 11-12 2M805 515q8-11 16 0q-5 12-11 3M827 514q9-7 18 0q-5 8-13 2M820 511q4-7 8 0q-3 8-6 2M808 512q5-9 11 0q-3 10-8 2M814 513q6-10 12 0q-4 12-8 3M833 504q6-5 12 0q-4 6-8 1M827 505q6-9 12 0q-4 10-9 2M248 396q8-9 16 0q-5 10-11 2M240 397q11-9 22 0q-6 10-15 2M238 375q7-8 15 0q-4 8-10 2M248 385q6-6 11 0q-3 7-8 2M238 442q10-8 19 0q-6 9-13 2M214 448q9-8 18 0q-5 9-13 2M233 449q7-9 14 0q-4 10-10 2M227 437q10-7 21 0q-6 8-14 2M209 443q7-9 15 0q-4 10-10 2M6 499q10-6 20 0q-6 7-14 2M11 494q10-10 19 0q-6 11-13 2M4 505q11-7 22 0q-6 8-15 2M-4 499q7-6 15 0q-4 7-10 2M18 513q5-8 9 0q-3 9-7 2M0 502q7-6 13 0q-4 6-9 1M23 502q8-8 17 0q-5 8-12 2M731 403q11-8 22 0q-7 8-15 2M754 411q6-10 13 0q-4 11-9 2M738 411q10-9 20 0q-6 10-14 2M755 406q9-9 17 0q-5 10-12 2M727 418q9-9 17 0q-5 10-12 2M823 537q8-8 16 0q-5 9-11 2M815 547q6-8 11 0q-3 9-8 2M822 551q8-5 16 0q-5 5-11 1M825 552q6-10 13 0q-4 11-9 2M847 556q9-8 19 0q-6 8-13 2M29 753q6-11 11 0q-3 12-8 3M13 770q9-7 17 0q-5 8-12 2M35 771q8-6 16 0q-5 6-11 1M160 317q9-11 19 0q-6 12-13 3M193 307q4-10 9 0q-3 12-6 3M186 310q5-9 10 0q-3 10-7 2M167 313q6-7 13 0q-4 8-9 2M168 320q8-10 16 0q-5 11-11 2M169 317q11-6 21 0q-6 7-15 2M170 311q10-6 20 0q-6 7-14 2M971 645q5-10 11 0q-3 11-8 3M957 647q10-5 20 0q-6 6-14 1M984 650q6-11 11 0q-3 12-8 3M1046 592q4-6 9 0q-3 7-6 1M1077 590q4-10 9 0q-3 12-6 3M1052 587q6-9 11 0q-3 10-8 2M1051 574q8-5 16 0q-5 6-11 1M1071 596q6-11 12 0q-4 12-8 3M526 388q5-11 11 0q-3 12-7 3M517 393q7-8 14 0q-4 9-10 2M533 376q10-8 21 0q-6 9-15 2M537 392q9-10 17 0q-5 11-12 3M523 378q5-8 11 0q-3 9-8 2M529 393q5-7 11 0q-3 8-8 2M531 378q9-8 18 0q-5 9-13 2M546 379q10-10 20 0q-6 11-14 3M707 388q11-10 21 0q-6 12-15 3M702 394q8-10 15 0q-5 11-11 2M712 381q5-8 10 0q-3 9-7 2M684 389q10-9 21 0q-6 10-14 2M671 378q4-8 8 0q-3 9-6 2M1058 552q6-6 12 0q-4 7-8 2M1060 563q5-8 10 0q-3 9-7 2M1072 542q10-10 19 0q-6 11-14 2M483 376q7-10 14 0q-4 11-10 2M470 372q7-7 15 0q-4 8-10 2M485 375q11-6 22 0q-6 7-15 2M497 366q10-5 19 0q-6 6-14 1M474 376q10-6 21 0q-6 6-15 1M485 384q7-9 15 0q-4 11-10 2M504 384q6-7 12 0q-3 8-8 2M96 497q10-11 20 0q-6 13-14 3M113 494q5-10 10 0q-3 12-7 3M93 485q10-8 20 0q-6 9-14 2M103 486q10-9 21 0q-6 10-15 2M327 312q8-7 17 0q-5 7-12 2M332 300q8-7 16 0q-5 8-12 2M338 292q6-7 12 0q-4 7-8 2M315 294q11-10 22 0q-6 11-15 2M338 290q4-9 8 0q-2 10-6 2M334 302q11-5 21 0q-6 6-15 1M322 302q8-10 16 0q-5 11-11 2M328 307q8-7 16 0q-5 7-11 2M1039 612q4-7 8 0q-3 7-6 2M1019 597q8-5 15 0q-5 6-11 1M1035 600q5-10 11 0q-3 11-7 2M1050 612q8-6 17 0q-5 7-12 1M1033 618q5-7 9 0q-3 8-6 2M1026 601q5-9 10 0q-3 11-7 2M731 379q6-5 13 0q-4 6-9 1M739 360q9-6 19 0q-6 7-13 2M722 372q8-9 16 0q-5 10-11 2M745 357q10-10 21 0q-6 11-14 2M751 356q6-6 12 0q-4 7-8 2M425 392q8-6 15 0q-5 7-11 2M439 404q6-5 11 0q-3 6-8 1M423 388q10-11 20 0q-6 12-14 3M432 398q8-7 16 0q-5 8-11 2M428 400q10-7 20 0q-6 8-14 2M421 397q4-7 9 0q-3 8-6 2M1084 501q5-8 11 0q-3 9-8 2M1051 510q11-11 21 0q-6 12-15 3M1048 504q9-8 19 0q-6 9-13 2M986 506q10-11 20 0q-6 12-14 3M963 501q10-10 20 0q-6 11-14 3M971 504q9-11 19 0q-6 12-13 3M987 505q5-7 11 0q-3 8-7 2M970 486q6-10 12 0q-4 12-8 3M755 479q5-7 10 0q-3 8-7 2M752 478q8-8 16 0q-5 9-11 2M777 488q10-7 21 0q-6 8-15 2M784 480q10-6 20 0q-6 7-14 2M778 490q10-9 20 0q-6 10-14 2M787 482q7-6 15 0q-4 7-10 1M758 483q4-7 9 0q-3 8-6 2M763 490q7-6 15 0q-4 6-10 1M268 406q7-6 13 0q-4 6-9 1M277 409q9-6 17 0q-5 7-12 2M273 406q5-11 11 0q-3 12-8 3M292 403q9-7 18 0q-5 8-12 2M281 398q7-11 15 0q-4 12-10 3M1120 666q7-10 13 0q-4 11-9 2M1109 656q4-10 9 0q-3 11-6 2M1107 668q6-8 11 0q-3 9-8 2M1124 669q10-10 20 0q-6 12-14 3M1117 651q10-11 20 0q-6 12-14 3M405 308q6-9 11 0q-3 10-8 2M372 327q6-10 12 0q-4 11-9 2M391 312q10-11 19 0q-6 12-13 3M401 308q7-5 14 0q-4 6-10 1M386 313q8-10 15 0q-5 12-11 3M411 352q7-6 14 0q-4 7-10 2M403 371q8-5 16 0q-5 6-12 1M397 353q4-9 8 0q-2 10-6 2M649 373q5-8 10 0q-3 9-7 2M619 371q10-6 21 0q-6 6-14 1M636 367q8-5 15 0q-5 6-11 1M635 360q8-11 16 0q-5 12-12 3M624 365q7-7 14 0q-4 8-10 2M631 363q5-9 10 0q-3 10-7 2M634 374q6-6 11 0q-3 7-8 2M1004 500q7-8 14 0q-4 9-10 2M1005 491q5-11 11 0q-3 12-8 3M1005 487q5-6 9 0q-3 7-6 2M1018 479q8-9 17 0q-5 10-12 2M1028 486q8-7 17 0q-5 8-12 2M844 397q8-8 17 0q-5 9-12 2M870 391q10-7 19 0q-6 8-13 2M873 390q6-10 12 0q-3 11-8 2M872 382q5-5 11 0q-3 6-7 1M854 375q6-11 12 0q-3 12-8 3M860 380q11-10 21 0q-6 12-15 3M860 389q5-10 9 0q-3 11-6 3M363 276q6-10 12 0q-4 11-8 2M352 278q9-6 18 0q-6 6-13 1M358 258q10-11 20 0q-6 13-14 3M362 274q6-7 12 0q-4 8-8 2M338 273q10-9 20 0q-6 10-14 2M333 276q10-5 20 0q-6 6-14 1M351 284q7-6 13 0q-4 7-9 2M348 258q8-9 15 0q-5 10-11 2M847 425q4-7 8 0q-2 8-6 2M836 419q7-9 15 0q-4 10-10 2M831 405q9-9 18 0q-6 10-13 2M866 413q8-8 16 0q-5 8-11 2M865 410q7-10 15 0q-4 11-10 2M848 413q5-11 9 0q-3 12-7 3M1049 647q6-5 11 0q-3 6-8 1M1061 644q6-7 13 0q-4 8-9 2M1080 644q8-8 16 0q-5 9-11 2M1062 630q4-8 9 0q-3 9-6 2M1053 636q10-5 20 0q-6 6-14 1M517 329q8-7 15 0q-5 7-11 2M518 336q9-7 17 0q-5 8-12 2M487 326q11-5 22 0q-7 6-15 1M510 333q6-8 12 0q-4 9-8 2M492 338q5-5 9 0q-3 5-7 1M506 335q11-9 22 0q-7 10-15 2M529 338q7-6 14 0q-4 7-10 2M506 325q5-7 10 0q-3 8-7 2M854 365q5-7 10 0q-3 8-7 2M848 350q5-9 10 0q-3 10-7 2M867 365q6-7 12 0q-4 8-9 2M865 365q8-5 16 0q-5 6-11 1M831 363q7-9 13 0q-4 10-9 2M832 362q8-6 15 0q-5 6-11 1M831 352q7-8 14 0q-4 9-9 2M767 354q9-8 19 0q-6 8-13 2M795 353q5-8 10 0q-3 9-7 2M767 338q10-11 20 0q-6 12-14 3M765 341q9-10 18 0q-6 11-13 3M774 347q8-8 15 0q-5 9-11 2M769 356q11-7 21 0q-6 7-15 2M121 446q7-10 14 0q-4 11-10 3M122 443q5-8 10 0q-3 8-7 2M115 424q6-7 13 0q-4 8-9 2M92 432q8-8 16 0q-5 9-11 2M292 267q5-7 11 0q-3 8-8 2M260 249q6-6 12 0q-4 7-9 1M277 262q6-8 11 0q-3 9-8 2M269 256q5-11 9 0q-3 12-6 3M293 265q7-7 13 0q-4 8-9 2M282 259q9-7 19 0q-6 8-13 2M268 243q7-5 13 0q-4 6-9 1M256 267q11-5 22 0q-7 6-15 1M53 429q5-10 11 0q-3 11-8 3M46 411q6-8 13 0q-4 9-9 2M70 411q6-6 11 0q-3 7-8 2M58 409q7-7 14 0q-4 8-10 2M73 426q4-5 8 0q-2 6-6 1M24 436q11-8 22 0q-7 8-15 2M40 442q6-7 12 0q-3 8-8 2M50 445q9-9 18 0q-5 10-13 2M23 454q10-6 21 0q-6 6-15 1M21 450q5-10 10 0q-3 12-7 3M36 445q6-8 12 0q-4 9-8 2M968 445q7-10 15 0q-4 11-10 2M989 436q7-7 14 0q-4 8-10 2M988 424q4-11 9 0q-3 12-6 3M978 425q6-5 13 0q-4 6-9 1M992 423q8-5 15 0q-5 6-11 1M968 432q6-10 12 0q-4 11-9 2M163 380q10-7 21 0q-6 8-15 2M175 386q5-5 9 0q-3 6-7 1M151 377q5-8 10 0q-3 9-7 2M152 379q5-9 10 0q-3 10-7 2M151 380q4-6 8 0q-2 7-6 1M1008 468q10-10 20 0q-6 11-14 2M1022 456q8-7 15 0q-5 8-11 2M1027 456q7-10 14 0q-4 11-10 2M148 402q6-8 12 0q-4 9-8 2M124 402q5-10 10 0q-3 12-7 3M143 401q8-6 15 0q-5 6-11 1M3 411q6-11 12 0q-4 12-8 3M19 410q8-8 16 0q-5 9-11 2M-10 414q5-11 9 0q-3 12-7 3M-9 400q7-5 13 0q-4 6-9 1M-12 411q8-5 15 0q-5 6-11 1M17 407q11-5 22 0q-7 6-15 1M953 465q5-7 10 0q-3 8-7 2M952 474q7-8 14 0q-4 9-10 2M977 472q10-5 20 0q-6 6-14 1M952 465q8-11 16 0q-5 12-11 3M964 457q6-6 11 0q-3 6-8 1M979 466q6-10 11 0q-3 11-8 2M966 459q5-10 9 0q-3 11-6 2M118 326q10-7 20 0q-6 7-14 2M129 318q5-5 10 0q-3 6-7 1M124 334q8-10 16 0q-5 12-11 3M111 335q8-9 15 0q-5 10-11 2M111 334q10-10 20 0q-6 11-14 2M123 321q8-8 15 0q-5 9-11 2M125 318q8-8 16 0q-5 9-11 2M1099 588q7-7 14 0q-4 8-10 2M1124 587q6-7 11 0q-3 8-8 2M1090 599q10-11 21 0q-6 12-14 3M1112 587q8-6 17 0q-5 6-12 1M1108 602q11-8 21 0q-6 9-15 2M1097 589q9-7 19 0q-6 8-13 2M1101 600q9-9 17 0q-5 10-12 2M1088 607q9-10 17 0q-5 12-12 3M345 212q5-9 10 0q-3 10-7 2M349 231q6-11 11 0q-3 12-8 3M333 223q4-9 9 0q-3 10-6 2M315 222q7-6 14 0q-4 6-10 1M149 275q9-10 18 0q-5 11-12 3M150 272q6-10 13 0q-4 12-9 3M172 280q4-10 8 0q-2 12-6 3M1032 437q8-6 16 0q-5 7-12 2M1017 424q8-7 17 0q-5 8-12 2M1013 440q5-11 10 0q-3 12-7 3M1017 436q11-6 22 0q-7 7-15 2M1047 427q8-8 15 0q-5 9-11 2M1029 436q9-7 19 0q-6 8-13 2M1038 441q8-8 15 0q-5 9-11 2M109 378q10-6 19 0q-6 7-14 1M123 380q5-7 10 0q-3 8-7 2M99 357q8-8 16 0q-5 9-11 2M104 380q8-7 16 0q-5 7-11 2M89 377q9-10 17 0q-5 11-12 3M831 441q8-7 16 0q-5 8-11 2M840 443q9-10 18 0q-5 12-13 3M843 454q7-5 15 0q-4 6-10 1M855 440q5-10 9 0q-3 11-6 2M826 447q7-5 14 0q-4 6-10 1M836 438q9-10 18 0q-5 11-12 3M89 633q4-11 8 0q-2 12-6 3M53 635q4-11 9 0q-3 12-6 3M76 632q9-5 18 0q-5 6-13 1M65 648q10-8 20 0q-6 9-14 2M68 646q6-9 11 0q-3 10-8 2M75 649q7-5 15 0q-4 6-10 1M85 649q6-10 12 0q-4 12-9 3M977 918q6-7 13 0q-4 8-9 2M981 921q7-10 14 0q-4 11-10 3M968 928q11-10 21 0q-6 11-15 2M973 929q5-6 11 0q-3 7-8 1M997 937q11-5 22 0q-7 6-15 1M971 924q7-5 13 0q-4 6-9 1M999 927q11-5 22 0q-7 6-15 1M766 308q4-7 9 0q-3 8-6 2M785 303q9-5 18 0q-5 6-13 1M763 318q7-6 14 0q-4 7-10 2M1111 545q9-10 19 0q-6 11-13 2M1128 542q6-9 12 0q-3 10-8 2M1127 552q5-6 10 0q-3 7-7 2M302 248q9-11 19 0q-6 12-13 3M314 235q9-7 18 0q-5 8-13 2M306 245q11-6 21 0q-6 6-15 1M311 233q6-10 11 0q-3 11-8 2M319 245q8-5 16 0q-5 6-11 1M1140 475q7-11 14 0q-4 12-10 3M1142 452q10-6 19 0q-6 7-14 2M1129 462q6-6 11 0q-3 7-8 2M93 457q8-11 16 0q-5 12-12 3M67 447q6-8 12 0q-4 9-9 2M91 451q4-5 9 0q-3 5-6 1M62 451q11-7 21 0q-6 8-15 2M896 391q4-9 9 0q-3 11-6 2M893 403q11-7 21 0q-6 8-15 2M883 399q11-11 21 0q-6 12-15 3M903 439q11-5 22 0q-6 5-15 1M930 420q7-10 15 0q-4 11-10 3M930 430q6-10 13 0q-4 11-9 2M916 429q6-5 11 0q-3 5-8 1M902 438q8-8 17 0q-5 9-12 2M1123 502q10-10 19 0q-6 12-13 3M1128 500q5-7 9 0q-3 7-6 2M1104 494q7-8 14 0q-4 9-10 2M206 206q7-6 14 0q-4 6-10 1M206 223q5-11 10 0q-3 12-7 3M211 208q9-7 18 0q-5 8-13 2M232 211q10-6 21 0q-6 7-15 2M222 209q8-7 15 0q-5 8-11 2M235 209q6-7 11 0q-3 8-8 2M209 219q6-6 13 0q-4 7-9 1M228 211q9-9 18 0q-5 11-13 2M208 274q7-11 15 0q-4 12-10 3M199 290q8-8 17 0q-5 9-12 2M206 286q7-11 14 0q-4 12-10 3M192 290q11-7 21 0q-6 8-15 2M189 274q5-6 10 0q-3 7-7 2M196 274q10-8 21 0q-6 9-14 2M206 298q6-7 12 0q-4 8-9 2M61 481q6-8 11 0q-3 9-8 2M34 483q11-6 22 0q-7 7-15 2M41 473q9-8 18 0q-5 9-13 2M35 485q4-11 9 0q-3 13-6 3M38 475q8-11 16 0q-5 12-11 3M66 479q4-5 9 0q-3 6-6 1M31 489q11-8 21 0q-6 9-15 2M683 330q5-10 10 0q-3 11-7 2M695 329q6-11 12 0q-3 12-8 3M708 343q9-11 18 0q-6 12-13 3M688 341q8-5 16 0q-5 6-11 1M715 326q4-7 9 0q-3 8-6 2M532 299q8-7 17 0q-5 7-12 2M547 307q10-8 20 0q-6 9-14 2M537 318q7-9 15 0q-4 10-10 2M566 300q6-7 13 0q-4 8-9 2M541 299q7-10 13 0q-4 11-9 2M565 320q10-6 20 0q-6 7-14 2M527 313q11-5 22 0q-6 6-15 1M544 307q9-10 19 0q-6 11-13 2M334 176q8-7 16 0q-5 8-11 2M324 188q10-10 20 0q-6 11-14 3M307 191q5-6 10 0q-3 6-7 1M323 186q10-11 21 0q-6 12-14 3M196 222q6-10 12 0q-3 11-8 2M194 224q8-9 15 0q-5 10-11 2M193 238q7-11 14 0q-4 12-10 3M188 232q11-9 22 0q-6 10-15 2M190 218q4-10 9 0q-3 12-6 3M190 227q5-6 10 0q-3 7-7 1M181 229q9-6 17 0q-5 6-12 1M430 318q5-10 11 0q-3 11-8 3M452 299q8-11 16 0q-5 12-11 3M462 314q5-7 11 0q-3 8-8 2M581 304q5-8 10 0q-3 9-7 2M570 298q10-9 19 0q-6 10-14 2M593 316q5-6 10 0q-3 7-7 2M584 313q7-5 13 0q-4 6-9 1M588 295q5-7 10 0q-3 8-7 2M608 302q8-8 16 0q-5 9-11 2M594 314q5-6 11 0q-3 6-7 1M852 308q5-10 11 0q-3 11-8 3M855 307q5-8 10 0q-3 9-7 2M853 316q7-9 14 0q-4 10-9 2M863 321q6-10 11 0q-3 12-8 3M848 313q9-5 18 0q-5 6-12 1M856 310q5-10 10 0q-3 11-7 2M849 310q5-9 11 0q-3 11-7 2M242 133q7-10 15 0q-4 11-10 3M246 146q5-6 10 0q-3 6-7 1M248 140q6-7 12 0q-4 8-8 2M227 147q9-8 19 0q-6 9-13 2M243 146q6-6 12 0q-4 7-8 2M232 128q9-7 18 0q-5 8-13 2M194 121q7-7 13 0q-4 8-9 2M179 142q5-7 10 0q-3 7-7 2M171 128q9-9 18 0q-6 11-13 2M185 139q6-8 13 0q-4 9-9 2M173 139q6-8 13 0q-4 10-9 2M679 242q4-7 8 0q-2 8-6 2M687 239q11-7 21 0q-6 8-15 2M693 227q8-8 16 0q-5 9-11 2M672 247q11-9 21 0q-6 10-15 2M566 280q9-7 19 0q-6 8-13 2M565 264q7-6 14 0q-4 7-10 2M566 275q7-6 15 0q-4 7-10 1M548 263q4-9 8 0q-3 11-6 2M558 277q10-9 20 0q-6 10-14 2M748 335q6-5 12 0q-4 6-8 1M724 334q9-6 18 0q-6 6-13 1M730 326q7-7 15 0q-4 8-10 2M718 325q8-11 16 0q-5 12-11 3M718 334q7-6 14 0q-4 7-10 2M749 316q5-8 11 0q-3 9-8 2M732 333q4-8 8 0q-3 9-6 2M723 316q5-5 11 0q-3 6-8 1M727 296q4-7 8 0q-3 8-6 2M715 300q11-8 21 0q-6 9-15 2M711 298q8-7 16 0q-5 8-11 2M732 303q6-7 11 0q-3 8-8 2M527 279q4-5 8 0q-2 6-6 1M503 294q5-8 10 0q-3 9-7 2M536 282q8-7 16 0q-5 7-12 2M483 242q7-5 14 0q-4 6-10 1M510 245q6-5 11 0q-3 6-8 1M493 252q6-9 11 0q-3 11-8 2M512 245q6-6 12 0q-3 7-8 2M489 251q6-8 13 0q-4 9-9 2M512 254q5-8 10 0q-3 9-7 2M495 252q6-7 12 0q-3 8-8 2M51 292q9-11 18 0q-6 13-13 3M55 290q8-7 15 0q-5 8-11 2M83 304q8-8 16 0q-5 9-11 2M85 299q6-10 12 0q-4 11-8 2M500 358q6-8 11 0q-3 9-8 2M512 356q4-11 9 0q-3 12-6 3M518 356q6-9 13 0q-4 10-9 2M507 362q10-5 20 0q-6 5-14 1M494 364q9-8 19 0q-6 9-13 2M509 356q4-5 8 0q-3 6-6 1M505 352q5-9 11 0q-3 10-8 2M87 253q8-9 15 0q-5 10-11 2M103 237q8-10 16 0q-5 11-11 2M120 252q7-5 14 0q-4 6-10 1M86 241q5-6 10 0q-3 7-7 1M816 284q11-10 21 0q-6 11-15 2M822 272q9-6 19 0q-6 7-13 1M814 290q9-8 18 0q-5 9-13 2M592 261q7-7 15 0q-4 8-10 2M574 248q7-5 15 0q-4 5-10 1M592 252q10-9 20 0q-6 10-14 2M953 359q5-7 11 0q-3 8-7 2M942 356q7-8 14 0q-4 9-10 2M947 373q9-9 18 0q-5 10-13 2M973 362q9-11 18 0q-5 12-12 3M1003 357q4-11 8 0q-2 12-6 3M1001 360q6-5 13 0q-4 6-9 1M991 367q5-6 11 0q-3 6-8 1M973 365q10-11 20 0q-6 12-14 3M991 357q8-8 16 0q-5 9-11 2M614 301q8-8 15 0q-5 9-11 2M620 297q6-8 12 0q-4 9-8 2M635 295q10-5 20 0q-6 6-14 1M634 295q7-8 14 0q-4 8-10 2M625 303q9-11 18 0q-5 12-13 3M611 295q4-8 8 0q-2 9-6 2M621 283q10-10 21 0q-6 12-15 3M513 227q8-7 17 0q-5 8-12 2M534 230q6-6 13 0q-4 7-9 1M536 246q10-7 21 0q-6 8-14 2M512 248q11-7 22 0q-6 8-15 2M536 240q11-9 21 0q-6 10-15 2M63 330q7-10 15 0q-4 11-10 3M84 320q9-6 18 0q-6 7-13 1M100 340q6-9 12 0q-3 10-8 2M80 324q6-5 11 0q-3 6-8 1M79 336q9-9 18 0q-5 10-12 2M83 323q6-7 12 0q-4 8-9 2M95 319q5-9 11 0q-3 10-8 2M99 319q7-8 14 0q-4 9-10 2M1060 336q8-9 16 0q-5 10-11 2M1052 342q9-11 19 0q-6 12-13 3M1070 330q9-5 19 0q-6 6-13 1M1044 337q8-11 15 0q-5 13-11 3M1059 346q11-6 21 0q-6 6-15 1M1056 342q4-7 9 0q-3 7-6 2M1060 331q10-8 20 0q-6 9-14 2M1066 336q11-9 22 0q-6 10-15 2M389 299q8-10 17 0q-5 12-12 3M402 287q11-8 21 0q-6 9-15 2M378 290q10-6 20 0q-6 6-14 1M380 294q9-9 18 0q-5 10-12 2M380 298q11-7 21 0q-6 8-15 2M417 286q6-7 13 0q-4 8-9 2M412 295q5-10 11 0q-3 12-7 3M954 319q10-5 20 0q-6 6-14 1M942 321q6-7 11 0q-3 8-8 2M958 317q8-9 16 0q-5 10-11 2M937 325q9-5 18 0q-5 6-12 1M935 310q10-5 19 0q-6 6-13 1M946 318q4-7 9 0q-3 8-6 2M966 318q6-7 11 0q-3 8-8 2M913 265q10-8 19 0q-6 9-14 2M927 267q8-7 16 0q-5 8-11 2M921 267q7-10 14 0q-4 11-10 2M917 274q8-9 16 0q-5 10-11 2M1002 305q9-7 19 0q-6 8-13 2M1008 312q8-7 16 0q-5 8-12 2M987 305q7-6 15 0q-4 7-10 2M1012 325q9-9 18 0q-5 10-13 2M986 315q5-6 9 0q-3 7-7 1M704 202q6-6 13 0q-4 7-9 1M699 211q9-11 18 0q-5 12-13 3M685 196q9-8 19 0q-6 9-13 2M686 209q8-8 15 0q-5 9-11 2M696 197q9-5 18 0q-5 6-13 1M678 200q8-8 17 0q-5 9-12 2M694 197q10-9 19 0q-6 10-13 2M694 200q6-11 12 0q-4 13-9 3M331 157q8-5 15 0q-5 6-11 1M317 172q11-7 21 0q-6 8-15 2M332 156q5-7 9 0q-3 8-6 2M348 172q6-8 11 0q-3 9-8 2M325 163q7-8 14 0q-4 9-10 2M344 168q4-10 9 0q-3 11-6 3M349 167q9-6 18 0q-5 7-13 2M350 163q8-6 16 0q-5 7-11 2M759 287q9-6 18 0q-5 7-13 2M784 277q5-10 9 0q-3 12-7 3M769 272q9-10 18 0q-6 11-13 2M738 208q9-6 17 0q-5 7-12 2M747 193q7-11 14 0q-4 12-10 3M732 193q6-6 12 0q-4 7-8 2M927 332q7-10 14 0q-4 11-10 2M933 330q8-6 15 0q-5 7-11 2M912 320q9-7 19 0q-6 8-13 2M923 339q9-11 18 0q-5 12-12 3M890 344q4-9 9 0q-3 11-6 2M871 351q7-7 14 0q-4 8-10 2M882 343q7-8 15 0q-4 9-10 2M876 344q9-8 18 0q-5 9-13 2M896 348q7-9 14 0q-4 10-10 2M893 340q9-10 19 0q-6 12-13 3M884 334q6-9 12 0q-4 10-8 2M736 170q7-9 13 0q-4 11-9 2M742 155q5-6 10 0q-3 7-7 2M753 164q8-7 17 0q-5 7-12 2M112 171q9-6 17 0q-5 6-12 1M101 167q10-8 21 0q-6 9-14 2M111 160q9-8 17 0q-5 9-12 2M121 166q8-9 16 0q-5 11-11 2M127 99q8-7 16 0q-5 8-11 2M107 86q6-11 13 0q-4 12-9 3M105 81q10-11 20 0q-6 12-14 3M129 98q5-5 11 0q-3 6-7 1M111 97q10-11 21 0q-6 12-14 3M106 94q7-10 13 0q-4 12-9 3M454 214q8-8 17 0q-5 9-12 2M438 230q11-9 21 0q-6 10-15 2M426 229q9-9 17 0q-5 10-12 2M1114 388q10-10 20 0q-6 12-14 3M1116 391q11-9 22 0q-7 10-15 2M1116 401q8-5 15 0q-5 5-11 1M1109 396q9-8 18 0q-5 9-12 2M1114 392q8-9 17 0q-5 10-12 2M1106 401q8-6 16 0q-5 7-11 1M1087 389q9-10 18 0q-5 11-12 2M1104 401q9-7 19 0q-6 7-13 2M115 141q4-7 9 0q-3 8-6 2M99 144q6-6 13 0q-4 6-9 1M94 135q9-10 18 0q-5 11-13 2M889 269q8-11 15 0q-5 12-11 3M851 270q8-8 16 0q-5 9-11 2M862 261q5-5 10 0q-3 6-7 1M860 216q6-10 12 0q-4 11-9 2M851 216q9-10 18 0q-5 11-12 3M873 226q7-9 13 0q-4 10-9 2M856 221q10-11 21 0q-6 12-14 3M852 220q4-11 8 0q-2 12-6 3M882 218q11-9 21 0q-6 10-15 2M418 199q8-8 17 0q-5 9-12 2M428 182q9-5 18 0q-6 6-13 1M421 182q4-8 9 0q-3 9-6 2M444 183q6-7 12 0q-4 7-9 2M439 195q7-10 14 0q-4 12-10 3M424 189q7-9 13 0q-4 10-9 2M65 151q10-11 21 0q-6 12-14 3M70 161q5-6 10 0q-3 6-7 1M60 172q5-8 9 0q-3 9-7 2M427 156q10-11 20 0q-6 12-14 3M445 154q6-7 12 0q-4 8-9 2M430 166q5-7 10 0q-3 7-7 2M772 220q6-7 12 0q-4 8-9 2M760 237q6-5 12 0q-4 6-8 1M763 225q9-5 19 0q-6 6-13 1M774 232q10-11 19 0q-6 12-14 3M777 231q5-10 10 0q-3 11-7 2M291 94q6-7 12 0q-3 8-8 2M281 100q6-8 13 0q-4 9-9 2M304 99q7-5 13 0q-4 6-9 1M304 95q6-8 11 0q-3 9-8 2M304 101q8-9 15 0q-5 10-11 2M286 95q9-9 18 0q-5 10-12 2M297 106q5-7 10 0q-3 8-7 2M99 109q5-7 10 0q-3 8-7 2M69 110q9-6 18 0q-5 7-13 1M82 108q9-10 18 0q-6 12-13 3M91 111q8-9 16 0q-5 10-11 2M86 97q6-10 12 0q-4 11-8 2M76 99q6-10 13 0q-4 11-9 3M75 95q8-9 16 0q-5 10-12 2M92 106q5-6 9 0q-3 6-6 1M244 73q10-8 20 0q-6 9-14 2M230 66q10-8 19 0q-6 9-14 2M217 71q9-5 19 0q-6 6-13 1M255 76q6-5 12 0q-3 6-8 1M226 84q5-10 9 0q-3 11-7 2M255 83q9-7 19 0q-6 8-13 2M700 151q6-9 12 0q-4 10-9 2M674 137q7-7 14 0q-4 8-10 2M692 133q5-9 10 0q-3 10-7 2M683 148q10-10 21 0q-6 12-15 3M681 135q6-7 12 0q-3 8-8 2M682 132q4-11 9 0q-3 13-6 3M695 132q10-8 19 0q-6 9-14 2M689 143q10-5 19 0q-6 6-14 1M936 240q4-6 8 0q-2 7-6 1M953 230q8-9 16 0q-5 10-11 2M961 227q8-6 16 0q-5 6-11 1M177 65q4-11 9 0q-3 13-6 3M179 53q6-7 13 0q-4 8-9 2M174 49q5-8 11 0q-3 9-7 2M176 51q5-7 10 0q-3 8-7 2M160 56q10-8 20 0q-6 8-14 2M182 65q10-7 19 0q-6 8-14 2M168 51q6-6 12 0q-4 7-9 1M859 162q6-8 12 0q-4 9-8 2M841 167q7-10 14 0q-4 12-10 3M858 169q11-11 21 0q-6 12-15 3M837 174q10-10 21 0q-6 11-14 2M702 233q9-9 19 0q-6 11-13 2M713 233q5-6 11 0q-3 7-8 2M730 237q5-10 11 0q-3 11-8 2M80 81q8-7 15 0q-5 8-11 2M72 76q8-7 17 0q-5 8-12 2M67 69q8-5 15 0q-5 6-11 1M57 79q4-7 8 0q-2 8-6 2M803 160q5-9 9 0q-3 11-6 2M795 178q9-8 19 0q-6 8-13 2M799 181q4-9 9 0q-3 10-6 2M792 170q9-7 17 0q-5 8-12 2M776 176q11-8 21 0q-6 9-15 2M385 101q8-10 16 0q-5 11-11 3M366 97q6-8 11 0q-3 9-8 2M395 113q7-9 13 0q-4 10-9 2M375 106q4-10 9 0q-3 11-6 3M360 111q8-11 16 0q-5 12-11 3M368 103q5-10 9 0q-3 12-6 3M778 129q9-10 18 0q-5 11-13 2M774 122q5-9 11 0q-3 10-7 2M758 129q10-6 19 0q-6 7-13 2M919 214q4-7 9 0q-3 7-6 2M909 204q6-9 12 0q-4 10-8 2M916 203q7-10 14 0q-4 12-10 3M907 201q10-6 19 0q-6 7-13 2M917 205q5-10 10 0q-3 11-7 2M922 199q6-8 12 0q-4 9-9 2M906 210q7-10 13 0q-4 11-9 3M899 216q9-7 17 0q-5 8-12 2M894 191q5-10 10 0q-3 11-7 2M877 183q9-8 18 0q-5 10-13 2M881 184q8-8 17 0q-5 9-12 2M894 196q8-8 15 0q-5 9-11 2M728 120q9-7 19 0q-6 8-13 2M732 123q10-6 20 0q-6 6-14 1M712 123q6-9 11 0q-3 11-8 2M157 14q5-7 11 0q-3 7-8 2M160 14q5-9 10 0q-3 10-7 2M168 18q9-6 17 0q-5 6-12 1M1014 243q9-10 19 0q-6 11-13 2M1016 244q5-7 10 0q-3 8-7 2M1004 258q7-11 14 0q-4 12-10 3M1030 251q5-9 9 0q-3 11-7 2M372 69q5-6 11 0q-3 7-8 1M354 72q8-5 17 0q-5 6-12 1M366 81q11-6 21 0q-6 7-15 2M347 63q7-8 14 0q-4 9-10 2M369 73q11-8 22 0q-6 9-15 2M344 76q10-7 20 0q-6 7-14 2M25 191q4-11 8 0q-2 12-6 3M38 186q10-7 19 0q-6 8-13 2M42 193q10-6 19 0q-6 6-14 1M47 177q5-10 9 0q-3 11-6 2M50 175q4-9 8 0q-2 11-6 2M31 184q4-6 8 0q-2 6-6 1M809 254q6-9 13 0q-4 11-9 2M785 250q8-6 16 0q-5 7-12 2M795 262q6-5 12 0q-4 5-8 1M788 248q9-5 18 0q-5 6-12 1M775 261q11-9 21 0q-6 10-15 2M779 252q6-9 12 0q-4 10-9 2M787 264q8-5 16 0q-5 6-11 1M261 48q7-10 13 0q-4 12-9 3M235 51q10-11 20 0q-6 12-14 3M243 52q8-7 16 0q-5 8-11 2M234 44q10-9 20 0q-6 10-14 2M231 30q11-9 21 0q-6 10-15 2M232 49q9-5 19 0q-6 6-13 1M234 52q9-11 17 0q-5 12-12 3M238 34q9-9 18 0q-5 11-13 2M421 96q8-5 15 0q-5 6-11 1M432 103q5-7 10 0q-3 8-7 2M414 100q10-8 21 0q-6 9-15 2M415 104q4-10 8 0q-3 12-6 3M44 48q7-5 13 0q-4 5-9 1M36 42q8-9 16 0q-5 11-11 2M38 47q8-10 17 0q-5 12-12 3M59 30q4-8 8 0q-3 9-6 2M37 42q8-11 16 0q-5 12-12 3M60 45q8-6 17 0q-5 7-12 2M238 180q7-11 14 0q-4 12-10 3M219 160q11-10 21 0q-6 11-15 2M248 160q7-11 14 0q-4 12-10 3M228 162q5-9 10 0q-3 11-7 2M495 141q4-6 9 0q-3 7-6 2M505 142q5-10 10 0q-3 11-7 2M491 148q11-7 22 0q-6 8-15 2M485 158q10-8 19 0q-6 9-13 2M501 148q7-5 13 0q-4 6-9 1M731 92q7-5 15 0q-4 6-10 1M756 89q6-9 11 0q-3 10-8 2M740 93q8-6 16 0q-5 6-11 1M750 96q10-8 19 0q-6 9-13 2M750 83q6-5 12 0q-4 6-8 1M743 95q11-9 22 0q-7 11-15 2M755 88q7-7 15 0q-4 8-10 2M-3 55q5-5 9 0q-3 6-7 1M18 65q7-10 14 0q-4 12-10 3M13 51q4-5 8 0q-3 6-6 1M17 54q9-9 17 0q-5 11-12 2M839 131q6-5 12 0q-4 6-8 1M813 125q7-8 14 0q-4 9-10 2M835 137q8-8 17 0q-5 9-12 2M686 91q6-10 12 0q-4 12-8 3M673 98q8-6 17 0q-5 7-12 1M666 100q9-11 19 0q-6 12-13 3M650 99q5-10 10 0q-3 11-7 2M654 92q4-11 9 0q-3 12-6 3M665 96q6-6 13 0q-4 7-9 2M676 92q7-10 15 0q-4 11-10 3M478 86q6-5 12 0q-4 5-8 1M465 94q7-5 14 0q-4 6-10 1M471 95q4-7 8 0q-2 8-6 2M478 88q7-5 14 0q-4 6-10 1M726 65q10-11 21 0q-6 12-14 3M717 62q9-10 19 0q-6 11-13 2M732 65q4-10 9 0q-3 11-6 3M727 65q9-9 19 0q-6 10-13 2M586 63q4-7 9 0q-3 8-6 2M593 80q9-9 17 0q-5 10-12 2M594 69q10-9 19 0q-6 10-13 2M702 81q8-9 16 0q-5 11-11 2M698 86q6-9 13 0q-4 10-9 2M692 83q6-8 12 0q-4 9-8 2M681 88q5-6 10 0q-3 6-7 1M701 73q8-10 15 0q-5 11-11 3M669 89q9-8 17 0q-5 9-12 2M695 83q9-7 17 0q-5 7-12 2M861 126q6-6 11 0q-3 7-8 1M846 105q9-7 18 0q-5 7-12 2M870 125q7-8 14 0q-4 9-10 2M1110 220q7-8 15 0q-4 9-10 2M1106 233q5-7 9 0q-3 8-6 2M1116 223q6-9 13 0q-4 11-9 2M1108 229q7-5 15 0q-4 6-10 1M1100 223q4-7 8 0q-3 8-6 2M1115 227q7-6 14 0q-4 7-10 2M1096 221q4-7 8 0q-2 8-6 2M926 145q8-6 15 0q-5 6-11 1M941 145q4-10 9 0q-3 12-6 3M929 131q5-10 11 0q-3 12-7 3M922 152q5-10 10 0q-3 12-7 3M-1 236q11-7 21 0q-6 8-15 2M-1 243q9-6 19 0q-6 6-13 1M4 247q5-5 10 0q-3 6-7 1M2 233q6-8 12 0q-3 9-8 2M396 42q11-5 22 0q-6 6-15 1M392 55q5-5 11 0q-3 6-7 1M391 55q8-11 17 0q-5 12-12 3M370 38q10-6 21 0q-6 7-15 2M372 58q7-6 14 0q-4 7-10 1M1023 356q5-9 11 0q-3 11-7 2M1018 358q8-5 16 0q-5 6-11 1M1034 354q10-9 19 0q-6 10-13 2M1037 345q10-7 20 0q-6 7-14 2M927 165q5-7 11 0q-3 8-8 2M901 166q9-5 18 0q-6 6-13 1M931 173q9-11 17 0q-5 12-12 3M937 167q6-5 12 0q-4 6-8 1M431 134q9-6 18 0q-5 7-13 1M460 128q6-8 12 0q-4 9-8 2M457 133q5-11 9 0q-3 12-6 3M460 135q7-11 14 0q-4 12-10 3M874 115q10-8 21 0q-6 9-15 2M899 123q6-10 12 0q-4 12-8 3M903 97q9-9 19 0q-6 10-13 2M881 120q8-8 17 0q-5 9-12 2M896 123q5-7 11 0q-3 7-8 2M896 103q4-6 8 0q-2 6-6 1M911 114q8-8 16 0q-5 8-11 2M898 122q5-9 11 0q-3 11-8 2M1091 363q11-6 22 0q-7 7-15 2M1076 363q5-8 9 0q-3 9-6 2M1065 357q10-7 21 0q-6 8-14 2M1088 370q7-7 14 0q-4 8-10 2M1090 361q5-9 11 0q-3 10-8 2M1095 362q5-7 10 0q-3 8-7 2M1085 370q7-6 14 0q-4 6-10 1M1099 193q7-10 14 0q-4 11-10 3M1121 202q9-5 18 0q-5 6-13 1M1094 193q10-6 20 0q-6 7-14 2M1102 202q4-9 8 0q-2 10-6 2M1108 195q11-6 22 0q-7 7-15 1M1102 176q6-5 11 0q-3 6-8 1M1108 191q4-10 8 0q-2 11-6 2M1047 186q4-6 8 0q-2 7-6 1M1036 176q6-8 12 0q-3 9-8 2M1053 169q4-8 8 0q-3 9-6 2M1044 187q8-9 17 0q-5 10-12 2M810 95q4-9 8 0q-2 10-6 2M791 99q4-7 8 0q-2 8-6 2M779 86q8-5 15 0q-5 6-11 1M777 92q8-8 15 0q-5 9-11 2M796 103q11-8 21 0q-6 9-15 2M779 88q7-6 14 0q-4 7-10 2M813 98q7-8 13 0q-4 8-9 2M789 85q8-7 17 0q-5 7-12 2M275 62q10-10 20 0q-6 11-14 2M272 79q5-9 10 0q-3 10-7 2M301 64q5-10 10 0q-3 11-7 3M282 78q9-11 19 0q-6 12-13 3M273 75q8-7 16 0q-5 8-11 2M276 75q9-10 17 0q-5 11-12 3M297 72q4-7 9 0q-3 8-6 2M275 71q5-7 10 0q-3 7-7 2M316 42q10-10 19 0q-6 11-13 2M322 36q8-8 15 0q-5 9-11 2M348 46q6-6 13 0q-4 7-9 2M341 37q7-11 14 0q-4 12-10 3M344 48q8-7 16 0q-5 8-11 2M327 36q8-8 16 0q-5 9-11 2M339 42q9-10 18 0q-5 11-12 2M344 30q7-8 15 0q-4 9-10 2M484 51q9-6 18 0q-5 7-13 1M477 62q7-10 14 0q-4 12-10 3M488 52q6-7 11 0q-3 8-8 2M463 70q5-11 11 0q-3 12-7 3M459 52q7-7 14 0q-4 8-10 2M485 59q5-7 10 0q-3 7-7 2M471 65q7-10 14 0q-4 11-10 2M479 57q6-10 11 0q-3 12-8 3M995 145q7-10 14 0q-4 11-10 2M1004 135q10-8 20 0q-6 9-14 2M1012 138q11-10 22 0q-6 11-15 3M1060 121q5-7 10 0q-3 8-7 2M1036 124q9-5 19 0q-6 6-13 1M1025 124q6-7 12 0q-3 8-8 2M1052 125q5-9 10 0q-3 10-7 2M897 68q8-9 17 0q-5 10-12 2M860 74q9-9 17 0q-5 10-12 2M883 76q5-9 9 0q-3 10-6 2M869 83q9-10 17 0q-5 11-12 3M875 64q5-9 10 0q-3 10-7 2M895 65q10-5 20 0q-6 6-14 1M883 80q10-6 19 0q-6 7-13 1M315 80q8-8 16 0q-5 9-11 2M336 81q7-9 13 0q-4 10-9 2M339 95q10-7 21 0q-6 8-15 2M336 84q6-6 13 0q-4 7-9 2M343 90q9-8 19 0q-6 9-13 2M325 85q10-5 21 0q-6 6-15 1M531 34q9-9 18 0q-5 10-12 2M540 50q7-11 15 0q-4 12-10 3M543 32q7-5 13 0q-4 6-9 1M537 32q5-9 10 0q-3 10-7 2M546 40q10-7 20 0q-6 8-14 2M526 43q10-6 20 0q-6 6-14 1M558 32q6-6 12 0q-4 7-8 2M554 42q7-9 15 0q-4 11-10 2M505 9q10-5 20 0q-6 6-14 1M496 3q4-9 8 0q-2 10-6 2M485 17q5-6 11 0q-3 6-8 1M484 14q8-7 16 0q-5 8-11 2M495 27q9-7 17 0q-5 8-12 2M501 14q8-5 16 0q-5 6-11 1M795 13q9-9 19 0q-6 10-13 2M779 9q9-8 18 0q-5 9-13 2M805 19q5-9 10 0q-3 10-7 2M783 24q8-9 15 0q-5 10-11 2M784 24q6-10 12 0q-4 12-8 3M804 10q4-7 8 0q-2 8-6 2M642 14q11-8 21 0q-6 9-15 2M676 17q7-11 13 0q-4 12-9 3M673 16q7-5 15 0q-4 6-10 1M653 10q8-7 15 0q-5 8-11 2M685 3q6-8 12 0q-4 9-9 2M652 6q10-8 20 0q-6 9-14 2M664 17q7-5 14 0q-4 6-10 1M684 22q10-10 20 0q-6 11-14 2M1090 162q8-8 16 0q-5 9-11 2M1098 149q6-8 11 0q-3 9-8 2M1084 147q10-7 19 0q-6 8-13 2M1094 142q7-7 14 0q-4 8-10 2M1070 148q8-7 17 0q-5 8-12 2M1107 155q5-6 11 0q-3 7-8 2M1097 146q10-7 21 0q-6 7-14 2M1066 151q8-9 17 0q-5 11-12 2M1040 87q10-11 20 0q-6 12-14 3M1038 92q8-8 15 0q-5 9-11 2M1044 90q11-7 22 0q-6 8-15 2M1043 94q9-6 19 0q-6 7-13 1M1022 89q8-6 15 0q-5 7-11 1M1052 70q4-7 8 0q-3 8-6 2M1027 92q6-9 13 0q-4 10-9 2M1052 67q5-9 10 0q-3 11-7 2M1129 93q8-6 17 0q-5 7-12 1M1128 99q8-8 16 0q-5 9-11 2M1105 78q6-11 13 0q-4 12-9 3M810 66q5-5 10 0q-3 6-7 1M812 49q6-7 13 0q-4 8-9 2M794 50q6-8 12 0q-4 9-8 2M792 49q9-6 18 0q-6 6-13 1M772 47q9-7 18 0q-5 7-13 2M779 59q8-11 15 0q-5 12-11 3M725 36q5-5 9 0q-3 6-7 1M711 33q8-11 16 0q-5 13-11 3M726 29q9-7 17 0q-5 8-12 2M715 44q6-7 13 0q-4 8-9 2M1084 26q9-7 18 0q-6 8-13 2M1085 25q7-7 14 0q-4 8-10 2M1094 12q4-5 8 0q-2 6-6 1M1084 19q11-11 22 0q-6 12-15 3M1090 25q7-8 14 0q-4 9-10 2M1081 17q7-5 13 0q-4 6-9 1M1086 22q8-6 16 0q-5 6-11 1M1105 53q10-7 20 0q-6 8-14 2M1104 52q6-7 13 0q-4 7-9 2M1115 41q5-5 11 0q-3 6-7 1" fill="none" stroke="#4444dc" stroke-width="2.1" opacity="0.95"/><path d="M542 232l2 1M669 955l2 -3M488 251l6 1M582 816l3 2M522 147l6 1M329 637l6 2M337 944l5 1M805 289l5 3M578 749l6 3M1017 539l2 2M944 641l5 3M987 731l3 2M524 825l5 2M451 933l3 -3M148 157l7 2M159 700l2 -1M230 741l4 0M850 135l4 -3M227 282l3 2M340 611l3 3M709 895l4 -1M965 959l2 2M143 635l5 -3M748 422l2 -3M314 943l3 2M1023 935l5 -2M653 396l3 -1M184 398l6 -2M190 698l4 -2M850 273l5 -2M975 225l4 -1M1007 683l7 0M473 916l5 3M221 584l5 -3M802 187l2 -3M768 100l4 0M819 783l7 -2M502 788l6 2M978 98l3 1M423 75l6 -1M488 405l2 -3M114 782l6 1M395 584l7 -1M790 597l2 2M323 180l5 3M224 444l4 0M213 484l7 -1M332 383l4 2M494 234l3 3M432 364l5 0M435 148l6 2M418 183l6 -2M385 488l7 -2M366 598l7 0M115 674l7 3M377 562l7 -2M608 867l4 -2M465 213l4 3M122 371l3 -2M266 632l3 1M695 717l3 -2M329 368l5 1M633 565l7 -3M554 471l5 -1M559 112l7 3M384 942l6 -2M216 960l4 1M693 572l5 0M786 546l7 -3M367 231l6 3M250 921l5 -1M691 595l5 -2M258 657l5 2M731 227l5 -1M229 217l3 0M907 289l2 -3M368 416l7 3M794 567l6 0M621 470l3 -1M89 352l7 -2M108 368l3 0M1041 122l3 -3M975 98l6 2M767 763l3 -2M398 811l7 3M257 723l6 -2M860 887l5 1M431 620l3 -1M434 562l4 -2M289 337l5 1M919 506l5 2M1007 543l5 -2M483 554l3 0M1069 115l3 3M1053 252l7 0M906 389l7 0M171 729l4 0M364 409l2 0M884 907l4 -2M397 167l2 1M802 110l6 -3M599 872l3 2M113 164l5 -3M108 457l5 -3M988 917l7 -1M857 738l6 2M555 615l5 -1M987 663l4 2M138 544l5 -3M466 827l4 -1M383 654l2 0M332 621l6 3M923 433l5 -3M172 870l4 -3M782 738l4 3M452 186l6 -3M600 688l4 3M141 765l5 3M675 760l4 -3M1009 751l7 0M923 700l4 1M591 915l6 3M147 911l7 -3M700 504l3 3M801 955l2 0M445 387l2 0M1059 942l4 2M898 778l2 1M203 385l5 -2M148 251l6 0M247 387l6 3M890 246l2 2M336 585l4 -3M751 309l7 -2M1042 864l5 -2M245 737l3 0M164 531l5 3M81 277l3 -1M459 327l6 2M486 377l6 1M75 534l2 -2M242 282l3 2M730 409l2 3M918 253l2 0M1005 398l7 1M1007 562l6 -3M1047 589l4 2M208 289l3 -3M235 722l3 1M1045 169l2 -1M667 508l4 -3M365 593l6 -1M530 783l2 3M703 386l5 2M818 203l4 1M118 666l4 -3M132 76l7 0M467 584l5 -2M137 559l5 0M334 321l2 3M868 781l5 2M581 316l4 2M82 167l4 1M348 714l7 2M373 801l5 2M414 183l5 3M109 71l7 -2M307 871l6 -1M484 149l3 -2M322 956l7 1M787 888l3 3M952 614l7 3M245 648l6 -3M793 203l2 0M203 218l3 -2M919 416l3 -1M876 520l2 -2M835 232l3 -3M288 587l5 -3M839 246l7 -2M561 537l4 0M560 642l6 -1M631 156l7 -1M267 293l5 3M908 683l2 0M844 540l7 -2M333 554l3 2M993 319l3 -2M752 561l2 1M953 298l6 3M789 254l6 -3M1049 765l4 -2M1052 903l6 0M744 555l5 0M673 95l6 -2M922 139l4 -1M155 778l7 -3M1010 837l2 3M82 603l2 -2M311 339l5 1M616 640l7 -3M1055 390l7 3M937 65l7 3M468 481l4 2M518 952l6 2M83 345l6 -2M358 514l5 -2M591 132l4 0M799 507l3 -2M133 676l5 0M957 820l4 0M907 181l7 1M877 376l6 -3M312 843l3 1M659 716l5 2M84 133l6 -2M301 750l5 -1M142 808l2 -1M1031 196l7 1M538 809l5 -1M708 242l3 -2M611 264l3 1M427 606l5 -3M164 672l4 0M1020 814l3 -3M748 946l6 0M665 821l5 -3M880 889l2 3M515 390l3 2M616 419l6 -1M772 881l5 -2M309 904l7 -1M620 65l7 -2M78 118l5 0M925 873l2 2M949 466l4 -2M212 690l5 0M393 476l3 0M899 555l2 -1M870 263l7 2M733 558l3 1M172 595l3 -2M616 826l5 -2M178 441l5 -1M1001 165l4 -1M606 479l4 -3M218 485l2 0M337 687l3 -1M716 769l7 0M426 85l7 -2M926 614l4 -2M1025 524l3 -2M863 279l6 3M289 88l7 0M1027 70l2 2M957 442l7 -2M161 548l7 -1M787 78l6 1M621 744l5 2M93 454l5 0M881 60l4 0M198 333l4 0M861 234l4 0M407 515l4 1M855 850l5 -1M413 470l4 -1M67 175l5 3M241 227l6 -2M603 947l5 -1M394 651l2 2M852 897l5 2M317 529l5 -3M296 790l4 3M841 184l5 3M1053 959l4 0M226 133l4 -3M257 644l2 -1M826 536l2 1M264 169l7 0M883 560l3 3M439 57l7 3M788 387l7 -1M83 601l7 1M142 909l4 2M961 826l4 -1M127 549l7 -1M741 460l3 -3M886 590l5 3M767 192l5 3M810 298l4 -3M1050 509l2 3M458 546l7 -2M693 514l4 1M267 554l2 -1M622 969l6 -1M145 291l4 1M106 217l4 -2M138 612l3 3M538 794l6 -3M1016 560l6 -3M1043 862l6 0M324 779l7 -3M785 944l6 1M532 446l7 -2M921 584l7 1M810 547l6 -3M1002 711l6 0M320 879l2 -1M921 615l3 -2M841 659l4 -2M590 474l6 3M577 888l7 0M894 554l2 0M229 580l3 0M298 743l7 2M282 532l2 0M935 630l5 -3M486 501l4 -2M365 339l2 -3M664 621l2 -3M583 383l2 2M506 307l6 0M531 127l3 2M629 630l3 -3M103 602l6 -2M402 507l4 3M169 373l7 -1M237 315l5 0M777 897l4 -3M716 222l2 3M881 223l4 -1M842 199l2 1M335 530l2 -3M426 597l3 2M1014 421l3 -3M636 421l7 -1M385 931l7 2M611 221l4 -2M658 702l4 -1M891 588l3 0M315 163l6 -2M955 678l6 1M478 198l2 2M678 384l6 1M346 205l4 -2M177 611l6 -1M1006 466l5 -1M522 509l4 2M268 745l5 1M165 942l3 0M86 99l6 -3M869 197l5 2M63 753l7 0M377 523l7 -1M125 440l5 -1M139 510l7 2M620 917l3 -3M868 170l6 -3M935 175l4 -1M558 159l3 1M687 808l3 3M1032 875l2 -1M418 694l5 0M1057 296l5 -1M128 928l2 0M876 842l7 -2M886 125l6 -3M562 415l7 0M688 482l3 2M876 875l5 0M748 961l2 -3M688 181l2 1M864 269l4 3M226 589l3 3M238 741l3 -2M1001 592l6 -3M954 829l2 1M228 111l3 1M854 688l3 0M422 695l6 3M1045 866l5 -2M75 181l7 0M946 658l3 -3M222 589l4 -2M78 893l5 0M294 77l5 2M196 358l3 -1M347 136l6 1M173 641l2 -1M991 349l4 -1M535 914l7 0M453 530l4 0M743 781l5 1M988 902l5 1M811 369l6 0M484 262l3 2M445 795l5 -1M1024 373l5 -2M935 792l6 1M897 416l3 -2M644 773l3 1M847 266l2 2M112 397l3 0M330 639l7 3M226 363l2 0M69 603l3 3M828 150l2 1M801 690l3 0M249 947l2 3M638 376l7 -3M1057 211l3 0M506 313l4 1M531 705l4 -3M168 503l6 -1M318 416l4 3M519 170l7 -2M484 723l5 -3M324 90l2 1M1068 826l4 0M800 603l2 -1M987 227l7 2M884 823l3 0M586 881l4 3M767 445l3 2M864 206l4 1M330 730l3 -1M108 87l7 -2M95 553l5 2M204 566l4 1M917 242l6 -2M962 791l3 2M517 213l7 -2M152 554l4 0M440 588l2 -3M521 329l4 0M913 341l3 -2M186 87l7 3M88 152l5 2M741 344l5 -2M951 484l7 0M987 481l6 -1M805 374l3 1M874 269l3 -1M188 804l2 3M203 643l2 2M668 91l2 0M859 841l3 2M214 415l6 1M321 696l7 3M932 132l7 2M557 776l6 2M370 957l6 2M795 794l3 0M492 461l7 0M811 85l2 -2M264 320l4 -2M478 301l7 -3M233 809l4 -3M386 592l6 -1M994 655l3 -3M62 266l5 1M214 117l6 3M159 178l5 -3M490 715l2 -2M724 856l3 1M82 690l6 3M842 436l4 -2M390 948l2 2M86 365l4 3M237 154l3 3M698 807l3 -2M303 465l7 2M356 289l7 -3M997 750l2 -3M85 665l6 -3M409 265l6 1M980 602l5 -1M440 930l5 2M805 948l3 1M643 900l7 -2M474 450l4 3M86 383l3 0M675 858l2 0M709 750l3 2M723 798l2 3M674 129l7 1M309 227l2 -3M169 479l4 -3M144 113l7 -1M684 80l6 -3M978 837l5 2M874 289l3 3M359 124l4 2M723 134l2 -1M837 711l7 -1M496 446l6 2M63 701l5 -1M529 141l3 -1M906 605l6 3M588 440l4 2" stroke="#e8382c" stroke-width="2.6" fill="none" opacity="0.9"/><path d="M135 452h3M875 168h3M90 132h3M579 650h2M271 124h2M91 306h2M102 816h1M201 251h3M462 608h1M309 67h1M567 675h1M167 215h2M334 960h1M375 828h3M671 324h3M912 523h3M417 266h3M1055 949h3M587 700h2M367 361h3M1045 968h2M161 415h3M915 402h1M1056 168h3M845 280h1M884 577h2M346 609h1M266 351h2M686 587h3M225 820h1M185 150h1M952 180h1M1028 210h1M323 245h2M707 811h1M1066 257h2M353 87h2M187 98h3M531 105h3M684 566h2M496 167h2M100 912h2M180 720h2M712 382h3M424 349h2M986 430h1M529 110h3M1037 310h1M344 519h1M558 480h1M166 239h3M800 391h2M254 736h2M629 104h2M446 516h2M347 667h2M549 501h3M230 749h3M288 490h3M702 928h2M915 592h1M607 491h3M1065 855h2M784 784h1M901 147h1M173 596h2M275 253h1M370 230h2M212 134h3M113 742h3M671 462h3M234 587h2M488 854h2M936 903h2M957 543h1M120 388h1M595 388h1M893 886h3M518 456h1M1064 677h3M769 116h1M834 744h3M503 867h1M701 547h2M246 659h1M488 786h3M309 415h2M652 874h1M525 950h2M384 623h2M1014 882h3M438 209h2M600 582h3M900 928h1M702 727h1M935 866h3M1014 578h2M934 384h3M771 946h2M375 417h3M675 785h2M785 669h1M745 619h2M817 369h2M296 89h3M219 951h2M669 120h3M271 250h1M765 435h1M703 116h2M873 267h2M255 550h2M153 69h2M364 335h3M1074 129h1M445 718h1M444 230h3M627 599h3M848 557h2M673 184h3" stroke="#1c1c24" stroke-width="3.5" fill="none" stroke-linecap="round"/></g></g>
<rect x="59" y="57" width="137" height="126" fill="#fff"/>
<rect x="663.5" y="829" width="412.5" height="141" fill="#fff"/>
<text x="97" y="141" font-family='"Liberation Serif", "DejaVu Serif", serif' font-size="63.5" font-weight="bold" text-anchor="start" fill="#000" textLength="58" lengthAdjust="spacingAndGlyphs">a)</text>
<text x="765" y="933" font-family='"Liberation Serif", "DejaVu Serif", serif' font-size="90" font-weight="normal" text-anchor="start" fill="#000" textLength="210" lengthAdjust="spacingAndGlyphs">50μm</text>
<rect x="683" y="953" width="381.5" height="13.700000000000045" fill="#000"/>
<rect x="62" y="974" width="1012" height="896" fill="#00ff00"/><clipPath id="clipb"><rect x="62" y="974" width="1012" height="896"/></clipPath><path clip-path="url(#clipb)" d="M194 976h76M354 976h48M458 976h20M658 976h12M774 976h140M950 976h20M1010 976h16M194 980h76M350 980h52M454 980h24M654 980h16M778 980h128M950 980h20M1010 980h12M194 984h72M350 984h52M454 984h24M646 984h24M782 984h120M194 988h56M326 988h8M346 988h80M454 988h24M642 988h28M786 988h108M194 992h56M326 992h8M346 992h32M398 992h28M458 992h20M638 992h28M790 992h100M938 992h8M194 996h60M346 996h20M398 996h36M466 996h12M634 996h32M814 996h72M934 996h16M194 1000h68M342 1000h4M398 1000h40M466 1000h8M574 1000h12M610 1000h56M822 1000h64M938 1000h12M194 1004h76M330 1004h16M398 1004h36M466 1004h8M570 1004h96M826 1004h56M938 1004h20M194 1008h152M398 1008h36M466 1008h8M566 1008h100M826 1008h24M858 1008h24M942 1008h56M194 1012h144M398 1012h36M462 1012h8M566 1012h80M658 1012h8M826 1012h20M862 1012h16M942 1012h56M194 1016h24M222 1016h112M398 1016h36M458 1016h12M562 1016h80M806 1016h4M822 1016h24M862 1016h16M942 1016h60M194 1020h16M226 1020h104M398 1020h72M550 1020h96M806 1020h4M818 1020h36M858 1020h16M942 1020h64M194 1024h8M230 1024h100M398 1024h72M546 1024h100M826 1024h48M942 1024h64M234 1028h20M270 1028h56M398 1028h76M510 1028h8M546 1028h80M826 1028h24M858 1028h8M946 1028h64M294 1032h32M398 1032h84M506 1032h8M542 1032h84M698 1032h20M778 1032h8M826 1032h24M946 1032h68M294 1036h32M402 1036h68M506 1036h4M554 1036h72M686 1036h32M774 1036h12M826 1036h24M990 1036h28M298 1040h32M366 1040h8M406 1040h64M558 1040h72M686 1040h28M722 1040h4M770 1040h8M830 1040h20M1002 1040h24M302 1044h28M370 1044h4M410 1044h56M562 1044h4M574 1044h56M686 1044h12M722 1044h16M762 1044h12M838 1044h12M1010 1044h20M302 1048h28M442 1048h24M562 1048h4M602 1048h32M682 1048h16M718 1048h16M758 1048h16M842 1048h8M1018 1048h12M306 1052h24M346 1052h4M450 1052h4M562 1052h4M606 1052h28M682 1052h16M718 1052h8M762 1052h12M310 1056h20M342 1056h12M490 1056h12M562 1056h8M610 1056h24M678 1056h20M714 1056h8M342 1060h12M486 1060h12M562 1060h8M614 1060h20M678 1060h20M714 1060h8M1062 1060h8M286 1064h12M346 1064h12M434 1064h8M558 1064h16M610 1064h24M678 1064h20M714 1064h8M898 1064h8M1054 1064h12M202 1068h40M278 1068h28M350 1068h8M430 1068h12M550 1068h32M610 1068h24M678 1068h20M714 1068h8M798 1068h8M894 1068h12M970 1068h16M1038 1068h28M194 1072h44M274 1072h28M362 1072h8M426 1072h20M538 1072h56M626 1072h8M678 1072h12M798 1072h28M898 1072h4M918 1072h8M974 1072h8M1034 1072h28M194 1076h32M270 1076h28M366 1076h4M426 1076h32M526 1076h68M674 1076h16M802 1076h40M914 1076h12M1034 1076h28M194 1080h20M270 1080h28M430 1080h32M526 1080h68M670 1080h16M802 1080h48M910 1080h16M1030 1080h28M194 1084h8M270 1084h24M362 1084h8M446 1084h16M530 1084h68M674 1084h8M802 1084h44M914 1084h12M1026 1084h36M274 1088h16M350 1088h24M454 1088h8M530 1088h24M574 1088h24M802 1088h40M970 1088h4M1026 1088h36M274 1092h16M358 1092h48M534 1092h16M578 1092h24M798 1092h16M818 1092h20M970 1092h8M1022 1092h36M278 1096h16M370 1096h36M534 1096h16M586 1096h16M794 1096h24M1018 1096h28M70 1100h8M138 1100h16M282 1100h16M370 1100h36M478 1100h16M538 1100h8M590 1100h16M678 1100h8M718 1100h8M794 1100h24M1014 1100h28M70 1104h16M142 1104h16M286 1104h12M374 1104h36M478 1104h8M594 1104h8M678 1104h24M710 1104h28M794 1104h28M1014 1104h24M66 1108h20M142 1108h28M370 1108h28M402 1108h12M482 1108h4M594 1108h4M634 1108h8M682 1108h72M794 1108h32M1010 1108h20M62 1112h32M142 1112h36M362 1112h24M406 1112h12M630 1112h24M682 1112h68M814 1112h12M910 1112h12M998 1112h28M62 1116h40M110 1116h8M142 1116h48M354 1116h28M414 1116h8M546 1116h12M630 1116h44M682 1116h4M706 1116h32M814 1116h12M902 1116h24M930 1116h12M990 1116h32M62 1120h40M142 1120h52M294 1120h4M354 1120h24M414 1120h12M546 1120h16M630 1120h44M710 1120h16M810 1120h20M906 1120h16M930 1120h12M982 1120h40M62 1124h24M186 1124h8M294 1124h12M362 1124h12M418 1124h24M486 1124h8M546 1124h20M622 1124h48M802 1124h28M906 1124h16M934 1124h8M978 1124h48M270 1128h8M294 1128h36M422 1128h44M486 1128h16M538 1128h28M638 1128h28M794 1128h40M910 1128h4M946 1128h8M978 1128h52M266 1132h16M290 1132h40M426 1132h40M486 1132h84M654 1132h12M786 1132h48M950 1132h8M978 1132h24M1018 1132h20M1066 1132h8M230 1136h8M262 1136h24M290 1136h44M434 1136h28M486 1136h88M774 1136h64M950 1136h12M1026 1136h16M250 1140h36M294 1140h44M434 1140h24M490 1140h92M766 1140h84M954 1140h12M1026 1140h20M250 1144h36M310 1144h24M434 1144h24M538 1144h48M722 1144h12M758 1144h100M866 1144h12M886 1144h16M958 1144h8M1030 1144h16M118 1148h4M250 1148h36M322 1148h12M402 1148h16M430 1148h28M542 1148h44M722 1148h16M750 1148h104M870 1148h40M1034 1148h8M110 1152h12M402 1152h56M542 1152h16M566 1152h24M726 1152h120M874 1152h52M1034 1152h8M98 1156h28M402 1156h60M570 1156h20M698 1156h12M726 1156h112M878 1156h52M1034 1156h12M70 1160h12M90 1160h32M206 1160h4M342 1160h12M406 1160h56M574 1160h20M694 1160h16M730 1160h104M882 1160h52M1038 1160h4M62 1164h48M202 1164h12M334 1164h24M442 1164h20M570 1164h28M670 1164h36M738 1164h88M878 1164h60M978 1164h8M62 1168h40M202 1168h12M330 1168h28M450 1168h16M566 1168h40M666 1168h32M746 1168h64M878 1168h64M66 1172h32M202 1172h12M330 1172h28M454 1172h12M554 1172h60M670 1172h24M750 1172h36M878 1172h72M166 1176h8M198 1176h24M250 1176h8M270 1176h8M330 1176h28M550 1176h64M670 1176h20M754 1176h20M874 1176h80M166 1180h8M194 1180h36M250 1180h8M266 1180h12M350 1180h8M550 1180h28M590 1180h16M674 1180h12M758 1180h12M870 1180h92M170 1184h8M186 1184h60M350 1184h8M550 1184h28M598 1184h4M678 1184h8M778 1184h8M866 1184h108M1014 1184h8M166 1188h84M350 1188h12M550 1188h32M862 1188h20M934 1188h48M1014 1188h8M154 1192h100M350 1192h20M546 1192h52M862 1192h12M942 1192h60M1010 1192h12M62 1196h20M154 1196h96M350 1196h24M462 1196h8M542 1196h60M862 1196h12M950 1196h80M62 1200h20M146 1200h104M354 1200h16M462 1200h16M542 1200h68M650 1200h12M794 1200h4M862 1200h12M958 1200h88M62 1204h12M130 1204h108M354 1204h16M462 1204h16M494 1204h12M546 1204h68M646 1204h16M790 1204h16M862 1204h24M962 1204h92M66 1208h8M126 1208h92M350 1208h16M414 1208h8M494 1208h28M530 1208h8M546 1208h24M590 1208h20M650 1208h16M746 1208h16M786 1208h28M846 1208h52M962 1208h108M118 1212h16M190 1212h28M266 1212h8M282 1212h4M350 1212h16M410 1212h32M502 1212h60M598 1212h8M658 1212h12M790 1212h36M846 1212h56M962 1212h72M1058 1212h12M114 1216h12M198 1216h16M262 1216h28M346 1216h24M410 1216h36M514 1216h48M662 1216h12M754 1216h4M790 1216h40M870 1216h32M962 1216h60M90 1220h4M110 1220h12M206 1220h12M262 1220h28M346 1220h28M414 1220h28M526 1220h32M662 1220h16M754 1220h8M766 1220h12M794 1220h40M874 1220h24M962 1220h60M86 1224h12M106 1224h12M206 1224h20M266 1224h60M346 1224h40M410 1224h32M542 1224h16M662 1224h28M754 1224h28M814 1224h24M878 1224h20M958 1224h60M86 1228h32M206 1228h20M242 1228h12M274 1228h52M350 1228h92M546 1228h8M666 1228h28M754 1228h28M810 1228h40M882 1228h12M958 1228h60M82 1232h36M202 1232h20M278 1232h32M354 1232h88M670 1232h24M750 1232h28M810 1232h44M874 1232h4M886 1232h4M958 1232h56M74 1236h44M202 1236h20M278 1236h28M358 1236h84M590 1236h4M678 1236h16M758 1236h16M806 1236h20M838 1236h20M870 1236h8M962 1236h48M70 1240h52M206 1240h12M278 1240h24M362 1240h72M562 1240h8M582 1240h12M622 1240h12M682 1240h8M802 1240h24M842 1240h40M970 1240h40M66 1244h56M274 1244h28M362 1244h68M558 1244h36M630 1244h4M686 1244h4M798 1244h24M842 1244h44M978 1244h12M1002 1244h4M70 1248h56M270 1248h32M366 1248h60M450 1248h8M558 1248h12M578 1248h12M682 1248h12M778 1248h44M846 1248h44M978 1248h8M74 1252h56M274 1252h28M354 1252h4M374 1252h52M450 1252h8M482 1252h8M582 1252h8M678 1252h20M774 1252h44M846 1252h16M974 1252h8M1010 1252h4M1034 1252h4M86 1256h48M174 1256h4M278 1256h24M350 1256h8M386 1256h40M478 1256h16M522 1256h20M586 1256h12M670 1256h32M778 1256h52M846 1256h12M894 1256h4M974 1256h4M1010 1256h8M1030 1256h8M1066 1256h8M98 1260h48M170 1260h8M286 1260h16M350 1260h4M390 1260h40M478 1260h16M510 1260h24M586 1260h16M666 1260h40M782 1260h80M890 1260h16M1050 1260h24M110 1264h72M294 1264h8M390 1264h52M478 1264h56M586 1264h20M662 1264h52M782 1264h84M894 1264h28M1062 1264h12M118 1268h84M390 1268h64M482 1268h48M586 1268h24M658 1268h88M750 1268h8M786 1268h84M898 1268h24M1070 1268h4M130 1272h72M394 1272h64M494 1272h32M582 1272h32M654 1272h100M786 1272h84M898 1272h44M154 1276h64M306 1276h12M342 1276h8M394 1276h60M526 1276h8M586 1276h28M670 1276h84M786 1276h72M906 1276h36M158 1280h68M338 1280h12M394 1280h20M526 1280h8M590 1280h24M682 1280h16M710 1280h44M790 1280h64M914 1280h24M190 1284h36M530 1284h4M606 1284h8M742 1284h16M790 1284h64M926 1284h12M986 1284h8M106 1288h8M198 1288h32M278 1288h12M690 1288h20M750 1288h8M790 1288h64M930 1288h4M986 1288h8M102 1292h12M202 1292h36M274 1292h16M514 1292h8M534 1292h4M678 1292h36M750 1292h8M798 1292h56M930 1292h4M990 1292h8M1014 1292h4M78 1296h8M98 1296h12M206 1296h36M282 1296h12M322 1296h8M346 1296h12M510 1296h32M674 1296h52M802 1296h60M990 1296h36M94 1300h16M210 1300h36M282 1300h12M326 1300h4M350 1300h12M510 1300h28M678 1300h12M762 1300h4M802 1300h68M986 1300h48M98 1304h16M210 1304h40M358 1304h8M514 1304h24M678 1304h8M762 1304h4M802 1304h76M930 1304h4M994 1304h68M102 1308h12M210 1308h44M354 1308h16M518 1308h20M678 1308h4M766 1308h4M798 1308h92M926 1308h4M1014 1308h52M106 1312h16M210 1312h52M274 1312h4M350 1312h24M458 1312h12M522 1312h20M590 1312h20M618 1312h12M794 1312h136M1038 1312h24M110 1316h16M226 1316h56M350 1316h28M526 1316h16M582 1316h52M798 1316h80M886 1316h40M970 1316h4M1042 1316h12M114 1320h12M198 1320h8M234 1320h52M350 1320h28M530 1320h4M582 1320h56M746 1320h16M790 1320h84M966 1320h8M1042 1320h8M190 1324h16M238 1324h52M354 1324h16M578 1324h64M734 1324h32M786 1324h84M958 1324h16M1042 1324h8M146 1328h8M194 1328h8M246 1328h56M582 1328h64M678 1328h12M722 1328h212M950 1328h20M1042 1328h8M150 1332h4M198 1332h4M250 1332h56M582 1332h68M674 1332h16M714 1332h80M846 1332h124M198 1336h8M590 1336h96M738 1336h52M850 1336h124M198 1340h12M598 1340h72M674 1340h8M750 1340h36M854 1340h60M930 1340h44M194 1344h12M378 1344h8M470 1344h8M598 1344h20M626 1344h20M674 1344h8M762 1344h20M858 1344h28M906 1344h8M934 1344h48M94 1348h8M466 1348h16M630 1348h12M802 1348h4M862 1348h16M910 1348h4M930 1348h56M94 1352h12M350 1352h12M470 1352h12M634 1352h8M798 1352h12M858 1352h20M910 1352h76M94 1356h8M262 1356h4M346 1356h20M474 1356h8M634 1356h8M666 1356h4M802 1356h8M858 1356h16M906 1356h88M94 1360h8M258 1360h12M354 1360h12M590 1360h4M662 1360h12M730 1360h12M802 1360h16M854 1360h140M94 1364h8M186 1364h8M254 1364h24M354 1364h12M586 1364h12M654 1364h20M722 1364h24M786 1364h4M814 1364h8M854 1364h136M90 1368h12M186 1368h12M258 1368h24M354 1368h12M478 1368h4M558 1368h8M594 1368h4M658 1368h20M726 1368h20M786 1368h8M818 1368h16M850 1368h80M942 1368h44M90 1372h8M190 1372h24M262 1372h20M350 1372h12M478 1372h8M558 1372h12M662 1372h28M738 1372h8M786 1372h8M826 1372h84M954 1372h24M90 1376h8M182 1376h32M334 1376h8M346 1376h20M446 1376h4M478 1376h4M514 1376h12M562 1376h24M594 1376h20M662 1376h36M782 1376h12M830 1376h60M898 1376h12M958 1376h8M1062 1376h12M90 1380h8M178 1380h40M334 1380h32M442 1380h12M514 1380h4M566 1380h52M662 1380h36M782 1380h12M834 1380h48M902 1380h12M1050 1380h24M62 1384h4M170 1384h48M334 1384h36M442 1384h8M586 1384h36M666 1384h28M782 1384h8M834 1384h40M902 1384h16M1050 1384h24M62 1388h4M166 1388h52M338 1388h32M442 1388h8M590 1388h36M666 1388h24M778 1388h12M830 1388h40M902 1388h20M1054 1388h20M62 1392h4M158 1392h60M338 1392h36M498 1392h4M598 1392h32M662 1392h24M774 1392h20M826 1392h40M902 1392h24M1054 1392h20M62 1396h4M154 1396h64M274 1396h8M334 1396h4M370 1396h12M494 1396h8M598 1396h88M770 1396h32M822 1396h40M902 1396h24M942 1396h8M1058 1396h16M62 1400h4M150 1400h72M270 1400h12M334 1400h4M374 1400h4M474 1400h32M538 1400h4M602 1400h84M694 1400h4M770 1400h40M814 1400h44M938 1400h8M1058 1400h16M62 1404h4M150 1404h24M206 1404h16M270 1404h12M470 1404h36M598 1404h76M766 1404h68M842 1404h12M934 1404h8M1062 1404h12M62 1408h4M154 1408h16M206 1408h16M266 1408h16M470 1408h68M594 1408h60M766 1408h64M934 1408h8M1066 1408h8M62 1412h4M158 1412h8M202 1412h24M266 1412h12M470 1412h28M506 1412h32M598 1412h56M762 1412h64M930 1412h8M1070 1412h4M62 1416h4M202 1416h28M254 1416h24M314 1416h4M422 1416h8M458 1416h4M470 1416h12M514 1416h24M598 1416h52M758 1416h44M62 1420h4M206 1420h72M314 1420h4M422 1420h16M486 1420h8M514 1420h24M602 1420h48M750 1420h52M934 1420h4M62 1424h4M218 1424h56M418 1424h36M486 1424h4M510 1424h28M606 1424h40M750 1424h12M782 1424h16M930 1424h12M222 1428h44M418 1428h36M506 1428h48M606 1428h40M694 1428h4M742 1428h8M930 1428h12M78 1432h4M222 1432h16M422 1432h28M510 1432h40M606 1432h44M694 1432h28M734 1432h20M930 1432h16M78 1436h4M226 1436h12M418 1436h36M534 1436h12M606 1436h44M710 1436h36M922 1436h24M1054 1436h16M74 1440h16M226 1440h12M342 1440h8M414 1440h48M538 1440h8M606 1440h40M722 1440h16M850 1440h4M926 1440h24M1050 1440h24M74 1444h20M230 1444h16M342 1444h12M406 1444h80M610 1444h32M678 1444h8M722 1444h16M806 1444h8M846 1444h12M930 1444h28M1046 1444h28M70 1448h16M170 1448h4M230 1448h16M342 1448h16M398 1448h92M614 1448h28M674 1448h12M726 1448h12M806 1448h28M846 1448h24M930 1448h36M1062 1448h12M70 1452h16M170 1452h8M230 1452h20M298 1452h4M338 1452h24M394 1452h100M618 1452h20M678 1452h12M722 1452h16M810 1452h28M854 1452h16M926 1452h40M66 1456h16M114 1456h8M170 1456h28M226 1456h28M334 1456h32M394 1456h104M586 1456h12M618 1456h20M678 1456h12M722 1456h16M810 1456h32M858 1456h12M926 1456h32M962 1456h4M66 1460h20M114 1460h16M166 1460h44M226 1460h36M342 1460h28M394 1460h104M570 1460h28M622 1460h12M678 1460h16M722 1460h16M814 1460h56M926 1460h28M66 1464h20M110 1464h44M162 1464h56M222 1464h44M346 1464h24M398 1464h100M558 1464h32M626 1464h8M686 1464h8M714 1464h24M814 1464h4M846 1464h24M930 1464h20M70 1468h8M118 1468h148M362 1468h12M398 1468h40M454 1468h4M474 1468h24M554 1468h20M626 1468h8M718 1468h20M814 1468h4M858 1468h12M934 1468h16M134 1472h132M398 1472h28M450 1472h8M490 1472h8M554 1472h12M630 1472h8M726 1472h12M806 1472h16M862 1472h12M938 1472h16M1062 1472h4M146 1476h76M246 1476h20M450 1476h4M494 1476h8M558 1476h8M630 1476h4M730 1476h8M790 1476h36M866 1476h8M938 1476h16M1050 1476h24M146 1480h68M246 1480h24M378 1480h24M558 1480h8M674 1480h4M790 1480h36M926 1480h32M1038 1480h36M138 1484h68M250 1484h20M378 1484h24M558 1484h8M670 1484h8M794 1484h36M898 1484h64M1038 1484h36M130 1488h68M250 1488h36M378 1488h28M498 1488h4M798 1488h36M890 1488h80M1038 1488h36M126 1492h64M254 1492h56M378 1492h32M446 1492h8M498 1492h4M554 1492h4M802 1492h36M890 1492h88M1046 1492h28M126 1496h16M150 1496h36M258 1496h60M378 1496h32M450 1496h4M550 1496h8M802 1496h40M886 1496h100M1058 1496h12M126 1500h8M170 1500h16M262 1500h64M382 1500h32M450 1500h8M542 1500h12M706 1500h4M806 1500h44M882 1500h36M930 1500h68M1062 1500h4M170 1504h12M266 1504h68M378 1504h36M450 1504h12M538 1504h16M702 1504h36M762 1504h8M806 1504h44M874 1504h32M938 1504h60M166 1508h16M270 1508h60M338 1508h80M450 1508h16M498 1508h4M530 1508h24M698 1508h44M758 1508h20M810 1508h12M874 1508h28M942 1508h56M1046 1508h12M166 1512h12M206 1512h4M274 1512h56M342 1512h80M446 1512h20M494 1512h20M522 1512h32M626 1512h8M738 1512h4M758 1512h24M810 1512h12M878 1512h20M946 1512h56M1038 1512h20M150 1516h4M206 1516h20M278 1516h48M346 1516h76M446 1516h16M494 1516h60M618 1516h12M738 1516h4M762 1516h28M814 1516h8M882 1516h16M950 1516h52M1042 1516h12M110 1520h4M122 1520h32M206 1520h20M282 1520h40M350 1520h72M450 1520h8M510 1520h48M622 1520h8M694 1520h12M762 1520h40M810 1520h12M954 1520h52M1046 1520h8M110 1524h40M202 1524h8M234 1524h16M286 1524h28M358 1524h60M518 1524h48M582 1524h8M626 1524h8M698 1524h20M754 1524h68M954 1524h56M106 1528h48M194 1528h12M234 1528h12M290 1528h16M362 1528h52M518 1528h72M698 1528h24M754 1528h68M958 1528h48M62 1532h8M106 1532h48M194 1532h12M294 1532h8M370 1532h40M522 1532h4M558 1532h32M698 1532h24M762 1532h64M854 1532h4M962 1532h28M62 1536h8M106 1536h52M194 1536h8M522 1536h8M566 1536h20M698 1536h20M778 1536h48M830 1536h4M846 1536h12M902 1536h8M962 1536h24M1062 1536h4M62 1540h12M106 1540h60M310 1540h4M526 1540h8M698 1540h16M794 1540h24M830 1540h20M898 1540h24M966 1540h12M1058 1540h8M62 1544h12M110 1544h60M262 1544h8M302 1544h24M526 1544h12M698 1544h16M798 1544h20M830 1544h16M902 1544h16M62 1548h16M110 1548h60M266 1548h8M298 1548h28M490 1548h4M526 1548h20M654 1548h12M678 1548h8M694 1548h20M802 1548h16M62 1552h20M110 1552h64M262 1552h56M438 1552h8M486 1552h12M506 1552h4M530 1552h16M654 1552h60M806 1552h12M62 1556h24M110 1556h80M210 1556h20M258 1556h52M438 1556h8M486 1556h24M658 1556h60M806 1556h12M902 1556h8M62 1560h40M110 1560h124M266 1560h40M442 1560h8M482 1560h24M662 1560h60M806 1560h8M906 1560h8M994 1560h8M62 1564h60M138 1564h92M274 1564h32M442 1564h12M466 1564h8M490 1564h16M662 1564h64M738 1564h12M802 1564h16M906 1564h12M990 1564h16M62 1568h60M142 1568h84M278 1568h28M442 1568h28M490 1568h16M546 1568h16M602 1568h8M662 1568h88M802 1568h16M906 1568h12M986 1568h28M62 1572h60M146 1572h76M274 1572h36M398 1572h12M442 1572h28M490 1572h16M550 1572h16M602 1572h8M662 1572h84M802 1572h20M910 1572h12M986 1572h36M82 1576h48M150 1576h68M278 1576h36M398 1576h40M454 1576h44M550 1576h20M646 1576h24M726 1576h12M894 1576h28M990 1576h40M82 1580h52M154 1580h64M274 1580h68M394 1580h40M450 1580h44M550 1580h20M650 1580h24M894 1580h32M990 1580h40M98 1584h40M150 1584h68M270 1584h84M390 1584h100M550 1584h28M650 1584h28M898 1584h36M990 1584h40M110 1588h108M222 1588h8M270 1588h92M390 1588h104M554 1588h32M646 1588h32M822 1588h4M830 1588h4M910 1588h32M994 1588h32M110 1592h108M222 1592h8M266 1592h100M390 1592h104M562 1592h28M646 1592h16M666 1592h4M830 1592h4M910 1592h36M994 1592h32M114 1596h32M182 1596h28M262 1596h100M394 1596h104M566 1596h32M638 1596h20M914 1596h48M990 1596h32M118 1600h24M190 1600h16M262 1600h28M298 1600h28M346 1600h16M394 1600h72M494 1600h8M570 1600h24M638 1600h20M918 1600h44M990 1600h32M118 1604h20M194 1604h8M266 1604h20M306 1604h16M346 1604h20M398 1604h64M498 1604h8M570 1604h24M638 1604h24M738 1604h12M918 1604h44M986 1604h36M118 1608h20M266 1608h16M310 1608h8M350 1608h20M406 1608h52M498 1608h12M574 1608h16M638 1608h28M734 1608h20M830 1608h12M878 1608h8M922 1608h36M982 1608h36M118 1612h16M270 1612h8M346 1612h28M410 1612h16M494 1612h20M578 1612h12M638 1612h32M730 1612h24M798 1612h8M826 1612h20M878 1612h8M922 1612h28M990 1612h28M178 1616h12M346 1616h28M414 1616h4M494 1616h24M578 1616h8M638 1616h36M730 1616h28M798 1616h16M822 1616h24M922 1616h4M998 1616h20M178 1620h12M306 1620h4M342 1620h36M502 1620h16M670 1620h4M730 1620h28M794 1620h52M1002 1620h12M182 1624h8M306 1624h4M342 1624h36M466 1624h8M738 1624h24M794 1624h52M1006 1624h8M1058 1624h4M62 1628h4M266 1628h12M314 1628h4M334 1628h40M406 1628h8M466 1628h16M526 1628h12M670 1628h16M738 1628h28M790 1628h52M914 1628h8M1010 1628h4M1050 1628h24M62 1632h4M266 1632h12M318 1632h52M390 1632h36M466 1632h4M530 1632h16M666 1632h32M730 1632h36M782 1632h16M818 1632h24M914 1632h8M1058 1632h16M62 1636h4M266 1636h12M322 1636h48M394 1636h40M538 1636h8M562 1636h12M650 1636h4M670 1636h36M726 1636h36M778 1636h20M834 1636h8M918 1636h8M130 1640h12M326 1640h40M398 1640h36M554 1640h20M614 1640h16M642 1640h12M674 1640h40M726 1640h12M782 1640h12M918 1640h8M1006 1640h8M126 1644h20M222 1644h36M334 1644h28M398 1644h32M506 1644h12M550 1644h20M606 1644h24M674 1644h64M786 1644h8M922 1644h4M1006 1644h4M126 1648h44M206 1648h56M338 1648h24M398 1648h32M494 1648h32M542 1648h20M610 1648h16M678 1648h52M62 1652h12M122 1652h52M206 1652h56M326 1652h4M398 1652h32M490 1652h72M678 1652h52M62 1656h12M118 1656h52M214 1656h48M322 1656h8M398 1656h32M446 1656h8M474 1656h88M678 1656h52M114 1660h56M218 1660h20M398 1660h36M442 1660h120M674 1660h56M934 1660h8M118 1664h56M218 1664h16M398 1664h40M442 1664h120M674 1664h60M850 1664h8M934 1664h12M122 1668h52M222 1668h12M398 1668h40M442 1668h68M538 1668h28M574 1668h8M678 1668h56M850 1668h12M934 1668h12M1026 1668h8M1070 1668h4M122 1672h56M222 1672h12M398 1672h40M546 1672h20M598 1672h16M678 1672h68M850 1672h20M938 1672h8M1022 1672h16M1062 1672h12M126 1676h56M222 1676h16M282 1676h8M390 1676h48M546 1676h72M678 1676h68M850 1676h28M934 1676h12M1022 1676h20M1062 1676h12M130 1680h56M218 1680h24M286 1680h8M366 1680h72M542 1680h76M678 1680h68M854 1680h32M934 1680h12M1026 1680h16M1062 1680h12M134 1684h52M202 1684h44M286 1684h16M362 1684h76M542 1684h76M678 1684h24M710 1684h32M854 1684h40M934 1684h12M1058 1684h16M78 1688h12M138 1688h20M174 1688h8M194 1688h72M278 1688h64M358 1688h44M410 1688h12M550 1688h68M678 1688h20M714 1688h28M854 1688h48M938 1688h8M1058 1688h16M62 1692h32M142 1692h20M194 1692h152M354 1692h48M506 1692h4M554 1692h64M678 1692h16M718 1692h24M854 1692h48M1066 1692h8M62 1696h40M142 1696h28M194 1696h148M358 1696h44M502 1696h20M558 1696h56M682 1696h12M718 1696h24M850 1696h48M978 1696h12M998 1696h16M62 1700h48M146 1700h32M186 1700h4M194 1700h8M230 1700h112M374 1700h28M502 1700h20M562 1700h36M682 1700h12M714 1700h32M798 1700h24M846 1700h48M974 1700h44M62 1704h52M162 1704h40M230 1704h32M306 1704h36M382 1704h20M506 1704h16M562 1704h28M646 1704h20M686 1704h4M698 1704h4M710 1704h36M798 1704h96M974 1704h44M62 1708h56M170 1708h32M234 1708h20M318 1708h16M386 1708h16M506 1708h16M562 1708h24M642 1708h20M694 1708h8M710 1708h36M802 1708h88M974 1708h48M62 1712h60M174 1712h32M238 1712h8M322 1712h12M390 1712h12M510 1712h12M562 1712h20M642 1712h16M718 1712h32M806 1712h80M974 1712h56M62 1716h56M182 1716h28M230 1716h4M390 1716h20M514 1716h12M562 1716h16M642 1716h12M730 1716h28M814 1716h72M974 1716h68M62 1720h16M94 1720h24M186 1720h28M222 1720h20M286 1720h8M394 1720h16M514 1720h20M562 1720h16M642 1720h8M734 1720h32M826 1720h64M974 1720h68M62 1724h4M98 1724h16M190 1724h20M222 1724h24M286 1724h8M394 1724h16M518 1724h20M550 1724h24M642 1724h8M738 1724h36M822 1724h68M974 1724h64M226 1728h20M394 1728h16M522 1728h52M738 1728h36M822 1728h68M974 1728h8M1026 1728h8M226 1732h24M398 1732h8M522 1732h48M230 1736h24M402 1736h4M526 1736h24M242 1740h24M530 1740h12M254 1744h32M438 1744h20M530 1744h4M266 1748h24M430 1748h24M194 1752h8M270 1752h20M422 1752h28M590 1752h8M62 1756h12M194 1756h8M206 1756h4M274 1756h20M382 1756h28M422 1756h32M590 1756h20M646 1756h8M62 1760h12M138 1760h48M210 1760h4M278 1760h16M338 1760h8M350 1760h8M366 1760h44M434 1760h20M586 1760h32M646 1760h8M658 1760h12M62 1764h16M142 1764h40M282 1764h12M350 1764h4M374 1764h36M434 1764h24M582 1764h88M62 1768h20M146 1768h36M382 1768h32M434 1768h24M586 1768h84M62 1772h24M162 1772h16M386 1772h28M434 1772h32M626 1772h44M62 1776h24M170 1776h4M390 1776h28M434 1776h36M634 1776h36M62 1780h24M230 1780h20M390 1780h32M434 1780h28M638 1780h16M662 1780h8M62 1784h24M226 1784h24M390 1784h12M410 1784h16M438 1784h16M638 1784h16M62 1788h24M230 1788h20M390 1788h4M442 1788h8M638 1788h12M62 1792h12M202 1792h20M234 1792h12M214 1796h8M238 1796h8M514 1796h20M378 1800h12M510 1800h24M178 1804h4M374 1804h20M502 1804h32M174 1808h12M250 1808h32M370 1808h24M490 1808h44M170 1812h12M250 1812h32M366 1812h28M486 1812h84M170 1816h12M254 1816h24M358 1816h36M490 1816h48M166 1820h12M250 1820h24M350 1820h44M494 1820h40M162 1824h16M254 1824h20M350 1824h40M494 1824h40M586 1824h16M158 1828h20M254 1828h24M354 1828h28M498 1828h28M590 1828h16M154 1832h28M250 1832h24M354 1832h20M498 1832h28M590 1832h20M154 1836h28M250 1836h24M350 1836h20M502 1836h12M518 1836h4M594 1836h16M150 1840h32M242 1840h32M350 1840h16M594 1840h20M114 1844h12M150 1844h36M226 1844h44M350 1844h16M422 1844h8M598 1844h16M110 1848h16M154 1848h28M218 1848h52M346 1848h20M418 1848h12M598 1848h20M110 1852h16M170 1852h12M214 1852h52M346 1852h24M418 1852h8M598 1852h20M106 1856h16M174 1856h8M210 1856h52M346 1856h28M594 1856h28M98 1860h20M206 1860h52M346 1860h36M594 1860h28M78 1864h40M202 1864h56M314 1864h16M342 1864h48M514 1864h4M586 1864h40M66 1868h52M202 1868h52M314 1868h84M514 1868h8M582 1868h52" stroke="#ff0000" stroke-width="4.6" fill="none" shape-rendering="crispEdges"/>
<rect x="60" y="974" width="136" height="123" fill="#fff"/>
<rect x="668.5" y="1727.5" width="407.5" height="142.5" fill="#fff"/>
<text x="99.5" y="1057" font-family='"Liberation Serif", "DejaVu Serif", serif' font-size="63.5" font-weight="bold" text-anchor="start" fill="#000" textLength="61" lengthAdjust="spacingAndGlyphs">b)</text>
<text x="768" y="1832" font-family='"Liberation Serif", "DejaVu Serif", serif' font-size="90" font-weight="normal" text-anchor="start" fill="#000" textLength="210" lengthAdjust="spacingAndGlyphs">50μm</text>
<rect x="692" y="1846" width="382" height="14" fill="#000"/>
<clipPath id="clipc"><path d="M52 1870H1074V2754H415V2770H52Z"/></clipPath><g clip-path="url(#clipc)" fill="none" stroke-width="4.6" shape-rendering="crispEdges"><rect x="52" y="1870" width="1022" height="900" fill="#ff0080" stroke="none"/><path d="M132 1872h44M140 1876h36M144 1880h28M152 1884h4M160 1884h8M372 1884h4M160 1888h4M376 1888h4M372 1892h28M408 1892h4M380 1896h36M380 1900h40M384 1904h32M392 1908h28M312 1912h4M324 1912h4M392 1912h36M312 1916h16M400 1916h28M308 1920h24M336 1920h4M412 1920h8M424 1920h8M948 1920h20M304 1924h36M416 1924h16M300 1928h48M296 1932h60M296 1936h60M176 1940h4M288 1940h72M124 1944h4M136 1944h12M152 1944h8M164 1944h16M188 1944h4M288 1944h64M52 1948h4M128 1948h76M296 1948h60M52 1952h4M120 1952h88M296 1952h60M412 1952h8M424 1952h12M52 1956h8M116 1956h100M292 1956h44M344 1956h4M412 1956h24M52 1960h12M116 1960h92M212 1960h4M288 1960h32M324 1960h4M408 1960h40M836 1960h28M52 1964h8M112 1964h88M288 1964h4M296 1964h8M312 1964h4M320 1964h4M404 1964h48M828 1964h52M896 1964h4M52 1968h12M112 1968h80M196 1968h4M292 1968h4M400 1968h48M452 1968h4M816 1968h4M824 1968h72M900 1968h4M52 1972h8M64 1972h4M108 1972h76M400 1972h40M452 1972h4M812 1972h100M68 1976h4M112 1976h60M404 1976h60M812 1976h104M952 1976h16M108 1980h60M408 1980h60M804 1980h116M108 1984h52M412 1984h44M460 1984h12M804 1984h116M108 1988h48M420 1988h20M444 1988h8M456 1988h12M804 1988h84M904 1988h4M912 1988h8M924 1988h4M112 1992h36M820 1992h64M888 1992h4M912 1992h4M920 1992h8M120 1996h28M820 1996h56M124 2000h16M828 2000h44M124 2004h16M848 2004h20M692 2008h12M852 2008h12M984 2016h4M964 2020h16M984 2020h4M992 2020h4M964 2024h40M980 2028h24M964 2032h44M964 2036h48M956 2040h52M952 2044h56M468 2048h8M480 2048h4M952 2048h56M464 2052h28M952 2052h48M1004 2052h4M460 2056h12M480 2056h24M956 2056h44M456 2060h48M548 2060h8M964 2060h32M1000 2060h4M460 2064h40M556 2064h8M972 2064h4M980 2064h8M452 2068h8M468 2068h40M980 2068h4M452 2072h48M504 2072h4M448 2076h52M460 2080h28M492 2080h4M456 2084h8M468 2084h12M456 2088h8M476 2088h4M452 2092h20M476 2092h4M436 2096h4M444 2096h36M428 2100h4M436 2100h44M424 2104h52M744 2104h20M428 2108h48M424 2112h52M928 2112h8M940 2112h20M420 2116h56M932 2116h32M424 2120h52M928 2120h44M976 2120h4M428 2124h44M920 2124h56M980 2124h4M448 2128h28M912 2128h32M956 2128h28M912 2132h72M916 2136h64M920 2140h64M168 2144h12M924 2144h60M172 2148h16M936 2148h52M172 2152h20M944 2152h24M172 2156h28M324 2156h4M856 2156h12M944 2156h4M956 2156h4M172 2160h44M328 2160h8M980 2160h8M172 2164h48M320 2164h32M168 2168h64M316 2168h40M172 2172h56M312 2172h40M172 2176h48M304 2176h52M436 2176h4M444 2176h8M176 2180h36M216 2180h4M304 2180h60M420 2180h28M180 2184h32M296 2184h64M412 2184h40M180 2188h8M300 2188h68M412 2188h40M788 2188h4M296 2192h72M420 2192h36M784 2192h12M800 2192h16M300 2196h32M336 2196h36M428 2196h20M452 2196h4M784 2196h36M304 2200h4M336 2200h4M344 2200h4M352 2200h20M432 2200h20M784 2200h40M352 2204h16M436 2204h16M784 2204h48M364 2208h4M436 2208h16M780 2208h60M64 2212h8M440 2212h8M780 2212h56M776 2216h4M784 2216h52M780 2220h44M828 2220h4M784 2224h36M372 2228h8M612 2228h8M792 2228h4M800 2228h4M808 2228h4M380 2232h8M620 2232h4M388 2236h4M728 2252h8M736 2256h8M368 2260h8M376 2264h4M440 2264h4M416 2268h4M424 2268h4M432 2268h16M408 2272h52M268 2276h20M368 2276h4M388 2276h4M396 2276h68M468 2276h4M692 2276h8M372 2280h4M380 2280h92M700 2280h4M380 2284h4M392 2284h80M396 2288h76M400 2292h76M412 2296h64M424 2300h48M920 2300h8M172 2304h4M424 2304h48M928 2304h8M172 2308h16M192 2308h4M424 2308h4M432 2308h44M172 2312h28M436 2312h40M168 2316h36M208 2316h4M440 2316h32M168 2320h52M452 2320h20M184 2324h28M188 2328h40M188 2332h4M200 2332h20M224 2332h12M720 2344h8M144 2348h12M712 2348h8M140 2352h28M384 2352h8M720 2352h8M144 2356h28M532 2356h20M728 2356h4M140 2360h36M140 2364h36M1024 2364h4M1036 2364h4M144 2368h36M1016 2368h32M148 2372h28M1008 2372h52M148 2376h28M1016 2376h48M160 2380h4M168 2380h12M260 2380h4M1020 2380h44M176 2384h4M220 2384h28M252 2384h16M1020 2384h48M212 2388h4M220 2388h52M932 2388h8M1032 2388h42M196 2392h4M204 2392h72M940 2392h8M1032 2392h40M196 2396h80M948 2396h4M1040 2396h20M188 2400h88M1044 2400h4M208 2404h68M216 2408h8M228 2408h52M240 2412h4M252 2412h20M280 2412h4M272 2424h12M264 2460h20M264 2464h28M164 2468h20M268 2468h28M160 2472h32M268 2472h32M436 2472h8M156 2476h8M184 2476h20M276 2476h28M436 2476h12M968 2476h12M160 2480h52M272 2480h36M312 2480h4M436 2480h12M152 2484h64M256 2484h8M272 2484h40M432 2484h24M1020 2484h4M152 2488h68M264 2488h8M276 2488h48M432 2488h28M988 2488h52M140 2492h84M276 2492h60M428 2492h36M988 2492h40M136 2496h92M276 2496h60M340 2496h12M428 2496h40M980 2496h64M128 2500h8M144 2500h88M280 2500h60M344 2500h4M428 2500h44M984 2500h64M1052 2500h4M128 2504h104M288 2504h32M436 2504h48M980 2504h76M132 2508h108M440 2508h44M488 2508h8M984 2508h76M144 2512h4M156 2512h80M448 2512h48M988 2512h16M1012 2512h52M1072 2512h2M172 2516h60M452 2516h52M988 2516h24M1020 2516h54M188 2520h4M196 2520h40M456 2520h36M1000 2520h74M212 2524h8M224 2524h8M464 2524h4M472 2524h4M480 2524h8M1000 2524h74M892 2528h12M1012 2528h56M884 2532h28M1016 2532h36M872 2536h40M1028 2536h4M1036 2536h4M860 2540h4M868 2540h48M860 2544h56M304 2548h8M340 2548h8M860 2548h64M580 2552h20M604 2552h8M620 2552h8M868 2552h52M572 2556h60M692 2556h8M868 2556h52M88 2560h8M456 2560h4M464 2560h4M564 2560h72M700 2560h8M868 2560h44M84 2564h16M448 2564h24M560 2564h72M708 2564h4M876 2564h12M892 2564h4M900 2564h4M80 2568h20M444 2568h36M552 2568h76M80 2572h24M444 2572h36M548 2572h76M80 2576h32M116 2576h4M436 2576h40M552 2576h68M788 2576h8M84 2580h36M424 2580h52M552 2580h64M796 2580h4M84 2584h32M220 2584h4M416 2584h64M556 2584h56M88 2588h24M216 2588h12M232 2588h4M416 2588h4M428 2588h28M468 2588h12M568 2588h40M88 2592h4M96 2592h16M216 2592h16M240 2592h4M328 2592h8M440 2592h36M580 2592h20M216 2596h32M440 2596h36M584 2596h12M216 2600h12M240 2600h16M260 2600h4M268 2600h4M464 2600h4M1072 2600h2M220 2604h52M1056 2604h18M220 2608h68M984 2608h4M1056 2608h18M220 2612h72M940 2612h8M956 2612h16M976 2612h8M1052 2612h22M216 2616h80M320 2616h16M908 2616h80M1052 2616h22M220 2620h88M908 2620h80M1048 2620h26M220 2624h72M304 2624h12M920 2624h68M1056 2624h18M224 2628h64M292 2628h4M308 2628h4M912 2628h84M1060 2628h14M228 2632h36M268 2632h8M416 2632h8M428 2632h4M924 2632h68M1072 2632h2M228 2636h28M404 2636h32M932 2636h64M232 2640h16M404 2640h36M940 2640h56M400 2644h36M940 2644h32M976 2644h8M396 2648h40M948 2648h12M404 2652h36M324 2656h4M404 2656h32M320 2660h12M408 2660h12M424 2660h8M256 2664h16M276 2664h4M292 2664h12M308 2664h4M316 2664h16M268 2668h28M300 2668h32M272 2672h64M276 2676h56M284 2680h52M824 2680h8M288 2684h48M832 2684h8M952 2684h4M292 2688h4M300 2688h36M952 2688h12M972 2688h4M204 2692h4M296 2692h48M660 2692h16M944 2692h28M980 2692h8M196 2696h16M216 2696h8M304 2696h40M932 2696h48M984 2696h20M196 2700h32M304 2700h4M312 2700h36M932 2700h72M192 2704h36M312 2704h36M936 2704h72M96 2708h20M120 2708h4M188 2708h36M228 2708h4M324 2708h28M940 2708h68M88 2712h48M140 2712h4M184 2712h40M328 2712h20M932 2712h80M84 2716h64M152 2716h4M184 2716h40M332 2716h8M936 2716h76M84 2720h32M132 2720h36M176 2720h48M932 2720h4M940 2720h72M84 2724h92M180 2724h40M936 2724h76M80 2728h128M212 2728h4M936 2728h4M944 2728h52M1000 2728h12M76 2732h100M188 2732h12M204 2732h8M944 2732h44M76 2736h40M140 2736h16M168 2736h4M956 2736h12M76 2740h4M84 2740h28M124 2740h4M956 2740h4M80 2744h4M1056 2744h8M1064 2748h8M132 2752h8M1072 2752h2M140 2756h8M780 2756h20M148 2760h4M748 2760h8" stroke="#ff0000"/><path d="M176 1872h52M492 1872h8M180 1876h8M192 1876h12M212 1876h12M480 1876h12M496 1876h4M468 1880h36M468 1884h20M500 1884h4M460 1888h44M456 1892h52M1004 1892h4M1012 1892h8M452 1896h60M1000 1896h24M1028 1896h4M452 1900h64M976 1900h4M988 1900h52M460 1904h64M972 1904h8M984 1904h64M464 1908h64M984 1908h80M464 1912h64M984 1912h72M1060 1912h4M464 1916h52M616 1916h4M624 1916h16M996 1916h56M464 1920h44M600 1920h4M616 1920h12M636 1920h8M1000 1920h44M468 1924h24M596 1924h48M1012 1924h16M480 1928h8M592 1928h56M1024 1928h8M592 1932h64M1020 1932h4M592 1936h64M588 1940h72M592 1944h68M600 1948h56M608 1952h40M616 1956h4M624 1956h20M532 1960h4M544 1960h4M624 1960h16M292 1964h4M532 1964h16M300 1968h8M524 1968h4M532 1968h24M292 1972h24M520 1972h44M292 1976h36M516 1976h56M300 1980h32M516 1980h64M584 1980h4M300 1984h48M516 1984h72M304 1988h48M512 1988h92M304 1992h20M328 1992h28M524 1992h80M612 1992h8M1044 1992h8M324 1996h40M528 1996h72M604 1996h4M620 1996h8M1052 1996h20M332 2000h4M344 2000h24M540 2000h40M628 2000h4M1048 2000h4M1056 2000h18M348 2004h20M1056 2004h4M1064 2004h10M200 2008h12M352 2008h12M1072 2008h2M352 2012h16M360 2016h8M656 2016h24M700 2016h4M364 2020h8M400 2020h4M648 2020h32M684 2020h20M372 2024h28M408 2024h4M644 2024h64M732 2024h12M368 2028h40M640 2028h64M1004 2028h4M360 2032h52M640 2032h68M1008 2032h4M208 2036h8M364 2036h52M636 2036h16M668 2036h36M1012 2036h8M216 2040h4M364 2040h56M636 2040h72M1008 2040h24M364 2044h56M632 2044h80M1008 2044h28M356 2048h44M412 2048h8M628 2048h80M1008 2048h36M1048 2048h4M352 2052h72M636 2052h80M1000 2052h4M1008 2052h56M356 2056h72M632 2056h4M640 2056h76M1000 2056h74M80 2060h4M348 2060h80M640 2060h80M996 2060h4M1004 2060h70M80 2064h20M104 2064h16M360 2064h68M648 2064h4M656 2064h64M988 2064h84M80 2068h4M92 2068h24M124 2068h4M276 2068h8M364 2068h72M664 2068h60M992 2068h72M88 2072h36M128 2072h4M284 2072h4M368 2072h52M424 2072h8M436 2072h8M676 2072h56M1000 2072h40M1052 2072h4M88 2076h48M376 2076h36M692 2076h40M1008 2076h28M88 2080h8M100 2080h4M120 2080h4M392 2080h4M708 2080h4M724 2080h4M1012 2080h4M936 2088h12M924 2092h36M72 2096h12M924 2096h36M52 2100h36M708 2100h12M928 2100h28M52 2104h32M924 2104h36M52 2108h20M76 2108h4M924 2108h32M52 2112h24M936 2112h4M52 2116h24M812 2116h28M52 2120h24M800 2120h40M1008 2120h4M52 2124h24M792 2124h52M988 2124h4M996 2124h20M52 2128h24M304 2128h4M324 2128h4M480 2128h4M788 2128h60M944 2128h12M984 2128h40M52 2132h24M116 2132h8M304 2132h20M468 2132h24M792 2132h60M984 2132h40M52 2136h20M296 2136h28M464 2136h28M564 2136h12M580 2136h4M792 2136h44M840 2136h4M980 2136h44M64 2140h4M292 2140h36M468 2140h28M564 2140h32M808 2140h4M984 2140h40M280 2144h44M468 2144h32M564 2144h40M984 2144h36M276 2148h52M344 2148h16M468 2148h32M564 2148h48M992 2148h20M260 2152h72M472 2152h28M564 2152h48M1000 2152h4M256 2156h68M328 2156h4M476 2156h20M564 2156h52M260 2160h68M484 2160h4M560 2160h60M264 2164h56M616 2164h4M272 2168h44M280 2172h32M648 2172h12M880 2172h4M284 2176h4M292 2176h12M876 2176h12M288 2180h16M876 2180h20M900 2180h4M876 2184h32M876 2188h36M880 2192h32M396 2196h20M884 2196h20M716 2200h4M892 2200h16M716 2204h8M904 2204h4M1028 2204h8M160 2208h4M708 2208h28M1028 2208h16M160 2212h12M700 2212h40M1012 2212h36M1052 2212h4M152 2216h32M696 2216h52M1008 2216h48M1060 2216h4M152 2220h32M696 2220h52M752 2220h4M1012 2220h52M160 2224h24M692 2224h24M724 2224h12M740 2224h16M1016 2224h56M180 2228h8M460 2228h4M696 2228h28M748 2228h4M1020 2228h54M704 2232h4M1020 2232h54M448 2236h16M620 2236h4M1020 2236h4M1028 2236h46M444 2240h28M596 2240h32M632 2240h4M1020 2240h54M432 2244h36M592 2244h40M1020 2244h24M1072 2244h2M432 2248h40M592 2248h44M1016 2248h58M432 2252h48M596 2252h48M1024 2252h50M192 2256h12M440 2256h40M596 2256h32M1032 2256h42M192 2260h4M440 2260h32M600 2260h12M620 2260h4M1036 2260h38M184 2264h4M192 2264h12M208 2264h4M444 2264h44M604 2264h16M1040 2264h28M180 2268h40M448 2268h40M604 2268h8M184 2272h44M236 2272h4M356 2272h8M460 2272h28M180 2276h64M360 2276h8M464 2276h4M472 2276h4M176 2280h64M356 2280h16M376 2280h4M180 2284h60M356 2284h24M384 2284h8M176 2288h60M368 2288h28M176 2292h64M364 2292h4M372 2292h28M184 2296h56M368 2296h44M208 2300h8M220 2300h20M376 2300h32M224 2304h16M376 2304h48M232 2308h4M240 2308h4M384 2308h40M428 2308h4M388 2312h48M136 2316h4M388 2316h52M112 2320h4M120 2320h28M392 2320h52M96 2324h4M104 2324h48M392 2324h36M432 2324h4M52 2328h16M92 2328h4M100 2328h48M396 2328h20M428 2328h4M960 2328h12M96 2332h72M400 2332h4M100 2336h48M400 2336h4M996 2336h4M1004 2336h4M104 2340h4M112 2340h40M996 2340h28M120 2344h28M996 2344h40M1044 2344h4M132 2348h4M140 2348h4M1004 2348h44M1000 2352h44M584 2356h8M596 2356h20M996 2356h52M584 2360h20M608 2360h16M1000 2360h60M580 2364h40M624 2364h4M1000 2364h24M1028 2364h8M1040 2364h4M580 2368h48M1000 2368h16M580 2372h48M584 2376h28M620 2376h12M1064 2376h10M588 2380h40M904 2380h4M268 2384h20M584 2384h48M892 2384h24M588 2388h4M596 2388h40M888 2388h24M592 2392h40M884 2392h12M904 2392h8M916 2392h4M596 2396h4M612 2396h16M884 2396h20M912 2396h4M884 2400h32M1048 2400h16M884 2404h36M1048 2404h24M224 2408h4M884 2408h4M892 2408h4M900 2408h20M1048 2408h26M216 2412h24M244 2412h4M912 2412h4M1048 2412h26M220 2416h32M1056 2416h18M224 2420h24M1060 2420h14M220 2424h24M1060 2424h14M228 2428h8M1060 2428h14M228 2432h8M1064 2432h10M1064 2436h10M1060 2440h14M1060 2444h14M1064 2448h10M1064 2452h10M748 2460h16M768 2460h4M744 2464h28M744 2468h28M744 2472h28M776 2472h4M748 2476h32M448 2480h8M748 2480h4M756 2480h20M752 2484h24M756 2488h16M764 2492h4M456 2524h4M468 2524h4M476 2524h4M332 2528h8M400 2528h8M452 2528h28M340 2532h8M408 2532h8M452 2532h24M348 2536h4M416 2536h4M448 2536h32M300 2540h4M312 2540h24M448 2540h28M836 2540h12M300 2544h40M456 2544h24M596 2544h8M836 2544h24M296 2548h8M312 2548h28M456 2548h24M604 2548h8M820 2548h4M828 2548h32M296 2552h40M464 2552h12M612 2552h4M808 2552h4M820 2552h48M300 2556h36M468 2556h4M804 2556h64M296 2560h4M304 2560h32M812 2560h56M1056 2560h4M308 2564h4M320 2564h12M820 2564h12M836 2564h8M848 2564h28M1044 2564h28M868 2568h4M1044 2568h30M1052 2572h22M1052 2576h8M1064 2576h10M1060 2580h12M452 2600h12M468 2600h4M448 2604h36M452 2608h24M452 2612h28M448 2616h24M452 2620h28M448 2624h36M796 2624h4M816 2624h4M444 2628h48M776 2628h24M804 2628h24M448 2632h48M764 2632h80M444 2636h4M452 2636h56M644 2636h8M656 2636h4M756 2636h84M440 2640h4M448 2640h4M460 2640h4M468 2640h44M644 2640h32M680 2640h8M692 2640h8M756 2640h84M472 2644h8M484 2644h32M640 2644h72M752 2644h76M832 2644h4M484 2648h4M492 2648h8M508 2648h4M644 2648h80M756 2648h8M768 2648h68M496 2652h4M648 2652h12M676 2652h52M784 2652h44M652 2656h56M712 2656h4M796 2656h20M820 2656h4M660 2660h48M660 2664h36M700 2664h4M660 2668h44M664 2672h36M664 2676h28M696 2676h4M664 2680h20M824 2716h16M1060 2720h8M1072 2720h2M1024 2724h4M1036 2724h38M1020 2728h54M1024 2732h50M764 2736h4M1028 2736h46M756 2740h8M1036 2740h38M756 2744h20M1044 2744h12M1064 2744h10M752 2748h40M1048 2748h16M1072 2748h2M752 2752h44M800 2752h4M1056 2752h16M752 2756h28M800 2756h8M1056 2756h18M756 2760h56M1068 2760h6M752 2764h72M1072 2764h2M756 2768h12M772 2768h28M804 2768h8M816 2768h4M1072 2768h2" stroke="#ff00ff"/><path d="M228 1872h32M264 1872h4M780 1872h24M824 1872h20M852 1872h8M880 1872h4M240 1876h4M248 1876h4M780 1876h116M784 1880h120M908 1880h4M784 1884h128M164 1888h4M608 1888h8M788 1888h132M164 1892h4M592 1892h20M616 1892h12M792 1892h40M840 1892h4M856 1892h72M932 1892h4M152 1896h20M588 1896h44M792 1896h36M860 1896h84M148 1900h32M588 1900h52M792 1900h32M868 1900h84M140 1904h8M152 1904h40M584 1904h52M792 1904h28M864 1904h4M872 1904h68M136 1908h28M172 1908h24M580 1908h56M804 1908h4M816 1908h4M872 1908h8M884 1908h28M920 1908h8M932 1908h4M128 1912h4M136 1912h36M180 1912h20M588 1912h48M876 1912h36M144 1916h56M584 1916h32M620 1916h4M892 1916h4M904 1916h4M152 1920h48M596 1920h4M604 1920h12M152 1924h48M160 1928h44M164 1932h40M172 1936h32M172 1940h4M180 1940h28M180 1944h8M192 1944h16M204 1948h4M536 1960h4M552 1960h4M564 1960h4M548 1964h36M556 1968h40M564 1972h32M1072 1972h2M572 1976h36M580 1980h4M588 1980h20M588 1984h16M552 2008h12M240 2028h12M260 2028h8M232 2032h44M232 2036h48M284 2036h4M516 2036h4M528 2036h20M240 2040h48M520 2040h40M248 2044h44M508 2044h60M260 2048h8M272 2048h4M496 2048h8M512 2048h64M496 2052h16M520 2052h60M56 2056h4M504 2056h72M60 2060h12M504 2060h16M524 2060h24M556 2060h12M580 2060h4M52 2064h24M52 2068h28M52 2072h36M52 2076h36M52 2080h36M52 2084h40M68 2088h24M76 2092h16M612 2096h12M320 2100h16M600 2100h32M596 2104h44M112 2108h12M596 2108h56M656 2108h4M596 2112h64M604 2116h52M612 2120h20M640 2120h24M108 2124h8M636 2124h12M656 2124h8M1072 2136h2M376 2140h4M872 2140h4M380 2144h8M392 2144h8M860 2144h28M384 2148h12M400 2148h4M860 2148h32M988 2148h4M380 2152h32M732 2152h12M856 2152h32M968 2152h32M1004 2152h4M380 2156h48M732 2156h16M852 2156h4M868 2156h24M964 2156h52M376 2160h56M732 2160h24M848 2160h40M968 2160h12M988 2160h32M384 2164h52M732 2164h28M764 2164h4M848 2164h4M856 2164h4M868 2164h20M968 2164h48M1024 2164h4M380 2168h4M388 2168h56M732 2168h44M876 2168h8M976 2168h48M1028 2168h8M388 2172h60M728 2172h44M776 2172h4M976 2172h28M1012 2172h36M400 2176h24M440 2176h4M732 2176h48M976 2176h72M404 2180h16M584 2180h4M732 2180h4M748 2180h32M976 2180h76M408 2184h4M576 2184h4M584 2184h16M748 2184h40M980 2184h4M988 2184h60M572 2188h40M780 2188h4M1000 2188h48M572 2192h40M1000 2192h40M576 2196h40M1016 2196h16M1036 2196h4M568 2200h52M884 2200h4M1020 2200h12M568 2204h48M876 2204h4M888 2204h16M64 2208h4M572 2208h48M848 2208h4M856 2208h60M52 2212h12M72 2212h8M576 2212h4M592 2212h16M616 2212h4M848 2212h68M52 2216h28M616 2216h4M848 2216h76M52 2220h20M848 2220h72M52 2224h20M856 2224h72M52 2228h20M468 2228h4M864 2228h60M52 2232h24M148 2232h20M464 2232h8M476 2232h4M864 2232h52M920 2232h4M52 2236h28M464 2236h28M868 2236h44M56 2240h4M76 2240h4M472 2240h28M872 2240h28M468 2244h36M880 2244h12M472 2248h44M520 2248h4M480 2252h48M104 2256h4M480 2256h52M100 2260h28M132 2260h4M484 2260h48M96 2264h60M488 2264h44M1068 2264h6M96 2268h60M160 2268h8M172 2268h4M496 2268h4M504 2268h28M1056 2268h18M92 2272h92M512 2272h4M1056 2272h18M88 2276h92M1060 2276h14M92 2280h24M124 2280h12M140 2280h36M692 2280h8M704 2280h36M748 2280h4M1068 2280h6M96 2284h4M104 2284h8M116 2284h4M140 2284h4M156 2284h8M168 2284h12M688 2284h76M1068 2284h6M168 2288h8M672 2288h8M684 2288h76M1072 2288h2M672 2292h80M676 2296h68M748 2296h4M672 2300h76M676 2304h40M736 2304h8M696 2308h12M712 2308h28M720 2312h4M732 2312h16M52 2320h4M356 2336h8M364 2340h8M372 2344h4M500 2348h4M512 2348h4M496 2352h32M492 2356h36M384 2360h12M492 2360h44M344 2364h4M356 2364h36M496 2364h36M344 2368h60M496 2368h4M504 2368h4M512 2368h28M924 2368h4M340 2372h60M528 2372h8M908 2372h4M916 2372h8M340 2376h64M912 2376h16M348 2380h60M908 2380h4M932 2380h8M348 2384h60M916 2384h32M360 2388h48M912 2388h20M940 2388h8M92 2392h4M100 2392h4M364 2392h44M912 2392h4M920 2392h20M948 2392h4M88 2396h20M112 2396h4M352 2396h8M368 2396h32M916 2396h32M88 2400h28M120 2400h4M360 2400h8M372 2400h20M916 2400h32M88 2404h28M376 2404h4M384 2404h4M920 2404h24M948 2404h4M92 2408h32M920 2408h28M88 2412h32M248 2412h4M272 2412h8M652 2412h4M916 2412h32M84 2416h32M252 2416h36M652 2416h24M680 2416h4M924 2416h24M88 2420h28M248 2420h48M652 2420h40M704 2420h4M936 2420h20M96 2424h12M112 2424h4M244 2424h28M284 2424h12M660 2424h56M720 2424h16M936 2424h24M236 2428h68M660 2428h16M684 2428h52M940 2428h16M224 2432h4M236 2432h64M660 2432h24M688 2432h48M956 2432h4M224 2436h72M660 2436h32M700 2436h28M956 2436h4M224 2440h68M668 2440h52M232 2444h64M668 2444h48M1040 2444h4M232 2448h68M552 2448h4M668 2448h40M712 2448h4M1036 2448h28M240 2452h56M528 2452h12M548 2452h12M564 2452h12M672 2452h36M1028 2452h36M236 2456h4M244 2456h44M352 2456h20M524 2456h52M580 2456h4M676 2456h32M920 2456h8M1028 2456h46M256 2460h8M284 2460h4M520 2460h68M676 2460h20M928 2460h8M1024 2460h50M512 2464h80M680 2464h4M876 2464h32M936 2464h4M1020 2464h54M52 2468h4M500 2468h92M864 2468h48M1020 2468h54M52 2472h4M496 2472h100M864 2472h56M1016 2472h58M52 2476h4M496 2476h104M872 2476h56M1016 2476h58M52 2480h4M500 2480h100M872 2480h4M880 2480h4M888 2480h44M1016 2480h56M52 2484h8M508 2484h96M892 2484h44M1024 2484h28M52 2488h8M364 2488h16M508 2488h100M904 2488h44M52 2492h8M360 2492h28M508 2492h100M912 2492h44M52 2496h8M356 2496h44M512 2496h104M840 2496h4M848 2496h4M924 2496h44M52 2500h16M348 2500h56M516 2500h88M828 2500h4M844 2500h8M948 2500h4M964 2500h4M356 2504h52M516 2504h24M544 2504h8M560 2504h8M828 2504h12M844 2504h12M368 2508h40M516 2508h8M816 2508h40M860 2508h4M372 2512h40M812 2512h52M384 2516h28M812 2516h52M388 2520h24M812 2520h64M396 2524h8M828 2524h52M884 2524h4M220 2528h16M244 2528h12M408 2528h4M832 2528h56M220 2532h32M256 2532h24M284 2532h4M836 2532h48M228 2536h64M840 2536h32M232 2540h68M848 2540h12M864 2540h4M232 2544h68M56 2548h8M248 2548h48M536 2548h20M52 2552h24M144 2552h20M244 2552h52M476 2552h20M748 2552h8M760 2552h20M788 2552h8M800 2552h4M52 2556h32M244 2556h56M472 2556h36M752 2556h52M52 2560h36M256 2560h36M472 2560h48M752 2560h60M52 2564h32M472 2564h4M480 2564h32M516 2564h4M752 2564h60M52 2568h28M480 2568h12M496 2568h4M504 2568h4M756 2568h56M52 2572h28M756 2572h52M52 2576h28M756 2576h32M796 2576h8M52 2580h32M780 2580h8M792 2580h4M980 2580h12M52 2584h32M52 2588h36M56 2592h20M292 2592h8M60 2596h8M660 2608h12M676 2608h4M648 2612h36M648 2616h40M640 2620h52M648 2624h48M652 2628h48M868 2628h8M908 2628h4M656 2632h48M876 2632h4M908 2632h16M660 2636h44M904 2636h28M520 2640h4M528 2640h8M552 2640h4M676 2640h4M688 2640h4M700 2640h8M900 2640h40M516 2644h24M544 2644h28M844 2644h8M896 2644h4M908 2644h32M196 2648h28M228 2648h4M500 2648h8M512 2648h56M572 2648h8M908 2648h40M192 2652h48M504 2652h76M912 2652h40M180 2656h56M508 2656h80M816 2656h4M916 2656h36M180 2660h60M508 2660h80M808 2660h12M928 2660h16M180 2664h60M508 2664h72M808 2664h16M832 2664h4M936 2664h8M188 2668h52M516 2668h52M808 2668h24M188 2672h52M524 2672h4M536 2672h8M548 2672h4M808 2672h4M820 2672h20M188 2676h48M812 2676h8M824 2676h20M196 2680h40M808 2680h16M832 2680h16M196 2684h36M416 2684h8M816 2684h16M840 2684h4M192 2688h40M820 2688h12M208 2692h20M504 2692h8M212 2696h4M224 2696h8M488 2712h4M480 2716h20M480 2720h32M516 2720h4M484 2724h40M528 2724h8M540 2724h4M484 2728h56M544 2728h8M996 2728h4M1012 2728h8M480 2732h80M988 2732h36M472 2736h4M480 2736h80M968 2736h60M468 2740h92M960 2740h76M464 2744h4M472 2744h92M964 2744h80M476 2748h88M964 2748h84M484 2752h4M492 2752h16M512 2752h8M524 2752h16M544 2752h20M964 2752h4M972 2752h84M556 2756h4M592 2756h4M604 2756h8M972 2756h84M584 2760h28M616 2760h8M980 2760h40M1028 2760h40M580 2764h68M980 2764h48M1032 2764h40M588 2768h68M984 2768h88" stroke="#ff0080"/><path d="M500 1872h40M500 1876h4M520 1876h24M504 1880h36M504 1884h40M504 1888h44M508 1892h4M520 1892h28M512 1896h32M548 1896h4M220 1900h8M232 1900h4M240 1900h4M516 1900h32M212 1904h12M228 1904h16M524 1904h20M196 1908h48M528 1908h4M540 1908h4M772 1908h32M200 1912h48M764 1912h8M784 1912h20M200 1916h48M768 1916h36M200 1920h52M768 1920h36M52 1924h4M68 1924h4M200 1924h48M772 1924h32M1028 1924h12M52 1928h20M204 1928h40M704 1928h4M776 1928h8M788 1928h4M800 1928h4M988 1928h8M52 1932h28M204 1932h40M668 1932h4M692 1932h4M700 1932h16M996 1932h8M52 1936h32M204 1936h40M656 1936h12M672 1936h48M52 1940h36M208 1940h32M660 1940h60M724 1940h4M52 1944h44M100 1944h4M208 1944h28M660 1944h72M56 1948h60M208 1948h20M232 1948h4M668 1948h72M56 1952h64M208 1952h12M224 1952h4M668 1952h4M680 1952h8M700 1952h44M60 1956h56M220 1956h4M336 1956h8M348 1956h8M680 1956h8M692 1956h56M64 1960h52M320 1960h4M328 1960h32M696 1960h56M1040 1960h4M1048 1960h26M60 1964h52M304 1964h8M316 1964h4M324 1964h36M364 1964h4M700 1964h4M712 1964h8M724 1964h8M744 1964h4M752 1964h4M1044 1964h30M64 1968h48M296 1968h4M308 1968h60M704 1968h4M1040 1968h34M68 1972h40M316 1972h56M1032 1972h40M72 1976h40M328 1976h44M1032 1976h12M1056 1976h18M76 1980h4M88 1980h20M332 1980h40M928 1980h36M976 1980h4M1008 1980h4M1024 1980h50M96 1984h12M348 1984h24M920 1984h154M352 1988h12M920 1988h4M928 1988h146M356 1992h4M928 1992h100M1040 1992h4M1052 1992h22M928 1996h96M1028 1996h4M1044 1996h8M1072 1996h2M928 2000h92M932 2004h64M948 2008h64M476 2012h16M948 2012h4M956 2012h48M960 2016h24M988 2016h12M52 2020h20M980 2020h4M988 2020h4M52 2024h28M52 2028h32M52 2032h28M52 2036h24M52 2040h20M52 2044h12M76 2048h8M472 2056h8M520 2060h4M568 2060h8M500 2064h56M564 2064h12M508 2068h12M528 2068h48M512 2072h16M544 2072h36M520 2076h60M524 2080h56M532 2084h8M544 2084h28M544 2088h28M556 2092h12M872 2092h4M556 2096h12M860 2096h8M872 2096h4M880 2096h8M872 2100h20M896 2100h4M140 2104h8M860 2104h36M140 2108h28M856 2108h4M864 2108h32M900 2108h4M144 2112h24M856 2112h48M144 2116h28M860 2116h44M144 2120h32M600 2120h12M860 2120h48M152 2124h28M516 2124h8M600 2124h36M648 2124h8M864 2124h48M152 2128h28M500 2128h4M508 2128h16M584 2128h12M604 2128h56M872 2128h40M92 2132h16M156 2132h20M496 2132h28M572 2132h32M608 2132h48M868 2132h4M876 2132h36M160 2136h20M492 2136h32M576 2136h4M584 2136h72M872 2136h44M164 2140h12M496 2140h28M596 2140h56M884 2140h36M164 2144h4M500 2144h32M536 2144h4M604 2144h48M500 2148h36M544 2148h4M612 2148h36M500 2152h44M548 2152h12M612 2152h36M496 2156h36M540 2156h24M616 2156h28M488 2160h52M544 2160h16M620 2160h24M496 2164h44M544 2164h4M624 2164h16M1064 2164h10M496 2168h4M504 2168h8M520 2168h4M628 2168h4M1056 2168h18M1004 2172h8M1048 2172h26M424 2176h12M1048 2176h26M656 2180h8M1056 2180h18M1060 2184h14M1072 2188h2M136 2196h8M836 2212h8M836 2216h12M996 2216h4M1004 2216h4M824 2220h4M832 2220h16M992 2220h20M820 2224h36M992 2224h24M440 2228h8M816 2228h48M996 2228h24M816 2232h48M1000 2232h20M200 2236h12M824 2236h44M1000 2236h20M1024 2236h4M828 2240h44M1000 2240h20M836 2244h32M1004 2244h8M1016 2244h4M848 2248h4M860 2248h4M664 2260h28M664 2264h32M664 2268h40M1048 2268h8M664 2272h48M1036 2272h20M244 2276h8M672 2276h20M700 2276h16M892 2276h12M908 2276h4M916 2276h4M1024 2276h4M1032 2276h28M240 2280h32M664 2280h28M880 2280h52M1012 2280h4M1020 2280h4M1028 2280h40M240 2284h40M660 2284h28M872 2284h72M1012 2284h56M236 2288h48M664 2288h8M680 2288h4M884 2288h64M1004 2288h68M240 2292h44M664 2292h8M884 2292h84M1000 2292h74M240 2296h44M664 2296h4M888 2296h4M896 2296h64M1004 2296h8M1016 2296h58M240 2300h44M900 2300h20M928 2300h32M1008 2300h4M1016 2300h8M1036 2300h38M240 2304h44M904 2304h4M912 2304h16M936 2304h24M1020 2304h54M244 2308h44M928 2308h12M948 2308h8M1024 2308h50M112 2312h20M244 2312h48M1040 2312h34M248 2316h48M1048 2316h26M252 2320h48M1056 2320h4M1064 2320h8M212 2324h20M252 2324h44M256 2328h8M268 2328h4M276 2328h12M180 2344h8M188 2348h8M492 2368h4M500 2368h4M508 2368h4M492 2372h36M496 2376h4M504 2376h24M612 2376h8M504 2380h32M504 2384h28M512 2388h32M520 2392h4M528 2392h16M524 2396h4M532 2396h4M592 2396h4M604 2396h8M540 2400h4M576 2400h4M584 2400h4M592 2400h32M572 2404h64M640 2404h4M560 2408h84M648 2408h4M564 2412h88M376 2416h20M568 2416h76M568 2420h76M572 2424h68M472 2428h20M572 2428h60M468 2432h24M576 2432h40M620 2432h4M468 2436h40M576 2436h20M600 2436h4M608 2436h8M460 2440h56M576 2440h16M456 2444h64M456 2448h76M328 2452h40M448 2452h80M324 2456h28M444 2456h80M320 2460h52M444 2460h76M328 2464h52M460 2464h8M472 2464h40M648 2464h16M336 2468h48M476 2468h4M484 2468h16M340 2472h44M856 2472h8M348 2476h4M356 2476h28M852 2476h4M860 2476h12M352 2480h28M856 2480h16M876 2480h4M884 2480h4M364 2484h16M852 2484h40M852 2488h28M888 2488h16M852 2492h60M852 2496h72M616 2500h36M656 2500h4M664 2500h4M868 2500h64M52 2504h16M252 2504h8M612 2504h60M872 2504h4M880 2504h44M52 2508h20M240 2508h20M264 2508h8M352 2508h16M612 2508h48M892 2508h24M52 2512h16M100 2512h12M236 2512h36M356 2512h16M508 2512h4M612 2512h68M896 2512h12M52 2516h20M232 2516h44M352 2516h32M504 2516h24M612 2516h60M52 2520h12M236 2520h44M356 2520h32M492 2520h40M616 2520h72M52 2524h16M232 2524h48M352 2524h44M496 2524h32M616 2524h72M52 2528h16M236 2528h8M256 2528h24M356 2528h44M504 2528h48M620 2528h56M52 2532h12M252 2532h4M356 2532h48M508 2532h48M560 2532h4M624 2532h48M52 2536h8M356 2536h48M512 2536h56M632 2536h4M640 2536h12M660 2536h4M364 2540h4M372 2540h28M508 2540h64M576 2540h4M372 2544h4M516 2544h60M520 2548h16M556 2548h28M436 2552h16M520 2552h60M520 2556h52M244 2560h8M520 2560h44M1024 2560h20M240 2564h8M252 2564h4M528 2564h32M1016 2564h28M144 2568h4M152 2568h4M232 2568h20M532 2568h20M1008 2568h36M132 2572h36M228 2572h32M540 2572h8M692 2572h4M700 2572h16M996 2572h56M128 2576h40M228 2576h28M260 2576h4M684 2576h32M720 2576h4M996 2576h56M1060 2576h4M124 2580h52M224 2580h40M680 2580h56M992 2580h68M116 2584h64M224 2584h44M684 2584h64M992 2584h72M112 2588h64M228 2588h4M236 2588h36M688 2588h64M996 2588h68M112 2592h60M232 2592h8M244 2592h32M700 2592h48M996 2592h12M1020 2592h44M120 2596h52M248 2596h28M708 2596h36M996 2596h24M1024 2596h48M140 2600h4M152 2600h12M168 2600h4M256 2600h4M264 2600h4M272 2600h8M720 2600h4M728 2600h20M1000 2600h4M1028 2600h4M1044 2600h28M272 2604h12M732 2604h4M1052 2604h4M948 2608h8M1052 2608h4M904 2644h4M896 2648h12M896 2652h16M896 2656h20M896 2660h32M156 2664h20M888 2664h48M892 2668h56M896 2672h40M940 2672h4M904 2676h20M928 2676h4M908 2680h12M436 2684h8M908 2684h4M920 2684h4M1040 2684h4M444 2688h8M1016 2688h4M1024 2688h24M452 2692h4M1012 2692h36M1008 2696h4M1020 2696h32M1004 2700h16M1024 2700h28M1008 2704h48M1008 2708h52M352 2712h4M1012 2712h52M340 2716h24M1012 2716h48M324 2720h52M380 2720h4M1012 2720h48M320 2724h60M384 2724h4M1012 2724h12M1028 2724h8M320 2728h80M324 2732h80M324 2736h4M332 2736h88M332 2740h8M352 2740h72M340 2744h88M344 2748h64M416 2748h12M676 2748h12M692 2748h4M344 2752h72M428 2752h4M668 2752h40M356 2756h68M428 2756h4M668 2756h48M352 2760h28M388 2760h44M668 2760h52M356 2764h68M668 2764h52M360 2768h64M664 2768h52M980 2768h4" stroke="#e6194b"/><path d="M328 1872h32M1032 1872h36M176 1876h4M188 1876h4M204 1876h8M224 1876h16M332 1876h28M1036 1876h38M172 1880h68M348 1880h8M360 1880h4M1024 1880h44M168 1884h72M356 1884h12M1020 1884h54M168 1888h36M212 1888h28M1020 1888h54M168 1892h68M512 1892h8M1008 1892h4M1020 1892h54M52 1896h8M172 1896h68M416 1896h28M1024 1896h4M1032 1896h42M52 1900h8M64 1900h4M180 1900h40M228 1900h4M236 1900h4M420 1900h32M1040 1900h34M52 1904h16M192 1904h20M224 1904h4M416 1904h44M1048 1904h26M52 1908h16M420 1908h44M880 1908h4M1064 1908h10M52 1912h20M428 1912h36M872 1912h4M52 1916h28M428 1916h36M848 1916h4M860 1916h32M896 1916h4M52 1920h20M432 1920h32M844 1920h56M56 1924h12M432 1924h16M456 1924h8M844 1924h64M848 1928h56M244 1932h4M252 1932h4M844 1932h68M248 1936h24M548 1936h8M840 1936h76M240 1940h48M540 1940h24M836 1940h88M236 1944h48M536 1944h28M840 1944h76M236 1948h60M540 1948h12M844 1948h68M236 1952h60M540 1952h16M848 1952h68M236 1956h56M536 1956h8M844 1956h64M256 1960h32M540 1960h4M864 1960h48M264 1964h12M280 1964h8M880 1964h16M900 1964h4M896 1968h4M904 1968h4M480 1988h4M492 1988h16M228 1992h4M324 1992h4M476 1992h48M216 1996h20M308 1996h16M480 1996h4M492 1996h36M212 2000h32M308 2000h24M336 2000h8M480 2000h60M636 2000h8M200 2004h4M212 2004h36M308 2004h40M476 2004h64M644 2004h4M224 2008h20M308 2008h44M480 2008h60M200 2012h44M308 2012h4M320 2012h32M492 2012h48M200 2016h48M324 2016h4M332 2016h4M344 2016h16M476 2016h60M540 2016h4M208 2020h40M472 2020h68M920 2020h8M216 2024h28M480 2024h60M928 2024h8M224 2028h4M232 2028h8M488 2028h56M492 2032h52M492 2036h24M520 2036h8M492 2040h28M500 2044h8M916 2044h4M52 2048h8M916 2048h12M936 2048h4M52 2052h8M916 2052h36M52 2056h4M60 2056h4M908 2056h48M52 2060h8M908 2060h56M760 2064h4M772 2064h4M904 2064h64M752 2068h52M904 2068h64M752 2072h56M904 2072h60M764 2076h52M908 2076h56M284 2080h8M772 2080h48M904 2080h56M292 2084h8M780 2084h4M788 2084h32M916 2084h4M928 2084h12M948 2084h12M800 2088h20M928 2088h8M952 2088h4M120 2096h8M88 2100h4M360 2100h16M84 2104h16M348 2104h28M72 2108h4M80 2108h24M344 2108h44M76 2112h28M336 2112h56M76 2116h24M336 2116h72M76 2120h32M328 2120h4M336 2120h76M76 2124h32M332 2124h8M352 2124h4M376 2124h8M396 2124h20M76 2128h32M336 2128h8M348 2128h68M76 2132h16M344 2132h8M356 2132h60M84 2136h4M104 2136h4M360 2136h48M88 2140h12M352 2140h12M372 2140h4M380 2140h28M676 2140h16M388 2144h4M896 2144h4M920 2144h4M396 2148h4M892 2148h44M888 2152h52M644 2156h12M892 2156h52M888 2160h52M888 2164h52M884 2168h52M884 2172h56M888 2176h48M636 2180h4M896 2180h4M904 2180h24M940 2180h4M112 2184h4M632 2184h12M908 2184h8M112 2188h28M144 2188h12M160 2188h12M620 2188h28M108 2192h68M612 2192h40M108 2196h28M144 2196h36M616 2196h40M112 2200h72M620 2200h40M120 2204h64M616 2204h48M128 2208h32M164 2208h24M620 2208h48M136 2212h24M172 2212h16M620 2212h52M148 2216h4M184 2216h4M624 2216h48M976 2216h8M988 2216h4M268 2220h12M284 2220h4M292 2220h8M628 2220h32M960 2220h32M248 2224h56M628 2224h8M640 2224h4M956 2224h36M244 2228h64M960 2228h36M240 2232h68M968 2232h32M236 2236h4M244 2236h32M284 2236h28M972 2236h28M236 2240h4M248 2240h68M980 2240h20M236 2244h12M256 2244h68M984 2244h4M992 2244h12M240 2248h16M260 2248h68M244 2252h88M248 2256h84M340 2256h4M248 2260h100M252 2264h36M304 2264h48M248 2268h76M332 2268h20M248 2272h44M300 2272h48M252 2276h16M288 2276h24M320 2276h24M272 2280h16M292 2280h4M820 2308h12M748 2316h4M1072 2320h2M748 2324h4M1072 2324h2M748 2328h4M756 2328h8M1072 2328h2M748 2332h28M744 2336h52M748 2340h44M796 2340h4M748 2344h52M864 2344h4M748 2348h56M860 2348h16M880 2348h4M368 2352h8M744 2352h16M768 2352h36M860 2352h24M60 2356h8M176 2356h4M184 2356h8M200 2356h4M744 2356h64M852 2356h40M52 2360h4M176 2360h40M744 2360h60M856 2360h44M904 2360h4M52 2364h8M176 2364h44M744 2364h52M856 2364h8M872 2364h36M52 2368h12M180 2368h44M744 2368h40M788 2368h4M860 2368h60M52 2372h16M176 2372h56M744 2372h20M872 2372h36M912 2372h4M52 2376h20M176 2376h56M748 2376h16M876 2376h4M900 2376h12M52 2380h28M180 2380h60M52 2384h32M180 2384h40M52 2388h4M72 2388h8M184 2388h28M216 2388h4M188 2392h8M200 2392h4M116 2404h24M876 2404h8M124 2408h32M164 2408h4M888 2408h4M896 2408h4M120 2412h44M168 2412h4M884 2412h28M116 2416h60M884 2416h40M52 2420h16M116 2420h60M880 2420h56M52 2424h32M116 2424h32M156 2424h24M880 2424h56M52 2428h36M128 2428h8M140 2428h4M148 2428h4M160 2428h8M172 2428h12M880 2428h60M52 2432h40M168 2432h4M180 2432h4M884 2432h60M952 2432h4M52 2436h36M888 2436h68M52 2440h40M192 2440h32M896 2440h56M52 2444h40M188 2444h16M212 2444h20M900 2444h4M908 2444h12M924 2444h4M932 2444h4M52 2448h40M184 2448h28M220 2448h12M52 2452h20M76 2452h4M84 2452h8M184 2452h36M224 2452h16M56 2456h8M176 2456h60M240 2456h4M808 2456h4M820 2456h4M176 2460h72M792 2460h44M176 2464h64M772 2464h72M184 2468h52M772 2468h80M192 2472h36M772 2472h4M780 2472h76M204 2476h16M780 2476h52M840 2476h12M856 2476h4M212 2480h4M776 2480h64M848 2480h8M776 2484h76M772 2488h80M772 2492h80M776 2496h48M832 2496h8M844 2496h4M784 2500h4M796 2500h32M840 2500h4M804 2504h24M504 2508h8M808 2508h8M512 2512h8M1004 2512h8M1012 2516h8M996 2520h4M996 2524h4M748 2528h12M772 2528h4M988 2528h24M416 2532h4M444 2532h4M744 2532h28M780 2532h4M988 2532h28M404 2536h12M420 2536h12M436 2536h4M444 2536h4M740 2536h40M788 2536h4M988 2536h36M400 2540h48M732 2540h60M980 2540h44M208 2544h4M216 2544h4M400 2544h56M736 2544h64M976 2544h52M204 2548h28M408 2548h48M740 2548h60M972 2548h56M200 2552h44M412 2552h4M420 2552h16M452 2552h12M756 2552h4M780 2552h8M796 2552h4M964 2552h4M972 2552h60M196 2556h48M432 2556h4M444 2556h24M960 2556h4M968 2556h68M200 2560h44M440 2560h4M448 2560h8M460 2560h4M468 2560h4M972 2560h52M196 2564h8M208 2564h32M476 2564h4M512 2564h4M520 2564h8M980 2564h36M216 2568h16M492 2568h4M500 2568h4M508 2568h24M992 2568h16M480 2572h60M476 2576h76M476 2580h72M672 2580h8M480 2584h20M512 2584h28M544 2584h4M672 2584h12M480 2588h60M672 2588h16M476 2592h60M672 2592h28M116 2596h4M476 2596h56M672 2596h36M116 2600h24M144 2600h8M164 2600h4M472 2600h36M512 2600h8M584 2600h16M672 2600h48M724 2600h4M124 2604h52M488 2604h16M584 2604h24M612 2604h4M668 2604h4M680 2604h52M736 2604h8M128 2608h52M584 2608h40M672 2608h4M684 2608h64M136 2612h48M576 2612h48M628 2612h8M684 2612h64M136 2616h40M576 2616h68M688 2616h60M144 2620h32M572 2620h68M692 2620h56M820 2620h16M144 2624h32M572 2624h76M696 2624h56M148 2628h28M572 2628h80M700 2628h52M156 2632h24M576 2632h24M616 2632h8M632 2632h24M704 2632h48M176 2636h4M576 2636h68M652 2636h4M704 2636h52M576 2640h68M708 2640h48M572 2644h68M712 2644h20M736 2644h16M580 2648h16M604 2648h16M736 2648h8M580 2652h32M592 2656h4M600 2656h8M156 2684h8M428 2684h8M160 2688h20M416 2688h4M424 2688h16M152 2692h52M412 2692h32M156 2696h40M412 2696h36M604 2696h20M156 2700h40M408 2700h44M592 2700h32M136 2704h8M156 2704h36M412 2704h44M592 2704h40M144 2708h8M156 2708h32M408 2708h52M588 2708h56M732 2708h4M748 2708h4M160 2712h24M404 2712h52M584 2712h60M728 2712h24M164 2716h20M404 2716h40M584 2716h52M700 2716h4M712 2716h44M168 2720h8M404 2720h40M592 2720h44M692 2720h64M176 2724h4M396 2724h44M608 2724h12M628 2724h4M684 2724h72M400 2728h32M616 2728h4M680 2728h80M52 2732h12M404 2732h32M688 2732h72M52 2736h16M420 2736h16M684 2736h80M52 2740h20M80 2740h4M424 2740h12M684 2740h72M52 2744h28M688 2744h68M52 2748h24M688 2748h4M696 2748h56M52 2752h28M708 2752h44M52 2756h16M72 2756h4M716 2756h36M52 2760h12M720 2760h4M728 2760h20M52 2764h4M60 2764h4M744 2764h4M828 2764h8M52 2768h4M824 2768h12M840 2768h20" stroke="#ff8000"/><path d="M260 1872h4M268 1872h4M748 1872h32M244 1876h4M252 1876h24M740 1876h40M240 1880h40M748 1880h36M240 1884h44M748 1884h36M240 1888h48M752 1888h36M236 1892h60M756 1892h36M240 1896h60M304 1896h4M760 1896h32M244 1900h60M308 1900h4M760 1900h32M244 1904h68M768 1904h24M244 1908h4M252 1908h4M260 1908h60M768 1908h4M976 1908h8M132 1912h4M260 1912h52M316 1912h4M972 1912h12M124 1916h20M288 1916h12M304 1916h8M968 1916h28M116 1920h24M972 1920h28M112 1924h40M968 1924h44M116 1928h44M784 1928h4M792 1928h8M808 1928h8M960 1928h28M996 1928h28M116 1932h48M780 1932h32M960 1932h36M1004 1932h16M124 1936h48M780 1936h48M960 1936h68M128 1940h44M784 1940h52M956 1940h76M128 1944h8M148 1944h4M160 1944h4M432 1944h8M788 1944h52M952 1944h4M960 1944h76M440 1948h4M784 1948h48M840 1948h4M960 1948h80M792 1952h48M972 1952h68M800 1956h44M980 1956h60M796 1960h40M984 1960h4M992 1960h48M1044 1960h4M808 1964h4M820 1964h8M1004 1964h40M800 1968h16M820 1968h4M1008 1968h32M1012 1972h20M1024 1976h8M600 1996h4M580 2000h40M148 2004h4M556 2004h64M624 2004h4M132 2008h4M140 2008h4M148 2008h24M564 2008h64M132 2012h24M164 2012h4M172 2012h12M188 2012h12M560 2012h76M132 2016h32M168 2016h32M564 2016h84M128 2020h8M140 2020h44M192 2020h16M372 2020h16M568 2020h80M144 2024h72M576 2024h68M148 2028h76M228 2028h4M580 2028h60M756 2028h4M764 2028h4M164 2032h68M584 2032h56M724 2032h8M748 2032h12M764 2032h12M808 2032h12M168 2036h40M216 2036h16M592 2036h44M732 2036h8M756 2036h28M168 2040h48M220 2040h16M596 2040h40M740 2040h4M752 2040h44M176 2044h52M232 2044h4M448 2044h20M600 2044h32M756 2044h40M800 2044h8M176 2048h52M608 2048h4M616 2048h12M756 2048h52M180 2052h44M612 2052h8M756 2052h60M176 2056h44M752 2056h64M176 2060h32M760 2060h56M180 2064h32M644 2064h4M652 2064h4M756 2064h4M764 2064h8M776 2064h40M180 2068h24M640 2068h24M804 2068h8M1064 2068h8M196 2072h4M420 2072h4M432 2072h4M644 2072h32M1040 2072h12M1056 2072h18M224 2076h4M412 2076h36M648 2076h44M1036 2076h38M216 2080h8M228 2080h8M240 2080h8M396 2080h64M648 2080h60M1016 2080h58M212 2084h36M252 2084h8M404 2084h52M464 2084h4M652 2084h56M1020 2084h54M208 2088h56M408 2088h48M464 2088h12M652 2088h60M1020 2088h54M216 2092h48M408 2092h44M656 2092h56M1020 2092h54M216 2096h48M416 2096h20M440 2096h4M656 2096h56M1020 2096h54M212 2100h4M220 2100h52M432 2100h4M568 2100h4M656 2100h52M1040 2100h34M220 2104h56M560 2104h16M584 2104h8M656 2104h4M664 2104h48M1044 2104h30M228 2108h48M560 2108h36M660 2108h52M904 2108h20M1068 2108h6M228 2112h52M552 2112h44M660 2112h48M904 2112h24M236 2116h8M248 2116h28M280 2116h4M556 2116h48M656 2116h52M904 2116h28M552 2120h48M664 2120h40M708 2120h4M908 2120h20M552 2124h48M664 2124h8M676 2124h32M912 2124h8M320 2128h4M328 2128h8M344 2128h4M560 2128h24M696 2128h12M324 2132h20M352 2132h4M568 2132h4M324 2136h36M328 2140h24M364 2140h8M324 2144h56M328 2148h16M360 2148h24M332 2152h48M332 2156h48M336 2160h40M352 2164h16M848 2180h8M928 2180h12M856 2184h8M916 2184h12M864 2188h4M912 2188h40M912 2192h36M924 2196h24M916 2200h4M288 2208h16M188 2212h4M188 2216h28M224 2216h8M184 2220h48M236 2220h12M184 2224h64M736 2224h4M188 2228h56M732 2228h16M752 2228h8M188 2232h52M708 2232h24M736 2232h28M768 2232h4M188 2236h12M212 2236h24M240 2236h4M708 2236h60M944 2236h8M52 2240h4M60 2240h16M80 2240h4M92 2240h4M196 2240h40M436 2240h8M724 2240h48M952 2240h8M52 2244h44M196 2244h16M220 2244h4M716 2244h52M52 2248h48M716 2248h4M724 2248h48M52 2252h48M736 2252h32M52 2256h52M744 2256h24M52 2260h48M748 2260h16M52 2264h44M748 2264h12M52 2268h44M612 2268h8M64 2272h28M592 2272h4M600 2272h16M64 2276h24M584 2276h4M592 2276h28M624 2276h4M632 2276h4M64 2280h8M76 2280h4M584 2280h56M644 2280h4M580 2284h4M588 2284h60M352 2288h16M592 2288h8M604 2288h56M352 2292h12M368 2292h4M600 2292h64M348 2296h20M608 2296h56M668 2296h8M344 2300h32M616 2300h56M340 2304h4M348 2304h28M620 2304h56M344 2308h40M624 2308h52M1000 2308h8M348 2312h40M628 2312h40M1008 2312h8M356 2316h32M632 2316h32M360 2320h32M636 2320h24M380 2324h12M636 2324h16M656 2324h4M380 2328h4M388 2328h8M640 2328h12M388 2332h8M640 2332h8M860 2372h12M744 2376h4M856 2376h20M880 2376h20M748 2380h4M852 2380h12M872 2380h32M848 2384h24M876 2384h16M704 2388h4M844 2388h4M852 2388h36M688 2392h48M740 2392h4M844 2392h40M676 2396h4M688 2396h60M848 2396h36M672 2400h80M864 2400h20M672 2404h80M392 2408h8M668 2408h88M668 2412h84M676 2416h4M684 2416h68M692 2420h12M708 2420h36M748 2420h4M716 2424h4M736 2424h16M744 2428h16M744 2432h28M748 2436h32M748 2440h40M752 2444h44M756 2448h40M800 2448h4M752 2452h56M756 2456h32M764 2460h4M772 2460h20M400 2468h8M420 2468h4M428 2468h8M388 2472h48M384 2476h52M380 2480h56M380 2484h52M380 2488h52M388 2492h40M400 2496h16M540 2504h4M552 2504h8M568 2504h44M120 2508h12M524 2508h88M116 2512h28M148 2512h8M520 2512h8M536 2512h76M120 2516h52M528 2516h84M116 2520h72M192 2520h4M532 2520h84M120 2524h92M220 2524h4M548 2524h56M608 2524h8M124 2528h96M552 2528h32M608 2528h4M616 2528h4M136 2532h84M556 2532h4M564 2532h16M140 2536h88M568 2536h8M144 2540h88M52 2544h4M148 2544h60M212 2544h4M220 2544h12M52 2548h4M156 2548h48M164 2552h36M168 2556h28M168 2560h12M184 2560h4M176 2564h4M272 2564h12M1072 2564h2M168 2576h12M332 2576h8M340 2580h4M408 2588h8M420 2588h8M76 2592h12M92 2592h4M400 2592h40M56 2596h4M68 2596h48M400 2596h40M60 2600h56M400 2600h52M60 2604h56M396 2604h52M60 2608h48M396 2608h56M64 2612h48M396 2612h56M76 2616h36M400 2616h48M76 2620h28M404 2620h4M412 2620h40M84 2624h12M100 2624h4M412 2624h36M416 2628h28M424 2632h4M432 2632h16M436 2636h8M972 2644h4M984 2644h12M960 2648h40M952 2652h44M956 2656h36M968 2660h20M872 2664h16M116 2668h4M124 2668h8M616 2668h8M868 2668h24M116 2672h16M624 2672h8M868 2672h28M124 2676h20M868 2676h36M120 2680h24M872 2680h32M124 2684h32M876 2684h4M888 2684h8M932 2684h8M128 2688h32M940 2688h8M132 2692h20M140 2696h16M140 2700h16M232 2700h4M240 2700h8M52 2704h4M148 2704h8M228 2704h32M52 2708h12M224 2708h4M232 2708h28M932 2708h8M52 2712h12M224 2712h40M52 2716h28M224 2716h52M52 2720h28M224 2720h64M52 2724h32M220 2724h72M52 2728h28M208 2728h4M216 2728h88M64 2732h12M200 2732h4M212 2732h104M68 2736h8M196 2736h112M72 2740h4M200 2740h100M196 2744h108M208 2748h88M212 2752h48M264 2752h12M212 2756h44M216 2760h20M240 2760h4M724 2760h4M720 2764h24M748 2764h4M656 2768h8M716 2768h40" stroke="#e8560c"/><path d="M360 1872h36M696 1872h4M360 1876h28M688 1876h12M704 1876h4M356 1880h4M364 1880h20M688 1880h24M716 1880h32M52 1884h4M368 1884h4M688 1884h60M684 1888h68M56 1892h4M680 1892h76M692 1896h4M700 1896h4M708 1896h52M736 1900h24M756 1904h12M536 1908h4M544 1908h12M764 1908h4M540 1912h48M1056 1912h4M1064 1912h10M544 1916h40M1052 1916h22M544 1920h52M628 1920h8M1044 1920h30M548 1924h48M1040 1924h34M548 1928h44M1032 1928h42M552 1932h40M812 1932h8M1024 1932h50M556 1936h36M1028 1936h46M360 1940h4M568 1940h20M1032 1940h42M352 1944h12M368 1944h4M1036 1944h38M356 1948h16M380 1948h4M1040 1948h34M356 1952h32M396 1952h4M1040 1952h4M1056 1952h18M356 1956h52M1040 1956h34M360 1960h4M372 1960h36M360 1964h4M368 1964h4M380 1964h24M368 1968h32M376 1972h4M388 1972h4M84 1988h12M724 1996h8M96 2024h16M852 2024h8M652 2036h16M896 2060h12M344 2064h16M340 2068h24M336 2072h32M336 2076h40M888 2076h4M904 2076h4M96 2080h4M104 2080h16M124 2080h20M328 2080h52M896 2080h8M92 2084h48M328 2084h44M880 2084h36M920 2084h8M92 2088h52M328 2088h48M876 2088h52M92 2092h52M332 2092h40M816 2092h4M876 2092h48M84 2096h36M128 2096h12M340 2096h28M800 2096h4M808 2096h12M876 2096h4M888 2096h36M92 2100h12M108 2100h28M140 2100h4M344 2100h4M352 2100h8M788 2100h4M796 2100h24M892 2100h4M900 2100h28M128 2104h4M792 2104h32M896 2104h28M788 2108h40M896 2108h4M224 2112h4M760 2112h8M792 2112h36M228 2116h8M244 2116h4M276 2116h4M284 2116h4M788 2116h24M220 2120h72M520 2120h4M792 2120h8M220 2124h88M524 2124h24M220 2128h84M308 2128h12M524 2128h36M228 2132h76M524 2132h44M744 2132h4M756 2132h16M784 2132h8M232 2136h64M524 2136h40M736 2136h12M752 2136h40M240 2140h52M524 2140h40M736 2140h72M244 2144h36M532 2144h4M540 2144h24M732 2144h76M252 2148h24M536 2148h8M548 2148h16M732 2148h80M544 2152h4M560 2152h4M744 2152h76M748 2156h76M756 2160h72M472 2164h8M540 2164h4M548 2164h24M760 2164h4M768 2164h64M500 2168h4M512 2168h8M524 2168h48M776 2168h56M496 2172h80M772 2172h4M780 2172h52M500 2176h80M780 2176h52M240 2180h12M504 2180h76M780 2180h44M504 2184h36M548 2184h28M580 2184h4M788 2184h32M508 2188h64M792 2188h28M512 2192h60M796 2192h4M516 2196h60M520 2200h48M524 2204h32M564 2204h4M528 2208h36M528 2212h24M80 2216h8M544 2216h4M72 2220h20M72 2224h28M424 2224h8M72 2228h32M76 2232h28M80 2236h28M84 2240h8M96 2240h4M96 2244h4M1056 2244h16M472 2260h12M72 2280h4M80 2280h12M56 2284h40M100 2284h4M52 2288h56M52 2292h60M52 2296h60M52 2300h68M408 2300h16M52 2304h72M52 2308h72M52 2312h60M52 2316h12M72 2316h60M60 2320h12M80 2320h32M116 2320h4M444 2320h8M64 2324h4M76 2324h4M84 2324h12M100 2324h4M180 2324h4M296 2324h24M428 2324h4M436 2324h40M88 2328h4M96 2328h4M180 2328h8M292 2328h12M312 2328h16M416 2328h12M432 2328h52M540 2328h8M184 2332h4M192 2332h8M220 2332h4M296 2332h36M404 2332h92M548 2332h4M184 2336h48M296 2336h44M392 2336h4M404 2336h96M852 2336h20M184 2340h44M300 2340h56M396 2340h104M188 2344h40M308 2344h60M392 2344h108M180 2348h8M196 2348h20M308 2348h76M388 2348h112M176 2352h40M312 2352h56M376 2352h8M392 2352h104M172 2356h4M180 2356h4M192 2356h8M204 2356h8M312 2356h180M808 2356h12M836 2356h4M844 2356h8M316 2360h68M396 2360h96M804 2360h52M936 2360h4M948 2360h4M324 2364h20M348 2364h8M392 2364h104M796 2364h60M932 2364h28M328 2368h4M336 2368h8M404 2368h84M784 2368h4M792 2368h68M928 2368h32M984 2368h8M400 2372h4M412 2372h4M428 2372h4M444 2372h36M764 2372h96M924 2372h76M1004 2372h4M456 2376h4M764 2376h92M928 2376h80M764 2380h4M772 2380h16M808 2380h44M940 2380h76M772 2384h4M780 2384h68M948 2384h72M796 2388h4M804 2388h40M848 2388h4M948 2388h64M408 2392h4M804 2392h40M956 2392h76M400 2396h24M432 2396h4M964 2396h60M392 2400h44M976 2400h32M388 2404h52M988 2404h8M384 2408h8M400 2408h48M380 2412h68M396 2416h56M456 2416h4M396 2420h68M404 2424h64M472 2424h4M408 2428h64M412 2432h56M412 2436h4M420 2436h48M420 2440h40M436 2444h20M904 2444h4M920 2444h4M928 2444h4M936 2444h16M432 2448h24M904 2448h52M72 2452h4M80 2452h4M92 2452h4M376 2452h8M432 2452h16M900 2452h60M52 2456h4M64 2456h44M900 2456h20M928 2456h36M52 2460h52M108 2460h4M892 2460h36M936 2460h32M52 2464h60M908 2464h28M940 2464h40M56 2468h4M64 2468h44M316 2468h20M912 2468h64M980 2468h4M76 2472h4M88 2472h24M920 2472h60M100 2476h4M928 2476h40M980 2476h4M932 2480h56M936 2484h56M948 2488h40M956 2492h32M128 2496h8M416 2496h12M972 2496h8M136 2500h4M404 2500h24M976 2500h8M408 2504h28M408 2508h32M412 2512h36M412 2516h40M424 2520h4M688 2524h12M676 2528h28M904 2528h8M932 2528h4M672 2532h40M912 2532h24M940 2532h8M628 2536h4M636 2536h4M652 2536h8M664 2536h48M716 2536h8M912 2536h36M368 2540h4M628 2540h96M916 2540h32M368 2544h4M376 2544h24M628 2544h88M916 2544h36M368 2548h40M624 2548h88M924 2548h4M932 2548h24M368 2552h44M628 2552h80M372 2556h36M632 2556h60M700 2556h8M372 2560h40M644 2560h56M372 2564h36M412 2564h4M656 2564h44M380 2568h36M656 2568h44M384 2572h32M664 2572h28M696 2572h4M388 2576h28M676 2576h8M392 2580h24M1072 2580h2M400 2584h16M1064 2584h10M404 2588h4M1064 2588h10M52 2592h4M1064 2592h10M52 2596h4M1072 2596h2M52 2600h8M228 2600h12M52 2604h8M52 2608h8M472 2616h16M600 2632h16M1000 2648h4M996 2652h24M588 2656h4M596 2656h4M992 2656h48M240 2660h8M592 2660h16M988 2660h52M1044 2660h4M96 2664h4M104 2664h4M240 2664h16M596 2664h20M984 2664h64M88 2668h28M240 2668h28M596 2668h20M628 2668h4M992 2668h60M68 2672h48M240 2672h32M592 2672h32M632 2672h4M996 2672h60M68 2676h4M76 2676h48M236 2676h40M600 2676h40M644 2676h4M1000 2676h60M84 2680h36M236 2680h48M604 2680h16M640 2680h20M1008 2680h48M84 2684h40M232 2684h56M604 2684h60M1008 2684h32M1044 2684h4M92 2688h36M232 2688h60M296 2688h4M464 2688h12M604 2688h52M660 2688h4M1012 2688h4M1020 2688h4M92 2692h4M100 2692h32M228 2692h68M400 2692h8M608 2692h52M100 2696h40M232 2696h72M624 2696h28M104 2700h36M228 2700h4M236 2700h4M248 2700h32M284 2700h4M300 2700h4M624 2700h28M108 2704h28M144 2704h4M264 2704h4M488 2704h8M640 2704h8M116 2708h4M124 2708h20M152 2708h4M496 2708h8M644 2708h4M136 2712h4M144 2712h16M148 2716h4M156 2716h8M872 2724h8M884 2724h8M872 2728h20M868 2732h28M868 2736h36M864 2740h40M872 2744h28M868 2748h32M488 2752h4M508 2752h4M520 2752h4M540 2752h4M568 2752h4M872 2752h24M492 2756h64M560 2756h8M880 2756h4M496 2760h80M504 2764h76M500 2768h84" stroke="#0000ff"/><path d="M88 1876h4M80 1880h4M92 1880h8M88 1884h16M92 1888h24M92 1892h28M664 1892h4M100 1896h24M648 1896h44M104 1900h24M640 1900h56M108 1904h8M120 1904h12M636 1904h64M128 1908h4M636 1908h64M636 1912h68M708 1912h4M640 1916h72M644 1920h68M448 1924h8M464 1924h4M644 1924h64M428 1928h52M648 1928h56M432 1932h48M656 1932h12M672 1932h20M696 1932h4M432 1936h48M668 1936h4M428 1940h48M428 1944h4M440 1944h36M428 1948h12M444 1948h28M436 1952h20M964 1952h8M436 1956h8M960 1956h20M964 1960h20M988 1960h4M616 1964h8M956 1964h48M472 1968h8M952 1968h56M948 1972h64M944 1976h8M968 1976h56M964 1980h12M980 1980h28M1012 1980h12M456 1984h4M440 1988h4M452 1988h4M468 1988h4M424 1992h52M804 1992h4M812 1992h8M152 1996h20M420 1996h60M800 1996h20M420 2000h60M796 2000h32M420 2004h56M796 2004h52M1060 2004h4M416 2008h64M816 2008h36M1056 2008h16M420 2012h56M804 2012h4M812 2012h44M1056 2012h18M416 2016h60M808 2016h56M1056 2016h18M412 2020h40M456 2020h8M468 2020h4M812 2020h60M1060 2020h14M424 2024h12M440 2024h4M448 2024h4M812 2024h4M820 2024h32M860 2024h12M1064 2024h10M820 2028h56M960 2028h20M1036 2028h20M1068 2028h6M820 2032h60M1072 2032h2M816 2036h48M868 2036h16M816 2040h24M844 2040h4M812 2044h28M288 2048h8M304 2048h4M808 2048h8M820 2048h12M292 2052h16M312 2052h8M288 2056h28M320 2056h8M336 2056h4M288 2060h60M284 2064h4M292 2064h52M116 2068h8M288 2068h52M520 2068h8M124 2072h4M296 2072h40M528 2072h8M304 2076h32M316 2080h12M416 2124h12M416 2128h12M416 2132h52M88 2136h16M408 2136h56M408 2140h60M400 2144h68M404 2148h64M412 2152h60M940 2152h4M428 2156h48M948 2156h8M960 2156h4M432 2160h52M940 2160h28M436 2164h36M480 2164h8M860 2164h8M940 2164h28M52 2168h8M444 2168h16M464 2168h20M868 2168h8M936 2168h40M52 2172h4M876 2172h4M940 2172h36M52 2176h12M936 2176h40M52 2180h8M944 2180h32M56 2184h4M944 2184h36M952 2188h8M964 2188h8M956 2192h4M108 2236h12M124 2236h8M100 2240h36M140 2240h4M100 2244h44M148 2244h4M100 2248h52M156 2248h4M164 2248h4M100 2252h64M108 2256h72M768 2256h8M780 2256h24M808 2256h4M128 2260h4M136 2260h48M764 2260h44M816 2260h8M156 2264h28M188 2264h4M760 2264h56M824 2264h4M156 2268h4M168 2268h4M176 2268h4M324 2268h8M744 2268h8M756 2268h68M760 2272h68M756 2276h72M760 2280h68M768 2284h4M800 2284h28M804 2288h8M820 2288h4M676 2308h20M708 2308h4M668 2312h52M724 2312h8M64 2316h8M664 2316h84M72 2320h8M660 2320h88M80 2324h4M652 2324h4M660 2324h88M304 2328h8M652 2328h96M648 2332h100M660 2336h84M816 2336h8M660 2340h4M668 2340h80M676 2344h44M728 2344h20M684 2348h28M720 2348h28M696 2352h8M708 2352h12M728 2352h16M700 2356h8M712 2356h16M732 2356h12M716 2360h8M728 2360h16M736 2364h8M740 2368h4M144 2372h4M740 2372h4M136 2376h12M128 2380h32M164 2380h4M864 2380h8M128 2384h48M872 2384h4M124 2388h60M116 2392h72M120 2396h76M116 2400h4M124 2400h64M140 2404h28M184 2404h4M156 2408h8M168 2408h4M176 2408h4M164 2412h4M172 2412h8M752 2412h8M764 2412h4M752 2416h12M768 2416h12M376 2420h20M744 2420h4M752 2420h28M784 2420h12M800 2420h20M372 2424h32M752 2424h68M844 2424h16M372 2428h36M760 2428h60M376 2432h36M772 2432h52M944 2432h8M380 2436h32M416 2436h4M780 2436h8M796 2436h32M380 2440h40M788 2440h52M384 2444h4M396 2444h8M408 2444h12M796 2444h36M404 2448h4M416 2448h4M424 2448h4M796 2448h4M804 2448h28M808 2452h24M708 2456h4M812 2456h8M824 2456h12M440 2460h4M696 2460h28M728 2460h4M440 2464h20M468 2464h4M592 2464h12M608 2464h32M644 2464h4M684 2464h44M732 2464h12M440 2468h36M480 2468h4M592 2468h52M648 2468h4M656 2468h8M676 2468h68M444 2472h52M596 2472h72M672 2472h72M448 2476h28M484 2476h12M600 2476h148M456 2480h28M492 2480h8M600 2480h148M752 2480h4M456 2484h52M604 2484h76M692 2484h60M460 2488h48M608 2488h68M712 2488h44M464 2492h44M608 2492h64M732 2492h12M756 2492h4M468 2496h44M616 2496h52M472 2500h44M652 2500h4M660 2500h4M484 2504h32M484 2508h4M496 2508h8M512 2508h4M496 2512h12M436 2520h8M444 2524h4M1068 2528h6M1052 2532h22M1024 2536h4M1032 2536h4M1040 2536h34M1024 2540h50M716 2544h20M1028 2544h46M712 2548h28M928 2548h4M1028 2548h46M708 2552h40M920 2552h36M1032 2552h42M708 2556h44M920 2556h40M964 2556h4M1036 2556h38M708 2560h44M912 2560h60M1044 2560h12M1060 2560h14M700 2564h8M712 2564h40M908 2564h72M700 2568h56M912 2568h80M716 2572h40M916 2572h80M716 2576h4M724 2576h32M920 2576h76M736 2580h8M752 2580h8M928 2580h52M748 2584h4M936 2584h4M948 2584h44M456 2588h12M952 2588h4M960 2588h36M828 2592h8M968 2592h28M836 2596h8M972 2596h4M980 2596h16M844 2600h4M984 2600h8M1064 2632h8M1060 2636h14M872 2640h4M1056 2640h18M856 2644h12M888 2644h4M900 2644h4M1060 2644h14M860 2648h4M872 2648h24M1056 2648h18M332 2652h4M660 2652h16M860 2652h12M876 2652h20M1052 2652h22M332 2656h12M864 2656h32M1052 2656h22M868 2660h28M1048 2660h26M332 2664h16M352 2664h4M1048 2664h26M332 2668h28M1052 2668h22M336 2672h28M1056 2672h18M332 2676h44M1060 2676h8M1072 2676h2M336 2680h36M336 2684h36M348 2688h24M344 2692h24M344 2696h20M348 2700h12M348 2704h4M752 2712h4M756 2716h12M780 2716h4M756 2720h24M784 2720h4M864 2720h8M756 2724h40M800 2724h4M760 2728h48M816 2728h4M760 2732h64M120 2736h20M768 2736h56M764 2740h60M776 2744h48M960 2744h4M792 2748h32M944 2748h20M796 2752h4M804 2752h24M932 2752h4M940 2752h24M968 2752h4M808 2756h24M932 2756h40M812 2760h24M936 2760h44M824 2764h4M932 2764h48M424 2768h4M436 2768h4M936 2768h44" stroke="#0080ff"/><path d="M692 1872h4M700 1872h8M716 1872h32M700 1876h4M708 1876h8M724 1876h16M712 1880h4M940 1904h12M956 1904h4M964 1904h8M808 1908h8M912 1908h8M928 1908h4M936 1908h40M804 1912h20M912 1912h60M804 1916h36M900 1916h4M908 1916h60M804 1920h40M900 1920h48M968 1920h4M804 1924h40M908 1924h60M804 1928h4M816 1928h32M904 1928h56M820 1932h24M912 1932h48M480 1936h12M828 1936h12M916 1936h44M476 1940h16M928 1940h28M476 1944h16M472 1948h20M456 1952h36M688 1952h12M1044 1952h12M224 1956h4M444 1956h52M224 1960h32M448 1960h52M228 1964h36M276 1964h4M452 1964h40M500 1964h4M228 1968h64M448 1968h4M456 1968h16M480 1968h20M508 1968h8M224 1972h68M456 1972h52M512 1972h8M224 1976h68M464 1976h52M224 1980h76M468 1980h48M228 1984h72M472 1984h44M232 1988h72M472 1988h8M484 1988h8M508 1988h4M232 1992h72M236 1996h72M248 2000h60M260 2004h48M212 2008h12M276 2008h32M292 2012h4M300 2012h4M868 2052h8M876 2056h8M884 2060h4M452 2064h8M968 2064h4M976 2064h4M460 2068h8M968 2068h12M984 2068h8M156 2072h16M964 2072h36M584 2076h4M964 2076h44M580 2080h16M960 2080h52M272 2084h4M572 2084h28M964 2084h56M264 2088h16M292 2088h4M572 2088h40M968 2088h52M264 2092h28M568 2092h44M976 2092h4M984 2092h36M264 2096h36M568 2096h44M992 2096h8M1004 2096h16M272 2100h28M572 2100h28M996 2100h4M276 2104h8M300 2104h8M576 2104h8M592 2104h4M276 2108h32M496 2108h8M280 2112h8M308 2112h4M504 2112h8M288 2116h28M512 2116h4M292 2120h20M316 2120h4M308 2124h12M384 2124h12M208 2128h12M184 2132h4M192 2132h36M1024 2132h8M1036 2132h4M188 2136h44M1024 2136h20M1048 2136h24M176 2140h64M1024 2140h50M180 2144h28M216 2144h28M1020 2144h54M188 2148h28M224 2148h28M1012 2148h62M192 2152h68M1008 2152h66M200 2156h56M1016 2156h58M216 2160h40M1020 2160h54M220 2164h24M1028 2164h36M1036 2168h20M260 2184h8M404 2184h4M268 2188h4M388 2188h24M380 2192h40M376 2196h20M416 2196h12M372 2200h60M372 2204h64M380 2208h56M396 2212h4M408 2212h12M424 2212h16M716 2224h8M724 2228h8M732 2232h4M980 2244h4M988 2244h4M1012 2244h4M1044 2244h12M976 2248h40M964 2252h60M824 2256h8M840 2256h4M964 2256h68M964 2260h72M964 2264h76M964 2268h84M968 2272h68M380 2276h8M968 2276h56M1028 2276h4M116 2280h8M968 2280h44M1016 2280h4M1024 2280h4M124 2284h8M972 2284h40M132 2288h4M968 2288h36M976 2292h12M180 2296h4M180 2300h28M216 2300h4M180 2304h44M188 2308h4M196 2308h36M236 2308h4M200 2312h44M204 2316h4M212 2316h36M220 2320h32M232 2324h20M228 2328h28M236 2332h12M232 2336h8M84 2360h4M64 2364h8M76 2364h20M64 2368h32M964 2368h20M68 2372h28M72 2376h20M96 2376h4M80 2380h8M88 2384h4M492 2432h8M288 2456h8M300 2456h4M312 2456h4M288 2460h28M292 2464h36M296 2468h20M300 2472h40M304 2476h44M352 2476h4M308 2480h4M316 2480h36M312 2484h52M332 2488h32M336 2492h24M744 2492h12M760 2492h4M768 2492h4M336 2496h4M352 2496h4M744 2496h32M604 2500h12M748 2500h36M788 2500h8M744 2504h60M72 2508h16M744 2508h64M68 2512h32M744 2512h68M72 2516h40M672 2516h20M748 2516h64M64 2520h52M752 2520h56M68 2524h44M748 2524h56M68 2528h40M112 2528h4M760 2528h4M776 2528h4M800 2528h4M64 2532h48M784 2532h16M60 2536h52M784 2536h4M52 2540h56M56 2544h48M64 2548h44M76 2552h28M84 2556h20M292 2560h4M300 2560h4M284 2564h24M312 2564h8M280 2568h48M288 2572h44M292 2576h40M296 2580h44M924 2580h4M304 2584h48M920 2584h16M940 2584h8M308 2588h40M916 2588h36M956 2588h4M308 2592h20M336 2592h8M912 2592h56M308 2596h28M344 2596h4M904 2596h68M976 2596h4M312 2600h40M896 2600h88M312 2604h32M348 2604h4M672 2604h8M900 2604h84M312 2608h48M680 2608h4M900 2608h48M956 2608h28M316 2612h80M904 2612h36M948 2612h8M972 2612h4M52 2616h24M312 2616h8M336 2616h64M52 2620h24M312 2620h92M408 2620h4M52 2624h32M316 2624h96M52 2628h40M312 2628h104M52 2632h40M316 2632h100M52 2636h40M320 2636h84M52 2640h44M324 2640h80M52 2644h48M336 2644h64M732 2644h4M52 2648h44M344 2648h12M360 2648h36M596 2648h8M724 2648h12M52 2652h48M352 2652h4M368 2652h4M376 2652h28M728 2652h16M52 2656h48M388 2656h4M396 2656h8M708 2656h4M716 2656h28M52 2660h52M332 2660h12M708 2660h40M52 2664h44M100 2664h4M696 2664h4M704 2664h48M52 2668h12M68 2668h20M704 2668h52M700 2672h52M700 2676h56M796 2676h8M708 2680h56M904 2680h4M712 2684h48M880 2684h8M896 2684h12M912 2684h8M724 2688h4M732 2688h32M880 2688h48M740 2692h24M884 2692h44M744 2696h20M884 2696h48M884 2700h48M632 2704h8M728 2704h8M884 2704h52M736 2708h8M888 2708h44M888 2712h44M888 2716h48M884 2720h48M936 2720h4M892 2724h4M900 2724h20M924 2724h12M932 2728h4M380 2760h8" stroke="#00ffff"/><path d="M396 1872h56M860 1872h20M884 1872h8M388 1876h72M384 1880h24M420 1880h48M376 1884h92M380 1888h80M400 1892h8M412 1892h44M444 1896h8M164 1908h8M380 1908h12M172 1912h8M376 1912h16M380 1916h20M372 1920h40M420 1920h4M356 1924h4M364 1924h52M348 1928h80M356 1932h76M356 1936h16M384 1936h4M392 1936h40M400 1940h28M408 1944h20M404 1948h8M416 1948h12M656 1948h12M420 1952h4M648 1952h20M672 1952h8M644 1956h36M688 1956h4M640 1960h56M644 1964h56M704 1964h8M648 1968h56M648 1972h64M656 1976h52M712 1976h4M660 1980h56M668 1984h48M660 1988h56M908 1988h4M668 1992h52M884 1992h4M892 1992h20M916 1992h4M636 1996h8M668 1996h48M876 1996h52M644 2000h8M668 2000h44M872 2000h56M652 2004h4M668 2004h44M868 2004h56M928 2004h4M668 2008h24M704 2008h8M796 2008h20M864 2008h48M664 2012h44M864 2012h4M880 2012h4M76 2016h8M692 2016h8M704 2016h4M84 2020h4M680 2020h4M320 2048h8M588 2048h4M604 2048h4M612 2048h4M580 2052h4M588 2052h24M620 2052h16M576 2056h56M636 2056h4M576 2060h4M584 2060h56M576 2064h68M576 2068h64M580 2072h20M608 2072h28M748 2072h4M580 2076h4M588 2076h20M616 2076h16M736 2076h28M596 2080h20M732 2080h40M600 2084h16M740 2084h40M784 2084h4M744 2088h56M748 2092h16M772 2092h44M752 2096h48M804 2096h4M560 2100h8M760 2100h28M792 2100h4M772 2104h20M784 2108h4M428 2128h20M572 2164h44M620 2164h4M460 2168h4M484 2168h12M572 2168h56M632 2168h8M448 2172h48M576 2172h60M452 2176h48M580 2176h60M448 2180h56M580 2180h4M588 2180h48M452 2184h52M540 2184h8M600 2184h32M984 2184h4M452 2188h56M612 2188h8M960 2188h4M972 2188h28M456 2192h56M960 2192h40M448 2196h4M456 2196h60M964 2196h52M452 2200h68M964 2200h56M56 2204h4M452 2204h72M960 2204h68M52 2208h8M452 2208h76M972 2208h48M448 2212h80M976 2212h36M144 2216h4M456 2216h32M492 2216h16M984 2216h4M992 2216h4M1000 2216h4M144 2220h8M460 2220h12M476 2220h4M140 2224h20M460 2224h4M136 2228h44M136 2232h12M168 2232h20M136 2236h52M136 2240h4M144 2240h52M144 2244h4M152 2244h44M708 2244h4M152 2248h4M160 2248h4M168 2248h28M700 2248h16M720 2248h4M164 2252h28M696 2252h32M180 2256h12M688 2256h48M184 2260h8M612 2260h8M692 2260h56M620 2264h8M696 2264h52M704 2268h40M752 2268h4M712 2272h48M496 2276h12M716 2276h40M740 2280h8M752 2280h8M284 2300h8M292 2304h8M300 2308h4M264 2328h4M272 2328h4M288 2328h4M248 2332h48M244 2336h4M252 2336h44M1064 2336h10M252 2340h48M1060 2340h14M252 2344h56M1048 2344h26M252 2348h56M1048 2348h26M260 2352h52M1044 2352h30M260 2356h52M1048 2356h26M264 2360h52M1060 2360h14M272 2364h44M1044 2364h30M272 2368h36M488 2368h4M1048 2368h26M280 2372h4M288 2372h12M480 2372h12M1060 2372h14M468 2376h28M500 2376h4M472 2380h32M752 2380h12M768 2380h4M1064 2380h10M472 2384h32M752 2384h20M776 2384h4M1068 2384h6M476 2388h36M756 2388h40M800 2388h4M476 2392h44M524 2392h4M748 2392h56M476 2396h48M528 2396h4M536 2396h4M748 2396h64M72 2400h8M480 2400h56M752 2400h64M80 2404h8M480 2404h40M752 2404h64M88 2408h4M488 2408h4M496 2408h4M504 2408h4M756 2408h60M760 2412h4M768 2412h48M764 2416h4M780 2416h40M780 2420h4M796 2420h4M88 2424h8M108 2424h4M88 2428h36M92 2432h32M88 2436h40M92 2440h40M300 2440h8M92 2444h40M308 2444h8M92 2448h40M316 2448h4M96 2452h44M108 2456h32M104 2460h4M112 2460h4M120 2460h4M324 2488h8M660 2508h16M964 2516h4M980 2516h8M412 2520h12M428 2520h8M444 2520h12M960 2520h36M404 2524h40M448 2524h8M460 2524h4M956 2524h40M412 2528h40M944 2528h4M952 2528h36M404 2532h4M420 2532h24M448 2532h4M820 2532h16M948 2532h40M432 2536h4M440 2536h4M948 2536h40M948 2540h32M500 2544h8M952 2544h24M508 2548h4M956 2548h16M616 2552h4M956 2552h8M968 2552h4M804 2576h8M800 2580h20M800 2584h24M800 2588h44M800 2592h28M836 2592h12M864 2592h4M876 2592h4M804 2596h32M844 2596h28M876 2596h4M884 2596h4M808 2600h36M848 2600h44M812 2604h88M784 2608h20M820 2608h80M184 2612h8M816 2612h88M176 2616h28M816 2616h92M176 2620h36M216 2620h4M816 2620h4M836 2620h40M880 2620h4M892 2620h16M176 2624h44M824 2624h28M856 2624h4M896 2624h4M176 2628h48M828 2628h16M180 2632h48M844 2632h4M1056 2632h8M184 2636h44M184 2640h48M196 2644h36M224 2648h4M812 2672h8M376 2676h4M384 2676h4M820 2676h4M864 2676h4M1068 2676h4M372 2680h20M620 2680h20M848 2680h24M1056 2680h18M372 2684h32M844 2684h32M1048 2684h26M372 2688h40M832 2688h48M1048 2688h26M368 2692h32M408 2692h4M828 2692h56M1048 2692h26M364 2696h48M836 2696h12M864 2696h20M1012 2696h8M1052 2696h22M360 2700h48M840 2700h44M1020 2700h4M1052 2700h22M352 2704h60M844 2704h40M1056 2704h18M352 2708h56M844 2708h4M852 2708h12M884 2708h4M1060 2708h14M348 2712h4M356 2712h48M856 2712h32M1064 2712h10M364 2716h40M864 2716h24M1060 2716h14M376 2720h4M384 2720h20M872 2720h12M1068 2720h4M380 2724h4M388 2724h8M880 2724h4M612 2732h16M612 2736h20M612 2740h32M612 2744h36M296 2748h4M608 2748h56M260 2752h4M276 2752h28M604 2752h56M664 2752h4M256 2756h52M612 2756h56M236 2760h4M244 2760h68M612 2760h4M624 2760h44M224 2764h92M648 2764h12M228 2768h92" stroke="#ffff00"/><path d="M60 1872h4M72 1872h16M92 1872h4M100 1872h4M892 1872h64M896 1876h64M1028 1876h8M904 1880h4M912 1880h52M488 1884h12M912 1884h52M920 1888h48M928 1892h4M936 1892h40M72 1896h20M944 1896h28M952 1900h24M952 1904h4M960 1904h4M532 1908h4M528 1912h12M772 1912h12M516 1916h28M140 1920h12M508 1920h36M712 1920h12M492 1924h56M708 1924h32M488 1928h60M708 1928h32M480 1932h72M716 1932h28M372 1936h12M388 1936h4M492 1936h56M720 1936h24M364 1940h36M492 1940h48M720 1940h4M728 1940h12M364 1944h4M372 1944h36M504 1944h8M516 1944h20M732 1944h4M740 1944h4M372 1948h8M384 1948h20M412 1948h4M516 1948h4M524 1948h16M388 1952h8M400 1952h12M524 1952h16M408 1956h4M528 1956h8M372 1972h4M380 1972h8M392 1972h8M372 1976h32M372 1980h36M372 1984h40M364 1988h56M360 1992h64M364 1996h56M484 1996h8M244 2000h4M368 2000h52M248 2004h12M368 2004h52M996 2004h16M244 2008h32M364 2008h52M912 2008h12M244 2012h48M368 2012h52M868 2012h12M884 2012h40M248 2016h48M368 2016h48M872 2016h52M248 2020h16M276 2020h20M388 2020h12M404 2020h8M872 2020h48M244 2024h48M400 2024h8M872 2024h44M252 2028h8M268 2028h24M876 2028h40M276 2032h16M880 2032h32M916 2032h4M280 2036h4M288 2036h4M888 2036h4M896 2036h20M288 2040h4M892 2040h16M912 2040h4M852 2100h20M748 2120h16M356 2124h20M836 2136h4M844 2136h16M812 2140h48M864 2140h4M808 2144h52M888 2144h8M900 2144h20M812 2148h48M820 2152h36M824 2156h28M828 2160h20M832 2164h4M1016 2164h8M1024 2168h4M928 2184h16M100 2196h8M332 2196h4M92 2200h20M300 2200h4M308 2200h28M340 2200h4M348 2200h4M84 2204h36M296 2204h56M84 2208h44M304 2208h60M368 2208h4M80 2212h56M296 2212h76M88 2216h56M292 2216h72M92 2220h52M288 2220h4M300 2220h52M356 2220h12M100 2224h40M304 2224h4M312 2224h4M320 2224h4M328 2224h4M104 2228h32M780 2228h12M796 2228h4M804 2228h4M812 2228h4M104 2232h32M772 2232h44M120 2236h4M132 2236h4M768 2236h56M708 2240h16M772 2240h56M212 2244h8M224 2244h12M768 2244h68M196 2248h44M772 2248h68M192 2252h52M648 2252h4M768 2252h64M204 2256h44M628 2256h24M776 2256h4M804 2256h4M812 2256h12M196 2260h52M624 2260h36M204 2264h4M212 2264h40M628 2264h36M220 2268h28M620 2268h44M228 2272h8M240 2272h8M616 2272h48M620 2276h4M628 2276h4M636 2276h36M136 2280h4M564 2280h4M580 2280h4M640 2280h4M648 2280h16M112 2284h4M120 2284h4M132 2284h8M144 2284h12M164 2284h4M556 2284h4M568 2284h12M584 2284h4M648 2284h12M108 2288h24M136 2288h32M560 2288h32M600 2288h4M660 2288h4M112 2292h64M556 2292h44M112 2296h68M556 2296h52M120 2300h60M560 2300h56M1024 2300h12M124 2304h48M176 2304h4M564 2304h56M124 2308h48M572 2308h52M132 2312h40M580 2312h48M132 2316h4M140 2316h28M588 2316h44M592 2320h4M604 2320h32M616 2324h8M628 2324h8M632 2328h4M876 2328h4M884 2328h4M892 2328h4M840 2332h8M856 2332h48M848 2336h4M872 2336h44M860 2340h60M868 2344h56M876 2348h4M884 2348h48M884 2352h52M892 2356h44M900 2360h4M908 2360h28M908 2364h24M920 2368h4M820 2416h4M820 2420h20M820 2424h24M124 2428h4M136 2428h4M144 2428h4M152 2428h8M168 2428h4M736 2428h8M820 2428h52M876 2428h4M124 2432h44M172 2432h8M736 2432h8M824 2432h60M128 2436h64M728 2436h20M828 2436h60M132 2440h60M720 2440h28M840 2440h56M132 2444h56M204 2444h8M716 2444h36M832 2444h68M132 2448h52M212 2448h8M708 2448h4M716 2448h40M832 2448h72M140 2452h44M220 2452h4M708 2452h44M832 2452h68M140 2456h36M712 2456h44M836 2456h64M144 2460h8M156 2460h20M724 2460h4M732 2460h16M836 2460h56M152 2464h4M160 2464h16M728 2464h4M844 2464h32M852 2468h12M764 2528h8M772 2532h8M780 2536h4M636 2560h8M632 2564h24M628 2568h28M624 2572h40M620 2576h56M616 2580h56M744 2580h8M612 2584h60M752 2584h8M292 2588h16M608 2588h64M600 2592h72M532 2596h8M596 2596h76M508 2600h4M520 2600h20M600 2600h72M116 2604h8M504 2604h40M608 2604h4M616 2604h52M108 2608h20M504 2608h36M544 2608h4M624 2608h36M52 2612h12M112 2612h24M508 2612h52M624 2612h4M636 2612h12M112 2616h24M512 2616h56M644 2616h4M104 2620h40M512 2620h60M104 2624h40M516 2624h4M536 2624h36M120 2628h28M516 2628h56M148 2632h8M516 2632h60M512 2636h64M512 2640h8M524 2640h4M536 2640h16M556 2640h20M540 2644h4M568 2648h4M744 2648h12M764 2648h4M744 2652h40M372 2656h8M744 2656h52M952 2656h4M380 2660h8M748 2660h60M944 2660h24M752 2664h56M944 2664h40M756 2668h52M948 2668h44M752 2672h56M944 2672h52M756 2676h4M768 2676h28M804 2676h8M952 2676h48M764 2680h44M952 2680h56M760 2684h56M956 2684h52M768 2688h8M780 2688h4M788 2688h12M812 2688h4M976 2688h36M784 2692h4M988 2692h8M1008 2692h4M1004 2696h4M864 2708h20M116 2720h16M340 2740h12" stroke="#00ff00"/><path d="M956 1872h76M1068 1872h6M960 1876h68M964 1880h60M1068 1880h6M964 1884h56M968 1888h52M976 1892h28M972 1896h28M980 1900h8M980 1904h4M348 1908h8M344 1912h8M72 1920h8M84 1920h8M104 1920h4M72 1924h28M104 1924h4M72 1928h44M80 1932h36M84 1936h40M88 1940h40M96 1944h4M104 1944h20M116 1948h12M812 1964h8M504 2048h8M512 2052h8M636 2072h8M812 2072h8M632 2076h16M380 2080h12M620 2080h28M372 2084h32M616 2084h36M376 2088h32M612 2088h40M372 2092h36M612 2092h44M368 2096h48M624 2096h32M376 2100h52M632 2100h24M1012 2100h28M376 2104h48M640 2104h16M660 2104h4M1008 2104h36M388 2108h40M652 2108h4M1012 2108h56M288 2112h20M392 2112h32M1008 2112h66M408 2116h12M1012 2116h62M412 2120h12M632 2120h8M1012 2120h62M1016 2124h58M596 2128h8M1024 2128h50M604 2132h4M1032 2132h4M1040 2132h34M108 2136h4M1044 2136h4M100 2140h28M140 2140h4M148 2140h4M96 2144h68M96 2148h76M100 2152h72M104 2156h68M100 2160h72M256 2160h4M104 2164h68M244 2164h20M108 2168h60M232 2168h40M108 2172h64M236 2172h44M112 2176h60M240 2176h44M288 2176h4M108 2180h68M252 2180h36M116 2184h64M248 2184h12M268 2184h28M140 2188h4M156 2188h4M172 2188h4M256 2188h12M272 2188h28M260 2192h36M268 2196h32M904 2196h20M276 2200h24M276 2204h20M556 2204h8M284 2208h4M564 2208h8M288 2212h8M552 2212h24M580 2212h12M284 2216h8M540 2216h4M548 2216h28M584 2216h32M620 2216h4M552 2220h32M588 2220h40M564 2224h64M568 2228h44M620 2228h16M572 2232h4M580 2232h40M624 2232h4M588 2236h32M624 2236h8M840 2248h8M852 2248h8M832 2252h28M864 2252h4M844 2256h24M824 2260h44M828 2264h44M488 2268h8M500 2268h4M824 2268h52M52 2272h12M488 2272h24M516 2272h16M828 2272h48M52 2276h12M476 2276h20M508 2276h32M828 2276h52M52 2280h12M472 2280h80M828 2280h52M52 2284h4M472 2284h84M792 2284h8M828 2284h44M472 2288h88M824 2288h28M476 2292h80M824 2292h4M832 2292h4M840 2292h4M476 2296h80M472 2300h88M868 2300h12M472 2304h84M476 2308h76M476 2312h68M472 2316h68M472 2320h60M476 2324h52M484 2328h32M496 2332h16M824 2336h24M800 2340h8M812 2340h48M804 2344h60M804 2348h56M804 2352h56M820 2356h16M840 2356h4M232 2376h8M240 2380h8M248 2384h4M1016 2404h8M644 2416h8M644 2420h8M640 2424h20M632 2428h28M300 2432h16M616 2432h4M624 2432h16M296 2436h28M596 2436h4M604 2436h4M616 2436h44M788 2436h8M292 2440h8M308 2440h16M328 2440h4M592 2440h76M296 2444h12M316 2444h16M336 2444h4M420 2444h16M572 2444h96M300 2448h16M320 2448h16M572 2448h96M296 2452h32M576 2452h96M296 2456h4M304 2456h8M316 2456h8M576 2456h4M584 2456h92M788 2456h20M316 2460h4M588 2460h88M604 2464h4M640 2464h4M664 2464h16M60 2468h4M644 2468h4M652 2468h4M664 2468h12M56 2472h20M80 2472h8M668 2472h4M56 2476h44M104 2476h4M476 2476h8M56 2480h56M484 2480h8M1072 2480h2M60 2484h48M1052 2484h22M60 2488h52M1040 2488h34M60 2492h60M1048 2492h26M60 2496h64M1044 2496h30M68 2500h60M1048 2500h4M1056 2500h18M68 2504h60M280 2504h8M1056 2504h18M88 2508h32M272 2508h28M1060 2508h14M112 2512h4M272 2512h32M528 2512h8M1064 2512h8M276 2516h32M280 2520h32M808 2520h4M280 2524h36M488 2524h8M804 2524h24M280 2528h36M480 2528h24M796 2528h4M804 2528h28M280 2532h4M288 2532h32M476 2532h32M800 2532h20M292 2536h32M480 2536h32M792 2536h48M304 2540h8M476 2540h32M792 2540h44M480 2544h20M508 2544h8M800 2544h36M232 2548h16M480 2548h28M512 2548h8M800 2548h20M824 2548h4M496 2552h24M804 2552h4M812 2552h8M508 2556h12M548 2580h4M760 2580h20M788 2580h4M500 2584h12M540 2584h4M548 2584h8M760 2584h40M540 2588h28M752 2588h48M536 2592h44M748 2592h52M540 2596h44M744 2596h60M540 2600h44M748 2600h44M800 2600h8M992 2600h8M544 2604h40M744 2604h68M984 2604h16M540 2608h4M548 2608h36M748 2608h36M804 2608h16M988 2608h16M560 2612h16M748 2612h68M984 2612h24M568 2616h8M748 2616h68M988 2616h36M748 2620h68M988 2620h44M1040 2620h4M752 2624h44M800 2624h16M820 2624h4M988 2624h68M288 2628h4M296 2628h12M752 2628h24M800 2628h4M996 2628h64M264 2632h4M276 2632h40M752 2632h12M992 2632h48M1048 2632h8M256 2636h64M996 2636h64M248 2640h76M996 2640h60M232 2644h104M996 2644h64M232 2648h104M1004 2648h52M240 2652h92M336 2652h4M1020 2652h32M236 2656h88M328 2656h4M1040 2656h12M248 2660h72M1040 2660h4M272 2664h4M280 2664h12M304 2664h4M312 2664h4M296 2668h4M692 2676h4M684 2680h24M684 2684h28M692 2688h32M728 2688h4M704 2692h36M700 2696h44M704 2700h48M716 2704h12M736 2704h16M744 2708h4M752 2708h4M848 2728h4M856 2728h4M176 2732h12M836 2732h16M856 2732h12M116 2736h4M156 2736h12M172 2736h24M824 2736h44M112 2740h12M128 2740h72M824 2740h40M92 2744h104M824 2744h48M96 2748h112M824 2748h44M112 2752h20M140 2752h72M828 2752h44M116 2756h24M148 2756h64M336 2756h20M832 2756h40M124 2760h24M152 2760h64M836 2760h40M1020 2760h8M140 2764h84M836 2764h36M1028 2764h4M132 2768h4M144 2768h84M836 2768h4M860 2768h12" stroke="#00c896"/><path d="M88 1872h4M96 1872h4M104 1872h28M540 1872h44M804 1872h20M844 1872h8M80 1876h8M92 1876h48M544 1876h48M100 1880h44M540 1880h56M104 1884h48M156 1884h4M544 1884h20M572 1884h36M116 1888h44M204 1888h8M548 1888h60M120 1892h44M548 1892h44M124 1896h28M544 1896h4M552 1896h36M128 1900h20M548 1900h40M132 1904h8M148 1904h4M544 1904h40M132 1908h4M556 1908h24M740 1924h24M768 1924h4M740 1928h36M744 1932h36M744 1936h36M740 1940h44M736 1944h4M744 1944h44M740 1948h44M744 1952h48M748 1956h52M364 1960h8M752 1960h44M372 1964h8M492 1964h8M624 1964h20M764 1964h4M772 1964h36M500 1968h8M616 1968h32M764 1968h36M60 1972h4M508 1972h4M608 1972h40M776 1972h36M52 1976h16M608 1976h48M788 1976h24M52 1980h24M80 1980h8M608 1980h44M792 1980h12M52 1984h44M604 1984h56M780 1984h24M52 1988h32M96 1988h12M604 1988h56M716 1988h12M732 1988h4M740 1988h4M748 1988h56M52 1992h60M604 1992h8M620 1992h48M720 1992h84M808 1992h4M52 1996h68M608 1996h12M628 1996h8M644 1996h24M716 1996h8M732 1996h68M52 2000h72M620 2000h8M632 2000h4M652 2000h16M712 2000h84M52 2004h72M620 2004h4M628 2004h16M648 2004h4M656 2004h12M712 2004h84M52 2008h80M628 2008h40M712 2008h80M52 2012h64M636 2012h28M708 2012h76M52 2016h24M84 2016h12M648 2016h8M708 2016h72M72 2020h12M88 2020h4M704 2020h68M776 2020h4M720 2024h12M744 2024h28M732 2028h8M744 2028h12M760 2028h4M744 2032h4M760 2032h4M816 2052h12M816 2056h20M816 2060h36M816 2064h40M1072 2064h2M84 2068h8M812 2068h52M1072 2068h2M292 2072h4M500 2072h4M508 2072h4M600 2072h8M808 2072h4M820 2072h48M288 2076h16M500 2076h20M608 2076h8M816 2076h56M292 2080h24M488 2080h4M496 2080h28M616 2080h4M820 2080h56M284 2084h8M300 2084h28M480 2084h52M540 2084h4M820 2084h60M280 2088h12M296 2088h32M480 2088h64M820 2088h56M292 2092h40M480 2092h76M820 2092h4M828 2092h4M836 2092h4M844 2092h28M300 2096h40M480 2096h76M856 2096h4M868 2096h4M300 2100h20M336 2100h8M348 2100h4M484 2100h76M284 2104h16M308 2104h40M496 2104h4M504 2104h56M308 2108h36M504 2108h56M312 2112h24M512 2112h40M316 2116h20M516 2116h40M856 2116h4M312 2120h4M320 2120h8M332 2120h4M524 2120h28M840 2120h20M320 2124h12M548 2124h4M844 2124h20M848 2128h24M852 2132h16M872 2132h4M860 2136h12M860 2140h4M868 2140h4M688 2144h8M696 2148h8M228 2172h8M220 2176h20M640 2176h16M664 2176h4M212 2180h4M220 2180h20M640 2180h16M664 2180h36M824 2180h12M212 2184h36M644 2184h72M820 2184h36M864 2184h8M208 2188h48M648 2188h68M820 2188h44M868 2188h8M204 2192h4M212 2192h48M652 2192h68M816 2192h64M220 2196h48M656 2196h64M820 2196h64M228 2200h48M660 2200h56M824 2200h60M888 2200h4M228 2204h48M664 2204h52M832 2204h44M880 2204h8M232 2208h52M668 2208h40M840 2208h8M852 2208h4M1020 2208h8M236 2212h52M672 2212h28M844 2212h4M236 2216h48M536 2216h4M576 2216h8M672 2216h24M248 2220h20M280 2220h4M536 2220h16M584 2220h4M676 2220h4M684 2220h12M532 2224h32M940 2224h4M536 2228h32M932 2228h28M376 2232h4M540 2232h32M576 2232h4M936 2232h32M376 2236h12M392 2236h4M400 2236h4M536 2236h52M936 2236h8M952 2236h20M372 2240h40M536 2240h60M944 2240h8M960 2240h20M372 2244h52M532 2244h60M868 2244h12M948 2244h32M368 2248h56M428 2248h4M532 2248h60M864 2248h32M952 2248h4M960 2248h16M372 2252h60M528 2252h68M860 2252h4M868 2252h32M960 2252h4M360 2256h80M532 2256h64M832 2256h8M868 2256h36M356 2260h12M376 2260h64M532 2260h68M868 2260h44M352 2264h24M380 2264h60M532 2264h72M872 2264h44M352 2268h64M420 2268h4M428 2268h4M532 2268h72M876 2268h36M364 2272h44M532 2272h60M596 2272h4M876 2272h40M372 2276h8M392 2276h4M540 2276h44M588 2276h4M880 2276h12M904 2276h4M912 2276h4M552 2280h12M568 2280h12M560 2284h8M556 2304h8M552 2308h20M960 2308h4M544 2312h36M960 2312h8M540 2316h48M956 2316h12M56 2320h4M532 2320h60M596 2320h8M952 2320h24M52 2324h12M68 2324h8M528 2324h88M624 2324h4M952 2324h28M68 2328h20M516 2328h24M548 2328h84M636 2328h4M948 2328h12M972 2328h16M52 2332h44M512 2332h36M552 2332h88M952 2332h36M992 2332h4M52 2336h44M516 2336h132M948 2336h48M52 2340h40M528 2340h116M944 2340h52M52 2344h44M540 2344h96M940 2344h56M52 2348h44M556 2348h72M940 2348h64M52 2352h40M560 2352h68M936 2352h64M52 2356h8M68 2356h24M572 2356h4M580 2356h4M592 2356h4M616 2356h8M936 2356h60M56 2360h28M604 2360h4M940 2360h8M952 2360h48M60 2364h4M72 2364h4M864 2364h8M960 2364h40M960 2368h4M992 2368h8M1000 2372h4M912 2380h20M56 2388h16M80 2388h8M52 2392h40M952 2392h4M52 2396h36M812 2396h36M952 2396h12M52 2400h20M80 2400h8M816 2400h48M948 2400h28M52 2404h28M816 2404h60M944 2404h4M952 2404h32M52 2408h36M816 2408h68M948 2408h36M52 2412h12M80 2412h8M816 2412h68M948 2412h36M52 2416h32M824 2416h60M948 2416h32M68 2420h20M840 2420h40M956 2420h16M84 2424h4M860 2424h20M960 2424h8M676 2428h8M872 2428h4M640 2432h20M684 2432h4M260 2476h16M680 2484h12M676 2488h36M880 2488h8M672 2492h60M668 2496h76M824 2496h8M668 2500h80M832 2500h8M672 2504h72M840 2504h4M684 2508h60M340 2512h8M680 2512h64M692 2516h56M688 2520h64M700 2524h48M704 2528h44M712 2532h32M712 2536h4M724 2536h16M344 2540h4M360 2540h4M724 2540h8M340 2544h28M348 2548h20M336 2552h32M336 2556h36M252 2560h4M336 2560h36M248 2564h4M256 2564h16M332 2564h40M888 2564h4M896 2564h4M904 2564h4M252 2568h28M328 2568h52M880 2568h32M260 2572h28M332 2572h52M876 2572h40M256 2576h4M264 2576h28M340 2576h48M880 2576h40M264 2580h32M344 2580h48M880 2580h44M268 2584h36M356 2584h8M372 2584h4M380 2584h4M388 2584h12M880 2584h40M272 2588h20M884 2588h32M276 2592h16M300 2592h8M888 2592h24M276 2596h32M888 2596h16M1020 2596h4M280 2600h32M892 2600h4M1004 2600h24M1032 2600h12M284 2604h28M1000 2604h52M288 2608h24M1004 2608h48M292 2612h24M1008 2612h44M296 2616h16M1024 2616h28M308 2620h4M876 2620h4M884 2620h8M1032 2620h8M1044 2620h4M520 2624h16M852 2624h4M860 2624h36M900 2624h4M844 2628h24M876 2628h32M848 2632h28M880 2632h28M1040 2632h8M840 2636h64M852 2640h20M876 2640h24M892 2644h4M620 2648h24M612 2652h36M140 2656h4M148 2656h8M164 2656h4M608 2656h44M132 2660h4M140 2660h40M396 2660h12M420 2660h4M608 2660h52M120 2664h36M176 2664h4M396 2664h40M616 2664h44M64 2668h4M120 2668h4M132 2668h56M392 2668h44M624 2668h4M632 2668h28M52 2672h16M132 2672h56M388 2672h48M636 2672h28M52 2676h16M72 2676h4M144 2676h44M388 2676h48M640 2676h4M648 2676h16M52 2680h32M144 2680h52M392 2680h40M660 2680h4M52 2684h32M164 2684h32M404 2684h12M424 2684h4M52 2688h40M180 2688h12M412 2688h4M420 2688h4M52 2692h40M96 2692h4M52 2696h48M52 2700h52M56 2704h52M64 2708h32M64 2712h24M456 2712h12M480 2712h4M80 2716h4M444 2716h36M80 2720h4M444 2720h36M440 2724h44M312 2728h4M432 2728h52M316 2732h8M436 2732h44M308 2736h16M328 2736h4M436 2736h36M476 2736h4M320 2740h12M436 2740h32M304 2744h36M456 2744h8M300 2748h44M304 2752h40M308 2756h28M64 2760h8M312 2760h40M56 2764h4M64 2764h20M88 2764h4M316 2764h40M56 2768h48M320 2768h40M484 2768h12M584 2768h4" stroke="#c000e0"/><path d="M272 1872h56M276 1876h56M504 1876h16M280 1880h68M284 1884h72M564 1884h8M288 1888h60M296 1892h52M300 1896h4M308 1896h28M340 1896h4M696 1896h4M704 1896h4M304 1900h4M312 1900h24M696 1900h40M312 1904h16M700 1904h56M700 1908h64M704 1912h4M712 1912h52M712 1916h56M724 1920h44M764 1924h4M924 1940h4M916 1944h36M956 1944h4M552 1948h8M832 1948h8M912 1948h48M560 1952h4M840 1952h8M916 1952h48M908 1956h52M912 1960h52M904 1964h52M908 1968h44M912 1972h36M916 1976h28M652 1980h8M920 1980h8M660 1984h8M888 1988h16M924 2004h4M792 2008h4M924 2008h24M116 2012h16M296 2012h4M304 2012h4M312 2012h8M784 2012h20M808 2012h4M924 2012h24M952 2012h4M96 2016h36M296 2016h28M328 2016h4M336 2016h8M780 2016h28M924 2016h36M92 2020h36M296 2020h68M772 2020h4M780 2020h32M928 2020h36M80 2024h16M112 2024h20M292 2024h80M772 2024h40M816 2024h4M916 2024h12M936 2024h28M84 2028h48M292 2028h76M768 2028h52M916 2028h44M80 2032h48M292 2032h68M776 2032h32M912 2032h4M920 2032h44M76 2036h52M292 2036h72M784 2036h32M884 2036h4M892 2036h4M916 2036h48M72 2040h60M236 2040h4M292 2040h72M796 2040h20M884 2040h8M908 2040h4M916 2040h40M64 2044h68M228 2044h4M236 2044h12M292 2044h72M796 2044h4M808 2044h4M880 2044h36M920 2044h32M60 2048h16M84 2048h48M228 2048h32M268 2048h4M276 2048h12M296 2048h8M308 2048h12M328 2048h28M400 2048h12M876 2048h40M928 2048h8M940 2048h12M60 2052h80M224 2052h68M308 2052h4M320 2052h32M876 2052h40M64 2056h72M140 2056h4M220 2056h68M316 2056h4M328 2056h8M340 2056h16M868 2056h8M884 2056h24M72 2060h8M84 2060h60M148 2060h4M208 2060h80M860 2060h24M888 2060h8M76 2064h4M100 2064h4M120 2064h32M172 2064h4M212 2064h68M288 2064h4M856 2064h48M128 2068h28M164 2068h8M176 2068h4M204 2068h64M272 2068h4M864 2068h40M132 2072h24M172 2072h4M180 2072h16M200 2072h64M536 2072h8M868 2072h36M136 2076h88M228 2076h28M872 2076h16M892 2076h12M144 2080h72M224 2080h4M236 2080h4M248 2080h4M712 2080h12M728 2080h4M876 2080h20M140 2084h72M248 2084h4M708 2084h32M960 2084h4M144 2088h64M712 2088h32M956 2088h12M144 2092h72M712 2092h36M764 2092h8M824 2092h4M832 2092h4M840 2092h4M960 2092h16M980 2092h4M140 2096h76M712 2096h40M820 2096h36M960 2096h32M1000 2096h4M144 2100h68M216 2100h4M720 2100h40M820 2100h32M956 2100h40M1000 2100h12M148 2104h72M712 2104h32M824 2104h36M960 2104h48M168 2108h60M712 2108h48M828 2108h28M860 2108h4M956 2108h56M168 2112h56M708 2112h44M828 2112h28M960 2112h48M172 2116h56M708 2116h44M840 2116h16M964 2116h48M176 2120h44M704 2120h4M712 2120h36M972 2120h4M980 2120h28M180 2124h40M340 2124h12M708 2124h48M976 2124h4M984 2124h4M992 2124h4M180 2128h28M708 2128h48M176 2132h8M188 2132h4M716 2132h28M748 2132h8M180 2136h8M728 2136h8M748 2136h4M208 2144h8M216 2148h8M532 2156h8M540 2160h4M836 2164h12M852 2164h4M832 2168h36M832 2172h44M832 2176h44M836 2180h12M856 2180h20M872 2184h4M948 2192h8M948 2196h16M908 2200h8M920 2200h44M368 2204h4M908 2204h52M372 2208h8M916 2208h56M372 2212h24M400 2212h8M420 2212h4M608 2212h8M916 2212h60M364 2216h92M924 2216h52M368 2220h92M660 2220h16M680 2220h4M920 2220h40M368 2224h56M432 2224h28M636 2224h4M644 2224h48M928 2224h12M944 2224h12M380 2228h60M448 2228h12M636 2228h60M924 2228h8M388 2232h76M628 2232h76M916 2232h4M924 2232h12M396 2236h4M404 2236h44M632 2236h76M912 2236h24M412 2240h24M628 2240h4M636 2240h72M900 2240h44M424 2244h8M632 2244h76M712 2244h4M892 2244h56M424 2248h4M636 2248h64M896 2248h56M956 2248h4M644 2252h4M652 2252h44M900 2252h60M652 2256h36M904 2256h60M660 2260h4M808 2260h8M912 2260h52M288 2264h16M816 2264h8M916 2264h48M912 2268h52M916 2272h52M920 2276h48M932 2280h36M764 2284h4M772 2284h20M944 2284h28M760 2288h44M812 2288h8M948 2288h20M752 2292h72M828 2292h4M968 2292h8M988 2292h12M744 2296h4M760 2296h76M960 2296h44M1012 2296h4M748 2300h12M768 2300h72M960 2300h48M1012 2300h4M744 2304h96M960 2304h60M740 2308h80M832 2308h12M940 2308h8M956 2308h4M964 2308h36M1008 2308h16M332 2312h4M340 2312h8M748 2312h100M928 2312h32M968 2312h40M1016 2312h24M328 2316h28M752 2316h96M912 2316h4M920 2316h36M968 2316h80M324 2320h36M748 2320h104M908 2320h44M976 2320h80M1060 2320h4M320 2324h60M752 2324h104M904 2324h48M980 2324h92M328 2328h52M384 2328h4M752 2328h4M764 2328h92M900 2328h48M988 2328h84M332 2332h56M396 2332h4M776 2332h64M848 2332h8M904 2332h48M988 2332h4M996 2332h12M1016 2332h58M340 2336h16M364 2336h28M396 2336h4M796 2336h20M916 2336h32M1000 2336h4M1008 2336h56M356 2340h8M372 2340h24M792 2340h4M808 2340h4M920 2340h24M1024 2340h36M368 2344h4M376 2344h16M800 2344h4M924 2344h16M1036 2344h8M384 2348h4M932 2348h8M284 2372h4M280 2376h24M272 2380h32M788 2380h20M288 2384h24M272 2388h44M664 2388h20M276 2392h40M320 2392h4M276 2396h52M276 2400h60M536 2400h4M544 2400h8M276 2404h64M520 2404h36M560 2404h4M280 2408h64M500 2408h4M508 2408h52M284 2412h64M500 2412h64M288 2416h32M324 2416h8M492 2416h76M296 2420h12M492 2420h76M296 2424h4M488 2424h84M492 2428h80M500 2432h76M984 2432h4M508 2436h68M960 2436h16M980 2436h8M992 2436h12M1008 2436h4M1024 2436h4M516 2440h60M952 2440h80M520 2444h52M952 2444h88M532 2448h20M556 2448h16M956 2448h8M972 2448h64M540 2452h8M560 2452h4M960 2452h12M980 2452h48M964 2456h64M248 2460h8M412 2460h8M968 2460h56M240 2464h24M420 2464h8M980 2464h40M236 2468h32M976 2468h4M984 2468h36M228 2472h40M980 2472h36M220 2476h40M832 2476h8M984 2476h32M216 2480h56M840 2480h8M988 2480h28M216 2484h40M264 2484h8M992 2484h28M220 2488h44M272 2488h4M224 2492h52M228 2496h48M232 2500h48M852 2500h16M232 2504h20M260 2504h20M856 2504h16M876 2504h4M260 2508h4M676 2508h8M856 2508h4M864 2508h28M864 2512h32M112 2516h8M864 2516h40M876 2520h24M112 2524h8M880 2524h4M888 2524h16M108 2528h4M116 2528h8M888 2528h4M112 2532h24M112 2536h28M108 2540h36M104 2544h44M108 2548h48M104 2552h40M112 2556h56M120 2560h48M128 2564h40M136 2568h8M148 2568h4M156 2568h16M180 2584h16M204 2584h4M352 2584h4M364 2584h8M376 2584h4M384 2584h4M176 2588h36M348 2588h56M172 2592h44M344 2592h56M172 2596h44M348 2596h52M172 2600h44M352 2600h48M792 2600h8M176 2604h44M344 2604h4M352 2604h44M180 2608h40M360 2608h36M192 2612h28M204 2616h12M212 2620h4M96 2624h4M904 2624h16M92 2628h28M92 2632h56M92 2636h52M448 2636h4M96 2640h44M444 2640h4M452 2640h8M464 2640h4M100 2644h44M436 2644h36M480 2644h4M868 2644h20M96 2648h44M436 2648h48M488 2648h4M100 2652h40M440 2652h56M500 2652h4M100 2656h40M436 2656h72M104 2660h28M136 2660h4M432 2660h76M108 2664h12M436 2664h72M448 2668h16M468 2668h40M472 2672h8M484 2672h16M504 2672h4M936 2672h4M504 2676h8M924 2676h4M932 2676h20M504 2680h8M920 2680h32M924 2684h8M940 2684h12M504 2688h16M928 2688h12M948 2688h4M964 2688h8M512 2692h16M928 2692h16M972 2692h8M500 2696h36M848 2696h16M980 2696h4M492 2700h48M496 2704h48M488 2708h8M504 2708h48M492 2712h64M644 2712h16M680 2712h12M500 2716h60M636 2716h32M512 2720h4M520 2720h40M636 2720h40M524 2724h4M536 2724h4M620 2724h8M632 2724h48M540 2728h4M620 2728h60M628 2732h60M632 2736h52M644 2740h40M84 2744h8M648 2744h40M76 2748h20M408 2748h8M664 2748h12M80 2752h32M416 2752h8M660 2752h4M68 2756h4M76 2756h40M424 2756h4M72 2760h52M84 2764h4M92 2764h48M104 2768h28M136 2768h8M768 2768h4M800 2768h4M812 2768h4M820 2768h4" stroke="#a0505a"/><path d="M52 1872h8M64 1872h8M452 1872h40M52 1876h28M460 1876h20M492 1876h4M52 1880h28M84 1880h8M408 1880h12M56 1884h32M52 1888h40M52 1892h4M60 1892h32M832 1892h8M844 1892h12M60 1896h12M92 1896h8M828 1896h32M60 1900h4M68 1900h36M824 1900h44M68 1904h40M116 1904h4M820 1904h44M868 1904h4M68 1908h60M248 1908h4M256 1908h4M820 1908h52M72 1912h56M248 1912h12M824 1912h48M80 1916h44M248 1916h40M300 1916h4M840 1916h8M852 1916h8M80 1920h4M92 1920h12M108 1920h8M260 1920h48M100 1924h4M108 1924h4M248 1924h12M264 1924h40M244 1928h56M248 1932h4M256 1932h40M244 1936h4M272 1936h24M564 1940h4M284 1944h4M564 1944h28M228 1948h4M560 1948h40M220 1952h4M228 1952h8M556 1952h4M564 1952h44M228 1956h8M544 1956h72M620 1956h4M548 1960h4M556 1960h8M568 1960h56M584 1964h32M596 1968h20M596 1972h12M1044 1976h12M540 2004h16M540 2008h12M156 2012h8M540 2012h20M856 2012h8M164 2016h4M536 2016h4M544 2016h20M680 2016h12M864 2016h8M136 2020h4M184 2020h8M540 2020h28M132 2024h12M412 2024h12M540 2024h36M132 2028h16M408 2028h28M544 2028h36M128 2032h36M412 2032h28M444 2032h4M544 2032h40M128 2036h40M416 2036h36M548 2036h44M132 2040h36M420 2040h36M560 2040h36M132 2044h44M420 2044h28M568 2044h32M132 2048h44M420 2048h48M576 2048h12M592 2048h12M140 2052h40M424 2052h40M584 2052h4M136 2056h4M144 2056h32M428 2056h32M144 2060h4M152 2060h24M428 2060h28M152 2064h20M176 2064h4M428 2064h24M156 2068h8M172 2068h4M436 2068h16M176 2072h4M444 2072h8M940 2084h8M52 2088h16M948 2088h4M52 2092h24M52 2096h20M104 2100h4M136 2100h4M100 2104h28M132 2104h8M764 2104h8M104 2108h8M124 2108h16M760 2108h24M104 2112h40M752 2112h8M768 2112h24M100 2116h44M752 2116h36M108 2120h36M764 2120h28M116 2124h36M756 2124h36M108 2128h44M756 2128h32M108 2132h8M124 2132h32M772 2132h12M112 2136h48M128 2140h12M144 2140h4M152 2140h12M368 2164h16M356 2168h24M384 2168h4M352 2172h36M356 2176h44M728 2176h4M60 2180h8M364 2180h40M720 2180h12M736 2180h12M1052 2180h4M52 2184h4M60 2184h16M360 2184h44M716 2184h32M1048 2184h12M52 2188h32M368 2188h20M716 2188h64M784 2188h4M1048 2188h24M52 2192h36M368 2192h12M720 2192h64M1040 2192h34M52 2196h40M372 2196h4M720 2196h64M1032 2196h4M1040 2196h34M52 2200h40M720 2200h64M1032 2200h42M52 2204h4M60 2204h24M724 2204h60M1036 2204h38M60 2208h4M68 2208h16M736 2208h44M1044 2208h30M740 2212h40M1048 2212h4M1056 2212h18M748 2216h28M780 2216h4M1056 2216h4M1064 2216h10M352 2220h4M748 2220h4M756 2220h24M1064 2220h10M308 2224h4M316 2224h4M324 2224h4M332 2224h36M756 2224h28M1072 2224h2M308 2228h64M760 2228h20M308 2232h68M764 2232h4M312 2236h64M240 2240h8M316 2240h56M248 2244h8M324 2244h48M256 2248h4M328 2248h40M332 2252h40M332 2256h8M344 2256h16M348 2260h8M348 2272h8M312 2276h8M344 2276h16M288 2280h4M296 2280h60M280 2284h76M284 2288h68M284 2292h68M284 2296h64M752 2296h8M292 2300h52M760 2300h8M284 2304h8M300 2304h40M344 2304h4M288 2308h12M304 2308h40M292 2312h40M336 2312h4M296 2316h32M300 2320h24M1008 2332h8M96 2336h4M240 2336h4M248 2336h4M500 2336h16M92 2340h12M108 2340h4M228 2340h24M500 2340h28M96 2344h24M228 2344h24M500 2344h40M96 2348h36M136 2348h4M216 2348h36M504 2348h8M516 2348h40M92 2352h48M216 2352h44M528 2352h32M760 2352h8M92 2356h52M212 2356h48M528 2356h4M552 2356h20M576 2356h4M88 2360h52M216 2360h48M536 2360h48M96 2364h44M220 2364h52M316 2364h8M532 2364h48M96 2368h48M224 2368h48M308 2368h20M332 2368h4M540 2368h40M96 2372h4M104 2372h4M116 2372h28M232 2372h48M300 2372h40M536 2372h44M132 2376h4M240 2376h40M304 2376h36M528 2376h56M1008 2376h8M248 2380h12M264 2380h8M304 2380h44M536 2380h52M1016 2380h4M312 2384h36M532 2384h52M316 2388h44M544 2388h44M592 2388h4M1012 2388h20M316 2392h4M324 2392h40M544 2392h48M896 2392h8M1072 2392h2M328 2396h24M360 2396h8M464 2396h8M540 2396h52M600 2396h4M904 2396h8M1024 2396h16M1060 2396h14M336 2400h24M368 2400h4M448 2400h32M552 2400h24M580 2400h4M588 2400h4M1008 2400h36M1064 2400h10M168 2404h16M188 2404h20M340 2404h36M380 2404h4M440 2404h40M556 2404h4M564 2404h8M984 2404h4M996 2404h20M1024 2404h24M1072 2404h2M172 2408h4M180 2408h36M344 2408h40M448 2408h40M492 2408h4M984 2408h64M180 2412h36M364 2412h16M448 2412h52M984 2412h60M176 2416h44M452 2416h4M460 2416h32M980 2416h60M176 2420h48M464 2420h28M972 2420h60M148 2424h8M180 2424h40M468 2424h4M476 2424h12M968 2424h64M184 2428h44M956 2428h72M184 2432h40M960 2432h24M988 2432h44M192 2436h32M372 2436h8M976 2436h4M988 2436h4M1004 2436h4M1012 2436h12M1028 2436h4M376 2440h4M1032 2440h4M364 2444h4M372 2444h12M388 2444h8M404 2444h4M364 2448h40M408 2448h8M420 2448h4M428 2448h4M964 2448h8M368 2452h8M384 2452h48M972 2452h8M372 2456h72M372 2460h40M420 2460h20M380 2464h40M428 2464h12M384 2468h16M408 2468h12M424 2468h4M436 2468h4M384 2472h4M968 2496h4M932 2500h16M952 2500h12M968 2500h8M924 2504h56M916 2508h68M908 2512h80M904 2516h60M968 2516h12M900 2520h60M604 2524h4M904 2524h52M584 2528h24M612 2528h4M912 2528h20M936 2528h8M948 2528h4M580 2532h44M936 2532h4M576 2536h52M572 2540h4M580 2540h48M576 2544h20M604 2544h24M584 2548h20M612 2548h12M416 2552h4M600 2552h4M408 2556h24M436 2556h8M412 2560h28M444 2560h4M408 2564h4M416 2564h32M812 2564h8M832 2564h4M844 2564h4M416 2568h28M812 2568h56M872 2568h8M416 2572h28M808 2572h68M416 2576h20M812 2576h68M416 2580h8M820 2580h60M824 2584h56M844 2588h40M848 2592h16M868 2592h8M880 2592h8M1008 2592h12M872 2596h4M880 2596h4M484 2604h4M476 2608h8M480 2612h28M488 2616h24M480 2620h32M484 2624h32M492 2628h24M496 2632h20M508 2636h4M840 2640h12M828 2644h4M836 2644h8M852 2644h4M336 2648h8M356 2648h4M836 2648h24M340 2652h12M356 2652h12M372 2652h4M828 2652h32M344 2656h28M380 2656h8M392 2656h4M824 2656h40M344 2660h36M388 2660h8M588 2660h4M820 2660h48M348 2664h4M356 2664h40M580 2664h16M824 2664h8M836 2664h36M360 2668h32M436 2668h12M464 2668h4M508 2668h8M568 2668h28M832 2668h36M364 2672h24M436 2672h36M480 2672h4M500 2672h4M508 2672h16M528 2672h8M544 2672h4M552 2672h40M840 2672h28M380 2676h4M436 2676h68M512 2676h88M760 2676h8M844 2676h20M432 2680h72M512 2680h92M444 2684h8M460 2684h144M336 2688h12M440 2688h4M452 2688h12M476 2688h28M520 2688h84M764 2688h4M776 2688h4M784 2688h4M800 2688h12M816 2688h4M444 2692h8M456 2692h48M528 2692h80M764 2692h20M788 2692h40M996 2692h12M448 2696h52M536 2696h68M764 2696h72M452 2700h40M540 2700h52M752 2700h88M296 2704h16M456 2704h32M544 2704h48M752 2704h92M460 2708h28M552 2708h36M756 2708h88M848 2708h4M468 2712h12M484 2712h4M556 2712h28M756 2712h100M560 2716h4M572 2716h4M580 2716h4M768 2716h12M784 2716h40M840 2716h24M780 2720h4M788 2720h76M544 2724h8M796 2724h4M804 2724h68M552 2728h8M808 2728h8M820 2728h28M852 2728h4M860 2728h12M824 2732h12M852 2732h4M300 2740h20M428 2744h28M468 2744h4M428 2748h48M424 2752h4M432 2752h52M432 2756h60M432 2760h12M464 2760h32M424 2764h80M660 2764h8M428 2768h8M440 2768h44M496 2768h4" stroke="#d2875a"/><path d="M584 1872h108M708 1872h8M592 1876h96M716 1876h8M596 1880h92M608 1884h80M348 1888h28M616 1888h68M348 1892h24M612 1892h4M628 1892h36M668 1892h12M336 1896h4M344 1896h36M632 1896h16M336 1900h44M328 1904h56M320 1908h28M356 1908h24M320 1912h4M328 1912h16M352 1912h24M328 1916h52M252 1920h8M332 1920h4M340 1920h32M260 1924h4M340 1924h16M360 1924h4M492 1944h12M512 1944h4M492 1948h24M520 1948h4M492 1952h32M216 1956h4M496 1956h32M208 1960h4M216 1960h8M500 1960h32M200 1964h28M504 1964h28M720 1964h4M732 1964h12M748 1964h4M756 1964h8M768 1964h4M192 1968h4M200 1968h28M516 1968h8M528 1968h4M708 1968h56M184 1972h40M440 1972h12M712 1972h64M172 1976h52M708 1976h4M716 1976h72M168 1980h56M716 1980h76M160 1984h68M716 1984h64M156 1988h76M728 1988h4M736 1988h4M744 1988h4M148 1992h80M1028 1992h12M148 1996h4M172 1996h44M1024 1996h4M1032 1996h12M140 2000h72M1020 2000h28M1052 2000h4M140 2004h8M152 2004h48M204 2004h8M1012 2004h44M136 2008h4M144 2008h4M172 2008h28M1012 2008h44M168 2012h4M184 2012h4M1004 2012h52M1000 2016h56M264 2020h12M452 2020h4M464 2020h4M996 2020h64M436 2024h4M444 2024h4M452 2024h28M708 2024h12M1004 2024h60M436 2028h52M704 2028h28M740 2028h4M1008 2028h28M1056 2028h12M440 2032h4M448 2032h44M708 2032h16M732 2032h12M1012 2032h60M452 2036h40M704 2036h28M740 2036h16M864 2036h4M1020 2036h54M456 2040h36M708 2040h32M744 2040h8M840 2040h4M848 2040h36M1032 2040h42M468 2044h32M712 2044h44M840 2044h40M1036 2044h38M476 2048h4M484 2048h12M708 2048h48M816 2048h4M832 2048h44M1044 2048h4M1052 2048h22M492 2052h4M716 2052h40M828 2052h40M1064 2052h10M716 2056h36M836 2056h32M720 2060h40M852 2060h8M280 2064h4M720 2064h36M268 2068h4M284 2068h4M724 2068h28M264 2072h20M288 2072h4M732 2072h16M256 2076h32M732 2076h4M252 2080h32M260 2084h12M276 2084h8M472 2092h4M480 2100h4M476 2104h20M500 2104h4M476 2108h20M476 2112h28M476 2116h36M476 2120h44M472 2124h44M672 2124h4M476 2128h4M484 2128h16M504 2128h4M660 2128h36M492 2132h4M656 2132h60M72 2136h12M656 2136h72M52 2140h12M68 2140h20M652 2140h24M692 2140h44M876 2140h8M52 2144h44M652 2144h36M696 2144h36M52 2148h44M648 2148h48M704 2148h28M52 2152h48M648 2152h84M52 2156h52M656 2156h76M52 2160h48M644 2160h88M52 2164h52M488 2164h8M640 2164h92M60 2168h48M640 2168h92M56 2172h52M636 2172h12M660 2172h68M64 2176h48M656 2176h8M668 2176h60M68 2180h40M700 2180h20M76 2184h36M84 2188h28M176 2188h4M188 2188h20M88 2192h20M176 2192h28M208 2192h4M92 2196h8M180 2196h40M184 2200h44M184 2204h44M188 2208h44M192 2212h44M216 2216h8M232 2216h4M488 2216h4M508 2216h28M232 2220h4M472 2220h4M480 2220h56M464 2224h68M464 2228h4M472 2228h64M472 2232h4M480 2232h60M276 2236h8M492 2236h44M500 2240h36M504 2244h28M516 2248h4M524 2248h8M292 2272h8M852 2288h32M836 2292h4M844 2292h40M836 2296h52M892 2296h4M840 2300h28M880 2300h20M716 2304h20M840 2304h64M908 2304h4M844 2308h84M848 2312h80M848 2316h64M916 2316h4M148 2320h20M852 2320h56M152 2324h28M856 2324h48M148 2328h32M856 2328h20M880 2328h4M888 2328h4M896 2328h4M168 2332h16M148 2336h36M648 2336h12M152 2340h32M644 2340h16M664 2340h4M148 2344h32M636 2344h40M156 2348h24M628 2348h56M168 2352h8M628 2352h68M704 2352h4M624 2356h76M708 2356h4M624 2360h92M724 2360h4M620 2364h4M628 2364h108M628 2368h112M100 2372h4M108 2372h8M404 2372h8M416 2372h12M432 2372h12M628 2372h112M92 2376h4M100 2376h32M404 2376h52M460 2376h8M632 2376h112M88 2380h40M408 2380h64M628 2380h120M84 2384h4M92 2384h36M408 2384h64M632 2384h120M88 2388h36M408 2388h68M636 2388h28M684 2388h20M708 2388h48M96 2392h4M104 2392h12M412 2392h64M632 2392h56M736 2392h4M744 2392h4M108 2396h4M116 2396h4M424 2396h8M436 2396h28M472 2396h4M628 2396h48M680 2396h8M436 2400h12M624 2400h48M636 2404h4M644 2404h28M644 2408h4M652 2408h16M64 2412h16M348 2412h16M656 2412h12M1044 2412h4M320 2416h4M332 2416h44M1040 2416h16M308 2420h68M1032 2420h28M300 2424h72M1032 2424h28M304 2428h68M1028 2428h32M316 2432h60M1032 2432h32M324 2436h48M692 2436h8M1032 2436h32M324 2440h4M332 2440h44M1036 2440h24M332 2444h4M340 2444h24M368 2444h4M1044 2444h16M336 2448h28M116 2460h4M124 2460h20M152 2460h4M112 2464h40M156 2464h4M108 2468h56M112 2472h48M108 2476h48M164 2476h20M112 2480h48M108 2484h44M112 2488h40M120 2492h20M1028 2492h20M124 2496h4M140 2500h4M340 2500h4M320 2504h36M300 2508h52M304 2512h36M348 2512h8M308 2516h44M312 2520h44M316 2524h36M528 2524h20M316 2528h16M340 2528h16M780 2528h16M320 2532h20M348 2532h8M324 2536h24M352 2536h4M336 2540h8M348 2540h12M104 2556h8M96 2560h24M180 2560h4M188 2560h12M100 2564h28M168 2564h8M180 2564h16M204 2564h4M100 2568h36M172 2568h44M104 2572h28M168 2572h60M112 2576h4M120 2576h8M180 2576h48M120 2580h4M176 2580h48M196 2584h8M208 2584h12M212 2588h4M336 2596h8M484 2608h20M292 2624h12M624 2632h8M144 2636h32M180 2636h4M140 2640h44M144 2644h52M140 2648h56M864 2648h8M140 2652h52M872 2652h4M144 2656h4M156 2656h8M168 2656h12M452 2684h8M664 2684h20M656 2688h4M664 2688h28M676 2692h28M652 2696h48M280 2700h4M288 2700h12M308 2700h4M652 2700h52M260 2704h4M268 2704h28M648 2704h68M260 2708h64M648 2708h84M264 2712h64M660 2712h20M692 2712h36M276 2716h56M564 2716h8M576 2716h4M668 2716h32M704 2716h8M288 2720h36M560 2720h32M676 2720h16M292 2724h28M552 2724h56M680 2724h4M896 2724h4M920 2724h4M304 2728h8M316 2728h4M560 2728h56M892 2728h40M940 2728h4M560 2732h52M896 2732h48M560 2736h52M904 2736h52M560 2740h52M904 2740h52M564 2744h48M900 2744h60M564 2748h44M900 2748h44M564 2752h4M572 2752h32M896 2752h36M936 2752h4M568 2756h24M596 2756h8M872 2756h8M884 2756h48M444 2760h20M576 2760h8M876 2760h60M872 2764h60M872 2768h64" stroke="#c00050"/></g>
<rect x="50" y="1870" width="137" height="124.59999999999991" fill="#fff"/>
<rect x="668.5" y="2628" width="407.5" height="142" fill="#fff"/>
<text x="88.5" y="1954" font-family='"Liberation Serif", "DejaVu Serif", serif' font-size="63.5" font-weight="bold" text-anchor="start" fill="#000" textLength="55.5" lengthAdjust="spacingAndGlyphs">c)</text>
<text x="768" y="2732" font-family='"Liberation Serif", "DejaVu Serif", serif' font-size="90" font-weight="normal" text-anchor="start" fill="#000" textLength="210" lengthAdjust="spacingAndGlyphs">50μm</text>
<rect x="692.5" y="2744" width="381.5" height="10" fill="#000"/>
<rect x="1113" y="431" width="161" height="21" fill="#ff0000"/>
<rect x="1113" y="531" width="161" height="21" fill="#00b050"/>
<rect x="1113" y="621" width="161" height="21" fill="#002060"/>
<text x="1295" y="349" font-family='"Liberation Sans", "DejaVu Sans", sans-serif' font-size="74" font-weight="normal" text-anchor="start" fill="#000" textLength="139" lengthAdjust="spacingAndGlyphs" stroke="#000" stroke-width="1.3">min</text>
<text x="1501.5" y="349" font-family='"Liberation Sans", "DejaVu Sans", sans-serif' font-size="74" font-weight="normal" text-anchor="start" fill="#000" textLength="149" lengthAdjust="spacingAndGlyphs" stroke="#000" stroke-width="1.3">max</text>
<text x="1720" y="349" font-family='"Liberation Sans", "DejaVu Sans", sans-serif' font-size="74" font-weight="normal" text-anchor="start" fill="#000" textLength="275" lengthAdjust="spacingAndGlyphs" stroke="#000" stroke-width="1.3">fraction</text>
<text x="1297" y="466" font-family='"Liberation Sans", "DejaVu Sans", sans-serif' font-size="74" font-weight="normal" text-anchor="start" fill="#000" stroke="#000" stroke-width="1.3" letter-spacing="1.5">2<tspan font-size="62" dy="-15" dx="-1">°</tspan></text>
<text x="1499.5" y="466" font-family='"Liberation Sans", "DejaVu Sans", sans-serif' font-size="74" font-weight="normal" text-anchor="start" fill="#000" stroke="#000" stroke-width="1.3" letter-spacing="1.5">10<tspan font-size="62" dy="-15" dx="-1">°</tspan></text>
<text x="1718.5" y="466" font-family='"Liberation Sans", "DejaVu Sans", sans-serif' font-size="74" font-weight="normal" text-anchor="start" fill="#000" textLength="191" lengthAdjust="spacingAndGlyphs" stroke="#000" stroke-width="1.3">0.083</text>
<text x="1294" y="562" font-family='"Liberation Sans", "DejaVu Sans", sans-serif' font-size="74" font-weight="normal" text-anchor="start" fill="#000" stroke="#000" stroke-width="1.3" letter-spacing="1.5">10<tspan font-size="62" dy="-15" dx="-1">°</tspan></text>
<text x="1499.5" y="562" font-family='"Liberation Sans", "DejaVu Sans", sans-serif' font-size="74" font-weight="normal" text-anchor="start" fill="#000" stroke="#000" stroke-width="1.3" letter-spacing="1.5">15<tspan font-size="62" dy="-15" dx="-1">°</tspan></text>
<text x="1718.5" y="562" font-family='"Liberation Sans", "DejaVu Sans", sans-serif' font-size="74" font-weight="normal" text-anchor="start" fill="#000" textLength="191" lengthAdjust="spacingAndGlyphs" stroke="#000" stroke-width="1.3">0.007</text>
<text x="1294" y="658" font-family='"Liberation Sans", "DejaVu Sans", sans-serif' font-size="74" font-weight="normal" text-anchor="start" fill="#000" stroke="#000" stroke-width="1.3" letter-spacing="1.5">15<tspan font-size="62" dy="-15" dx="-1">°</tspan></text>
<text x="1499.5" y="658" font-family='"Liberation Sans", "DejaVu Sans", sans-serif' font-size="74" font-weight="normal" text-anchor="start" fill="#000" stroke="#000" stroke-width="1.3" letter-spacing="1.5">180<tspan font-size="62" dy="-15" dx="-1">°</tspan></text>
<text x="1718.5" y="658" font-family='"Liberation Sans", "DejaVu Sans", sans-serif' font-size="74" font-weight="normal" text-anchor="start" fill="#000" textLength="191" lengthAdjust="spacingAndGlyphs" stroke="#000" stroke-width="1.3">0.911</text>
<rect x="1133" y="1320" width="143" height="48" fill="#ff0000"/>
<rect x="1134.5" y="1411.5" width="142" height="47" fill="#00ff00" stroke="#00b050" stroke-width="3"/>
<text x="1467" y="1270" font-family='"Liberation Serif", "DejaVu Serif", serif' font-size="75" font-weight="bold" text-anchor="start" fill="#000" textLength="185" lengthAdjust="spacingAndGlyphs">phase</text>
<text x="1791" y="1270" font-family='"Liberation Serif", "DejaVu Serif", serif' font-size="75" font-weight="bold" text-anchor="start" fill="#000" textLength="263" lengthAdjust="spacingAndGlyphs">fraction</text>
<text x="1467" y="1363" font-family='"Liberation Serif", "DejaVu Serif", serif' font-size="75" font-weight="bold" text-anchor="start" fill="#000">B2</text>
<text x="1791" y="1364" font-family='"Liberation Serif", "DejaVu Serif", serif' font-size="79" font-weight="bold" text-anchor="start" fill="#000" textLength="175" lengthAdjust="spacingAndGlyphs">0.264</text>
<text x="1467" y="1458" font-family='"Liberation Serif", "DejaVu Serif", serif' font-size="75" font-weight="bold" text-anchor="start" fill="#000">γ</text>
<text x="1791" y="1460" font-family='"Liberation Serif", "DejaVu Serif", serif' font-size="79" font-weight="bold" text-anchor="start" fill="#000" textLength="175" lengthAdjust="spacingAndGlyphs">0.736</text>
<line x1="1325.3" y1="1903" x2="1325.3" y2="2534.5" stroke="#333" stroke-width="2.6"/>
<line x1="1319.3" y1="2528.5" x2="2291" y2="2528.5" stroke="#333" stroke-width="2.6"/>
<line x1="1320.3" y1="1903.0" x2="1330.3" y2="1903.0" stroke="#333" stroke-width="2.6"/>
<text transform="translate(1318.5,1932.0) scale(0.955,1)" font-family='"DejaVu Sans", "Liberation Sans", sans-serif' font-size="58" font-weight="normal" text-anchor="end" fill="#000" textLength="131.9" lengthAdjust="spacing" stroke="#000" stroke-width="0.7">0.15</text>
<line x1="1320.3" y1="2007.25" x2="1330.3" y2="2007.25" stroke="#333" stroke-width="2.6"/>
<line x1="1320.3" y1="2111.5" x2="1330.3" y2="2111.5" stroke="#333" stroke-width="2.6"/>
<text transform="translate(1318.5,2140.5) scale(0.955,1)" font-family='"DejaVu Sans", "Liberation Sans", sans-serif' font-size="58" font-weight="normal" text-anchor="end" fill="#000" textLength="131.9" lengthAdjust="spacing" stroke="#000" stroke-width="0.7">0.10</text>
<line x1="1320.3" y1="2215.75" x2="1330.3" y2="2215.75" stroke="#333" stroke-width="2.6"/>
<line x1="1320.3" y1="2320.0" x2="1330.3" y2="2320.0" stroke="#333" stroke-width="2.6"/>
<text transform="translate(1318.5,2349.0) scale(0.955,1)" font-family='"DejaVu Sans", "Liberation Sans", sans-serif' font-size="58" font-weight="normal" text-anchor="end" fill="#000" textLength="131.9" lengthAdjust="spacing" stroke="#000" stroke-width="0.7">0.05</text>
<line x1="1320.3" y1="2424.25" x2="1330.3" y2="2424.25" stroke="#333" stroke-width="2.6"/>
<line x1="1320.3" y1="2528.5" x2="1330.3" y2="2528.5" stroke="#333" stroke-width="2.6"/>
<text transform="translate(1318.5,2557.5) scale(0.955,1)" font-family='"DejaVu Sans", "Liberation Sans", sans-serif' font-size="58" font-weight="normal" text-anchor="end" fill="#000" textLength="131.9" lengthAdjust="spacing" stroke="#000" stroke-width="0.7">0.00</text>
<line x1="1360.4" y1="2522.5" x2="1360.4" y2="2534.5" stroke="#333" stroke-width="2.6"/>
<line x1="1598.6" y1="2525.0" x2="1598.6" y2="2532.0" stroke="#333" stroke-width="2.6"/>
<line x1="1737.9" y1="2525.0" x2="1737.9" y2="2532.0" stroke="#333" stroke-width="2.6"/>
<line x1="1836.8" y1="2525.0" x2="1836.8" y2="2532.0" stroke="#333" stroke-width="2.6"/>
<line x1="1913.5" y1="2525.0" x2="1913.5" y2="2532.0" stroke="#333" stroke-width="2.6"/>
<line x1="1976.2" y1="2525.0" x2="1976.2" y2="2532.0" stroke="#333" stroke-width="2.6"/>
<line x1="2029.1" y1="2525.0" x2="2029.1" y2="2532.0" stroke="#333" stroke-width="2.6"/>
<line x1="2075.0" y1="2525.0" x2="2075.0" y2="2532.0" stroke="#333" stroke-width="2.6"/>
<line x1="2115.5" y1="2525.0" x2="2115.5" y2="2532.0" stroke="#333" stroke-width="2.6"/>
<line x1="2151.7" y1="2522.5" x2="2151.7" y2="2534.5" stroke="#333" stroke-width="2.6"/>
<text transform="translate(1360.4,2624.5) scale(0.955,1)" font-family='"DejaVu Sans", "Liberation Sans", sans-serif' font-size="58" font-weight="normal" text-anchor="middle" fill="#000" stroke="#000" stroke-width="0.7">1</text>
<text transform="translate(2153.7,2624.5) scale(0.955,1)" font-family='"DejaVu Sans", "Liberation Sans", sans-serif' font-size="58" font-weight="normal" text-anchor="middle" fill="#000" textLength="71.7" lengthAdjust="spacing" stroke="#000" stroke-width="0.7">10</text>
<polyline fill="none" stroke="#ff0000" stroke-width="5.8" stroke-linejoin="round" points="1345.4,2434.8 1478.3,2479.6 1523.6,2440.8 1568.3,2456.8 1616.3,2423.4 1656,2383 1704,2438 1747,2327 1796,2278 1883,2126 1929,2139 1972,2075 2016.5,2025.7 2063,2132.7 2105.7,2184 2151.7,2474.6 2196.5,2456"/>
<circle cx="1345.4" cy="2434.8" r="6.5" fill="#000"/>
<text x="1396" y="1961" font-family='"Liberation Serif", "DejaVu Serif", serif' font-size="63.5" font-weight="bold" text-anchor="start" fill="#000" textLength="63" lengthAdjust="spacingAndGlyphs">d)</text>
<text transform="translate(1136,2430) rotate(-90) scale(0.955,1)" font-family='"DejaVu Sans", "Liberation Sans", sans-serif' font-size="71" textLength="451.3" lengthAdjust="spacing" stroke="#000" stroke-width="0.7">Area Fraction</text>
<clipPath id="clipd"><rect x="1200" y="2600" width="1115.5" height="169"/></clipPath>
<g clip-path="url(#clipd)"><text transform="translate(1286,2752.6) scale(0.955,1)" font-family='"DejaVu Sans", "Liberation Sans", sans-serif' font-size="69.5" font-weight="normal" text-anchor="start" fill="#000" textLength="1082.7" lengthAdjust="spacing" stroke="#000" stroke-width="0.7">Grain Size (Diameter) [microns]</text></g>
<line x1="753" y1="2854.5" x2="753" y2="3463.4" stroke="#333" stroke-width="2.6"/>
<line x1="747" y1="3457.4" x2="1675.5" y2="3457.4" stroke="#333" stroke-width="2.6"/>
<line x1="748" y1="3457.4" x2="758" y2="3457.4" stroke="#333" stroke-width="2.6"/>
<text transform="translate(745.5,3489.4) scale(0.955,1)" font-family='"DejaVu Sans", "Liberation Sans", sans-serif' font-size="62" font-weight="normal" text-anchor="end" fill="#000" textLength="96.3" lengthAdjust="spacing" stroke="#000" stroke-width="0.7">0.0</text>
<line x1="748" y1="3382.1" x2="758" y2="3382.1" stroke="#333" stroke-width="2.6"/>
<line x1="748" y1="3306.8" x2="758" y2="3306.8" stroke="#333" stroke-width="2.6"/>
<text transform="translate(745.5,3338.8) scale(0.955,1)" font-family='"DejaVu Sans", "Liberation Sans", sans-serif' font-size="62" font-weight="normal" text-anchor="end" fill="#000" textLength="96.3" lengthAdjust="spacing" stroke="#000" stroke-width="0.7">0.1</text>
<line x1="748" y1="3231.5" x2="758" y2="3231.5" stroke="#333" stroke-width="2.6"/>
<line x1="748" y1="3156.2" x2="758" y2="3156.2" stroke="#333" stroke-width="2.6"/>
<text transform="translate(745.5,3188.2000000000003) scale(0.955,1)" font-family='"DejaVu Sans", "Liberation Sans", sans-serif' font-size="62" font-weight="normal" text-anchor="end" fill="#000" textLength="96.3" lengthAdjust="spacing" stroke="#000" stroke-width="0.7">0.2</text>
<line x1="748" y1="3080.9" x2="758" y2="3080.9" stroke="#333" stroke-width="2.6"/>
<line x1="748" y1="3005.6" x2="758" y2="3005.6" stroke="#333" stroke-width="2.6"/>
<text transform="translate(745.5,3037.6) scale(0.955,1)" font-family='"DejaVu Sans", "Liberation Sans", sans-serif' font-size="62" font-weight="normal" text-anchor="end" fill="#000" textLength="96.3" lengthAdjust="spacing" stroke="#000" stroke-width="0.7">0.3</text>
<line x1="748" y1="2930.3" x2="758" y2="2930.3" stroke="#333" stroke-width="2.6"/>
<line x1="748" y1="2855.0" x2="758" y2="2855.0" stroke="#333" stroke-width="2.6"/>
<text transform="translate(745.5,2887.0) scale(0.955,1)" font-family='"DejaVu Sans", "Liberation Sans", sans-serif' font-size="62" font-weight="normal" text-anchor="end" fill="#000" textLength="96.3" lengthAdjust="spacing" stroke="#000" stroke-width="0.7">0.4</text>
<line x1="836.5" y1="3453.9" x2="836.5" y2="3460.9" stroke="#333" stroke-width="2.6"/>
<line x1="929.6" y1="3452.4" x2="929.6" y2="3462.4" stroke="#333" stroke-width="2.6"/>
<text transform="translate(928.6,3562.4) scale(0.955,1)" font-family='"DejaVu Sans", "Liberation Sans", sans-serif' font-size="62" font-weight="normal" text-anchor="middle" fill="#000" textLength="77.0" lengthAdjust="spacing" stroke="#000" stroke-width="0.7">20</text>
<line x1="1022.7" y1="3453.9" x2="1022.7" y2="3460.9" stroke="#333" stroke-width="2.6"/>
<line x1="1115.8" y1="3452.4" x2="1115.8" y2="3462.4" stroke="#333" stroke-width="2.6"/>
<text transform="translate(1114.8,3562.4) scale(0.955,1)" font-family='"DejaVu Sans", "Liberation Sans", sans-serif' font-size="62" font-weight="normal" text-anchor="middle" fill="#000" textLength="77.0" lengthAdjust="spacing" stroke="#000" stroke-width="0.7">40</text>
<line x1="1208.9" y1="3453.9" x2="1208.9" y2="3460.9" stroke="#333" stroke-width="2.6"/>
<line x1="1302.0" y1="3452.4" x2="1302.0" y2="3462.4" stroke="#333" stroke-width="2.6"/>
<text transform="translate(1301.0,3562.4) scale(0.955,1)" font-family='"DejaVu Sans", "Liberation Sans", sans-serif' font-size="62" font-weight="normal" text-anchor="middle" fill="#000" textLength="77.0" lengthAdjust="spacing" stroke="#000" stroke-width="0.7">60</text>
<line x1="1395.1" y1="3453.9" x2="1395.1" y2="3460.9" stroke="#333" stroke-width="2.6"/>
<line x1="1488.2" y1="3452.4" x2="1488.2" y2="3462.4" stroke="#333" stroke-width="2.6"/>
<text transform="translate(1487.2,3562.4) scale(0.955,1)" font-family='"DejaVu Sans", "Liberation Sans", sans-serif' font-size="62" font-weight="normal" text-anchor="middle" fill="#000" textLength="77.0" lengthAdjust="spacing" stroke="#000" stroke-width="0.7">80</text>
<line x1="1581.3" y1="3453.9" x2="1581.3" y2="3460.9" stroke="#333" stroke-width="2.6"/>
<line x1="1674.4" y1="3452.4" x2="1674.4" y2="3462.4" stroke="#333" stroke-width="2.6"/>
<text transform="translate(1673.4,3562.4) scale(0.955,1)" font-family='"DejaVu Sans", "Liberation Sans", sans-serif' font-size="62" font-weight="normal" text-anchor="middle" fill="#000" textLength="111.0" lengthAdjust="spacing" stroke="#000" stroke-width="0.7">100</text>
<rect x="771.5" y="2965.3" width="45.0" height="492.1" fill="#ff0000" stroke="#5a0000" stroke-width="1.6"/>
<rect x="856" y="3439" width="41" height="18.4" fill="#ff0000" stroke="#5a0000" stroke-width="1.6"/>
<rect x="939.5" y="3427" width="41.5" height="30.4" fill="#ff0000" stroke="#5a0000" stroke-width="1.6"/>
<rect x="1023.5" y="3378.7" width="41.5" height="78.7" fill="#ff0000" stroke="#5a0000" stroke-width="1.6"/>
<rect x="1106" y="3231" width="43" height="226.4" fill="#ff0000" stroke="#5a0000" stroke-width="1.6"/>
<rect x="1189" y="3321" width="42.6" height="136.4" fill="#ff0000" stroke="#5a0000" stroke-width="1.6"/>
<rect x="1273" y="3305" width="41.7" height="152.4" fill="#ff0000" stroke="#5a0000" stroke-width="1.6"/>
<rect x="1356.5" y="3401" width="42.5" height="56.4" fill="#ff0000" stroke="#5a0000" stroke-width="1.6"/>
<rect x="1438" y="3441.4" width="45" height="16.0" fill="#ff0000" stroke="#5a0000" stroke-width="1.6"/>
<rect x="1522.6" y="3167.4" width="43.4" height="290.0" fill="#ff0000" stroke="#5a0000" stroke-width="1.6"/>
<rect x="1605" y="3451.8" width="43" height="5.6" fill="#ff0000" stroke="#5a0000" stroke-width="1.6"/>
<text x="854" y="2900" font-family='"Liberation Serif", "DejaVu Serif", serif' font-size="63.5" font-weight="bold" text-anchor="start" fill="#000" textLength="56" lengthAdjust="spacingAndGlyphs">e)</text>
<text transform="translate(601.5,3399) rotate(-90) scale(0.955,1)" font-family='"DejaVu Sans", "Liberation Sans", sans-serif' font-size="65" textLength="513.1" lengthAdjust="spacing" stroke="#000" stroke-width="0.7">Number Fraction</text>
<text transform="translate(765.5,3679) scale(0.955,1)" font-family='"DejaVu Sans", "Liberation Sans", sans-serif' font-size="63" font-weight="normal" text-anchor="start" fill="#000" textLength="931.9" lengthAdjust="spacing" stroke="#000" stroke-width="0.7">Misorientation Angle [degrees]</text>
</svg>
</body></html>
